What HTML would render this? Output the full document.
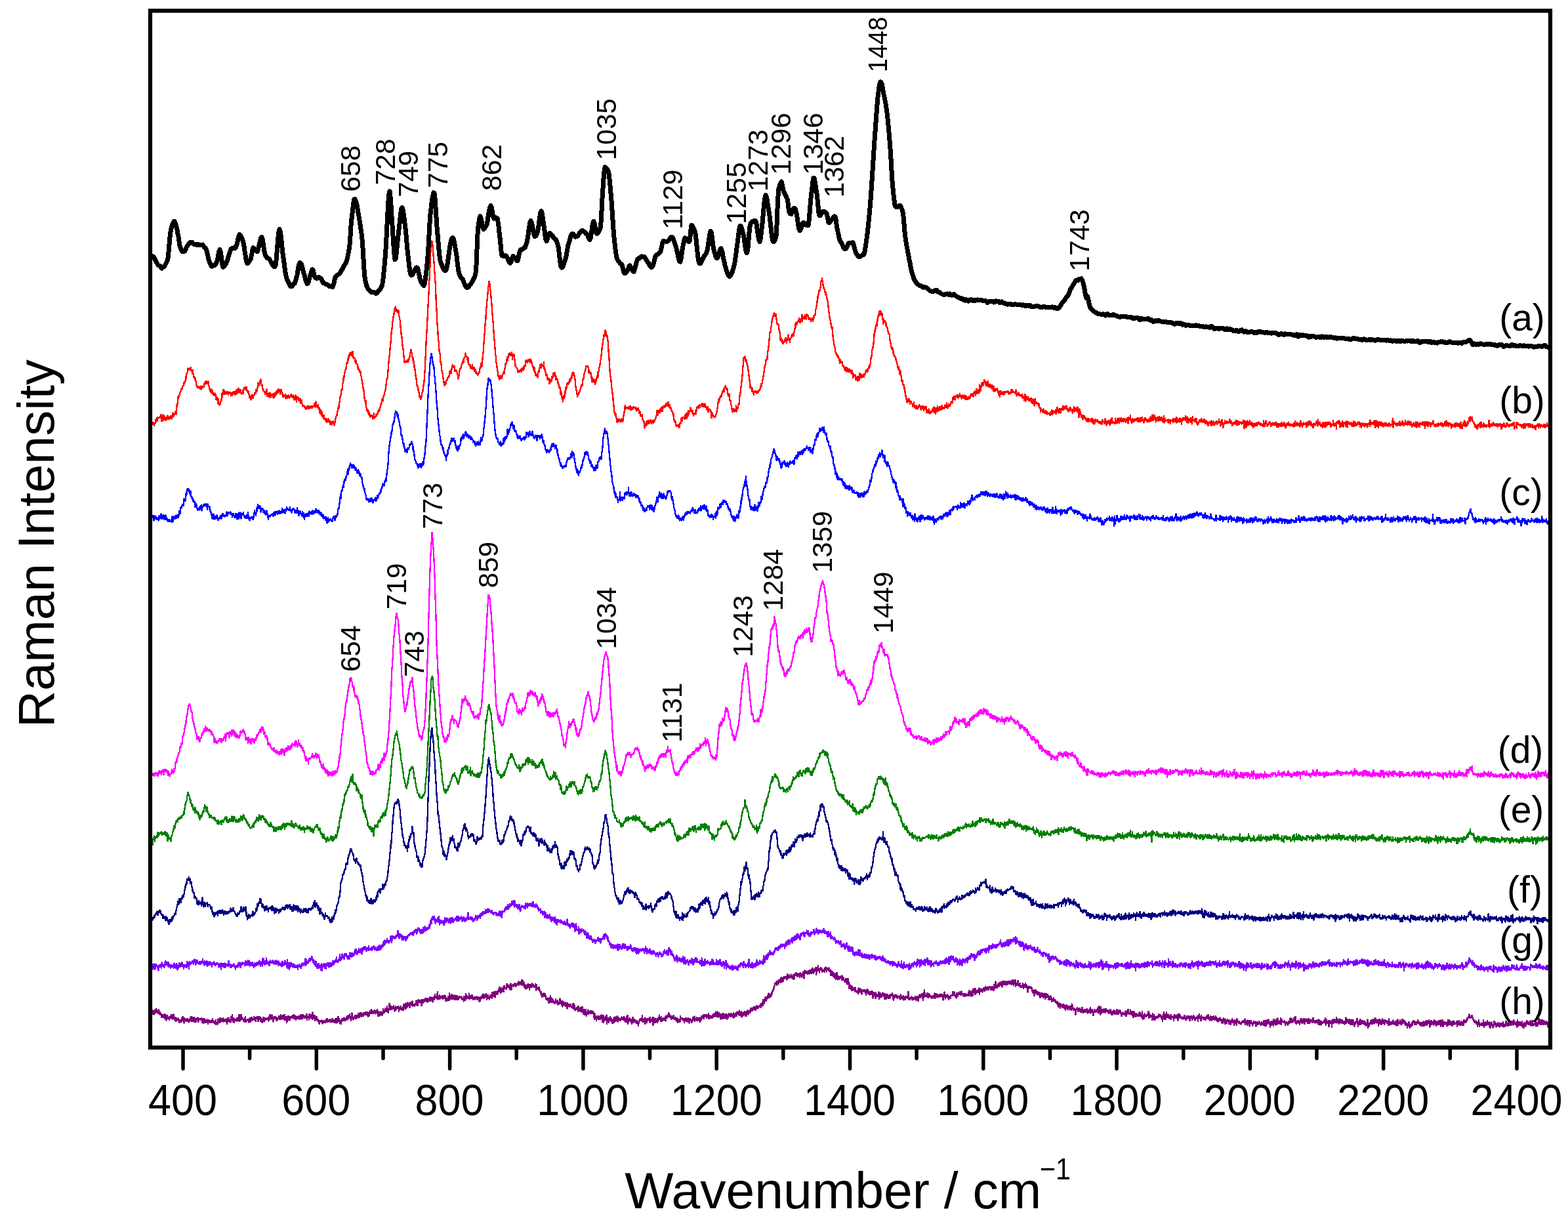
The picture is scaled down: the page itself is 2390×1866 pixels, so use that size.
<!DOCTYPE html><html><head><meta charset="utf-8"><title>Raman spectra</title><style>html,body{margin:0;padding:0;background:#fff;}svg{display:block;}text{font-family:"Liberation Sans",Arial,sans-serif;fill:#000;}</style></head><body>
<svg width="2390" height="1866" viewBox="0 0 2390 1866">
<rect x="0" y="0" width="2390" height="1866" fill="#fff"/>
<path d="M229.0 1541.9l.5 .8 .5-1.2 .5-1.3 .5 1.1 .5-1.2 .5 1.3 .5 4.4 .5-4.4 .5-.3 .5 2.6 .5 2.6 .5-3.5 .5-2.5 .5 2.2 .5 1.8 .5-4.9 .5 2.3 .5-3.4 .5 1.7 .5-1.2 .5 4.1 .5-2.3 .5 4 .5 0 .5-.5 .5-5.3 .5 5.2 .5 1.5 .5 .8 .5-3.5 .5 2.9 .5-.8 .5 .8 .5 4.8 .5-4.1 .5 2.1 .5 2.4 .5-3.3 .5 1.3 .5 .7 .5 0 .5-2.9 .5 3.2 .5 3.2 .5-6.9 .5 5.9 .5-1.6 .5-1.6 .5 6.5 .5-2.8 .5-4.5 .5 3.2 .5 1.4 .5-1.1 .5 1.6 .5-1.8 .5 1.8 .5 1.8 .5-5.1 .5 2.1 .5-1.7 .5 1.3 .5-3.2 .5 1.4 .5-2.6 .5 6 .5 .5 .5-5.9 .5 1.3 .5 3.5 .5-6.2 .5 3.8 .5 1 .5 3.5 .5-1.2 .5-2.1 .5 .2 .5 .6 .5 4.6 .5-4.2 .5 .7 .5 1.9 .5-.8 .5 .2 .5-2 .5 2.9 .5-.9 .5 4.1 .5-1.2 .5-1.6 .5 1.6 .5-2.4 .5 3.2 .5-2.7 .5 1.2 .5-4.7 .5 3.8 .5-5.1 .5-1 .5 3.9 .5-1.6 .5 2.5 .5 4.9 .5-7.4 .5 .5 .5 2.2 .5 .9 .5-1.4 .5 .2 .5 2.5 .5-.2 .5-3.5 .5 2.4 .5 .4 .5-2.5 .5 3.1 .5-2.7 .5 4.4 .5-2 .5-.4 .5-1.8 .5 1 .5-4.7 .5 1.9 .5 3.5 .5-6.1 .5 7.1 .5-6.3 .5 5.9 .5-3.9 .5 3.9 .5-1.6 .5-4 .5 6.7 .5 .5 .5-3.6 .5-.4 .5 .3 .5-1.9 .5 5 .5-3.9 .5 1.1 .5-1.8 .5 .4 .5-1.6 .5 6 .5-3.5 .5 2.7 .5-3.4 .5-.6 .5 .9 .5-.5 .5 1.5 .5-.7 .5 .3 .5-2.4 .5 1.6 .5 5.2 .5-3.1 .5-2.1 .5 3.6 .5 2.7 .5-6.7 .5 3.2 .5-.9 .5-2.6 .5 6.1 .5-1.8 .5 .3 .5-1.9 .5 2.9 .5-.4 .5-1 .5-2.3 .5-.2 .5 6.1 .5-4.4 .5-1.2 .5 2.2 .5-1.1 .5-.3 .5 2.6 .5-2.4 .5 .1 .5 .3 .5 2.6 .5-1.3 .5-.7 .5-2.3 .5-1.9 .5 5.7 .5 .3 .5-2.5 .5 1.9 .5 .9 .5 .3 .5 .4 .5-3.1 .5 4.8 .5-6.6 .5 5.1 .5-.9 .5 .8 .5 2.3 .5-1.1 .5-6.5 .5-1.4 .5 5.9 .5-4.4 .5 2.3 .5 2 .5-6 .5-1.1 .5 5.7 .5-.6 .5-.8 .5 .6 .5-2.3 .5-1.7 .5 3.1 .5-2 .5-1.8 .5 5.1 .5-1.4 .5 1.2 .5-3.3 .5 .8 .5-.8 .5 .3 .5 2.6 .5-2.4 .5 2.7 .5-.1 .5 4 .5-8.3 .5 5.3 .5-2.4 .5 .1 .5-3.5 .5 2.4 .5 2.9 .5-2 .5 .4 .5-.9 .5 3.4 .5-2.9 .5-5.3 .5 3.5 .5-3.1 .5-3.3 .5 6.5 .5 4.3 .5-3.2 .5-3 .5 .5 .5 7 .5-4.5 .5-.4 .5-.2 .5 .2 .5 1.9 .5-.6 .5-.9 .5-3 .5 3.6 .5-3 .5 4.1 .5-5.8 .5 2.5 .5 .1 .5-6.1 .5 10.1 .5-.6 .5-4.7 .5 3 .5-.8 .5-7.1 .5 7 .5-.6 .5 .4 .5-2.7 .5 2 .5 .3 .5 3.2 .5-2 .5-.9 .5 3.7 .5-5 .5 .5 .5-3.3 .5 8.2 .5-1.3 .5 0 .5-.4 .5-1.3 .5 .4 .5-1.1 .5 .1 .5 .6 .5 3.5 .5-2.5 .5-1.6 .5-1.4 .5-.3 .5 5.2 .5-.3 .5-3.6 .5-1 .5-1.8 .5 2.5 .5 2.2 .5-3 .5 .5 .5 0 .5 .8 .5-4.1 .5 3.2 .5-1.6 .5 4 .5-4.2 .5 3 .5 2.1 .5-4.7 .5-.8 .5 1.7 .5-.5 .5-2.4 .5 3.4 .5 3.8 .5-5.3 .5 .2 .5-1.8 .5 3.4 .5-3.5 .5 .5 .5 6 .5-5.1 .5 4.9 .5 1.2 .5-2.8 .5 .7 .5 3.5 .5-5.2 .5-.9 .5-1.9 .5 3.4 .5 3.4 .5-1.3 .5-4.6 .5 .1 .5 .8 .5 1.8 .5-1.4 .5 .9 .5 0 .5-1.6 .5 .4 .5 .4 .5-.9 .5 1.2 .5 3 .5-3.3 .5-1.4 .5-4.3 .5 4.9 .5-5.6 .5 1.3 .5 5.4 .5-.3 .5-2 .5-3.6 .5 3.3 .5-.6 .5 3.3 .5 4 .5-4.7 .5-2.3 .5-.8 .5 2.8 .5-.2 .5-2.3 .5 3.2 .5-3 .5 5.5 .5 0 .5 .1 .5-3.7 .5 2.4 .5-1.7 .5-.7 .5 0 .5-2.5 .5-.5 .5 5.1 .5-2.6 .5-1.3 .5 3.8 .5-6.7 .5 2.1 .5 2.2 .5 .5 .5-1.9 .5 3.3 .5-5.2 .5-.1 .5 .8 .5 4.3 .5-.7 .5-5.6 .5 8 .5-1.7 .5 1.9 .5-4 .5 .3 .5-1.9 .5 8.9 .5-6.5 .5 4.3 .5-5.3 .5 2 .5-4.4 .5 3.1 .5 3.3 .5-5.3 .5 5.5 .5-1.8 .5-3.5 .5 1.2 .5-.1 .5 .8 .5-1.5 .5-.9 .5 1 .5-1.9 .5-.8 .5 2.9 .5 2.2 .5-5.8 .5 3.7 .5-1.5 .5-.6 .5 4.5 .5-3.2 .5 4.9 .5-5.4 .5 2.9 .5-1.4 .5-1.2 .5 3.2 .5-1.8 .5 1.8 .5-1.6 .5-2.5 .5 2.2 .5 2.5 .5-.1 .5-4.5 .5 2 .5-4.1 .5 5.6 .5-4.3 .5 .8 .5 1.5 .5 2.8 .5-6.4 .5 1 .5 .9 .5-.9 .5 3.7 .5-2.8 .5 .2 .5 3.2 .5-3.2 .5 2.8 .5-3.4 .5-.7 .5-1.6 .5 8.7 .5-5.3 .5 1.2 .5-.9 .5 .4 .5-.4 .5 4.5 .5-7.1 .5-1.2 .5 1.3 .5-.7 .5 5.1 .5 .2 .5-4.3 .5-.9 .5 2.5 .5 4.2 .5-10 .5 8.2 .5-3.7 .5 5.3 .5-4.8 .5 2.2 .5-2.6 .5 1.7 .5 6 .5-.9 .5-2.5 .5-.6 .5-2 .5 4 .5 1.4 .5 .4 .5 .4 .5-2 .5 2.9 .5 .4 .5 3.3 .5-.2 .5-3 .5-1.4 .5 1.7 .5-1.3 .5-.3 .5 1.6 .5-2.4 .5 4.1 .5 1.3 .5-2.1 .5-.9 .5-1.2 .5 2.5 .5-1.1 .5-.7 .5 1.9 .5-.6 .5-3.3 .5 3.3 .5-3.5 .5 1.6 .5 .6 .5-4.4 .5 5.1 .5 0 .5-.8 .5-.8 .5 .1 .5-1.5 .5 1.7 .5-.7 .5 1.5 .5-3.2 .5 3.4 .5-.2 .5-2.2 .5 .7 .5 2.3 .5-5.3 .5 5.1 .5-.5 .5 .1 .5 .3 .5-2.5 .5 1 .5 2.1 .5-.5 .5-.6 .5-4.3 .5 4.8 .5 1.4 .5-.5 .5-2 .5-4.4 .5 5.9 .5-2.7 .5-5.7 .5 7.1 .5-4.4 .5 .6 .5 1.8 .5 4.7 .5-3.9 .5 1.6 .5 3.5 .5-.4 .5-4.3 .5-.6 .5-2.8 .5 .9 .5 2.3 .5-.5 .5-1.1 .5 1.8 .5-4.5 .5 1.5 .5 1.8 .5-.3 .5 1.2 .5-1.6 .5-1.7 .5 1.6 .5-3.4 .5-1.7 .5 5.2 .5-1.7 .5 .8 .5-5 .5 3 .5-.7 .5-.8 .5-3.5 .5 4.5 .5 2.9 .5-1.4 .5 3.2 .5-4.4 .5 1.8 .5-8.6 .5 6.3 .5 1.4 .5 .2 .5 2.2 .5-1.6 .5-2.2 .5-.2 .5 .9 .5-3.5 .5 .9 .5 2 .5 2.3 .5-5.3 .5 .1 .5 .5 .5 2.6 .5-3.3 .5 3.7 .5-5.8 .5 1.9 .5 0 .5 2.3 .5 .6 .5-6.1 .5 1.3 .5 2.9 .5-2.5 .5-2.2 .5 6 .5-1.4 .5-.2 .5-2.4 .5 3.5 .5-3.2 .5 3.1 .5-5.1 .5 0 .5 2.2 .5-2.3 .5 3.1 .5-1.2 .5-3 .5 2.3 .5-1.2 .5 2.9 .5-3.8 .5 .4 .5 3.9 .5 2.4 .5-.6 .5-4.8 .5 .3 .5 3 .5-4.1 .5-2.2 .5 2.5 .5 .7 .5-3.2 .5-2.1 .5 .4 .5 4.9 .5-2.7 .5 .7 .5 .8 .5 1 .5-2.4 .5 2 .5-3.4 .5 1.3 .5-1.6 .5 5.1 .5-2.8 .5-1.7 .5 .9 .5 .4 .5 2.3 .5-5.4 .5 1.4 .5 1.6 .5 7.1 .5-3.7 .5-2.5 .5 2 .5 3.3 .5-5.4 .5-.2 .5 3.8 .5-1.7 .5 .4 .5-2.8 .5 5.9 .5-.6 .5-2.8 .5 .2 .5-6.6 .5 6.2 .5-2.2 .5 1.2 .5 .3 .5-2.8 .5-3.6 .5 4.5 .5-3 .5 .6 .5-.9 .5 .3 .5-5 .5 8.3 .5-2.5 .5 1.9 .5 2 .5-4.8 .5-4.5 .5-4.5 .5 5.8 .5 1.7 .5 1.3 .5-5.1 .5 5.5 .5-4.5 .5 4.2 .5-1.2 .5-.6 .5 .4 .5-1.4 .5-.3 .5-2.8 .5 3.8 .5 4.3 .5 .2 .5-1.7 .5-1.6 .5-3.4 .5 5 .5-3.6 .5 0 .5-.5 .5 1 .5-1.2 .5 .8 .5-2.3 .5 1.8 .5 6.4 .5-5.5 .5-.4 .5 1.9 .5 .5 .5-4.4 .5 2.2 .5 2.7 .5-1.7 .5-.4 .5 3.3 .5-3.6 .5-.2 .5-1.6 .5 4.7 .5-8.4 .5 2.9 .5 .2 .5 2.7 .5-.2 .5 1.7 .5-9 .5 7.1 .5-2.7 .5-1.2 .5 2.7 .5-3.8 .5-3 .5 3.8 .5-2.9 .5 1.8 .5 2.2 .5-.3 .5 2.9 .5-4.5 .5-3.4 .5 1.7 .5-.5 .5-.8 .5 3.8 .5-2.6 .5-3.3 .5 7.7 .5-3.2 .5 1.1 .5-.6 .5 1.3 .5-1.4 .5 2.8 .5-2 .5-.1 .5-.1 .5-4.7 .5-1.8 .5 4.1 .5 .8 .5-4.1 .5 6.8 .5-4 .5-3.6 .5-1.5 .5 3.1 .5 .1 .5 1.6 .5-1.6 .5-1.9 .5 2.7 .5-3.1 .5 1.6 .5 6.5 .5-.2 .5-8.6 .5 1.4 .5-.8 .5 4 .5-4.6 .5 1.7 .5 1.2 .5-2.2 .5 0 .5 1.2 .5-4 .5 1.5 .5 2.3 .5 1.2 .5-1.1 .5-4 .5 2.8 .5 2.8 .5-1 .5-1.8 .5-2.4 .5 3.3 .5-3.4 .5-1.8 .5 .5 .5 5.1 .5-3.3 .5 2 .5-4.1 .5 3.3 .5 1.5 .5-4.3 .5 6.4 .5-4.1 .5-3.1 .5 1 .5 .9 .5 1.9 .5-4.3 .5-3.3 .5 3.2 .5 .4 .5-.2 .5 2.5 .5-2.7 .5 .9 .5-4.7 .5-3.6 .5 11.1 .5-3.1 .5-1.2 .5 0 .5 4.1 .5-6.2 .5 2.2 .5 1.7 .5 1 .5-2.6 .5 2.1 .5-1.3 .5 1.1 .5-.6 .5-2.5 .5 2.6 .5 2.1 .5-2.9 .5-.1 .5 2.1 .5-4.3 .5 3.1 .5-2.9 .5 5.4 .5 3 .5-.4 .5-4.1 .5 1.6 .5-1.3 .5 .1 .5 3.6 .5-6.8 .5 5.6 .5-2.7 .5 3.3 .5-11.4 .5 6.2 .5 2.1 .5 1.1 .5-1.8 .5 1 .5-2.4 .5-3.9 .5 7.2 .5-.5 .5-1.4 .5-.2 .5 2.2 .5-5.6 .5 1.4 .5 1.2 .5 3.4 .5-6.2 .5 6.3 .5-4.3 .5-1.1 .5 5.7 .5-3.2 .5-2.9 .5 2.3 .5 3.1 .5 .6 .5-4 .5 2 .5 .7 .5-3.3 .5 2.3 .5-.9 .5-1.3 .5 .2 .5 1.3 .5 0 .5-1.3 .5 .3 .5 3.8 .5-2.1 .5 1.4 .5 .9 .5-1.5 .5 3.9 .5-7.6 .5 3.7 .5-3 .5 5 .5-.5 .5-8.9 .5 2.3 .5 3.9 .5 .3 .5-.1 .5-2 .5 1.3 .5 .5 .5-1.7 .5 2.8 .5-7.8 .5 7.1 .5-3.9 .5 5 .5-2.8 .5-1.4 .5 3.1 .5-3 .5 .1 .5-1.6 .5 3.7 .5 1.3 .5 1.2 .5-2.9 .5 2.8 .5-2.4 .5-.3 .5 1.6 .5 1.3 .5-3.3 .5 .4 .5 .3 .5 .8 .5-2.3 .5 4.8 .5-3.3 .5 2.1 .5-3 .5 2.8 .5 .1 .5-2 .5 5.7 .5 .1 .5-.8 .5-2 .5-4 .5 .6 .5 2 .5-1 .5-2.3 .5 1.4 .5-3.8 .5 3.7 .5-4.9 .5 6.1 .5-2.7 .5-.1 .5 1.1 .5 1.1 .5-4.2 .5-.9 .5 1.6 .5-2.4 .5 2.6 .5 6.1 .5-6.3 .5 4.2 .5-4.9 .5 4 .5-1.5 .5 .6 .5 1.4 .5 2.7 .5-3.9 .5-.4 .5-2.8 .5 3.5 .5-2.2 .5 2.3 .5-2.3 .5 3.9 .5-9.2 .5 3.7 .5 2.5 .5-3.4 .5-1.4 .5 .9 .5-3.1 .5 3.3 .5 5.2 .5-3.4 .5-5.6 .5 .3 .5 .8 .5 3.1 .5-4.6 .5 0 .5 4.1 .5-1.1 .5-3.4 .5-2.2 .5-1.4 .5 1.6 .5-4 .5 6.9 .5-3.6 .5 2.4 .5 3.2 .5-1.9 .5-5.6 .5 4.8 .5 .6 .5-4.7 .5-.6 .5 1.9 .5-3.8 .5 7.1 .5-8.5 .5 1.8 .5 1.6 .5-.2 .5 .6 .5-.1 .5-1.5 .5 3 .5-8.2 .5 4.9 .5-2 .5 1.8 .5 0 .5-3 .5 .5 .5 3.2 .5-1.2 .5-2.6 .5 6.3 .5 .5 .5-9.2 .5 4.2 .5 5.2 .5-4.2 .5-1.4 .5-1 .5-.8 .5 .8 .5-.8 .5 3 .5-2.8 .5-.2 .5-2 .5 2.6 .5-2.2 .5 1.4 .5 2.7 .5-1.9 .5 0 .5-.7 .5-1.1 .5-.7 .5-.7 .5 2.3 .5-4.5 .5 5.7 .5-3.2 .5-2 .5 .6 .5-.5 .5 2.1 .5-2.1 .5 4.5 .5-5.4 .5-2.4 .5 3.9 .5-2.9 .5 5 .5 2.9 .5-.7 .5-4.5 .5 1.6 .5 6.3 .5-3.3 .5-.6 .5 2.7 .5 3.5 .5-2.6 .5-2.6 .5 .7 .5 3.4 .5-5.4 .5-.9 .5 2.7 .5-2.3 .5 2.2 .5 .4 .5 5.4 .5-7.6 .5 1.7 .5-.1 .5 1.4 .5 1.4 .5-3.8 .5-.8 .5-2 .5 1.8 .5 3.6 .5-1.1 .5-2.4 .5 1.8 .5 1.2 .5 1.4 .5-2.3 .5 1.1 .5-3.4 .5 2 .5 7.1 .5-8.8 .5 4.9 .5 1.7 .5-1 .5-.6 .5 2.2 .5 .5 .5 .3 .5-3.9 .5 4.7 .5-1.2 .5 1.2 .5 2.4 .5 1.5 .5 1.2 .5-2.7 .5 4 .5 3.9 .5-2.3 .5 1.1 .5-3.1 .5 .4 .5 2.9 .5-4.7 .5 4.2 .5-1.2 .5 .9 .5-2.7 .5 2.6 .5 2.6 .5 2.8 .5 .7 .5-2 .5 .2 .5-1.1 .5 3.5 .5-1.2 .5 2.4 .5 3 .5-4.1 .5-3.4 .5 1.6 .5-1.5 .5-3.1 .5 9.6 .5-2.6 .5-4.2 .5 5.2 .5 1.6 .5-3.8 .5-.6 .5 1 .5 1.7 .5 1 .5 1.5 .5 .3 .5 .2 .5 .6 .5-1.5 .5-5.1 .5 3.5 .5 1.2 .5-1.5 .5 3.2 .5-3 .5-1.3 .5 5.8 .5-1.8 .5-1 .5 1.8 .5 .4 .5-1.7 .5-6.7 .5 4.4 .5 .6 .5-1.1 .5 3 .5 2.6 .5-3.8 .5-1.4 .5 7.8 .5-5.7 .5-1.7 .5 3.7 .5 .6 .5-2.6 .5 3.6 .5-3 .5-1 .5 5.9 .5-1.8 .5-3.3 .5 2.4 .5-.9 .5 7.1 .5-8.3 .5 5.1 .5-3.3 .5-.1 .5 2.2 .5 .6 .5 1.1 .5-4.1 .5-.2 .5 .3 .5 2.7 .5 .2 .5 2.1 .5-2.2 .5 1.7 .5 1.3 .5-3 .5-3.7 .5 1.1 .5-.3 .5 7.6 .5-5.5 .5 5.4 .5-1.1 .5 3.1 .5-1.4 .5-2.3 .5 0 .5 .9 .5 .4 .5-1.5 .5 1.4 .5 4 .5-7.8 .5 4.8 .5-2.6 .5 2.8 .5 1.7 .5-1.9 .5 2.2 .5-5.4 .5 6.8 .5-3.9 .5 3.3 .5-.7 .5-6.3 .5 4.7 .5 2.6 .5 3.5 .5-2.8 .5 .1 .5-3.8 .5 6.9 .5 1 .5-4.2 .5-.5 .5-3.4 .5 6 .5 4.3 .5-4.8 .5 1.3 .5-1.8 .5-3.7 .5 5.6 .5-6.1 .5 2.5 .5 1.3 .5 1.6 .5-1 .5 .2 .5-2.5 .5-1 .5 3.6 .5-1.5 .5-1.7 .5 1.1 .5 2.3 .5-2.8 .5 1.7 .5-.3 .5 4.9 .5 1 .5 4.4 .5-7.9 .5 2.5 .5 4.3 .5-2.2 .5 .1 .5 5.3 .5-4.6 .5-1.7 .5-.2 .5 4.1 .5 0 .5-4 .5 .9 .5 3.6 .5 0 .5-3 .5 3 .5-.2 .5-5.7 .5 3.5 .5 1.8 .5-2.2 .5-3.6 .5 4.6 .5 5.9 .5-1.1 .5-9 .5 11.6 .5-8.9 .5 5 .5 .7 .5-.6 .5-2 .5-3.1 .5 4.4 .5-3.1 .5-4.2 .5 12.9 .5-4.9 .5 2.8 .5-6.3 .5 5.9 .5 .5 .5 .1 .5-3.6 .5-2.7 .5 3 .5-5.2 .5 1.3 .5 4.3 .5-2.6 .5 1.9 .5 .1 .5 4.9 .5-1.7 .5-3.4 .5 4.6 .5-6.7 .5 .9 .5 5 .5-7.7 .5 2.1 .5-2.7 .5 3.2 .5 3.4 .5-5.9 .5 2.2 .5-2.9 .5-.7 .5-.2 .5 6.4 .5 2.3 .5-4.3 .5-2.7 .5 3.7 .5-2.2 .5 3 .5-.9 .5 .1 .5 1 .5-2.7 .5 .5 .5-3.2 .5 3 .5-2.4 .5 2.9 .5-2.1 .5 2.3 .5 .7 .5-4.6 .5 3.1 .5-2.2 .5 4.1 .5 2.3 .5-2 .5-2.7 .5 4.5 .5-7 .5 7.5 .5-5 .5-4.8 .5 13.2 .5-2.3 .5-6.1 .5 3 .5-.9 .5 .9 .5-3.8 .5 2 .5 2.7 .5-.5 .5 2.3 .5-2.7 .5 5.4 .5-7.4 .5 2.4 .5-5.2 .5 1.7 .5 6.3 .5-5.3 .5 3.7 .5-1.2 .5-2.1 .5 2 .5-.1 .5 .3 .5 3.3 .5-.1 .5-2.8 .5-.8 .5 2.8 .5-1.1 .5 2.5 .5 3.5 .5-6 .5-1.1 .5-.7 .5-2.1 .5-.4 .5-.6 .5 1.1 .5-.3 .5 2.5 .5-3 .5 .2 .5-5.1 .5 9.3 .5-2.8 .5 3.1 .5-2.3 .5 1.9 .5-3.9 .5 2.6 .5 5.1 .5-9.1 .5 6 .5 1.4 .5-3 .5 .9 .5 1.1 .5-4.8 .5 2.4 .5-3.3 .5 .2 .5 0 .5 1.1 .5 .6 .5 2.7 .5-6.6 .5 8.4 .5-2 .5-.9 .5-2.5 .5 .9 .5 1.8 .5-.2 .5-4.9 .5 6 .5 5.4 .5-11.7 .5 6.9 .5-1.6 .5-1.3 .5 3.6 .5-6.3 .5 3.2 .5 3.2 .5-4.2 .5-.6 .5 1.3 .5-1.4 .5 4.8 .5-6.2 .5 4.3 .5-5.3 .5 4.5 .5-2 .5-6.4 .5 6.2 .5-2.9 .5 1.4 .5 4.7 .5-6.7 .5 0 .5 6 .5-3.4 .5 3.4 .5-3.1 .5-.9 .5-.2 .5 3.1 .5-.7 .5-2.4 .5 .1 .5-.5 .5-1.3 .5 6 .5-4.9 .5-3.1 .5 1.2 .5 2.6 .5-.6 .5-2.3 .5-1.7 .5 1.4 .5-4.6 .5 .7 .5 5 .5-3.2 .5 2.1 .5 2.2 .5-1.2 .5-1.2 .5 5.5 .5-3.2 .5-2 .5 3.2 .5-.2 .5-2.5 .5 2.9 .5 0 .5-4 .5 4.9 .5 .1 .5-.1 .5-2.7 .5 3.3 .5 .9 .5 .4 .5-2.9 .5 4.4 .5-4.5 .5 2.5 .5 3.8 .5-4.9 .5 .4 .5 3.9 .5-3.7 .5 .2 .5 1.1 .5 2 .5-8.2 .5 3.3 .5-.6 .5-.2 .5 .5 .5 0 .5 2.9 .5-3 .5 2.6 .5 .6 .5-2.7 .5 2.2 .5 3.7 .5-3.3 .5-2.4 .5 1.5 .5-2.2 .5 3 .5 1.4 .5-4.1 .5 1.4 .5 3.3 .5-4 .5 1.7 .5-3 .5 .5 .5 .7 .5 6.4 .5-6.3 .5-.3 .5-.2 .5 .9 .5 2 .5-1.1 .5 4.6 .5-4.4 .5 3 .5-2.7 .5 .8 .5-4.9 .5 3.2 .5 .1 .5-.4 .5-4.6 .5 7.3 .5-3 .5-.2 .5 .5 .5 0 .5 1.6 .5-4.1 .5 .8 .5 4.1 .5-1.5 .5-1.3 .5-.6 .5-.6 .5 1.7 .5 3 .5-5.5 .5 6.1 .5-1.7 .5-3.6 .5 3.3 .5-5.6 .5-.8 .5 .9 .5 1.9 .5 0 .5-.7 .5 1.2 .5-5.6 .5 6 .5-4.8 .5 1.5 .5 .3 .5-2.1 .5-.7 .5 .7 .5 2.3 .5 1.3 .5-.1 .5-3.8 .5 .5 .5 2.3 .5 .8 .5-6 .5 7.8 .5-4.1 .5-.8 .5 2.5 .5 1.6 .5-1.8 .5 1.5 .5-2.4 .5 2.5 .5-.1 .5-3.3 .5 3.5 .5-3.2 .5-.3 .5-2.5 .5 1.4 .5 2.4 .5-5.1 .5 4.7 .5-.7 .5-.1 .5-6 .5 5.2 .5 1.8 .5-3.3 .5 2.2 .5-5.9 .5 7.3 .5-3.1 .5 3.6 .5-6.5 .5 6.1 .5-2.2 .5 2.4 .5-4.1 .5 .7 .5 6.9 .5-7.3 .5 .4 .5 1.1 .5-1.7 .5 5.4 .5 1.5 .5-5.7 .5-2.3 .5 7.1 .5 0 .5-.7 .5 .9 .5-4.8 .5 1.6 .5-3 .5-.2 .5 5.6 .5-4.2 .5 6.8 .5-5.5 .5-2 .5 3.2 .5 2.2 .5-3.3 .5-4.1 .5 3.8 .5-1.3 .5-.8 .5-.6 .5 4.4 .5-2.1 .5-2.9 .5 1.8 .5-.9 .5 2.6 .5-.4 .5 2.4 .5-.2 .5-6.4 .5 4.6 .5 2.7 .5-2.7 .5 1.2 .5-3.9 .5-1.1 .5 4.3 .5-5 .5-.5 .5 5.1 .5-4.3 .5-1.5 .5-.3 .5 .1 .5 .4 .5 1.9 .5 1.9 .5-6.4 .5 7.4 .5-4.6 .5 .2 .5 4.2 .5-1.9 .5-3.6 .5 8 .5-6.7 .5 2.5 .5-.3 .5 2.7 .5-4.7 .5 3.3 .5-4.4 .5 4.3 .5-4.7 .5 .9 .5 5.3 .5-3.9 .5-.6 .5 5.1 .5-4.5 .5-2.9 .5 3.7 .5-4.7 .5 5.5 .5 .1 .5-4.4 .5-.3 .5 1.8 .5-.7 .5-2.6 .5 3.4 .5-6.6 .5 3.4 .5-.3 .5 0 .5 1 .5-4 .5 4 .5-2.2 .5-1.4 .5-2 .5 .1 .5 3.3 .5-3.5 .5 2.1 .5 2 .5-.4 .5 .9 .5-4.8 .5-2.3 .5 4.8 .5-4 .5 3.6 .5-2.9 .5 2.7 .5-1.1 .5-.5 .5-.7 .5-.5 .5-.7 .5-.3 .5 1.5 .5-4 .5 4.9 .5-4.9 .5 2.1 .5-3.2 .5-1 .5 4.8 .5-6.4 .5-3.1 .5 .5 .5 .2 .5 5.2 .5-5.3 .5 1.1 .5-5.1 .5 2.8 .5 .4 .5 2.5 .5-6.2 .5 2.9 .5-.9 .5-3.5 .5 2.1 .5-.9 .5-5.4 .5 6.5 .5-.7 .5-3 .5-1.7 .5 5 .5-3.6 .5 1.2 .5 .3 .5-5.5 .5 2.4 .5-3.6 .5-.6 .5-1.3 .5-1 .5 1.4 .5-3.7 .5-2 .5-1.5 .5 .3 .5-4.1 .5 0 .5 .2 .5-1.9 .5 .5 .5-1.8 .5 5.7 .5-2.1 .5-2.7 .5-1.7 .5 4.9 .5-4.9 .5-1.4 .5 .6 .5-.3 .5 2.4 .5-3.6 .5 5 .5-7.3 .5 3.8 .5-4.1 .5 6.8 .5-5.1 .5 .7 .5 2.3 .5 .7 .5-5.8 .5 1.7 .5-2.8 .5 3.4 .5-.9 .5-1 .5-1.2 .5 .4 .5-1.2 .5 2.8 .5 2.1 .5-8.5 .5 4.3 .5-.9 .5 2.1 .5-3.5 .5 1.9 .5-2.1 .5 4.2 .5-1.4 .5-.6 .5 1.3 .5-1.4 .5-3.1 .5 5.1 .5-.7 .5-2.2 .5 3.8 .5 .5 .5-5.7 .5 .6 .5 5.4 .5-.5 .5-5.5 .5-1.3 .5 .9 .5 .1 .5-2.8 .5 3.6 .5-3.3 .5 .1 .5 5 .5-3.9 .5 1.5 .5 1.6 .5 .3 .5-.1 .5-1.9 .5-2.3 .5 6.1 .5-2.8 .5-4.3 .5 2.6 .5 1.6 .5-.6 .5 3.3 .5-1.1 .5-4.5 .5 1.1 .5-2.9 .5 3.6 .5-.4 .5 5.9 .5-6.5 .5-5.5 .5 3.1 .5 1.6 .5-3.6 .5 .8 .5 1 .5 1.6 .5-1.2 .5-1.7 .5 4 .5-3.2 .5 .2 .5-2.2 .5 1.3 .5 3.3 .5-5.6 .5 3.4 .5 1.6 .5-2.9 .5 1.1 .5-3.5 .5 5.5 .5-.8 .5-2.3 .5-5 .5 2.7 .5 3.5 .5 1.6 .5-3.6 .5 2.1 .5-4.6 .5 .8 .5 .3 .5 .9 .5-4.8 .5 11.1 .5-4.4 .5-6 .5-.6 .5 4.1 .5-2.5 .5-4.2 .5 7.6 .5-1.6 .5-1.6 .5 6.2 .5-4.8 .5-2.2 .5 2 .5-2.7 .5 .7 .5 2.7 .5-2.2 .5 .2 .5 5.1 .5-1.9 .5-.1 .5-.7 .5-.1 .5 2.3 .5-3.5 .5 4.5 .5-6.8 .5 1.7 .5-2.7 .5 2.5 .5 2.1 .5 2.3 .5-4.9 .5 1.7 .5-.6 .5-.7 .5-.8 .5 3.4 .5-3.9 .5 4.8 .5 .2 .5-1.1 .5-.4 .5-.4 .5 8.2 .5-7.3 .5 7.3 .5-2 .5-2 .5-1.6 .5 5.6 .5 2 .5-6.1 .5 1.9 .5 3.6 .5-1.4 .5 4.3 .5-5.8 .5 3 .5-4 .5 8.4 .5-6.6 .5-3.3 .5 5.3 .5 .1 .5 5.1 .5-5.3 .5 .9 .5 1.6 .5 2.5 .5-3.8 .5 2.7 .5-1.1 .5-1.8 .5 1.1 .5 .1 .5-2.1 .5 5.4 .5-6 .5 6.5 .5-.2 .5-2.1 .5-1.3 .5 1.8 .5 2.1 .5 1.1 .5-.7 .5 2.1 .5-3.2 .5 2.3 .5-3.8 .5 6 .5-1 .5-.9 .5 4.3 .5-.7 .5-7.9 .5 7.3 .5-3 .5 6.6 .5 4 .5-6.5 .5 2.1 .5-.1 .5 2.1 .5 1.4 .5 2.2 .5-4.9 .5 6.7 .5-5.5 .5 3.3 .5 2.6 .5-.7 .5-3.7 .5 .8 .5 .8 .5 1.1 .5 3 .5-5.9 .5 4.3 .5 .4 .5 0 .5 0 .5 2.7 .5-2.2 .5 1.2 .5-.5 .5 3.3 .5-8.6 .5 7.9 .5-3.4 .5 .1 .5-1.4 .5-2 .5 3.6 .5-.6 .5 2.8 .5-4.7 .5 6.9 .5-2.8 .5-1.3 .5-1.2 .5-.2 .5-.8 .5 1.5 .5 1.4 .5-.4 .5-2.9 .5 2.8 .5-1.4 .5 2.6 .5 4.1 .5-2.9 .5-2.2 .5-3.1 .5 .5 .5-.6 .5 5.9 .5-3.5 .5 2.1 .5-1.5 .5 1.8 .5 3.3 .5-4.9 .5 1 .5-1 .5 4.2 .5-4.4 .5-.1 .5-.4 .5 .2 .5 4.7 .5 5.3 .5-8.3 .5 5 .5-1.4 .5-2.9 .5 2.2 .5 .4 .5-.9 .5 6.5 .5-9.1 .5 5.5 .5 0 .5-2.2 .5 1.7 .5 1.8 .5-1.8 .5 .6 .5 .6 .5-6.5 .5 8.4 .5 1.9 .5-3 .5 .1 .5-5.7 .5 3.2 .5-1.5 .5 .6 .5 3.8 .5-4.2 .5 1.7 .5-4.3 .5 4.2 .5 .5 .5-1.9 .5-.1 .5 6.3 .5-7.5 .5 .4 .5 .6 .5 4.8 .5 2.2 .5-4.2 .5-2.4 .5 .7 .5 3.6 .5-4.7 .5 5.7 .5 0 .5-3.3 .5 1.4 .5 .2 .5 1.8 .5-5.3 .5 4.3 .5-3.7 .5-1 .5 2.1 .5-.7 .5-1.7 .5-1.4 .5 1.7 .5 5.9 .5 1.3 .5 1.9 .5-3.5 .5-4 .5 1.2 .5 .9 .5-3.2 .5 .3 .5 2.6 .5-.9 .5-1.8 .5 3.6 .5-1.5 .5 3.1 .5-2.4 .5-.6 .5 1 .5-.6 .5-1.1 .5 .7 .5 2.8 .5-.1 .5 1.6 .5-7.1 .5 6.4 .5-3.1 .5 1.5 .5-1.4 .5 0 .5 3.3 .5-1.3 .5-3.2 .5 6.1 .5-.7 .5-3.8 .5 3.4 .5-3.8 .5 4.4 .5-3.2 .5-1.5 .5 1 .5-1 .5 2.2 .5-.1 .5-.3 .5-1.5 .5-7.4 .5 9.1 .5 2.6 .5-2 .5 2.3 .5-1.9 .5-1.5 .5 .6 .5 .1 .5-.9 .5-.1 .5-.8 .5 5 .5-2.9 .5 2.4 .5-3 .5 .7 .5-.7 .5 1.4 .5 .7 .5-1.6 .5-2.3 .5-.4 .5 5.7 .5-4.7 .5-.1 .5 4.2 .5-1 .5-1.4 .5-2.3 .5 6.5 .5-4.8 .5 .3 .5-1.8 .5-3.1 .5 .1 .5 4 .5-.2 .5-1.7 .5-2.4 .5-.8 .5 2.5 .5-2.8 .5 5.7 .5 .3 .5 3.8 .5-4.8 .5-3.7 .5-.9 .5-6.4 .5 6.6 .5 .8 .5 2.6 .5-1.1 .5-.1 .5-1.1 .5 1 .5 2 .5-6 .5 1.6 .5 1.8 .5 3.7 .5-.5 .5-1 .5-4.3 .5 3.6 .5-.6 .5 1 .5-.4 .5 1.9 .5-2.1 .5 3 .5-1.5 .5-1.3 .5 .4 .5-.8 .5 2.9 .5-2.6 .5 1.3 .5-1.6 .5-3.9 .5 7 .5-4.7 .5 4.2 .5-.7 .5-5 .5 1.6 .5 .9 .5-.9 .5-1 .5 4.5 .5-2.5 .5 1.4 .5-2.1 .5 1.7 .5-2.6 .5 1.8 .5 1.4 .5-1.3 .5-1.2 .5-1.4 .5 3 .5 .5 .5-1.4 .5-1.1 .5 3.2 .5 4.6 .5-6.6 .5 1.5 .5 .2 .5-7 .5 6.5 .5-1.8 .5 5.2 .5-3.8 .5-1.1 .5 1.6 .5 1 .5-1.6 .5 1.2 .5-3.2 .5 2.6 .5 2.2 .5 2.7 .5-3.3 .5-1.3 .5 2 .5-.6 .5 1.3 .5-1.6 .5-3 .5 .8 .5-.3 .5 .3 .5-.4 .5-2.5 .5-3.3 .5 3.4 .5-3.4 .5 5 .5-.2 .5-4.1 .5 5.7 .5 .4 .5-1.8 .5 3.8 .5 .5 .5-7.4 .5 5.4 .5-1.5 .5-.1 .5 1.1 .5-5.2 .5 1.3 .5-.7 .5 .1 .5 1.4 .5-3.3 .5 1 .5 3.8 .5-1.5 .5 1.1 .5-5.4 .5 2.7 .5 .6 .5 1.5 .5-1.5 .5 3.6 .5-2.4 .5 .2 .5-.1 .5 2.5 .5-3.8 .5 3.8 .5-1.6 .5-.8 .5-.4 .5 1.1 .5 1.1 .5-.3 .5-1.5 .5 1.1 .5-2 .5 2.6 .5-3.2 .5-5 .5 8.1 .5-3.1 .5-3.2 .5 2.2 .5-1.7 .5 7.1 .5-3.9 .5-3.8 .5 3.7 .5-2.4 .5 5.4 .5-7.3 .5-3 .5 5.3 .5-1.2 .5-.4 .5-4.4 .5 5.9 .5 2.8 .5-8.9 .5 7.2 .5-4.4 .5 3.1 .5-1 .5-1.6 .5 3.1 .5-1.4 .5-2.6 .5 3.2 .5-2.9 .5-3 .5 9.2 .5-5.7 .5-.7 .5 2.2 .5-3.8 .5-.5 .5 1.8 .5-.3 .5 1.3 .5 2.2 .5-4.1 .5 2.1 .5-.6 .5-3.6 .5 2.9 .5-3.1 .5 4.6 .5-1.6 .5-1.3 .5-3.4 .5 3.3 .5-2.3 .5 3.4 .5-2.1 .5-1.8 .5 4 .5-.7 .5-3.3 .5 4.2 .5-3.7 .5-.1 .5 .9 .5-2.2 .5 .6 .5 .6 .5 3.9 .5-.2 .5-4.3 .5 4.3 .5-4.1 .5 .9 .5 1.1 .5-1.5 .5 5 .5-5.3 .5-3.6 .5 5.9 .5-4.3 .5 .1 .5-6.6 .5 9.3 .5-.7 .5-.3 .5 .2 .5 1.5 .5-4.4 .5 2.1 .5-4.2 .5 .8 .5 3.3 .5-1.7 .5-4.1 .5 4 .5-1.4 .5-1.6 .5 2.9 .5-2.2 .5-2.9 .5 .9 .5 6.7 .5-8.1 .5 4 .5 .7 .5-.1 .5-4.7 .5 2.1 .5 1 .5 1.5 .5-3.6 .5-1.2 .5 5.2 .5 .2 .5-1.8 .5-2.3 .5 2.4 .5-.7 .5 1.7 .5-5 .5 3.3 .5-.6 .5-2.2 .5 3.2 .5-.4 .5-1.1 .5 1.9 .5-4.4 .5 3.2 .5 1 .5-.5 .5 1.6 .5-5.6 .5-1 .5 4 .5 .3 .5 3.9 .5-3.7 .5-3.6 .5 4 .5-3.9 .5-1.4 .5 9.9 .5-5.4 .5 1 .5-.3 .5 3.2 .5-3.5 .5 2.4 .5-4.9 .5-.7 .5 7.1 .5 .5 .5-1.9 .5-.3 .5 .3 .5-1.7 .5 5.6 .5-1.9 .5-.2 .5-.2 .5 1.7 .5-1.3 .5 .6 .5-4.6 .5 4.1 .5 4 .5-6.3 .5 1 .5 2.6 .5 .4 .5-.6 .5-5.2 .5 5.4 .5-3.8 .5 1.1 .5 3.6 .5-1.7 .5 3 .5 5.9 .5-5.4 .5 .2 .5-3.6 .5 .9 .5-.7 .5 1.5 .5-1.1 .5 1.4 .5 1.4 .5-1.5 .5-.6 .5 .6 .5 4.8 .5-.5 .5 2.8 .5 .5 .5-2.8 .5 2.8 .5-4.7 .5 9.3 .5-2.4 .5-3.2 .5-2.1 .5 3.8 .5-5.3 .5 2.7 .5 3.8 .5-1.5 .5-1.2 .5 3.8 .5-4.5 .5 3.5 .5-1.5 .5-.6 .5 4.2 .5-4 .5 7.3 .5-5.7 .5 6.3 .5-7.2 .5 4.3 .5-4.2 .5-.2 .5 3.7 .5 1.4 .5-4.5 .5 6 .5-4.6 .5 2.4 .5 .8 .5 .7 .5-5.6 .5 8.3 .5-2.5 .5-2.3 .5-1.4 .5-1.6 .5 .9 .5 4.6 .5-2 .5-1.8 .5 1.6 .5 5.3 .5-4.3 .5-.3 .5 5 .5-1.8 .5-.5 .5-1.1 .5-2.1 .5 1.7 .5 2.2 .5 4.3 .5-1.3 .5 .9 .5-.3 .5 .3 .5-2.6 .5-2.5 .5 4.2 .5 .8 .5-.6 .5 1.1 .5-2.4 .5 .9 .5 2.7 .5 .8 .5-1.5 .5 3.1 .5-1.4 .5-1.6 .5 2.9 .5 4.8 .5-5.8 .5 4.7 .5 .8 .5 .6 .5-5.4 .5 6.9 .5-4.4 .5-.8 .5 .2 .5 2.1 .5-1.2 .5-.3 .5 3.7 .5-4.5 .5-.4 .5 4.7 .5 .2 .5 1.2 .5-4.9 .5 5.5 .5-1.2 .5 3.3 .5-7.1 .5 3.7 .5-1.1 .5-3 .5 2.1 .5 4.5 .5-3.9 .5-.5 .5 3.7 .5 .3 .5-.1 .5-4.2 .5 1.7 .5 2.6 .5-4 .5-.2 .5 3.9 .5 1.9 .5-6.4 .5-3.2 .5 3.1 .5 1.4 .5 2.5 .5 2.3 .5-1.4 .5-.9 .5 2.5 .5-2.4 .5 2.4 .5-1.3 .5 8 .5-4.4 .5-4 .5-.5 .5 1.2 .5-3 .5 2.1 .5-.1 .5 3.9 .5-3.2 .5-.8 .5-1.3 .5 .5 .5 2.8 .5-.3 .5 3.3 .5-4.1 .5 4.1 .5-1.8 .5-.5 .5-4.8 .5 1.7 .5 4.9 .5 1.6 .5-2.9 .5 1.2 .5-2.9 .5 .1 .5-.8 .5 3.8 .5-1.6 .5-1.4 .5-.3 .5 2.1 .5-.5 .5-2.7 .5 6.5 .5-3.8 .5-.5 .5 3.7 .5-1 .5-2.6 .5 1.7 .5-3.8 .5 1.2 .5-3.8 .5 8.5 .5-4.3 .5 3.1 .5-3.5 .5-.4 .5 1.9 .5 1 .5 .8 .5 5.1 .5-5.9 .5 1.1 .5-3.7 .5 3 .5-1.5 .5 2.2 .5-2.9 .5 0 .5 .7 .5 .5 .5-2.1 .5-.5 .5 3.5 .5-5.8 .5 2.7 .5 5.2 .5-10.2 .5 4.9 .5 3.4 .5-5.5 .5 10.2 .5-12.5 .5 9.8 .5 .3 .5-1.5 .5-2.8 .5 1.3 .5-3 .5 4 .5-4.6 .5 2.1 .5 3 .5-4.4 .5 1.2 .5 1.3 .5-3.6 .5 6.1 .5-1.9 .5-4.4 .5 3.7 .5-1.7 .5 .4 .5 1.8 .5-1.8 .5 4.2 .5-4 .5 4.2 .5-2.5 .5 2.2 .5-3.4 .5 .1 .5-1.7 .5 4.1 .5 .7 .5 2.7 .5-2 .5-2.6 .5 4.8 .5-4.4 .5-.9 .5 3.8 .5-1.3 .5-4.1 .5 .6 .5 5.1 .5-2.3 .5-1.1 .5 3.6 .5-3.6 .5 .5 .5-.3 .5-3.5 .5 6.9 .5-4.9 .5 1.7 .5-.4 .5 3.6 .5-1.9 .5 .2 .5-4 .5 3.8 .5-3.3 .5 4.2 .5 .1 .5-.9 .5 4.9 .5-3.7 .5 .1 .5-1.1 .5-.8 .5 2.8 .5 .3 .5-.7 .5 .8 .5-1.1 .5 1.1 .5-1.1 .5-3.9 .5 .2 .5 7.3 .5-3.8 .5-4 .5 4.3 .5-1.8 .5-3.6 .5-1.1 .5 1.6 .5 4.5 .5-.8 .5-.5 .5 1.3 .5 .8 .5-6.5 .5 4.4 .5-1.2 .5-.9 .5 1.7 .5 3.8 .5-2.8 .5-2.6 .5 2.6 .5 6.3 .5-7.1 .5-1.2 .5 5 .5 1.1 .5-.2 .5-3.6 .5 5.2 .5-4.3 .5-.8 .5 1.2 .5 1.1 .5 1.8 .5-.4 .5-1.7 .5 2.2 .5-2.1 .5 1.9 .5-5.6 .5-.3 .5 5.8 .5-5 .5 2.8 .5 .7 .5-.8 .5 .3 .5 4.6 .5-9.3 .5 8.3 .5 3.4 .5-5.4 .5-.1 .5 1.8 .5 2.6 .5-7.2 .5 3 .5-.7 .5 1.8 .5-1 .5 1.2 .5-2.6 .5 1.2 .5-1.8 .5 0 .5 .3 .5 .9 .5-6.1 .5 10.2 .5-4.1 .5-2.9 .5 6.1 .5-4.3 .5 3.2 .5-1.1 .5 .9 .5 0 .5-1.6 .5 1.7 .5 4.9 .5-10.1 .5 5.6 .5 .9 .5-3.5 .5-.8 .5 8.3 .5-6.2 .5 5.7 .5-3.9 .5 .7 .5-1.3 .5 .1 .5 1.2 .5-1.9 .5-.8 .5 0 .5 2.9 .5-1.3 .5-4.2 .5 1 .5 2.4 .5-2.2 .5 .7 .5-1.3 .5 1.7 .5 1.7 .5 1.5 .5-2.4 .5 5 .5-5.1 .5 7.9 .5-5.3 .5-1.2 .5-2.3 .5-5.6 .5 6.4 .5 .8 .5 4.1 .5-7.9 .5 7.8 .5-5.2 .5 2.3 .5-7.9 .5 6.4 .5-1.2 .5 2.5 .5-1.4 .5-2.9 .5 5.1 .5-.5 .5-.2 .5 1.2 .5 .4 .5-2.6 .5-3 .5 .1 .5 6.7 .5-3.1 .5 .4 .5-1.2 .5 1.2 .5-.1 .5-.9 .5-.9 .5 6.8 .5-4.8 .5-2.1 .5-1.9 .5 1.2 .5 3.3 .5-.1 .5-2.4 .5 .6 .5-.9 .5-2 .5 5.8 .5-2.2 .5 5.1 .5-9.4 .5 3.2 .5 2.5 .5-2.7 .5-2.7 .5 1.1 .5 2.6 .5 .7 .5-1 .5 2.8 .5 .2 .5-1.4 .5-.5 .5-.4 .5 2.1 .5 1.1 .5-1.9 .5 1 .5-1.9 .5-2.7 .5 .9 .5 4.1 .5-.9 .5 2.7 .5-3.8 .5 1.9 .5 1.1 .5-5.3 .5 .7 .5 1.1 .5 .8 .5-2.6 .5 3.5 .5 1.3 .5-3.6 .5 5.8 .5-5.5 .5 .2 .5-.2 .5-1.2 .5 2.7 .5-1 .5 3.9 .5-2.5 .5-.1 .5-1.8 .5-2.7 .5 3.2 .5-1.7 .5 4.4 .5-2.4 .5 4.1 .5-2.3 .5 .2 .5-1.6 .5-.2 .5 1 .5 .5 .5-4.1 .5 2.7 .5 5 .5-6.7 .5-.5 .5-1.2 .5-1.9 .5 6.3 .5-2.7 .5 .6 .5 3.8 .5 1.6 .5-8 .5 4.7 .5-.9 .5-.4 .5 .2 .5-1.1 .5 4 .5-2.3 .5-.6 .5 2.2 .5-.8 .5-.9 .5-.3 .5 3.6 .5-3 .5-1.3 .5-1.7 .5 1.3 .5-1.5 .5 2.9 .5 .5 .5-5.4 .5 5.1 .5 1.6 .5-1.1 .5 1 .5 1.8 .5-4.6 .5-1.2 .5 .4 .5 2.7 .5 2.4 .5 .6 .5-2.3 .5-3.3 .5 1.4 .5-.6 .5 1.7 .5-3.8 .5 5.1 .5 .7 .5-1.9 .5 1.4 .5-3.3 .5-1.2 .5 2 .5 4.3 .5-.2 .5-3.4 .5 4.2 .5-3.6 .5 4.6 .5-2.3 .5-2.1 .5 3.2 .5-3.6 .5-.2 .5-1.1 .5 4.4 .5-.6 .5 .2 .5-.6 .5 4.6 .5-4.3 .5-.5 .5 4.8 .5 .5 .5-2.5 .5-5 .5 2.8 .5 3 .5-1.4 .5 3.8 .5-7 .5 5 .5-3 .5 4.8 .5-3.2 .5 2.8 .5-3.9 .5-1.8 .5 .8 .5 1.3 .5-1 .5 5.4 .5 .3 .5-2.2 .5-3.5 .5 2.3 .5-1.4 .5 5.2 .5-2.7 .5 .4 .5-2.1 .5-3.9 .5 3 .5-.9 .5 3.5 .5-.7 .5-2.2 .5 .9 .5 6 .5-7.5 .5 .1 .5 1.6 .5-1.2 .5 .6 .5 2.3 .5 3.9 .5-9.4 .5 4.3 .5 .2 .5-.2 .5-.1 .5-.2 .5 3.4 .5-3.3 .5 1 .5 .5 .5 .4 .5-.5 .5 2.9 .5-2.4 .5 .5 .5-.6 .5-2.3 .5 .2 .5-.6 .5 2.8 .5-2.4 .5-.5 .5 2.4 .5 .5 .5-5.6 .5 8.2 .5-4 .5-.3 .5 2.8 .5-2.3 .5-1.5 .5 6.8 .5-7.8 .5 2.5 .5 2.4 .5-4.6 .5 2.4 .5 1.3 .5 4.9 .5-7.9 .5 2.1 .5 1.8 .5-1.3 .5-3 .5 4 .5-.6 .5 .9 .5 3.4 .5-1.9 .5-1.4 .5-.2 .5-3.4 .5 2.3 .5 .8 .5-1.6 .5 1.2 .5-2.3 .5 5.6 .5 1.4 .5-6.1 .5 1.9 .5-1.5 .5 3.6 .5-1.9 .5-.8 .5-.7 .5 .9 .5-2.6 .5 4.1 .5-3.3 .5 3 .5-.9 .5 2.3 .5-2.6 .5 2.6 .5-4.6 .5 3.7 .5-1.9 .5 1.2 .5-.2 .5 2.2 .5-7 .5 5.7 .5-4.4 .5 6.5 .5-7.7 .5 2.2 .5-1.8 .5 7.7 .5-7.7 .5 3.7 .5-1.7 .5-3.1 .5 3.4 .5 2.3 .5-2 .5-4.3 .5 3.8 .5 .9 .5-1 .5 1.8 .5 6.1 .5-6.1 .5-.3 .5-2 .5 1.2 .5 3.9 .5-6.1 .5 .5 .5 2 .5-.7 .5 5.7 .5-10.4 .5 6.5 .5 .7 .5-4.6 .5 .9 .5 2.4 .5 2.6 .5-6.3 .5-1.8 .5 6.3 .5 .9 .5-4.5 .5-4.6 .5 8.8 .5-3.9 .5 3.1 .5-2.8 .5-.7 .5-.2 .5 4.6 .5-.1 .5-8.6 .5 2.9 .5 6.6 .5-5.2 .5-2.3 .5 3.3 .5-.2 .5 .1 .5-.9 .5 .4 .5-.3 .5 2 .5-2.7 .5 1.3 .5 5 .5-1.2 .5-2.2 .5-1.1 .5 1.6 .5-.3 .5 1.7 .5-1.4 .5 3.1 .5-1.1 .5-3.5 .5-1 .5 2.9 .5-1.1 .5-5.3 .5 .1 .5-1.1 .5 5 .5 .8 .5 0 .5-5.1 .5 5.5 .5-3.7 .5 2.3 .5 .2 .5-2.8 .5 .7 .5-3.4 .5 2.9 .5-2 .5 5.5 .5-8.5 .5 9.9 .5-1.3 .5 2.1 .5-2 .5-1.7 .5 2.4 .5-.7 .5-3.1 .5 2.3 .5 .2 .5-.8 .5 2.9 .5 2 .5-4.9 .5 .1 .5-4.5 .5 5.1 .5-.7 .5-4.2 .5 5.8 .5 .6 .5-3.4 .5 .6 .5-1.7 .5 3.8 .5-5.7 .5 2.6 .5 5.3 .5-4.7 .5 1 .5-1.5 .5-2.4 .5 2.9 .5 1.2 .5-3.3 .5 3.5 .5 2.4 .5-.3 .5-6.2 .5 1.5 .5-1.5 .5 6.4 .5-1.2 .5 .2 .5-4 .5-.7 .5 2.8 .5 0 .5-2.3 .5 2.4 .5 1.3 .5 .5 .5-4.4 .5-2.4 .5 4.5 .5 1.1 .5-.9 .5-.3 .5-.6 .5 3.5 .5-1.8 .5 .5 .5-2.5 .5 .8 .5 2 .5-2.7 .5-.6 .5 2.3 .5 3.8 .5-6.6 .5 7.4 .5-3.7 .5-.4 .5-2.5 .5 1.9 .5 4.8 .5-3.5 .5 3.7 .5-5.3 .5 1.2 .5-.5 .5 .6 .5 1.2 .5-.7 .5 0 .5-.9 .5-2.3 .5 1.1 .5-1.7 .5 4.6 .5-7.5 .5 4.5 .5 6.2 .5-6.5 .5-1.9 .5 2.7 .5 3.1 .5-3.4 .5 1.9 .5-1.2 .5-1.1 .5 8.5 .5-7.3 .5-1.4 .5 .3 .5 2.1 .5 .2 .5 1 .5-1.5 .5-1.9 .5 9.1 .5-8.2 .5 0 .5-3 .5 2.1 .5 3.7 .5-2.6 .5-3.5 .5 3.5 .5 .1 .5-3 .5 1.1 .5-.7 .5 4.2 .5-8.4 .5 5.4 .5-3.5 .5 4.1 .5 1.7 .5-3.6 .5 1.8 .5-2.4 .5 6.7 .5-2.5 .5 .6 .5-5.7 .5 .7 .5 5.4 .5-2.8 .5 .1 .5 1.7 .5-3.6 .5 5.1 .5-1.6 .5 1.2 .5-2.6 .5 2.9 .5-2.9 .5 3.9 .5 .3 .5-.6 .5-1.1 .5 .1 .5-8.2 .5 8.3 .5-2.9 .5 .7 .5-1.1 .5-2.8 .5 1.9 .5 .4 .5 4.1 .5-4.3 .5-1.3 .5 5.7 .5-5.6 .5 7.2 .5-4.7 .5-2 .5 4.7 .5 1.9 .5-7.2 .5 7.4 .5-4.1 .5 3.9 .5-3.7 .5-2.7 .5 5.1 .5 1.1 .5 2.9 .5-.9 .5-2.5 .5-2.3 .5-.7 .5 .5 .5-1.3 .5 1.3 .5-5.5 .5 6.5 .5-.5 .5 6.2 .5-4.4 .5-3.1 .5 0 .5-1.9 .5 1.3 .5-3.1 .5 7.9 .5-2 .5-4.3 .5 2.7 .5 2.5 .5-1.1 .5-.2 .5-2.9 .5 .7 .5 1.8 .5 2.1 .5-4.1 .5-.6 .5 5.5 .5-4.8 .5 4.9 .5-1.9 .5 1.5 .5 2.1 .5-2.4 .5 .2 .5-4.2 .5-2.9 .5 12.2 .5-3.6 .5-.5 .5 2.1 .5-4.9 .5-.4 .5 1.8 .5-2.5 .5-.3 .5-2.5 .5 4.9 .5-5.1 .5 3.8 .5-4.7 .5 6 .5-5.2 .5 4.4 .5-5.9 .5 2.7 .5 3.9 .5-4.8 .5 2 .5-.8 .5-4.9 .5 6.3 .5 .4 .5-3.7 .5 4.1 .5-3.3 .5-.4 .5 2.5 .5-1.5 .5 7.2 .5-9.1 .5 5.6 .5 .7 .5-7 .5 .7 .5 5.6 .5-2.3 .5 2.1 .5 1.9 .5-3.6 .5-1.6 .5-4.1 .5 6.9 .5-2.9 .5 2.8 .5-.5 .5-4 .5 7.2 .5-1.6 .5-.6 .5-4.8 .5 1.9 .5-.1 .5 .5 .5-1.5 .5 3.9 .5-.2 .5 .5 .5-2 .5 4.4 .5-2.5 .5-7 .5 5.2 .5 1.4 .5 2.6 .5-3 .5 .2 .5-1 .5 3.2 .5-2.7 .5-.5 .5-.4 .5 2.9 .5-2.8 .5-2.9 .5 5.4 .5-3.3 .5 2.5 .5 0 .5 2 .5-.3 .5-3.8 .5 1.1 .5-2.6 .5 7.2 .5-2.9 .5 2.3 .5-4.2 .5-4.2 .5 8.5 .5-3.5 .5 0 .5-.3 .5-1.3 .5 2.2 .5-5.3 .5 6.3 .5-4 .5 .1 .5 5.2 .5-2 .5-3 .5-3.6 .5 4.9 .5 1 .5-1.4 .5-2.6 .5 1.3 .5-.9 .5 2.9 .5 2.6 .5 .8 .5-3.9 .5 2.5 .5 1.1 .5-2.4 .5 1.1 .5 5.7 .5-4.5 .5 1.8 .5-3 .5 1.2 .5-4.2 .5 4.1 .5 2.9 .5 2.2 .5-2.2 .5-1.4 .5-1.6 .5 2.7 .5-3.5 .5 1.6 .5-3.6 .5 3.9 .5-4.8 .5-2.2 .5 1.6 .5-1.7 .5 .5 .5 5.8 .5-3.3 .5 .8 .5 2.2 .5 .2 .5-4.2 .5 4.3 .5-2.3 .5-.9 .5 1 .5-4.5 .5 1.6 .5 1.6 .5 1.7 .5-2.3 .5 .6 .5 2.8 .5 1.1 .5-1.4 .5 1.4 .5 .9 .5-4.5 .5 1.7 .5-1.4 .5-.4 .5 5.2 .5-5.9 .5-.5 .5 3.4 .5 3.2 .5-4.4 .5 2.7 .5-4.2 .5-.3 .5-.7 .5 1.2 .5 4.6 .5-7.3 .5 6.7 .5-6.3 .5 1.8 .5 2.7 .5-.4 .5-.7 .5-4.6 .5 5 .5-3.2 .5 8.6 .5-6.6 .5 1.8 .5-4 .5 1.6 .5-1.9 .5 5.5 .5-3 .5 2 .5-3 .5 .4 .5 4.3 .5-5.5 .5-2 .5 5.3 .5-3.8 .5 1.7 .5 3.2 .5-4.1 .5 6.8 .5-6.4 .5 5.2 .5-.3 .5-4.3 .5 .6 .5-1.4 .5 2.5 .5 2.3 .5-6.2 .5 5.7 .5-5.3 .5 1.2 .5-2.2 .5 9.5 .5-4.9 .5 .5 .5-2.2 .5 4.2 .5-7.7 .5 5.1 .5 5.1 .5-6.3 .5 .8 .5 1.5 .5-3.6 .5 2 .5 2.3 .5-1.8 .5 .6 .5-1.5 .5 1.8 .5-.4 .5 3.5 .5-1.6 .5-2.3 .5-5.3 .5 7.6 .5 0 .5-4.2 .5-2.8 .5 1.9 .5 4.8 .5-5 .5 1.4 .5 1.6 .5 2.4 .5-3 .5-.2 .5-1.7 .5 5.9 .5-1.3 .5-2.8 .5-3.1 .5 1.4 .5 3.3 .5-3.2 .5 3.9 .5-1.4 .5-.1 .5 .9 .5-.4 .5-3.2 .5 1.3 .5 6.4 .5-8.6 .5 1.8 .5 3.6 .5-3 .5-1.6 .5-1.3 .5 4.5 .5 1.2 .5 1 .5-3.1 .5 2.5 .5-4.8 .5 3 .5-1.9 .5 2.2 .5 1.3 .5 .8 .5-5.1 .5 5.3 .5-7.4 .5 1.4 .5 1.9 .5-3.4 .5 3.3 .5 .3 .5-1.6 .5 1.2 .5-2.7 .5 0 .5-4.2 .5 2.8 .5-2.9 .5 .1 .5 .1 .5 0 .5-5.1 .5-.4 .5 2.5 .5 1.5 .5-.5 .5 1.2 .5 1.1 .5-1.6 .5-.8 .5-1.9 .5 .9 .5 1.9 .5 2.6 .5 .8 .5 .4 .5 .5 .5 2.7 .5-.2 .5 1 .5 .7 .5-1.6 .5-.9 .5 3.8 .5-.1 .5-1.4 .5-.4 .5 6.6 .5-7.2 .5 1.4 .5 1.3 .5-5.7 .5 5.6 .5 4.2 .5-2 .5-.7 .5 0 .5-1.1 .5 2 .5-2.7 .5-.7 .5 1.3 .5 1.8 .5-1.5 .5 .8 .5-6.5 .5 7.7 .5 2.7 .5-2.4 .5-3.9 .5-1.2 .5 3.1 .5-3.3 .5 4.2 .5-2.9 .5 3.7 .5-.7 .5-6.1 .5 5.8 .5-2.2 .5-1.5 .5 2.1 .5 1.1 .5 3.1 .5-6.1 .5 6.1 .5 2.2 .5-3.5 .5-.4 .5-1.5 .5-3.1 .5 3.9 .5-.6 .5 .6 .5 4.3 .5-4.5 .5-.8 .5 2.8 .5-7 .5 .6 .5 2 .5-.5 .5 3.4 .5-2.2 .5 5.1 .5-.5 .5-1.7 .5-2.7 .5 2.5 .5 .5 .5-4.5 .5 3.4 .5 .8 .5-1.1 .5 3.3 .5-.8 .5-4.8 .5 2.3 .5-2.3 .5 3.5 .5-3.6 .5 4.2 .5-1.3 .5 1.2 .5-2.8 .5-3.3 .5 7.6 .5-4.8 .5 3.6 .5-2.4 .5 .6 .5 2.7 .5-3.7 .5 2.4 .5-7 .5 5.6 .5-2.8 .5 .2 .5 .2 .5 .8 .5 3.1 .5-8.4 .5 4.6 .5-1.7 .5 4.5 .5-3.7 .5 2.2 .5-2 .5 2.6 .5 .8 .5-3.4 .5 1 .5-3.6 .5 4.1 .5 1.2 .5-3.4 .5 3.9 .5-7.6 .5 .5 .5 1.2 .5 2.3 .5 1.4 .5-.1 .5 .2 .5 2 .5-2.8 .5-1.9 .5 0 .5 7.9 .5-10.9 .5 5.1 .5 3.8 .5-2.5 .5-3.3 .5 2 .5 2.1 .5 .8 .5-4.9 .5 4 .5-1.1 .5 2.2 .5 .8 .5-4 .5-2.5 .5 4.6 .5 3.5 .5-2.5 .5-1 .5 5.2 .5-8.2 .5 4.6 .5-3.6 .5 1.4 .5-.1 .5 3.2 .5-6.1 .5 .7 .5-2.7 .5 4.7 .5-2.4 .5 1.9 .5-3.6 .5 1.6 .5 3.5 .5-2.8 .5 2.1 .5-.1 .5-1.9 .5-2.7 .5 6.4 .5-1.8 .5 2.1 .5-7 .5 1 .5-1.2 .5 3.1 .5 4.5 .5-1.2 .5-1.5 .5 .3 .5 1.4 .5-2.6 .5 1.7 .5-.6 .5-5.6 .5 4.4 .5 4.2 .5-4.2 .5 .6 .5-1.2 .5 .2 .5 3.8 .5-3.5 .5-2 .5-5.2 .5 5.9 .5-3.5 .5 .2 .5 6.2 .5-.3 .5-6.3 .5 6.6 .5-.9 .5-3.1 .5 3.7 .5-5.7 .5 .9 .5-.6 .5 .8 .5 4.9 .5-5.3 .5 .6 .5 .6 .5 2.9 .5-1.1 .5 3 .5-3.6 .5-1.2 .5 2.1 .5 1.4 .5-2.3 .5 3 .5 3.7 .5-5.8 .5 1.5 .5 3 .5-4.9 .5-.5" fill="none" stroke="#800080" stroke-width="2.5" stroke-linejoin="round" shape-rendering="crispEdges"/>
<path d="M229.0 1470.9l.5 2.5 .5 2.7 .5-.6 .5-2.3 .5 5.1 .5-6.5 .5 1.7 .5-3.1 .5 5.1 .5-2.2 .5-3.7 .5 2.1 .5 6.3 .5-2.5 .5-1.4 .5 1.8 .5-5.9 .5 1.9 .5-1.3 .5 1.2 .5 .9 .5 2.1 .5 1 .5-.2 .5 4 .5-7.8 .5 1.1 .5 1.1 .5-3.2 .5 1.3 .5 1.6 .5-3.1 .5 3.3 .5 1.8 .5-5.5 .5-2.8 .5 5.7 .5-2.8 .5 2.9 .5-1.6 .5 1.6 .5 1.8 .5-1 .5-3.1 .5-2.2 .5-3.5 .5 .6 .5 3.1 .5 2 .5-1.8 .5 .2 .5-2.2 .5 .1 .5 0 .5 5.9 .5-5.9 .5 6.6 .5-3.5 .5 3.6 .5-.5 .5 .7 .5 1.7 .5-4.6 .5-.5 .5 1.2 .5-.8 .5 3.4 .5-1.8 .5 .3 .5 1 .5-2.1 .5 3.8 .5-7 .5 5 .5 .7 .5-2.9 .5 .2 .5 3.8 .5-2.8 .5-3.8 .5 1.4 .5 5.6 .5 2.8 .5-2.2 .5 .1 .5-3.9 .5 1.7 .5-6.3 .5 5.6 .5-2.7 .5 2.9 .5-4.6 .5 2.6 .5 .3 .5 1 .5-6.4 .5 .8 .5 2.1 .5 1.6 .5 .9 .5 .2 .5 4.4 .5-3.2 .5-.1 .5-2.6 .5 3 .5-.3 .5-.1 .5-2 .5 1.7 .5 2 .5-5.8 .5-3.4 .5 6.8 .5-.4 .5-2.5 .5-.8 .5 7.4 .5-7.9 .5-2.1 .5 1.6 .5 2.1 .5-2.9 .5 .4 .5 1.4 .5-1.9 .5 1.1 .5-.6 .5-2.6 .5 2.6 .5-3.1 .5 4.9 .5-4.6 .5 1.6 .5-3.8 .5 3.3 .5-1.8 .5 6.6 .5-5 .5 3.9 .5-6.3 .5 1.3 .5 2.7 .5-3.7 .5 4.8 .5-1.5 .5 1.3 .5 .3 .5-1.2 .5 2.1 .5-3.7 .5 2.3 .5 1.8 .5-2.6 .5-.3 .5-1.2 .5 .8 .5 1.4 .5-2.1 .5-3.4 .5 4.5 .5-.5 .5 1.7 .5-.7 .5 3.9 .5-6.3 .5 .9 .5 4.1 .5-3.8 .5 3.5 .5-.7 .5-4.4 .5 6.3 .5 1.8 .5-2.7 .5-3.7 .5 5.2 .5-4.3 .5 2.2 .5 1.3 .5-2.8 .5-2.1 .5 3.6 .5 .3 .5-1.9 .5 .1 .5 3.5 .5 2 .5-5 .5-.4 .5 1.8 .5-.3 .5-.8 .5-2.9 .5 2.2 .5 2.5 .5-1.6 .5 2.6 .5-.4 .5-.7 .5-1.1 .5-.9 .5 1.7 .5-1.8 .5 .5 .5-1.1 .5 2 .5 0 .5 4.6 .5-3 .5-2.1 .5 2.8 .5-2.9 .5 3.6 .5-.4 .5 5.1 .5-9.1 .5 2.6 .5 .1 .5 1.2 .5 1.1 .5-3.8 .5 .7 .5 2.4 .5 1.6 .5-4.9 .5-1.1 .5 6.2 .5-.8 .5 .4 .5-4.9 .5 1.6 .5 .9 .5 .4 .5-1.4 .5 .1 .5 2.4 .5-3.4 .5-5 .5 5.1 .5-.1 .5 1.6 .5-1 .5-.1 .5 4.5 .5-2.4 .5-1.3 .5 3.9 .5-4 .5 1.5 .5 0 .5-1 .5 .5 .5 1.1 .5-3.5 .5 2.5 .5 1.4 .5 .1 .5-.1 .5 4.6 .5-3.9 .5-2.1 .5-.1 .5 0 .5 .8 .5-1.9 .5 3.8 .5-6.2 .5 3.7 .5-.6 .5-4 .5 3.9 .5-.3 .5-2.9 .5 6.7 .5-3.7 .5-2.3 .5-.4 .5-.5 .5 2.3 .5-.4 .5-3.3 .5 .8 .5 .8 .5 .7 .5 .1 .5-.8 .5 3 .5 .7 .5-2 .5-5.2 .5 4.6 .5 1.7 .5-1.5 .5 .8 .5-1.3 .5-2.6 .5-2.4 .5 7.2 .5-2.6 .5 2.2 .5-6.1 .5 4.7 .5 3.4 .5-5.8 .5 2.7 .5-2.4 .5 2.7 .5 .9 .5 .5 .5-.6 .5-3.9 .5 3.8 .5 1.5 .5 .3 .5 2.7 .5-3.6 .5-3.6 .5 1.1 .5 1.3 .5 2.1 .5-3.7 .5 3.1 .5-.7 .5-3.7 .5 3.3 .5-3.3 .5 1.6 .5-.7 .5 1.2 .5-3.2 .5 3.9 .5-6.1 .5 4.1 .5-.4 .5 4.9 .5-2.5 .5-2.5 .5-1.1 .5 1.8 .5-1.8 .5 6.3 .5-11.7 .5 6.2 .5-6 .5 7.8 .5-4.2 .5 5.4 .5-4.9 .5 3.8 .5-1.7 .5 2.1 .5-2.5 .5-6.8 .5 5.2 .5-1.8 .5 5.7 .5-.9 .5-1.2 .5 1 .5-.5 .5-1.8 .5 5.7 .5-4 .5-1 .5-3 .5 2 .5 1.4 .5-.4 .5-.8 .5 1.1 .5-2.4 .5 2.6 .5-3.5 .5 1.6 .5 .4 .5 3.7 .5-.9 .5-1 .5-2.8 .5 1.6 .5 2.7 .5 .9 .5-6.2 .5 2.4 .5 1.3 .5 .7 .5-.7 .5 1.7 .5-4.6 .5 7 .5-6 .5 2.9 .5 1.2 .5 1.6 .5-.5 .5-.1 .5 1 .5-3.2 .5 2 .5 3 .5-6.5 .5-1.5 .5 .9 .5 5.5 .5-.4 .5-3.6 .5 1.3 .5 .5 .5 1.3 .5-6.8 .5 3 .5 .6 .5 1.4 .5-.6 .5-.9 .5 6.4 .5-11.4 .5 13.1 .5-5 .5 .3 .5-3.3 .5 1.4 .5 8.6 .5-3.7 .5-3.8 .5-2.8 .5 3.4 .5-.9 .5 2.8 .5-4.7 .5 2.7 .5 1.2 .5-1.5 .5 3.7 .5-4.8 .5 0 .5 2.2 .5 2.9 .5-2.4 .5-.5 .5 3.4 .5-1.2 .5-1.7 .5 1.6 .5-.8 .5 2 .5-1.2 .5-2.2 .5 6.7 .5-6.1 .5 1.6 .5-.2 .5-3.1 .5 1.3 .5 .9 .5 1.6 .5-2.2 .5 3.8 .5-4.6 .5 1.5 .5-2.6 .5-1.7 .5 2.4 .5 .8 .5-.5 .5-.6 .5-1.2 .5-1.3 .5 1 .5 1.5 .5 .8 .5-10 .5 8.6 .5-7.2 .5 8 .5-2.3 .5 .4 .5-2.9 .5 .6 .5 1.1 .5-4.1 .5 .4 .5 1.9 .5-3.9 .5 2.8 .5-3.9 .5 3.6 .5-1.3 .5-1 .5-1 .5 .8 .5-3.9 .5 4.3 .5 1.4 .5 2.8 .5-3.6 .5 1.2 .5 4.1 .5 1.3 .5-4.6 .5 4.1 .5 .8 .5 2.8 .5-6.7 .5 .7 .5 4 .5 4.6 .5-5.3 .5 5.5 .5 .2 .5-6.8 .5 .2 .5 6.8 .5-1 .5-.8 .5-1.2 .5 1.6 .5-2.9 .5 7.3 .5-8.4 .5-1.5 .5 4.4 .5 6.9 .5-8.5 .5 .9 .5-2.4 .5 2.1 .5-2.3 .5-.1 .5-1.2 .5 1.9 .5 5.4 .5-4.6 .5 .4 .5 4.6 .5-6.8 .5-1 .5 3.4 .5-4.2 .5 3.5 .5 1.8 .5-5.3 .5 1.2 .5 5.1 .5-6.5 .5 .8 .5 2 .5-1.4 .5-1.4 .5 5.5 .5-5.2 .5 4.4 .5-4.4 .5 .2 .5-2.9 .5 5.1 .5-3.4 .5 3.6 .5-6 .5 1.3 .5 1.9 .5-1.2 .5-2.1 .5 1 .5-3 .5 3 .5-6.4 .5 6.4 .5-1.8 .5 3.2 .5-.3 .5-3.1 .5 1.9 .5-2.4 .5 .4 .5-.4 .5-7.9 .5 9.4 .5-1.5 .5 .4 .5-4.6 .5 3.4 .5-.9 .5-6.7 .5 .8 .5 3.9 .5-1.9 .5 1.2 .5-1.6 .5 4.8 .5-8.1 .5 1.1 .5 .8 .5-1.1 .5 1.7 .5 1.1 .5-3.2 .5 3.9 .5 2.1 .5-.5 .5 2.1 .5-1.9 .5-2.6 .5 4.3 .5-2.4 .5 2.7 .5-4.7 .5-4.5 .5 4.4 .5 .5 .5 .7 .5-2.1 .5 2.4 .5-5.8 .5 1.1 .5 3.4 .5-1.9 .5-1 .5 2.6 .5-1.2 .5-4.7 .5 1.9 .5-4.8 .5 3.5 .5 .6 .5-5.2 .5 7.3 .5 .8 .5-3.7 .5 .7 .5 1.2 .5-4 .5 2.7 .5-1.6 .5-4.5 .5 1.5 .5 .7 .5 3.7 .5-2.3 .5 1.9 .5-3.5 .5-2.1 .5 7.5 .5 1.2 .5-5.7 .5-1.6 .5 3 .5-5.6 .5 1.9 .5-2.9 .5 4.3 .5-.6 .5-1.5 .5-.5 .5-2 .5 1.6 .5 4.8 .5-3.7 .5 3.7 .5-4.9 .5 1.7 .5-.9 .5 .4 .5 2.3 .5-6.5 .5 6.4 .5-.1 .5-1.6 .5 .1 .5-.6 .5 2.1 .5-1.5 .5-2.1 .5 2.3 .5 1.8 .5-1.5 .5-.8 .5-2.9 .5 1.5 .5 0 .5-3.3 .5 3.9 .5 2.6 .5-3.1 .5-1.2 .5 4.1 .5-1.8 .5-.1 .5 .7 .5 2 .5-3.4 .5-1.9 .5 5.8 .5-4 .5-2.1 .5 2 .5 2.6 .5-6.7 .5 6 .5-3.6 .5 4.6 .5-3.4 .5-2.1 .5 2.8 .5-.3 .5-4 .5 1 .5-2 .5 2.9 .5-5.8 .5 2.4 .5-4.9 .5 5.8 .5-7 .5 2.2 .5 2.6 .5-1.9 .5-.7 .5-1.6 .5 .7 .5-3.3 .5 4.5 .5 .9 .5-.4 .5-2 .5 2.8 .5-1.9 .5 1 .5-1.5 .5-1 .5-2.1 .5-4.5 .5 7.1 .5-2.1 .5 4.3 .5-9.5 .5 5.9 .5-4.5 .5 1.7 .5-2.5 .5 2.4 .5-1.2 .5 1.7 .5-2.1 .5 .4 .5 1.4 .5-2.1 .5-1.8 .5 2.8 .5-3.3 .5 1 .5-1.8 .5-.8 .5-5.3 .5 8.5 .5-4.1 .5 4.5 .5 2.6 .5-6.9 .5 5.2 .5-2 .5 1.4 .5-3.6 .5 2.9 .5-2.2 .5 5.5 .5 1.7 .5-4.1 .5-1.4 .5 6 .5-5.1 .5 .3 .5 .6 .5 1.1 .5 .8 .5-2.7 .5 1.2 .5 4.6 .5-.8 .5-2.8 .5-.6 .5-1.5 .5 2.4 .5-3.9 .5 1 .5-1.8 .5-.9 .5 1.1 .5-.6 .5-1.7 .5 .8 .5-.1 .5-1.6 .5-.8 .5 .9 .5 1.6 .5 .7 .5-2.3 .5-1.3 .5 .4 .5 4.2 .5-2.5 .5-4.4 .5 1.9 .5-1.3 .5 .3 .5-3.2 .5 3.8 .5-3.4 .5 1.6 .5 4.6 .5-1.5 .5-4.5 .5-.5 .5 0 .5-2.4 .5 2 .5 1.5 .5-1.8 .5 4.1 .5-1.8 .5-1.1 .5 5.3 .5-2.3 .5-1.5 .5 4 .5-1.3 .5-4.8 .5 2.1 .5-2 .5-2.6 .5 7.3 .5-2.1 .5-5.7 .5 3.7 .5-5.2 .5 6 .5-2.8 .5-.7 .5 3.4 .5-3.1 .5-.7 .5 2.4 .5-2.9 .5 2.5 .5-2.3 .5 1.5 .5-.9 .5-.2 .5-5.2 .5 5.2 .5-6.4 .5 2.5 .5-7.3 .5-.9 .5-1.3 .5 6.4 .5-7.9 .5 2 .5-4.5 .5 2.6 .5 1.8 .5-.6 .5-3.9 .5 5.7 .5-3.1 .5 6.9 .5-4.6 .5 5.8 .5-3.5 .5-.3 .5-2 .5 .9 .5 1.4 .5-5.6 .5 6.8 .5-4.9 .5 2.1 .5-5.7 .5 7.5 .5 5 .5-5.2 .5 .2 .5-1.4 .5 1.4 .5 2.7 .5-3.6 .5 2.3 .5 .6 .5-2.1 .5 1.1 .5-.1 .5-1.7 .5 6.7 .5-6.9 .5 4.8 .5-1.7 .5-7.5 .5 5.1 .5 1.6 .5-.7 .5-4.1 .5 2.6 .5-3.5 .5 .3 .5 1.8 .5 1 .5 3.3 .5-2.8 .5-2.4 .5-1.1 .5 .2 .5 1.6 .5 5.3 .5-7.2 .5-.6 .5 3.4 .5 2.8 .5-6.6 .5 3.1 .5-2.7 .5 6.4 .5-1.8 .5-1 .5-.8 .5 1 .5-.7 .5-1.8 .5-.6 .5-.6 .5 2.5 .5-1.9 .5 3.7 .5-7.1 .5 6 .5-.3 .5 1.4 .5-4.4 .5-2.3 .5 1.3 .5 4.8 .5-3.4 .5-.2 .5-.3 .5 1.3 .5-.3 .5-3.1 .5 2.2 .5 3.8 .5 1 .5-3.7 .5-1 .5 3 .5-2.3 .5-2.3 .5 2.4 .5 2 .5 2.1 .5-4.6 .5 2.4 .5-2 .5 3.4 .5-2.3 .5-.1 .5-3.1 .5 1.3 .5-.1 .5-7.8 .5 10.4 .5-2.1 .5-.4 .5-.3 .5 1.1 .5 .7 .5-3.4 .5 3.6 .5 .2 .5 0 .5-3.3 .5 3.3 .5-2.6 .5 3.9 .5 2.4 .5-1 .5-2.8 .5-.5 .5-.1 .5 2 .5-2.5 .5 .1 .5-4.8 .5 3.6 .5-.2 .5 .3 .5 3.8 .5-6.3 .5-.3 .5 4.1 .5-4.1 .5 1.5 .5 .3 .5-.9 .5-2.3 .5 3.4 .5 .9 .5-6.3 .5 1.3 .5 2.4 .5-3.2 .5-2.2 .5 1 .5 2.6 .5-4.6 .5 2.6 .5 0 .5-2.7 .5 2.5 .5-.1 .5 .4 .5-.5 .5-6 .5 5.2 .5-1.1 .5 .6 .5-3.8 .5 3.1 .5-1.4 .5-3.7 .5 5.7 .5-4.8 .5-.5 .5 3.5 .5-2.2 .5 2.3 .5-1.2 .5 1.4 .5 1.4 .5-1.8 .5 2.3 .5 .2 .5-3.7 .5 4.2 .5-.3 .5-1 .5 2.5 .5 1.3 .5-1.9 .5-.9 .5 .2 .5-1.3 .5-.2 .5 1.5 .5-1.4 .5 4.8 .5-2.9 .5-.2 .5 2 .5 .4 .5 1.1 .5-1 .5-1.4 .5 .5 .5-5.3 .5 1.5 .5 5.7 .5-3.4 .5 4.7 .5-.3 .5-7.4 .5 3.2 .5 5.7 .5-8.9 .5 2.3 .5-1.9 .5-.5 .5-.6 .5 0 .5 1.2 .5-4.4 .5 2.4 .5-3.5 .5 2.3 .5-1 .5-3 .5 1.7 .5-2.4 .5-.5 .5 4.3 .5-7.3 .5 5.2 .5 1.6 .5-5 .5 3.5 .5-.8 .5-5.5 .5 3.8 .5-.5 .5-3.2 .5 2.8 .5 .1 .5-3.7 .5-3.1 .5 5.5 .5-2.6 .5-2.1 .5 3.2 .5-4.4 .5 5.1 .5 4.5 .5-9.7 .5 8 .5-2.9 .5 1.5 .5-.8 .5 3.9 .5-1.2 .5-1.5 .5-1 .5 2.3 .5 3.9 .5-5.2 .5 4 .5 0 .5-5.2 .5 7.4 .5-2.5 .5 5.3 .5-1.1 .5-4.6 .5 .1 .5-2.2 .5-1.1 .5 2.2 .5 .1 .5-.9 .5 .3 .5 1.7 .5 .3 .5-2.5 .5-.8 .5 .4 .5 4.3 .5-8.7 .5 .5 .5 3.5 .5-1 .5 2.3 .5 .1 .5 1.4 .5-6.5 .5 3.2 .5-2 .5 2.9 .5-1.8 .5 1.7 .5-3.7 .5 2.2 .5-1.6 .5 .7 .5-.4 .5-1.4 .5 5.1 .5-1.9 .5 1.9 .5-4.9 .5-2.3 .5 3.1 .5 1.2 .5 2.2 .5 .6 .5 .4 .5 .7 .5-1.9 .5-1.3 .5-1.7 .5 3.8 .5-2.2 .5 0 .5 4 .5-.1 .5 2.3 .5-2.8 .5 5.2 .5-1.1 .5-.6 .5-.8 .5-.2 .5-.3 .5 6.9 .5-3 .5 2.1 .5-1.6 .5-.3 .5 .7 .5 1.3 .5 2.9 .5-.4 .5-.8 .5-2.8 .5-.6 .5 9 .5-6.4 .5-1 .5 6.7 .5-5.8 .5 5.7 .5 .8 .5-1.3 .5 2 .5-5.2 .5 .7 .5 2.7 .5 .7 .5 0 .5 1.4 .5-2.7 .5-3.1 .5 6.2 .5-1.3 .5 2.6 .5 3.2 .5-4.5 .5 1.3 .5-3.3 .5 4.5 .5-1.1 .5 0 .5 1.8 .5-4.5 .5 4.2 .5 0 .5 2.9 .5-7.7 .5 4.2 .5 5.6 .5-6 .5 .2 .5 5.4 .5 1.8 .5-5.5 .5-1.7 .5 .5 .5 .6 .5-.9 .5 .3 .5 2.4 .5-.2 .5 1.2 .5-1 .5-2.8 .5 4.7 .5-1.1 .5-1.9 .5 .9 .5 2 .5-.9 .5-.3 .5 2.3 .5 1 .5-3 .5 1 .5-2.4 .5 2.5 .5 1.7 .5 1.2 .5-.7 .5 .8 .5-3.2 .5 2.5 .5-8 .5 8.2 .5 0 .5-2 .5 3.2 .5-1.1 .5 2.2 .5-2.4 .5 2.5 .5 2.7 .5-3.1 .5 1.6 .5-3.3 .5 .8 .5-3.5 .5 4.2 .5-2.2 .5 3.1 .5-5 .5 3.1 .5 2.4 .5 1 .5-4.6 .5 3.2 .5 7.3 .5-3.9 .5 2.8 .5-10.5 .5 4.7 .5 3.7 .5-.3 .5 .9 .5 1.5 .5-1.7 .5 2 .5-5.9 .5 10.3 .5-6.3 .5-.6 .5 5.2 .5-2 .5 1 .5-3.6 .5 2.3 .5 1.2 .5-4.2 .5 2.4 .5 .2 .5 .2 .5-.6 .5-.9 .5 4.4 .5-.1 .5 2.6 .5-2.5 .5-1 .5-1.5 .5 5 .5-1.5 .5 5.9 .5 1.1 .5-1.3 .5-5.5 .5-.7 .5 3.1 .5-1.2 .5 5.9 .5-2.6 .5-.8 .5 1.5 .5 3.5 .5-4.6 .5 3.9 .5-3.8 .5 3.2 .5-.5 .5 2.9 .5 .2 .5 3 .5-.7 .5-2.6 .5-1.3 .5 1.5 .5 1.1 .5 .5 .5-1.2 .5 4.2 .5-.4 .5-3 .5-.7 .5 .4 .5 .2 .5-.1 .5-3.9 .5 2.7 .5-3.5 .5 4.3 .5 1.4 .5-4.1 .5 2.7 .5-1.9 .5-.4 .5 6.1 .5-2.8 .5-1.2 .5-2.4 .5 1.5 .5-1.9 .5 .9 .5-3.8 .5 1.3 .5-1.4 .5-2.9 .5 6.9 .5-2.4 .5-4 .5-1.7 .5 1.8 .5 .1 .5 1.1 .5-1.3 .5 2.6 .5 3.2 .5 2 .5-4.5 .5 5.8 .5-1.2 .5 .8 .5 2.5 .5-.2 .5 3.6 .5 .4 .5-1.9 .5-.5 .5 6.1 .5 .6 .5-3.1 .5-1 .5 3.1 .5 1.3 .5-4.4 .5 5.8 .5-4.5 .5 3.2 .5-3.7 .5 1.5 .5-1.1 .5 1.2 .5 2.4 .5-4.6 .5 1.4 .5 2 .5-2.3 .5 5.9 .5-8.3 .5 9.5 .5-7.4 .5 3.9 .5 1.6 .5-2.4 .5-4.6 .5 2.6 .5 1.1 .5 1.1 .5-2 .5 3.2 .5 .8 .5-5.9 .5 4.5 .5-6.6 .5 4.4 .5-2.9 .5-1.6 .5 6.6 .5-2.1 .5 2.7 .5-5.9 .5 1.2 .5 3 .5-1 .5 2 .5-1.4 .5 .8 .5-1.7 .5 5.8 .5-3.7 .5-2.1 .5 4.3 .5-.6 .5-.7 .5-.1 .5-1.5 .5 .6 .5-4.9 .5 1.8 .5 1 .5 3.8 .5 2.5 .5-2.9 .5 0 .5 3.7 .5-3.4 .5 2.7 .5 .5 .5-4.9 .5 4.1 .5-.1 .5-3.2 .5 .4 .5-.5 .5 6.4 .5 1.9 .5-3.2 .5 2.1 .5-6.9 .5 6.6 .5 1.3 .5-.8 .5-6.2 .5 4.8 .5-3 .5 2.7 .5-4.3 .5 1.4 .5-1.6 .5 2.3 .5-1.5 .5 2.7 .5-.9 .5-1.2 .5-1.1 .5-.7 .5 .7 .5 1.8 .5-1.4 .5 .5 .5 4.9 .5-5.5 .5-1.1 .5-2.7 .5 6.1 .5 .2 .5-3.4 .5 7.1 .5-7.2 .5 5.3 .5-1.6 .5 .3 .5 2 .5-.4 .5-2.1 .5-2.4 .5-.3 .5 3.5 .5 3.5 .5-1.6 .5-2 .5 1 .5 1 .5 2.6 .5-5.9 .5 3.7 .5-.9 .5-2.3 .5-.4 .5 4.3 .5-.4 .5-.9 .5 1.1 .5 2.5 .5-1.8 .5 3.9 .5-4.2 .5-1.1 .5 1.7 .5-2 .5 1.4 .5 3.7 .5 1.1 .5-2.7 .5-1.2 .5-2.7 .5-.3 .5 3.4 .5-.5 .5-1.7 .5 .5 .5 4.9 .5-1.3 .5-2.2 .5 .5 .5 2.5 .5-2.3 .5-.4 .5-4.5 .5-.5 .5-.7 .5-1.1 .5 5.2 .5 .6 .5-3.1 .5 2.9 .5-.2 .5-1.5 .5-3.5 .5 6.7 .5-.3 .5-4.9 .5 5.9 .5-4.7 .5-6.5 .5 5.2 .5-3.5 .5 3.7 .5-2.7 .5 6.9 .5-1.5 .5-3.5 .5 5.4 .5-4.8 .5 5.3 .5 1.6 .5-.3 .5-2.1 .5 3.2 .5 .4 .5 1.2 .5 3.9 .5 1 .5 .1 .5-5 .5-.1 .5 2 .5 1.1 .5-5.8 .5 3.6 .5 6 .5-7.1 .5 1.4 .5 .3 .5 3.1 .5-1.2 .5-.4 .5-2.7 .5 5.3 .5-1.2 .5-1.4 .5 1.9 .5 2.1 .5-5.2 .5 .1 .5 1.4 .5 .6 .5-5 .5 6.1 .5 4.2 .5-3.4 .5 3.4 .5-9.3 .5 6.7 .5 3.7 .5 .5 .5-4.9 .5-.7 .5 3 .5-3.7 .5 2.1 .5-3 .5 4.3 .5-.1 .5 3.9 .5-3.1 .5-2.5 .5 1.3 .5-3 .5 3 .5-.8 .5 1.3 .5 1 .5-7.3 .5 5.4 .5 .8 .5-4.9 .5 7.3 .5-6.5 .5 7.5 .5-4.1 .5 .4 .5-1.7 .5 1.8 .5-4.9 .5 .7 .5-2.7 .5 6.1 .5-2.9 .5 3.6 .5-.4 .5-4.5 .5 5 .5-1 .5 .1 .5 .8 .5-1 .5 .4 .5 2.7 .5-4.7 .5-.2 .5 1.3 .5 4.5 .5-3 .5 5.5 .5-11.8 .5 5.8 .5 .9 .5 1.8 .5 2.7 .5-3.6 .5-2 .5 4.5 .5 1.6 .5-10 .5 7.4 .5-.8 .5-2.9 .5 .7 .5 1.7 .5 .6 .5-2.1 .5-2.2 .5 3.6 .5-2.1 .5 2 .5-1.4 .5 2.1 .5 1.6 .5-1 .5 1.2 .5-4.8 .5 4.6 .5-.4 .5-2 .5 .9 .5-6.3 .5 6.8 .5-1.2 .5-4.6 .5 6.6 .5-2.8 .5 2.1 .5-1.3 .5 1.7 .5-1 .5-.9 .5 1.8 .5 .8 .5-7.5 .5 5.4 .5-1.6 .5-1.3 .5 5.6 .5-.9 .5-4.9 .5-.3 .5 4.6 .5-3.5 .5 .7 .5-3.9 .5 4.5 .5 3.3 .5-3.7 .5 1 .5 4.7 .5-1.9 .5 1.6 .5-1.7 .5-2.5 .5-2.6 .5 2.2 .5-.6 .5 8.2 .5-4.7 .5-.6 .5-1.3 .5-.5 .5-4.1 .5 12.4 .5-5.3 .5 .6 .5-3.2 .5 3.5 .5 1.4 .5-.8 .5 2.1 .5-3.2 .5 3.1 .5 1.7 .5-.5 .5-.2 .5-1 .5-1.9 .5 3.7 .5-2.1 .5-1.4 .5 6 .5-7.7 .5 2.5 .5 3 .5 .4 .5-3.3 .5 1 .5 1.1 .5-1.5 .5-1.7 .5 3 .5-.7 .5-.1 .5 2.4 .5-2 .5-1.9 .5 1.3 .5 4 .5-6.6 .5 .8 .5-1.6 .5 2.4 .5-4.2 .5 3.8 .5 .4 .5-3.9 .5-.5 .5-1.8 .5 3.5 .5-3 .5 1.1 .5 .4 .5-.7 .5 3.7 .5 1.8 .5-8.9 .5 3.3 .5 2.7 .5-3 .5 1.4 .5 1.9 .5 3 .5-.4 .5-3.5 .5 1.2 .5-1.1 .5 .5 .5-2.3 .5-1.3 .5 3.5 .5 3.3 .5-12.3 .5 6.1 .5 3.5 .5-1 .5 2.2 .5-3.4 .5 4.8 .5-.6 .5-.5 .5 .6 .5-6.9 .5 4 .5 4 .5-3.7 .5 2.3 .5-1.6 .5-2.3 .5-.7 .5 4.1 .5 .4 .5 .2 .5-6.4 .5 4.4 .5-5.5 .5-3.1 .5 5.4 .5 1.7 .5-1.1 .5 2 .5-4.8 .5 3.2 .5-1.3 .5-1.2 .5-3.1 .5 4 .5-.9 .5 1 .5-2.2 .5-.8 .5 1.4 .5 0 .5 .3 .5 2.6 .5-6.3 .5 6 .5-12.4 .5 8.8 .5-4.8 .5 6.1 .5-7.7 .5 4 .5-5.7 .5-.8 .5 3.6 .5-.6 .5-4.4 .5 6.9 .5-7 .5 4.1 .5-6.4 .5-.1 .5 2.3 .5-2.8 .5 3.3 .5-6.3 .5 5.4 .5-1.9 .5-1.1 .5 2.6 .5-1.3 .5-.8 .5 2.8 .5-1.6 .5-.2 .5 1.9 .5-3.8 .5 1.7 .5-3.5 .5 1.9 .5-.8 .5-3.1 .5-2.9 .5 0 .5 .2 .5 3.1 .5-2.1 .5-.7 .5 1.5 .5 .3 .5 1.4 .5-4.9 .5 2.5 .5 .2 .5-4.1 .5 2.4 .5-2.7 .5 1.5 .5 1.3 .5-5.4 .5 1.7 .5-.2 .5 1.8 .5-2.4 .5 2.3 .5-3.3 .5 .5 .5 2.3 .5-1 .5-.6 .5 5.3 .5-3.8 .5 .6 .5-4.4 .5-.1 .5-2.1 .5 6.3 .5-6.5 .5-1.3 .5 3.5 .5 1.6 .5-5.7 .5 2.4 .5-3.4 .5 1.5 .5 5.2 .5-3.8 .5-1.3 .5 .4 .5 .1 .5-1.3 .5-3.1 .5-.4 .5 7.1 .5-7.1 .5 4.1 .5-5 .5 4.4 .5-1.9 .5-2.6 .5 5 .5-7.4 .5 1.4 .5 4.6 .5-5.4 .5-.2 .5-1.6 .5 1.4 .5 4.4 .5-8.1 .5 1.1 .5 .6 .5 1.1 .5 3.4 .5-.8 .5-.6 .5-.8 .5 5.1 .5-8.6 .5-.2 .5 2.5 .5 .3 .5-1.3 .5-1.7 .5-1.5 .5 2.2 .5-1.3 .5 .2 .5-1.7 .5 5.5 .5-2.4 .5 3.2 .5-5.8 .5 1.3 .5-.7 .5 .7 .5-.6 .5 .3 .5-4.2 .5 4.1 .5 2.4 .5-6.2 .5 3.8 .5 2.3 .5 1.6 .5-3.2 .5 1.2 .5 3 .5-1.2 .5-4.3 .5-.6 .5 3.7 .5-2.1 .5-2.1 .5 .4 .5 1.1 .5-1.5 .5-.4 .5-.2 .5-3.2 .5 7.5 .5-1.4 .5 .5 .5-4 .5 .5 .5 1 .5 .5 .5-6.4 .5 5.1 .5-3.3 .5 2.2 .5-1.4 .5 5.6 .5-2.8 .5-1.4 .5 3.4 .5-3.5 .5-1.5 .5 1.3 .5-.5 .5 1 .5 1.9 .5-2.3 .5 0 .5 2.5 .5-1.8 .5 1.4 .5-2 .5-3.3 .5 .7 .5-1 .5 7 .5-1.2 .5-1.6 .5-.7 .5 3.6 .5-.8 .5 1.5 .5-2.4 .5-.3 .5 6.7 .5-5.7 .5 2.5 .5 3.5 .5-7.3 .5 6.3 .5-1.2 .5-.3 .5 1.2 .5-3.2 .5-2.3 .5 9.9 .5-5 .5 3 .5 .7 .5-1.7 .5 .7 .5 1 .5 2.5 .5-2 .5 2.3 .5-3 .5-.3 .5 2.4 .5 1.3 .5 .9 .5 3.9 .5-2.1 .5-1.4 .5 3 .5-1.4 .5 .5 .5 .8 .5-1.6 .5-1.4 .5 3.2 .5-.7 .5 2.9 .5-1.4 .5-.5 .5-.6 .5-2.5 .5 4.1 .5 4.8 .5-1.7 .5 .8 .5-2.2 .5 2.9 .5-3.7 .5 .9 .5 2.7 .5-4.2 .5 3.9 .5 .9 .5 3.6 .5-5.5 .5 2.9 .5-2.4 .5 .4 .5-5.1 .5 4.3 .5 1.4 .5 2.3 .5-.8 .5 5.7 .5-4.3 .5-3.9 .5 2.7 .5 .8 .5 4.3 .5-5.5 .5 3.6 .5 1.8 .5-3.7 .5 2.6 .5-4.6 .5 5.5 .5-5 .5 4.8 .5 5.4 .5-2.7 .5-.5 .5 .5 .5 5 .5-3.5 .5 1.3 .5-3.3 .5 .2 .5-1.2 .5 2.3 .5-1 .5 4.2 .5-.5 .5-1.6 .5-.8 .5-5.3 .5 5.7 .5 2.4 .5 1.2 .5-8.6 .5 1.9 .5 6.3 .5-2.5 .5 2.2 .5-.5 .5 2.7 .5-5.7 .5 3.2 .5 3.7 .5-1.7 .5-2.3 .5 3.1 .5-.4 .5-4.4 .5 5.4 .5 0 .5-1.9 .5 2.6 .5-5 .5 3.5 .5-1.2 .5-1.7 .5 .8 .5 4.1 .5-4.2 .5 .4 .5-.9 .5-.5 .5 4.1 .5 2.8 .5-2.1 .5-2 .5 .6 .5-2.6 .5-.2 .5-1.5 .5 6.4 .5-4 .5-.7 .5 .3 .5 2.1 .5-1.6 .5 1.5 .5 .5 .5 2.9 .5-5.9 .5 3.8 .5-2.2 .5 .7 .5 4.9 .5-2.3 .5-2.4 .5 2 .5-1.2 .5 2.6 .5-3.9 .5 2.3 .5-.7 .5-.3 .5-.3 .5-.9 .5 2 .5 2.4 .5-3.4 .5 .9 .5 2.2 .5-2.4 .5 4.2 .5-.1 .5-6.9 .5 4.1 .5-.8 .5 4.7 .5 .4 .5-4.9 .5 1.3 .5 1.6 .5-.5 .5 2.8 .5 .9 .5-.7 .5 1.4 .5-.1 .5-2.1 .5-.6 .5-.3 .5 3.7 .5 .5 .5 .5 .5-3 .5 .2 .5 1.7 .5 2.6 .5-2 .5-.2 .5-2.4 .5 3.1 .5 .3 .5-3.4 .5 6.5 .5-6.2 .5 4.5 .5-2.5 .5 1 .5-2 .5 .7 .5 3.2 .5-2 .5-.2 .5 3.1 .5-.3 .5-1.3 .5 .2 .5 3.5 .5-4.4 .5 1.4 .5 .1 .5-4.2 .5-1 .5 5.1 .5 2 .5-1.2 .5-1.4 .5 0 .5 3.8 .5-2.3 .5-7 .5 9.6 .5-1 .5 .4 .5 1.5 .5 .6 .5-2 .5-5.1 .5-1.6 .5 5.5 .5-1.2 .5 3.3 .5-.1 .5-1.9 .5 2.1 .5-3.4 .5 .2 .5-1.8 .5 1.4 .5 1.4 .5 2 .5-4.2 .5 3.7 .5 3.6 .5-8.7 .5 2.5 .5 5.4 .5-2.7 .5 2.2 .5-2 .5-3.2 .5-2.1 .5 1.6 .5-.2 .5 .4 .5-3 .5 5.7 .5-6 .5 3 .5-1.3 .5-3.4 .5 2.6 .5-.3 .5-.6 .5 2.3 .5-3.1 .5 7.1 .5-3.4 .5-4.9 .5-3.7 .5 8.7 .5-2.5 .5-.4 .5-2.6 .5-1.3 .5-1 .5 10.4 .5-2.4 .5-5.1 .5 5.7 .5-8.9 .5 6.1 .5 0 .5-3.6 .5 .9 .5-1.4 .5 2.6 .5 3 .5-.9 .5-1.5 .5 1.6 .5-7.1 .5 8.9 .5-5 .5-3.2 .5 2.1 .5-.7 .5 1.7 .5 .4 .5-6.2 .5 8.6 .5 1.2 .5-6.4 .5 6.1 .5-.3 .5-.3 .5 1.7 .5-7 .5 5.2 .5-3.9 .5 8.3 .5-7.8 .5-.5 .5 5.7 .5-1.1 .5-1.3 .5 .4 .5 1.1 .5 2.8 .5-5.8 .5 .3 .5 0 .5 1.1 .5 .2 .5-3.3 .5 3.7 .5-3.9 .5 2.1 .5-.1 .5-.1 .5 4 .5 .2 .5-1.4 .5 1.2 .5-4.5 .5 4.1 .5-3.5 .5 .8 .5 .2 .5-3.7 .5 1.8 .5 1.2 .5 1.3 .5-1.1 .5-1.6 .5-.7 .5 2.7 .5-2.9 .5 0 .5 2.5 .5 .7 .5-2.6 .5-2.5 .5 4.8 .5 .9 .5-3.2 .5-.3 .5-5.1 .5 7.3 .5-5.2 .5 4 .5-3.5 .5 .7 .5-.5 .5-4.1 .5 10.7 .5-10.7 .5 3.8 .5-2.5 .5 1.1 .5 3.7 .5-7.9 .5 3.1 .5 2.4 .5 0 .5-.2 .5-2.6 .5-2.1 .5 1 .5 2.4 .5 3 .5-1.4 .5 3.9 .5-3.3 .5 .5 .5 .3 .5-4.4 .5 5.8 .5-3.8 .5 0 .5 8.8 .5-8.4 .5 3.5 .5 .7 .5-.2 .5 3.1 .5-4.3 .5 6.2 .5-9.5 .5 2.3 .5 6 .5-2.4 .5-3.4 .5-.6 .5 1.2 .5 6.6 .5-5.6 .5-4 .5 2.7 .5-2.4 .5 4.8 .5-3.2 .5 2.1 .5-2.9 .5 4.3 .5-4.1 .5-.5 .5-.8 .5-1.2 .5 1.9 .5-2.3 .5 7 .5-6.3 .5-2 .5 3.9 .5-4 .5 1.8 .5-1.6 .5-2 .5 4.6 .5-3.5 .5 2 .5-3.7 .5-2.7 .5 .4 .5 1.7 .5 .9 .5 .7 .5 1.3 .5-4.1 .5 3.5 .5-3.4 .5 1.2 .5 7.6 .5-3.3 .5-4.2 .5 4.8 .5-1.2 .5-1.6 .5 .9 .5-4.5 .5-.1 .5-2.2 .5 3 .5-4.9 .5 1.3 .5 1.9 .5-2.8 .5 1.6 .5 3.2 .5-7.1 .5 5.5 .5-5.2 .5-1 .5 2.6 .5 1.6 .5-4.4 .5-.2 .5 .5 .5-.9 .5 2.1 .5-2.4 .5 1 .5 1.3 .5-2 .5 3.7 .5-4.5 .5-.4 .5 6.6 .5-1.4 .5-3.6 .5 1.7 .5-1.4 .5-2.2 .5 2.6 .5-1.1 .5 4.8 .5-10.4 .5 6.2 .5-1.8 .5-2.2 .5 .5 .5-.1 .5-2.3 .5 1.7 .5 3.1 .5-5.6 .5 2.6 .5-4.9 .5 4.1 .5 2.1 .5-1.3 .5-.1 .5-3.1 .5 3.8 .5-3.8 .5 4 .5-1.9 .5-1.7 .5 4.1 .5-4.8 .5 3.1 .5-2.5 .5-.6 .5 2.2 .5-2 .5-.9 .5-.5 .5 .7 .5-.3 .5-.9 .5-1.7 .5-3.6 .5 6.1 .5-.2 .5 3.5 .5-1.8 .5 1.7 .5 1.4 .5-5.6 .5-.7 .5 3.9 .5-3.5 .5 .7 .5 4 .5-2.2 .5 1.2 .5-5.9 .5 3.2 .5 2.5 .5-5.8 .5 3.5 .5 .4 .5-6.6 .5 9.2 .5-5.7 .5 1.1 .5 4 .5-8.6 .5 5 .5-2.6 .5 3.6 .5-5.4 .5 4.8 .5-6.3 .5 3.1 .5 .1 .5-1.8 .5-.7 .5-.2 .5 2.9 .5-1.6 .5-1.4 .5-2.5 .5 2.9 .5 .8 .5-1.4 .5 3.6 .5-7.9 .5 10.8 .5-6.1 .5-1.9 .5-1 .5 6.7 .5-.1 .5-1.4 .5 1.1 .5 1.1 .5-.9 .5 4.4 .5-.8 .5-1.3 .5-3.3 .5 7.6 .5-4.2 .5-1.1 .5 5.8 .5-1.8 .5-5.9 .5 .9 .5 3.2 .5-1.9 .5 2.8 .5 6.8 .5 1.1 .5-7 .5 2.3 .5 .5 .5-2.2 .5-3 .5 6.3 .5-2.8 .5 1.7 .5 .7 .5-3.5 .5 6 .5-3.8 .5 .4 .5-1.6 .5 2.7 .5 .8 .5-3.7 .5 2.8 .5-2.3 .5-1.6 .5 2.5 .5 2.6 .5 .2 .5 1.7 .5-3.8 .5 1.3 .5 1.3 .5 1.6 .5-1.5 .5-1.7 .5-1.3 .5 6.7 .5-.1 .5-4.1 .5 5.2 .5-3.7 .5 1.3 .5 1.9 .5-4.1 .5-.8 .5-2.1 .5 5.1 .5 .5 .5 1.3 .5-.4 .5-.9 .5 2.9 .5-4.8 .5 3.8 .5 .7 .5-1.1 .5 4.8 .5-2.7 .5 2.5 .5-.8 .5-2.4 .5 5.3 .5-1.8 .5-4.6 .5 2.1 .5-2 .5 2.4 .5 .2 .5 1.4 .5-1.1 .5 2.9 .5-1.1 .5-3 .5 3.1 .5-.5 .5-.5 .5 2.7 .5 3.1 .5-4.7 .5-2.1 .5 4.5 .5 7.7 .5-8.6 .5 2.2 .5-1.6 .5 3.2 .5 1.5 .5-3.8 .5 3.3 .5-5.3 .5 3.1 .5-3.5 .5 3.6 .5-2 .5 2.1 .5 1.3 .5-1.2 .5-.2 .5-1.6 .5-.4 .5-.7 .5 2.1 .5 2.2 .5-1 .5 1 .5 3 .5-3.5 .5 1.8 .5 1.7 .5-.5 .5 .1 .5-.4 .5 4.8 .5-4.6 .5-.5 .5 2.6 .5 2.8 .5-.4 .5-3.2 .5 2.1 .5-.7 .5-.9 .5 1.4 .5-.1 .5-1.2 .5 3.8 .5-5.1 .5 4.2 .5 1.6 .5 0 .5-4.3 .5-1 .5-3.3 .5 4 .5 6.2 .5-9.4 .5 .4 .5 6 .5-.2 .5-5.6 .5 4.6 .5 1.3 .5-4.2 .5 6.2 .5-5.2 .5 6.1 .5-2.1 .5-2 .5-2.1 .5 3.2 .5 .6 .5 0 .5-1.1 .5 .9 .5 2.6 .5-4.7 .5 2.1 .5 1.6 .5-1.1 .5 2.3 .5 3.1 .5-5.9 .5 1.5 .5-7.5 .5 6.3 .5 2.5 .5-4.2 .5 5.9 .5-7.8 .5 7.8 .5-4.6 .5-1.3 .5 1.2 .5 .5 .5-2 .5-1 .5 2 .5 3.4 .5-1.4 .5 2.2 .5-4.6 .5 .6 .5 .2 .5 1.2 .5 .9 .5 3.4 .5-2.3 .5-1.1 .5 3.1 .5-5 .5-1.1 .5 4.9 .5-1.1 .5 0 .5 2 .5-3.1 .5 .5 .5 1.1 .5 .6 .5 .6 .5-2.2 .5 .2 .5-6.6 .5 8.6 .5-6.8 .5 3.5 .5 6.2 .5-7 .5-3 .5 7.7 .5-5.3 .5 1 .5 0 .5 2.2 .5 .1 .5-2.2 .5 2.9 .5-4.8 .5 3.7 .5-3.1 .5 3.2 .5-3.4 .5 .5 .5 4.6 .5-6.3 .5-.2 .5 4 .5-2.1 .5-.5 .5 .5 .5 5.2 .5-7.8 .5 1.7 .5 5.2 .5-7 .5 2 .5 1.3 .5-3.3 .5 4.9 .5-8.8 .5 5.9 .5 1.2 .5 7 .5-11.6 .5 5.2 .5 5.9 .5-6.9 .5 4.5 .5-1.7 .5-3.7 .5 4.4 .5-3.3 .5 2.2 .5-4 .5 5.2 .5-7.7 .5 5.2 .5 3.4 .5-1.9 .5-2.1 .5 .3 .5-.3 .5 7.8 .5-6.4 .5 .4 .5-1.4 .5 .9 .5 2.9 .5-2.7 .5-.4 .5 .7 .5 .5 .5 1.3 .5-1.7 .5 .6 .5-1.4 .5 3.9 .5-2.2 .5-1.1 .5 1.3 .5-.9 .5-3.8 .5 3.1 .5 4.2 .5-2.9 .5 1.4 .5-4.6 .5-2.2 .5 1.6 .5 4.8 .5-5.9 .5 .4 .5 4.5 .5-3.3 .5 .1 .5 1.4 .5-.6 .5-.8 .5 1.5 .5-2.2 .5 1.7 .5 1.8 .5-4 .5 2.1 .5-2.1 .5 4.6 .5-.2 .5 .7 .5 .2 .5-.1 .5-.8 .5-3.8 .5 4 .5-4.6 .5 7.6 .5-5 .5 .6 .5-4.5 .5 5.5 .5 3 .5-9.3 .5 2.5 .5 .3 .5-.3 .5 4.9 .5 2 .5-7.7 .5 5.1 .5-3.1 .5 3.9 .5-9.2 .5 4.9 .5 3.9 .5-4.7 .5 4.7 .5-4 .5 4.1 .5-1.2 .5-3 .5 0 .5 1.6 .5 3.3 .5-2.7 .5-1.5 .5 9.7 .5-11.7 .5 3.3 .5 1.9 .5-3.8 .5 2.5 .5-1 .5-2.6 .5 4.6 .5-3.8 .5 .9 .5 4.7 .5-5.6 .5 4.1 .5 1.4 .5-.5 .5-1.2 .5-1.8 .5-2.8 .5 3.6 .5 .6 .5-2.4 .5-1.2 .5 4.3 .5-4.7 .5 3.5 .5-2.4 .5-2.9 .5 7.8 .5-2.5 .5-.2 .5-4.8 .5 3 .5 1 .5-2.5 .5 4.7 .5-7.7 .5 6.6 .5-6.3 .5 .8 .5 .7 .5 4.4 .5-3.1 .5 0 .5-.6 .5-1.4 .5 1.5 .5-.2 .5 1.7 .5-.1 .5-4.7 .5 4.3 .5 4.6 .5-4 .5 1 .5-1.6 .5 0 .5 1.4 .5-3.2 .5 2.6 .5-3.8 .5 4.6 .5-4.9 .5 5.2 .5 .6 .5-6.5 .5 5.4 .5-2.7 .5 3.8 .5-4.1 .5 .6 .5-.1 .5 3.8 .5-7.7 .5 6.5 .5-1.6 .5-1.4 .5 .7 .5 2.8 .5-.2 .5 2.2 .5-5.6 .5-2.9 .5 3.2 .5 .5 .5-.3 .5 3.9 .5 2.4 .5-4.7 .5-5.4 .5 6.7 .5-4.2 .5 1.6 .5 1.9 .5-1.2 .5-1 .5 .9 .5 1.2 .5-.2 .5 3.5 .5-12.1 .5 5.4 .5 .7 .5 3.5 .5-1.3 .5 1.7 .5-5.4 .5 3.1 .5 2.2 .5-1.5 .5-.8 .5 1.7 .5 3.3 .5-9.1 .5 8.8 .5-3.1 .5-2.7 .5 3.6 .5-1.3 .5 2.9 .5-4.6 .5 4.5 .5-4.2 .5 3.2 .5 1.1 .5-1.6 .5 1.9 .5-2.9 .5 4.1 .5-3.8 .5-.5 .5 .5 .5 .7 .5-2.1 .5 3.8 .5-2.4 .5 1.5 .5-5.1 .5 .2 .5 2.4 .5-1.8 .5 2 .5 1.6 .5 1.3 .5 .8 .5-1.6 .5-3.6 .5 3.1 .5-2.6 .5 2.6 .5-3.7 .5 5.8 .5-2.2 .5-1.6 .5-2.4 .5 4 .5-1.8 .5 1.3 .5-1.5 .5 .5 .5 4.1 .5 .8 .5-6.6 .5 2.5 .5 1.3 .5-1.4 .5-.9 .5 6.1 .5-7.4 .5 2.7 .5-2.2 .5 .8 .5-5.3 .5 7.5 .5-2.3 .5-2.1 .5 6.3 .5-4.6 .5-.7 .5-.5 .5 4.6 .5-2.5 .5-.7 .5-2.5 .5 1 .5 2.9 .5-.9 .5-4.8 .5 2.7 .5 2.6 .5 5.9 .5-8.2 .5-3.6 .5 7.2 .5-3 .5-2 .5 4.4 .5-2 .5-1.8 .5-1 .5 2.8 .5 .4 .5-4.6 .5 6.6 .5-5.5 .5 6.4 .5-2.6 .5-1.3 .5 1.4 .5-2.2 .5 1.3 .5 4.1 .5-5.3 .5 3.3 .5-4.1 .5 2.1 .5 2.3 .5-5.2 .5 3.7 .5-1.1 .5-2.6 .5 1.8 .5 3 .5-.5 .5-4 .5 1.7 .5 .6 .5-4.3 .5 4.6 .5 2.1 .5-.3 .5-4.5 .5 .3 .5-1.3 .5 1 .5 .6 .5 2.2 .5-1.4 .5-2.4 .5 4.3 .5 .2 .5-3.4 .5 1 .5 .6 .5-3.6 .5 4.5 .5 1.5 .5 3.2 .5-4.1 .5-1 .5 .4 .5 1.9 .5 .5 .5-4 .5 2.5 .5 1 .5-6.4 .5 8 .5-3.8 .5 2.5 .5-2.3 .5-.5 .5 .3 .5 .8 .5 2.2 .5-3.9 .5-2.3 .5 .8 .5-.9 .5 3.9 .5-4.4 .5 5.8 .5-3.5 .5-.6 .5 3.3 .5-4.1 .5 .2 .5 2.7 .5 .1 .5-4.1 .5 8.5 .5-4.4 .5-4.1 .5 2.8 .5 2.9 .5-1.5 .5 1.7 .5 3.8 .5-3.4 .5 2.6 .5-3.2 .5-3.3 .5 5.1 .5-5.4 .5 3.9 .5-.9 .5-3.6 .5 .2 .5 1.3 .5 1.5 .5 2.4 .5-2.8 .5 4.6 .5-2.2 .5-3.3 .5 .3 .5 2 .5-1.2 .5 1.1 .5 2.1 .5-1.2 .5 1.6 .5-4.1 .5-.5 .5-1.5 .5-1 .5 3.1 .5 6 .5-5.3 .5 .6 .5 5 .5-7.4 .5 2.2 .5-.3 .5-.8 .5 5.7 .5-3.1 .5 3.4 .5-5.5 .5 7.5 .5 1.3 .5-7.3 .5 2.3 .5-.2 .5 1.8 .5-3.9 .5 8.6 .5-4.4 .5-3.3 .5-4.2 .5 3.6 .5 .4 .5 2.6 .5-3.6 .5-1.4 .5 4.1 .5-.7 .5 .8 .5-1.6 .5 2.5 .5-1.2 .5-5.4 .5 4.7 .5 1.8 .5-1.6 .5 3.5 .5-4.4 .5 2.9 .5-4.6 .5 3 .5-1.3 .5-1.1 .5-.8 .5 3.6 .5 .4 .5-2.6 .5-1.6 .5 .8 .5 3.8 .5-4.8 .5 5.5 .5-6.9 .5 4.6 .5 1 .5 1.3 .5-3.8 .5-.7 .5-1.4 .5 5.8 .5-2.3 .5-.6 .5 .3 .5 5.3 .5-4 .5 2.8 .5-8 .5 7.2 .5-3.4 .5 1 .5-.8 .5 .3 .5 1.9 .5-1.5 .5-3.6 .5 2.5 .5-.2 .5 1.1 .5-.9 .5-.3 .5 2.7 .5-5.1 .5 7.9 .5-6.4 .5-1.1 .5 4.5 .5 .8 .5 .5 .5 .6 .5-2.3 .5-.9 .5 .8 .5-.9 .5-1.4 .5 5.1 .5 .4 .5-4.5 .5-.8 .5-.8 .5-3.1 .5 2.2 .5 .1 .5 1 .5-2.5 .5-2.3 .5 6 .5 2.5 .5-9.3 .5 4.8 .5 2.5 .5-4.6 .5-.5 .5 3.8 .5-.5 .5-.7 .5 5.6 .5-.2 .5-1.9 .5-1.7 .5-.6 .5 2.8 .5-2.7 .5 4 .5-.7 .5-4.5 .5 3.2 .5 1.9 .5-2.1 .5 .7 .5-3 .5-.1 .5 1 .5-.3 .5-1 .5 2.7 .5 1 .5-4.8 .5-2.4 .5 4.2 .5-1 .5-1.1 .5-.7 .5 2.4 .5-2.8 .5 4.9 .5 1.6 .5-6 .5-3.8 .5 5.2 .5 .1 .5 1.9 .5-.2 .5 1.2 .5 5.4 .5-7.8 .5 .4 .5 2 .5-5.6 .5 6.2 .5-3.5 .5-2.1 .5 1.2 .5 3.1 .5 .6 .5 .8 .5-2.1 .5-3 .5 2.9 .5-1.6 .5 5.7 .5-10.6 .5 8.8 .5-1.9 .5-1.9 .5 .2 .5-.9 .5-.6 .5-1.1 .5 8.9 .5-2.3 .5-.5 .5-.6 .5-5.4 .5 4 .5 .9 .5 2.4 .5-5.3 .5 3 .5 0 .5-3.1 .5 .6 .5 2.9 .5-.5 .5-4.6 .5 11.8 .5-2 .5-6.9 .5 5 .5-5.1 .5 1.1 .5 5.4 .5-3.9 .5 3 .5-3.1 .5 1.5 .5-3 .5 3.7 .5 .7 .5-2.8 .5-3.1 .5 .4 .5-1.4 .5 3.7 .5-.3 .5-1.4 .5 2.2 .5-3.7 .5 5.6 .5-2.4 .5 1.7 .5-5.6 .5-.7 .5-2 .5 5.9 .5-4.2 .5 6.1 .5-2.8 .5 1.5 .5-4.8 .5 1.7 .5 1.9 .5 1.4 .5-4.9 .5 3.8 .5 .1 .5 .8 .5-2.6 .5-.3 .5 1.6 .5 1.6 .5-3.4 .5 3.5 .5-5.3 .5 3 .5-3.3 .5 3.2 .5-2.6 .5 4 .5-.5 .5-3.9 .5-2.1 .5 3.6 .5 1.4 .5-1 .5-3 .5 3.9 .5-2.9 .5 2.3 .5-4.1 .5 3.1 .5 1.7 .5-4.4 .5 .9 .5 2.2 .5-.1 .5-.4 .5-1.1 .5-3.4 .5 3.8 .5-3 .5 3.4 .5-5.6 .5 9.2 .5-.6 .5-1.4 .5-3 .5 1.4 .5 3 .5-.4 .5-3.2 .5 4.6 .5-1.1 .5-.5 .5-2.1 .5 .8 .5-1.8 .5 2.1 .5-2.1 .5 4.3 .5-2.7 .5 .5 .5 .4 .5 .1 .5-4 .5 6.5 .5-2.8 .5-1.5 .5-1 .5 .6 .5 .1 .5 1.3 .5-2.2 .5 2.1 .5-.2 .5-2.2 .5 6.7 .5-5.7 .5 .9 .5-.7 .5-.7 .5 1.9 .5 1.7 .5-3.4 .5-1.9 .5 3.4 .5-6.3 .5 5.5 .5-.7 .5 1.3 .5-4.3 .5 2.6 .5-1.5 .5 1.2 .5 2.6 .5-1.9 .5-1.1 .5 4.2 .5-2.9 .5-4.8 .5-1.3 .5 7 .5 0 .5-.5 .5 .1 .5-2.8 .5 1.8 .5-2.7 .5 .8 .5-.3 .5 .1 .5 1.2 .5 .3 .5-1.4 .5 0 .5 1 .5 4.8 .5-1.2 .5-5.2 .5 5 .5-5.4 .5 6.7 .5-2.7 .5-3.3 .5-2.9 .5 1.8 .5 0 .5 5.7 .5-5.7 .5 2.3 .5 1.6 .5-1.3 .5 .5 .5-1.3 .5 2.2 .5-4 .5 1.5 .5-2.3 .5 3.2 .5-3.1 .5 2.1 .5 1.9 .5-.6 .5-5.1 .5 2.4 .5-.5 .5 5.2 .5-4.9 .5 3.8 .5-2.8 .5-2.1 .5 3.8 .5-2.8 .5 4.6 .5 .4 .5 1.3 .5-5.4 .5 6.2 .5-1.3 .5-6.5 .5 9.6 .5-1.1 .5-6.3 .5 3.3 .5-3.8 .5 2.9 .5 2.3 .5-.3 .5-3.4 .5 1.9 .5-2.1 .5 3 .5 .6 .5-1.5 .5 2.5 .5-1 .5-1 .5 1.8 .5-5.8 .5 2.8 .5-4.1 .5 4.1 .5-1 .5 3 .5-6.6 .5 3.3 .5 1.3 .5 0 .5 1.6 .5-3.2 .5-1.4 .5-.1 .5 6.6 .5-5.6 .5 1.9 .5-1.5 .5 4.7 .5-3.4 .5 4.4 .5-4.5 .5 2.5 .5 1.2 .5 .6 .5-4.9 .5 2.1 .5 .9 .5-4 .5 6.1 .5-.7 .5 .4 .5-8.9 .5 8.1 .5 .6 .5 1.3 .5-3.7 .5 2.8 .5 3 .5-5.7 .5 0 .5 .2 .5-2.7 .5 2.7 .5 4.8 .5-5.9 .5 1.8 .5 3.4 .5-1.3 .5-.7 .5-1.2 .5 .7 .5 1 .5 1.1 .5-1.3 .5 2.1 .5-6.6 .5 6.5 .5-3.2 .5 1.3 .5-1 .5 2.6 .5-1.8 .5 1.8 .5-3.3 .5 2.4 .5 2.4 .5-.3 .5-3.5 .5 1.1 .5-1.3 .5 .4 .5 .2 .5 2.7 .5-1.7 .5 2 .5 .1 .5-6.7 .5 3.7 .5-1.8 .5-2.7 .5 1.3 .5 1.5 .5 5.2 .5-3.8 .5-.6 .5 .4 .5-1.7 .5 2.1 .5-.6 .5-3.5 .5 2.7 .5 9.3 .5-6.3 .5-1.6 .5 1.9 .5-3.7 .5 2.6 .5 1.9 .5-5.9 .5 1.9 .5 .7 .5 .1 .5-.7 .5 1.7 .5 1.6 .5-1.8 .5 1.6 .5 0 .5-3.9 .5 2.1 .5-1.4 .5 2.6 .5-2.2 .5 .5 .5 4.6 .5-4.3 .5-3.2 .5 4.1 .5 .5 .5-1.9 .5 1.4 .5 2.3 .5-3.6 .5 .8 .5-1.1 .5 2.5 .5-1.1 .5-1.8 .5 1.8 .5 4.6 .5-8.4 .5 .7 .5 3.9 .5-4.2 .5 7.6 .5-8.3 .5 .3 .5 1.7 .5 3.7 .5-.7 .5-.5 .5-.6 .5 2.5 .5-2.1 .5 0 .5 2.9 .5-5.7 .5 3.4 .5 2.3 .5 .2 .5-3.2 .5 4.8 .5-3.1 .5 1.3 .5-5 .5 .9 .5 0 .5 5.9 .5-9.6 .5 1.1 .5 6.1 .5-1.7 .5-7.4 .5 5.7 .5 0 .5 3.3 .5-7.6 .5 3.1 .5 3.7 .5-.7 .5-3.9 .5 1.7 .5-2.5 .5 7 .5-3.9 .5 4.4 .5-.8 .5-3.6 .5 1.9 .5 2 .5-.4 .5 2.5 .5-1.1 .5-2 .5 .6 .5-3.5 .5-2.3 .5 5 .5-.7 .5-3.5 .5 2.3 .5-1.6 .5 .6 .5 4.3 .5-5.2 .5 .7 .5 2.9 .5-1.2 .5 .3 .5-3.8 .5 3.4 .5-.8 .5-.9 .5 .7 .5 .8 .5 2.9 .5 2.6 .5-3.9 .5 3.3 .5-3 .5-3.5 .5 3.6 .5 2.9 .5 .2 .5-5.4 .5 7.1 .5-7 .5-.1 .5 .3 .5 4.5 .5-2.5 .5 1.1 .5-7.3 .5 5 .5 0 .5 1.9 .5-2.6 .5 4 .5-4.3 .5-1.6 .5-.5 .5 6.8 .5-1.2 .5-3.6 .5 4.4 .5-3.1 .5 0 .5-3.2 .5 2 .5 1.4 .5 .1 .5-1.8 .5 3.6 .5 1 .5-5.2 .5 3 .5-4.3 .5 4.7 .5-3 .5 2 .5 .9 .5-.8 .5 3.1 .5-4.4 .5 .9 .5 1.7 .5-1 .5 .5 .5-1.3 .5-1.7 .5 3.1 .5-1.6 .5 1.7 .5 .9 .5-4.1 .5-.9 .5 .6 .5-.5 .5-3 .5 8.5 .5-2.8 .5 4.5 .5-6.6 .5 2.7 .5-.7 .5-.7 .5 2.4 .5-2.3 .5-.3 .5 .2 .5-6 .5 2.9 .5-.8 .5 4.7 .5-3.4 .5-.5 .5-1.3 .5-2.9 .5 3.4 .5-5 .5-3.5 .5 4.3 .5 1 .5-2.6 .5 .7 .5 1.7 .5 1.8 .5-1.6 .5 3.3 .5-2.4 .5 5.1 .5-7.1 .5 6.3 .5-.6 .5 .5 .5-2.5 .5 6.2 .5-2.2 .5-1.4 .5 1.2 .5 1.2 .5 .8 .5-2.3 .5 0 .5 3.2 .5-1.1 .5 4.7 .5-5.5 .5 2.8 .5 2.3 .5-4.4 .5 2.8 .5-1.5 .5-.5 .5 3.7 .5-5.9 .5 1 .5-2.6 .5 4 .5 2.7 .5-2.8 .5 2.6 .5-3.5 .5 4.5 .5-2.7 .5-.7 .5 5 .5-3.7 .5 1.5 .5-1 .5 1.5 .5-1.3 .5-3 .5 3.4 .5 .4 .5-.3 .5-1.5 .5 4.7 .5-6 .5 2 .5 .2 .5-2.9 .5-.2 .5 4.4 .5 .1 .5-1.1 .5-3.9 .5 3.1 .5 1.3 .5 .9 .5 1.3 .5-1.8 .5 1.2 .5 1.5 .5-9.2 .5 10.7 .5-6.6 .5 2 .5-.7 .5-2.9 .5 .2 .5 3.1 .5-1.4 .5 2.2 .5-2.5 .5 6 .5-5.4 .5 5.6 .5-6.4 .5 3.2 .5 1.4 .5-5.6 .5 .8 .5 3.2 .5 1.7 .5 .4 .5-2 .5 1 .5-5.2 .5 1.5 .5 4.1 .5-4.7 .5 .4 .5-3.6 .5 3.3 .5-3.4 .5 4.4 .5 2.5 .5-2.7 .5 2.1 .5-3.8 .5 2.3 .5-3.7 .5 1.6 .5 6.2 .5-7.9 .5 1.8 .5-1.8 .5 6.2 .5-3.3 .5-2.3 .5 .1 .5 5.4 .5-1 .5 .2 .5-2 .5 2.1 .5 .8 .5-1.7 .5-5.3 .5-1.1 .5 1.1 .5 3.8 .5-4.2 .5 .9 .5 2.5 .5-2.1 .5-.9 .5 5.1 .5-1 .5 .7 .5 .4 .5 1.3 .5-3.4 .5-1.3 .5-2.4 .5 3.6 .5-.8 .5 3.9 .5-.9 .5 1.8 .5-.9 .5 .1 .5-1.6 .5-1 .5-1.3 .5 .8 .5-2.2 .5 3.1 .5-1.1 .5-4.4 .5-1.5 .5 4.7 .5 .7 .5 .5 .5 3.7 .5-4.4 .5-1.5 .5 3.7 .5 1.3 .5 1.4 .5-6.3 .5 1.6 .5-.5 .5 4.4 .5-2 .5-1.5 .5 1.6 .5-2.5 .5 .4 .5 .5 .5-1 .5 .7 .5 1.4 .5-.2 .5 2.9 .5-1.5 .5-2.1 .5-4.9 .5 1.6 .5 2.2 .5 .2 .5-2.1 .5 2 .5 1.1 .5-1.8 .5 1.1 .5 0 .5-1.5 .5-.4 .5 1.6 .5 .8 .5-.4 .5-5.1 .5 2.4 .5 3.2 .5-4.9 .5 5.7 .5-3.5 .5 1.6 .5-2 .5 3.2 .5-1 .5 .9 .5-5.2 .5 6.3 .5-5.4 .5 3.2 .5 2 .5-1.5 .5 1.7 .5-.7 .5-.1 .5-2 .5 4.2 .5 .3 .5-3.5 .5-1.2 .5 2.4 .5 0 .5-.5 .5 1.4 .5-.5 .5 1.7 .5-2.4 .5-3.5 .5 .3 .5 3.2 .5 3.1 .5-5.1 .5-1.3 .5 5.3 .5-3.4 .5 1.8 .5 .9 .5 .5" fill="none" stroke="#8000FF" stroke-width="2.5" stroke-linejoin="round" shape-rendering="crispEdges"/>
<path d="M229.0 1393.4l.5 1.8 .5 .4 .5 .4 .5 3.1 .5 .2 .5 3.7 .5-.7 .5-2.6 .5-1.1 .5 1.3 .5-.9 .5-2.5 .5 1.9 .5-3.2 .5 .3 .5-.9 .5-1.6 .5-.8 .5 1 .5-1 .5-2.9 .5 5.8 .5-.2 .5-.4 .5-5.2 .5 1.2 .5-1.7 .5 0 .5-1.2 .5 3.4 .5-2.6 .5 4.5 .5 .9 .5-1.2 .5 .6 .5 1.6 .5 2 .5-1.5 .5 5 .5-5.2 .5 1.1 .5 .7 .5 1 .5 1.4 .5 1.2 .5-1.4 .5 4.7 .5-6.5 .5 4.6 .5 0 .5-2.7 .5 .2 .5 3.6 .5 2.5 .5-1.5 .5 .4 .5 4.9 .5-7 .5 .2 .5 .9 .5 2.5 .5-1.6 .5-2.8 .5 2.4 .5 .7 .5-6.6 .5 4.1 .5-2.5 .5 .7 .5-3.8 .5-.4 .5 1.1 .5-2 .5-.9 .5-1.9 .5 1.6 .5 .2 .5-6 .5 .4 .5-4 .5-1.1 .5-.6 .5-3.9 .5-2.3 .5-2.8 .5 3.9 .5 .5 .5-8.2 .5 4.9 .5-2 .5-2.8 .5 6.1 .5-2.9 .5 3 .5-6.5 .5 .3 .5-2.8 .5 2.5 .5-5.1 .5 1.3 .5 1.4 .5-3.3 .5-1.1 .5-3.8 .5-2.1 .5-2.2 .5-4.1 .5 2 .5-4.7 .5-1.7 .5-2.4 .5 3.2 .5-7.6 .5 .5 .5 1.5 .5-.2 .5-1.1 .5-3.6 .5 6.2 .5-1.6 .5-1.5 .5 7 .5-.8 .5-2 .5-.1 .5 6.9 .5 .5 .5 3.4 .5 3.3 .5-2.3 .5 4.2 .5 1.2 .5-1.1 .5 8.7 .5-3 .5 .5 .5 2.4 .5-1.4 .5 .9 .5 2.4 .5-1 .5 8.3 .5-4.3 .5 1.6 .5 2.9 .5-.4 .5 1.8 .5-6.1 .5 5.5 .5-4.2 .5 .7 .5 1.1 .5 .1 .5 .1 .5 1 .5 3 .5-7.6 .5 1.9 .5-6.5 .5 10.9 .5-.2 .5 .6 .5 3.1 .5-4.2 .5-3.4 .5 3.7 .5 2.5 .5 .1 .5-4.7 .5 .3 .5 .3 .5 .6 .5-1.3 .5-.3 .5 4.8 .5 .5 .5-2.5 .5-.6 .5 .6 .5-.4 .5 .6 .5 2.7 .5-.3 .5 2.9 .5-.7 .5 .1 .5 2.2 .5-3.5 .5 7.3 .5-.3 .5 4.3 .5-3.1 .5 1.3 .5-1.2 .5 6.7 .5-3.9 .5 2 .5-3.5 .5 1.8 .5-3.5 .5 .5 .5 .4 .5-1.6 .5 3.2 .5-.1 .5 2.9 .5-7.1 .5 .6 .5 1 .5 1.4 .5-4.2 .5 2.1 .5 2.7 .5-2 .5-.5 .5-2.2 .5 1.8 .5 2.2 .5 .8 .5-6.1 .5 4.9 .5-1.5 .5-1 .5 6.1 .5-2.2 .5-3.6 .5 .4 .5 2.7 .5-3.3 .5 2.8 .5 1.6 .5-3.9 .5 3.1 .5 .4 .5-2.5 .5 1.9 .5 .3 .5-.8 .5-2.7 .5 2.9 .5-3 .5 .8 .5-.7 .5-3.8 .5-1.3 .5 6.2 .5-1.5 .5-.9 .5 .9 .5-2.2 .5 .7 .5 1.7 .5-5.3 .5 3.5 .5 .8 .5 1.2 .5 .2 .5 .1 .5 2.8 .5 1.7 .5-.2 .5 1.6 .5-.8 .5 2.2 .5 .2 .5-4.4 .5-1 .5 .2 .5 .1 .5 1.9 .5-.9 .5-3.5 .5-.1 .5 0 .5-.1 .5 .3 .5-7.4 .5 6.5 .5 .1 .5-2.9 .5 4.3 .5-1.7 .5-.3 .5-4.9 .5 5.2 .5-1 .5 .7 .5-4.6 .5 2.4 .5 3.5 .5-7.3 .5 12.7 .5-4.2 .5 6.4 .5-1.4 .5 6 .5-5.4 .5 3.5 .5-4 .5-1.5 .5 3.3 .5 1.9 .5-3.9 .5 3.3 .5-1.1 .5-1.4 .5 .3 .5-.8 .5-1.3 .5 1.4 .5 .4 .5-2.7 .5-4.3 .5 6.7 .5-3.1 .5 2.3 .5-3.4 .5 2.1 .5-1.9 .5-1 .5-.6 .5-.4 .5-6 .5 4.8 .5-2.1 .5-3.1 .5-5.8 .5 3.8 .5-3.1 .5 2.3 .5-5.5 .5-.2 .5 2 .5-7.1 .5 3.8 .5 .7 .5-4.1 .5 3.8 .5 3.4 .5 1.3 .5 3.9 .5-.4 .5-3.9 .5 5.5 .5 0 .5 0 .5-2.2 .5 6.6 .5-.1 .5-3.1 .5-2.4 .5-.6 .5 0 .5 4.3 .5-5.6 .5 6.1 .5-2.9 .5 1.1 .5 .8 .5 3.5 .5-3.5 .5-2 .5 1.2 .5-.4 .5-.1 .5 .2 .5-2.2 .5 2.9 .5-3.1 .5 5.1 .5-3.1 .5-3.6 .5 6.3 .5 .3 .5-.9 .5-3.2 .5 .7 .5 4.3 .5 4 .5-4 .5 .3 .5 .9 .5-5.5 .5 7.1 .5-3.7 .5 1.5 .5-1.8 .5-.9 .5 .9 .5-.5 .5 1 .5 4 .5-1.2 .5-3.8 .5 1.9 .5-2.4 .5 3.4 .5-1 .5-2.7 .5 .5 .5 0 .5-2.6 .5-.5 .5 1.9 .5-2 .5 1.6 .5 1.5 .5-2.7 .5 1.4 .5 2.2 .5-5 .5 3.7 .5-5.1 .5-.8 .5 2.7 .5-.9 .5-2.8 .5 5.9 .5-.9 .5-4 .5 1.8 .5 .3 .5-2.4 .5 3.5 .5-3.5 .5-.6 .5 7 .5-4.3 .5 0 .5 1.3 .5-.9 .5 6.3 .5-3.6 .5 .9 .5 .2 .5 2.7 .5-9.4 .5 6.6 .5-1.3 .5-.1 .5 2.4 .5-1.1 .5-5 .5 4.4 .5-.7 .5 2.9 .5-6.7 .5 6.1 .5-.8 .5 3.6 .5-2.5 .5-5.1 .5 6.2 .5-1.3 .5-1.4 .5 4 .5-2 .5 4 .5-1 .5-4.6 .5 4.3 .5-1.6 .5 .1 .5-.2 .5 2.5 .5-3.9 .5 2.6 .5-4.3 .5 3.9 .5-3.6 .5-.2 .5 2.5 .5-2.5 .5 4.6 .5-5 .5 5.6 .5-2.2 .5-1.5 .5 1 .5-1.1 .5 4.6 .5-4.2 .5-2.4 .5 2 .5-1.6 .5 .6 .5-1.3 .5 .1 .5 2.8 .5-2.1 .5 1.5 .5-2.9 .5-.2 .5-1.8 .5 2.8 .5-.2 .5-4.8 .5 1.1 .5-5.8 .5-.3 .5 3.9 .5-5.6 .5 9.9 .5-3.5 .5 2.1 .5-3.2 .5-1.9 .5 1.9 .5 .9 .5 4.7 .5-3.1 .5 1.4 .5 5.9 .5-5.3 .5 2.1 .5 5.2 .5 3.4 .5-8.1 .5-.9 .5 4.6 .5 2.8 .5 .2 .5-.4 .5-1 .5 5.1 .5-.7 .5-1.9 .5 1.9 .5 3.4 .5-2.5 .5 5.6 .5-6.1 .5 2.3 .5-5.7 .5 3.5 .5 1.6 .5-1.3 .5 0 .5 .7 .5-.7 .5 1.2 .5 1.8 .5 1.1 .5-2.6 .5 2.4 .5-.7 .5 4.2 .5 2.1 .5-3.1 .5 .5 .5 3.6 .5-3.8 .5-1.9 .5-2.8 .5 4.9 .5 1.6 .5-4.3 .5-2.2 .5 .2 .5 2.6 .5-6.6 .5 1.6 .5-2.3 .5-6.2 .5 2.8 .5 .5 .5-2.3 .5-3.1 .5-4.7 .5 .8 .5-2.8 .5-1.8 .5 0 .5-6.5 .5-.5 .5-4.1 .5 1.9 .5-8.3 .5 1.4 .5-11.3 .5-3.7 .5 .7 .5-4.1 .5 .8 .5-3.1 .5-1.8 .5-5.3 .5 0 .5 .4 .5-4.6 .5-.2 .5 1.1 .5-4.2 .5-.9 .5 .7 .5-3.2 .5-5.7 .5 1.9 .5-1.8 .5-1.1 .5 2.4 .5-4.7 .5-4.4 .5-4.1 .5 1.2 .5-3.6 .5 .6 .5-3.8 .5 .2 .5-5 .5 1 .5 .6 .5-1.3 .5 3.8 .5-.1 .5 1.8 .5 1.1 .5 3.3 .5-1.6 .5 7.1 .5 .1 .5 1.1 .5 1.4 .5-.9 .5-.8 .5 5.5 .5-5 .5 1.6 .5-4.7 .5 3.9 .5 1.6 .5 2.1 .5 .4 .5 1.7 .5-2.5 .5 .9 .5 2.7 .5-1.2 .5 2.1 .5 2.2 .5-3.1 .5 2.3 .5 6 .5-.7 .5 5.1 .5 .7 .5 2.1 .5 7.2 .5 1.6 .5 4.9 .5 1 .5 2.7 .5 3.4 .5 1 .5 3.4 .5 .1 .5 4.9 .5 2.8 .5 1 .5-2.2 .5 6.9 .5-5.4 .5 5.3 .5 .5 .5 2 .5-2.9 .5 .6 .5 3.8 .5 .2 .5-4.5 .5 1.8 .5-.9 .5-3.8 .5 8.3 .5-3.8 .5 1.7 .5 .5 .5-3.4 .5 4.7 .5-3.7 .5-2.1 .5 3.4 .5-1.1 .5-2.2 .5 1 .5 2.2 .5-3.1 .5-2.5 .5-1.8 .5 3.8 .5-6 .5-4.2 .5 6.1 .5-4.7 .5-4.6 .5 .8 .5-.9 .5-2.7 .5 2.3 .5-.5 .5 4.1 .5-4.6 .5-1.9 .5 .2 .5 0 .5 1 .5 .1 .5-7.8 .5 .4 .5 2.7 .5 3.7 .5-5.9 .5 2.9 .5-4.3 .5-.8 .5-.3 .5 2.6 .5-5.2 .5-.1 .5-.9 .5-.8 .5-4.4 .5-1.1 .5-1.6 .5-5.6 .5-6.3 .5-3.1 .5-3 .5-5.5 .5-6.5 .5-4.6 .5-4.3 .5-8.5 .5 5.3 .5-10.1 .5-8.7 .5-5.9 .5-1.9 .5-13 .5-6.8 .5-2.9 .5-9 .5-3.3 .5-4.5 .5-1.2 .5-2.1 .5 1.9 .5-1.1 .5-.4 .5-1.9 .5 3.2 .5-2.7 .5 .9 .5-4 .5-1.2 .5 5.2 .5-3 .5 .8 .5 5.3 .5 5.8 .5 1 .5 5 .5 7 .5 5.5 .5 3.9 .5 .3 .5 9.3 .5 .2 .5 9.8 .5-2.6 .5 5.2 .5 2.3 .5 3 .5 7 .5-4.4 .5 4.3 .5-.8 .5 .5 .5 3.4 .5-.3 .5-.8 .5-1.8 .5 2.5 .5 5.6 .5-9 .5 .2 .5-4.3 .5 7.2 .5-12.5 .5 .2 .5-4.5 .5 4 .5-3.3 .5-1.6 .5-3.2 .5 1.4 .5-2.1 .5-1.5 .5-8.7 .5 5 .5 4.4 .5 4.6 .5-4.5 .5 13.5 .5 1.3 .5 6.7 .5-2.6 .5 5.6 .5 0 .5 3.1 .5 1.7 .5-.2 .5 8.6 .5 .1 .5-1.4 .5-1.2 .5 8.5 .5-6.3 .5 3.8 .5 .9 .5 2.5 .5 2.1 .5 3.6 .5-.5 .5-2.9 .5 5.5 .5-.7 .5-1.6 .5 2.4 .5-9 .5-1 .5-1.9 .5-1.6 .5 .7 .5-3.2 .5-3.7 .5 .6 .5-6.2 .5-5.2 .5-4.9 .5-6.8 .5-3.5 .5-8 .5-7.3 .5-11.2 .5-14.2 .5-17.6 .5-10.4 .5-21.3 .5-8.4 .5-12 .5-10.4 .5-13.2 .5-10.6 .5-5.9 .5-12.2 .5-.2 .5-1 .5-2.7 .5 7.6 .5 3.3 .5 11.2 .5-1.9 .5 10.6 .5 5.9 .5 6.3 .5 5.6 .5 5.1 .5 13.3 .5 8.4 .5 7.6 .5 7.9 .5 9.9 .5 6.8 .5 5.8 .5 3 .5 15.3 .5-4.8 .5 8 .5 .1 .5 8.5 .5 6.7 .5 2 .5 7.1 .5 1 .5 9 .5 .4 .5 10.4 .5-.1 .5 1.9 .5 .6 .5 3.6 .5 6.7 .5-5.8 .5 .6 .5 5.2 .5 3.2 .5-2.7 .5-.3 .5 2.1 .5 .5 .5 3.5 .5 2 .5-4.2 .5-1.6 .5-2.1 .5-3.5 .5 .5 .5-6.9 .5 1.2 .5-5.9 .5-4.3 .5 2.1 .5-8.6 .5 5.3 .5 .4 .5-2.6 .5-.9 .5-2.8 .5-1 .5 5.8 .5-7.3 .5 4.7 .5-.5 .5 .1 .5 3.3 .5 3.6 .5 .1 .5 6.5 .5-2.4 .5 2.8 .5 .3 .5-.9 .5 .4 .5 4 .5-5.4 .5 6.9 .5-9.7 .5-2.6 .5 3 .5-2.2 .5 4.6 .5-2.8 .5-4.5 .5 .7 .5-1.9 .5-.3 .5-2.8 .5-2 .5-1.7 .5-3 .5-2.8 .5-4.5 .5-.1 .5-1.8 .5-5.3 .5 1.6 .5-4 .5 0 .5 6.1 .5 2.7 .5 1.9 .5-2.7 .5-1.4 .5 1.9 .5 2.3 .5 1.6 .5 3.1 .5 4.1 .5 3.1 .5-3.9 .5 2.2 .5 .1 .5-.9 .5-.1 .5-4 .5 4 .5-3.4 .5 .4 .5-2 .5 2.9 .5-1.8 .5-.3 .5 3.4 .5-2.2 .5 3.9 .5 5.3 .5-1.4 .5 .5 .5-1.6 .5 3.7 .5 .5 .5 3.1 .5-.3 .5-2.6 .5-.3 .5-8.4 .5 4 .5-1.7 .5 3.3 .5-.4 .5-.2 .5-.1 .5-.8 .5-1.3 .5-1.3 .5 2.5 .5-1.9 .5 1.9 .5-3.8 .5-.1 .5-2.7 .5 3.1 .5-10.2 .5-8.4 .5-2.1 .5-5.4 .5-4.2 .5-6.3 .5-2.9 .5-9.2 .5-5.9 .5-6.6 .5-8 .5-7.1 .5-10.5 .5-6.2 .5-9.2 .5-5.4 .5-8.8 .5-.8 .5-3.3 .5 3.8 .5 3.2 .5 2.9 .5-.1 .5 7.6 .5-3.1 .5 8.1 .5 1 .5 8.2 .5 2.7 .5 8.1 .5 4.2 .5 10.1 .5 7.7 .5 3.3 .5 7 .5 5.5 .5 5.3 .5 5.7 .5 3.2 .5 5.2 .5 7.3 .5 .9 .5 5.2 .5 .3 .5 9.7 .5 .2 .5-1.6 .5 5.6 .5-1.9 .5 2.4 .5-1.8 .5 .3 .5 5.1 .5-.8 .5 .8 .5 .9 .5-1.7 .5-1.2 .5 1.7 .5-5.5 .5 3 .5 .8 .5-4.7 .5 2.9 .5-6.6 .5-3.2 .5 2.1 .5-3.1 .5 .2 .5-4.3 .5 1 .5-2.6 .5-1.3 .5-.1 .5-5.3 .5-.2 .5 1.5 .5-1.1 .5-2.6 .5-5.5 .5 1.5 .5-2.6 .5-1 .5-3.6 .5-1.9 .5 1.7 .5 4.3 .5-4.8 .5 2.8 .5 1.5 .5-.7 .5 3.3 .5-1.1 .5-1.2 .5 3.2 .5 3 .5-1.7 .5 5.9 .5 3.5 .5 2.3 .5 1.8 .5 3.1 .5 4 .5-1 .5-2.2 .5 4.9 .5 5.9 .5 .2 .5-3.6 .5 2.8 .5-.4 .5-.3 .5 2.4 .5 3 .5-1.3 .5-.4 .5-4.3 .5 9.2 .5-8.3 .5 1.5 .5 .4 .5-2.9 .5-.2 .5-8.5 .5 1.8 .5-.9 .5-2.6 .5-1.8 .5 4.1 .5-6.1 .5 3.9 .5-1.8 .5-4 .5-3.5 .5 .7 .5-1.2 .5-.5 .5-.8 .5 1.5 .5-.8 .5 .8 .5 .7 .5 3.5 .5 2.8 .5-3.2 .5 .9 .5-4.3 .5 8.9 .5 .5 .5-.5 .5 .1 .5 2.2 .5 1.5 .5-2.7 .5 2.5 .5-4.4 .5 3.1 .5 3 .5-4 .5 .7 .5 4.4 .5-4.3 .5 4.1 .5 5.8 .5-3.3 .5 3.6 .5 .1 .5-4.6 .5 1.6 .5 1.6 .5 1.9 .5 6.5 .5-6.8 .5-.8 .5-3 .5 4.6 .5-3.6 .5 3.5 .5 .8 .5-6 .5 7.6 .5-4.8 .5 2.8 .5-.4 .5 1.9 .5-1.5 .5 1.4 .5 3.3 .5-7.3 .5 2.2 .5 3 .5 1.6 .5-.7 .5-.9 .5 .4 .5 3 .5 7.4 .5-5.8 .5-2.6 .5 6.6 .5 1.5 .5-.3 .5-3.8 .5 4.2 .5-.2 .5 2.8 .5-3 .5 1 .5-3.2 .5 .4 .5 5.1 .5-4 .5-1.7 .5-3.6 .5-1.5 .5 4.3 .5-2.9 .5 .8 .5-1.2 .5-.8 .5-6.1 .5 7.1 .5 1.7 .5-3.8 .5-.4 .5 2.3 .5 1.4 .5-.2 .5 6.9 .5 4.3 .5 5.5 .5-2.2 .5 3.2 .5 2.4 .5 2.7 .5 4.9 .5-1.4 .5 1.5 .5-2.8 .5 7.3 .5-6.4 .5 7.5 .5-.6 .5-1.5 .5-2.5 .5 3.4 .5-2.5 .5 3.7 .5-9.9 .5 6.1 .5-6.7 .5 5.3 .5-1.7 .5 1.8 .5-1.9 .5-4 .5-3.6 .5 2.7 .5 .3 .5-2.1 .5-2.6 .5 .6 .5 .8 .5-1.4 .5-6 .5 2.2 .5-2.1 .5-5.5 .5 6.2 .5-1.8 .5-4.1 .5 2.5 .5-1.2 .5 4.2 .5-4.1 .5 2.8 .5-2.9 .5 5.4 .5-3.9 .5 9.7 .5-1.6 .5 .5 .5 3.7 .5-1.4 .5 2.9 .5 7.1 .5-1.5 .5 .4 .5 1.7 .5 4 .5 1.2 .5-1.8 .5 3.8 .5-2.6 .5-.7 .5 .7 .5-4.7 .5-3.7 .5 1.1 .5 .2 .5-4.8 .5 .5 .5-1.1 .5-5.2 .5-1.2 .5-2.5 .5-.6 .5-2.6 .5-2.8 .5 .7 .5-3.8 .5-1.3 .5-2.8 .5 1.8 .5 2.8 .5-1.5 .5-1.3 .5-.5 .5-1.8 .5 .4 .5 3.8 .5-2.2 .5 .2 .5 2.7 .5-3.1 .5 .6 .5 5.3 .5-.4 .5-3.4 .5 5.1 .5 0 .5 2.2 .5 2.3 .5-1 .5 4.7 .5 8.7 .5-1.4 .5 2.2 .5 5.3 .5-3.9 .5 5.8 .5 .1 .5-3.1 .5 .2 .5-1.8 .5 .5 .5-.1 .5-2.8 .5-.5 .5-.9 .5-5.9 .5 4.9 .5 .6 .5-4.2 .5-4 .5-4.6 .5-2.2 .5-.4 .5-5.2 .5-8.9 .5 1 .5-8.5 .5-3.1 .5-2.1 .5-1.5 .5-5.1 .5-.4 .5-4.4 .5-.1 .5-9 .5 .6 .5-1.6 .5-.6 .5-9.8 .5 3.4 .5-3.5 .5 6.2 .5-.5 .5 4 .5 4.1 .5 1.8 .5 .8 .5 4.8 .5 9.5 .5-3 .5 7.6 .5 3.3 .5 8.6 .5 1.9 .5 8.3 .5 3.4 .5 6.2 .5 10.5 .5-2.7 .5 6.3 .5 8.1 .5 0 .5 1.4 .5 5.6 .5 8.1 .5 5.7 .5 1.3 .5 3 .5 4.8 .5-.4 .5 4.9 .5 1.9 .5-2.3 .5 4.8 .5 .1 .5-.7 .5 1.2 .5 3.3 .5-4.3 .5-.1 .5 6.7 .5 2.4 .5-3.1 .5 2.2 .5-5.1 .5 .9 .5 2.1 .5 .7 .5 1.2 .5-1.7 .5-.5 .5-2.2 .5-.6 .5-1.3 .5-2.5 .5-.4 .5-4.3 .5-1.2 .5-3.7 .5-.1 .5 4.9 .5-1.3 .5-1.4 .5-1.3 .5-2.4 .5-2.5 .5 3.2 .5 .4 .5-5.4 .5 8.4 .5-4.6 .5 2.4 .5 1.9 .5 .5 .5-4.9 .5 4 .5 .1 .5-1.7 .5 .9 .5-2.4 .5 2.7 .5-1.7 .5 1.2 .5 .9 .5 2.2 .5-2.4 .5 .3 .5 0 .5 7.4 .5-6.5 .5-.4 .5-.8 .5 4 .5-2 .5 2.1 .5 3.6 .5 3 .5-2.5 .5 2 .5 .1 .5-.3 .5 2.3 .5 3 .5-.7 .5-.4 .5 .5 .5 2.7 .5-1.1 .5 .4 .5-1.4 .5 5.5 .5-4.7 .5 4.1 .5 5.4 .5-1.9 .5-2.9 .5 .8 .5 3.2 .5 .5 .5-1.9 .5 1.9 .5-2.4 .5-5.1 .5 8.5 .5-3.5 .5-.8 .5 1.2 .5-.5 .5-1.7 .5-.1 .5 3.3 .5 .6 .5-1.6 .5-.9 .5-2.3 .5 1.2 .5 1.1 .5-5.9 .5 3.7 .5 3 .5 3.2 .5 2.1 .5 1.4 .5-4.9 .5 2.1 .5-1.4 .5-1.1 .5 .3 .5 .1 .5 .4 .5-6.3 .5 1.6 .5-3.4 .5 3.9 .5-.7 .5-6.1 .5-1.7 .5 2 .5 .1 .5-4.7 .5 1 .5 1.3 .5-3.2 .5 5.5 .5-3.5 .5-.2 .5-3 .5 5.1 .5-5.9 .5 1.2 .5 .1 .5 .8 .5-3.1 .5 1.3 .5 2.8 .5-1.7 .5 0 .5 1.5 .5-1.6 .5 .8 .5-2.8 .5-2.6 .5 5.1 .5-8.1 .5 .2 .5-.1 .5 7.3 .5-5.5 .5 1.8 .5-6.2 .5 .8 .5 2.9 .5-1.8 .5 1.2 .5 1.2 .5-.8 .5 .6 .5 1.2 .5 .1 .5 2.4 .5 2.9 .5-2.8 .5 4.2 .5 2.8 .5-.7 .5 2.5 .5 7.1 .5 1.5 .5 5.9 .5 2.2 .5-1.9 .5 1.7 .5 2.7 .5 3.5 .5-9.2 .5 7.9 .5 2.8 .5-2.4 .5 .8 .5-1 .5-3 .5 6 .5-2.5 .5 1.4 .5-.3 .5 4.5 .5-3.1 .5 .1 .5-1.1 .5-1.5 .5 2.7 .5 1.5 .5-2.5 .5-7.9 .5 5.9 .5 5.8 .5-5.9 .5 1.3 .5-5 .5 2.5 .5-1.1 .5 3.2 .5-.8 .5-.6 .5 .5 .5-3.8 .5 4.4 .5-4.8 .5 2.1 .5 2 .5-6.5 .5 1.3 .5-1.9 .5-.2 .5-.4 .5-1.6 .5-.5 .5 .9 .5-4.7 .5 .3 .5 .1 .5-2.2 .5 3.6 .5-1.8 .5-.8 .5-.9 .5 1.7 .5 3 .5-3.3 .5 5.3 .5-.2 .5-.3 .5-3.9 .5 2.4 .5 4.4 .5-2.9 .5-.7 .5 .1 .5 2.4 .5-5.3 .5 5.8 .5-2.5 .5-3.7 .5 2.6 .5-8.4 .5 2.2 .5 2.3 .5 1.6 .5-6.9 .5-1.4 .5 2.3 .5-.3 .5-2.3 .5-.5 .5 4.8 .5-6 .5-2.1 .5 2 .5 3.2 .5-2 .5-2.2 .5-3.4 .5 2.2 .5 6.2 .5-5.3 .5 .8 .5-5.8 .5 2.6 .5-.3 .5 5.2 .5-3.4 .5 .4 .5 .1 .5-3.9 .5 10.3 .5-4.9 .5 4.7 .5-3.9 .5 7.8 .5 4.2 .5-.1 .5 6.2 .5-4.2 .5 3.5 .5-.2 .5 2.1 .5 .3 .5 5.5 .5-2.6 .5-3.7 .5 2.1 .5-2.9 .5 2.5 .5-4.7 .5 4.3 .5-1.7 .5-.8 .5-1.6 .5-.4 .5-3.4 .5 1 .5 .2 .5-1.6 .5-4.7 .5 1.3 .5-6.2 .5-1.3 .5-2.6 .5-1.7 .5-.8 .5 .2 .5 0 .5-1.9 .5-3 .5 2.9 .5 .2 .5-4.1 .5-1.2 .5 .5 .5 5.9 .5-5.2 .5 .1 .5 1.7 .5-4.3 .5 0 .5 2 .5 2 .5-2.7 .5-.9 .5-2.2 .5 7.9 .5-5 .5 7.4 .5-2.3 .5 6.6 .5 3.8 .5-3.1 .5 5.7 .5 2.6 .5 3.1 .5-1.9 .5 4.3 .5-1.7 .5-1.8 .5 5.1 .5 1.2 .5-2.4 .5 .1 .5 2.3 .5 2.1 .5-6.4 .5 5 .5 1.9 .5-6.7 .5 2.8 .5-1.7 .5 .1 .5 1.3 .5-7 .5 1.7 .5-2.8 .5 1.5 .5 4.9 .5-8.4 .5-.5 .5-3.2 .5-1.4 .5-5.8 .5-5.7 .5-4.6 .5-3.2 .5-6.5 .5-6.1 .5 5.3 .5-4.6 .5-4 .5-1.3 .5-.3 .5-5.8 .5-.2 .5-3.2 .5 2 .5-9.9 .5 .8 .5 4.9 .5-6.9 .5 .1 .5-1.3 .5-4.9 .5 7.7 .5 2.5 .5 .5 .5-1.8 .5 3.5 .5 7.1 .5 4.8 .5-5.4 .5 6.8 .5 .2 .5-.5 .5 5.3 .5 8.9 .5 4.2 .5 6.7 .5 6.2 .5-1.9 .5-1.7 .5 3.1 .5-1.6 .5 1 .5-1 .5-1.7 .5-2 .5 3.1 .5 3 .5-7.6 .5 4.7 .5-1.6 .5-3.3 .5-1.2 .5 3.1 .5-2.2 .5 0 .5-.6 .5 5 .5-8 .5 4.3 .5 2.9 .5-4.3 .5 4 .5-5.2 .5-.1 .5 .8 .5-3.9 .5 1 .5 .6 .5-3.5 .5 1.8 .5 .1 .5-7 .5-.2 .5-1.7 .5-5.6 .5 .7 .5-2.5 .5-6.8 .5-.6 .5-3.7 .5-.3 .5 .2 .5-2.4 .5-.4 .5-2.6 .5 2 .5-2.6 .5-7.6 .5-4.1 .5-3 .5-13.9 .5-.8 .5-.8 .5-9.8 .5-1 .5-9.7 .5 5.1 .5-4 .5-1.7 .5-3.1 .5 .5 .5-.4 .5-1 .5-2.2 .5 .2 .5 .4 .5-.5 .5-1.1 .5-.7 .5 3.2 .5-1.1 .5 2.2 .5-.9 .5 1.1 .5 7.7 .5 5.4 .5 8.2 .5-2.6 .5 4.5 .5 .6 .5 1.1 .5 .1 .5 3.4 .5 1.2 .5-2.7 .5 6.1 .5-.4 .5-1.7 .5 2.9 .5 3.9 .5 .7 .5-2.6 .5 2.5 .5-1.6 .5-5.8 .5 .4 .5 2.6 .5-3.3 .5 .1 .5 1.5 .5-1.8 .5-1.4 .5-2 .5 7.2 .5-8.1 .5 1.7 .5 3 .5-3 .5-2.3 .5-.8 .5 4.6 .5-1.3 .5-6.5 .5 .7 .5 4 .5 1.6 .5-5.5 .5 2.7 .5-6.4 .5-.9 .5 .2 .5 3.1 .5-1.5 .5 .3 .5-6.4 .5 6.8 .5-5.6 .5 6 .5-6.1 .5-5.4 .5 3.1 .5-2.5 .5 4.5 .5-3.8 .5 1.6 .5-5.4 .5-.7 .5 1.4 .5-.9 .5-2.9 .5 2.7 .5 1 .5-3.8 .5-.5 .5-.1 .5 2.2 .5-1.4 .5 1.4 .5 1.6 .5-3.1 .5 .2 .5 .1 .5 7.6 .5-7.1 .5 .4 .5-.9 .5 2.6 .5-1.2 .5-3.6 .5 4.5 .5-1.5 .5 1.5 .5-1.7 .5-1.6 .5-2.4 .5 4.2 .5 .5 .5-4.8 .5 1.8 .5 1.3 .5-1.2 .5 1.4 .5-1.5 .5-.3 .5 4.5 .5-6.2 .5 5.5 .5-2.8 .5 2.2 .5-1.3 .5 2.1 .5-1.5 .5 1.9 .5-4.5 .5-.3 .5 .7 .5 0 .5-5.1 .5 4.2 .5-7.2 .5 .7 .5-7.6 .5 .1 .5-2 .5-2.3 .5-2.9 .5 .6 .5-2.9 .5 3.8 .5-5.6 .5-.8 .5-6.8 .5 6.4 .5-1.6 .5-7.7 .5-1.6 .5-6.6 .5 9 .5-7.7 .5-.6 .5-2.3 .5 3.4 .5 .8 .5-4.2 .5 5.2 .5-1.1 .5-.6 .5 5.1 .5 3.9 .5 2.6 .5 .8 .5 4.3 .5-.7 .5 2.7 .5 5.2 .5-2.4 .5 .2 .5 .9 .5 3.3 .5-1.2 .5 3.9 .5 1.4 .5 4.1 .5-.7 .5 5.1 .5 2.7 .5 4.3 .5 3.1 .5 3.8 .5-1.6 .5-.1 .5 7 .5 1.1 .5-.2 .5 4.3 .5 4 .5-2.1 .5-.4 .5 2.8 .5-1.1 .5 7.9 .5-5.6 .5 1.9 .5 6.2 .5-1 .5-.5 .5 6.6 .5 2.3 .5-4.6 .5 6.7 .5 2.2 .5 3.2 .5-2.1 .5 4.8 .5-4 .5 2.1 .5 2.9 .5-4.3 .5 .3 .5 1.8 .5 5.1 .5-6.7 .5 2 .5 .3 .5 4.9 .5-4.4 .5 1.4 .5 1.2 .5 1.8 .5-1.8 .5-1.3 .5 .3 .5-.3 .5 6.1 .5-2.8 .5 1.4 .5 0 .5-2.9 .5 .1 .5 1.8 .5 7.5 .5-4.6 .5 2.8 .5-2.6 .5 8.9 .5-4.8 .5-2.9 .5 3.2 .5 2.5 .5 2.1 .5-2.5 .5 2.7 .5-.5 .5 .1 .5-1.1 .5 2.1 .5 1.9 .5-2.2 .5-.5 .5 7.3 .5-4.4 .5 .2 .5-4.4 .5 .3 .5 .1 .5 6.6 .5-1.6 .5-1.4 .5-.1 .5 2.3 .5-1 .5-2.8 .5 6.3 .5-5.7 .5 3 .5-.9 .5 4.3 .5-7.1 .5 5.2 .5-1.6 .5-7.9 .5 2.9 .5 1.1 .5-1.2 .5 2.3 .5 .4 .5 .6 .5-4.4 .5 2.3 .5-2.1 .5 1.3 .5-1.7 .5-.2 .5-1 .5 1.5 .5-1.2 .5-2.8 .5-2.8 .5 6.6 .5 2 .5-5.1 .5 2.4 .5-3.1 .5-.5 .5-1.2 .5 3.3 .5 .5 .5-5.4 .5-1.8 .5 2.6 .5-1.8 .5-2.1 .5-6.4 .5 2 .5-2.7 .5-4.4 .5-2.1 .5-5.4 .5-2.8 .5-4.6 .5-3.6 .5 2.1 .5-6 .5-.5 .5-1.2 .5-5.9 .5 .1 .5-2.9 .5 .3 .5-3.2 .5 3.7 .5-2.7 .5-3.4 .5 3.1 .5-3.9 .5-1.6 .5 3.5 .5-1.3 .5-2.2 .5 2.9 .5-.8 .5-.7 .5 1.9 .5-1.5 .5 2.3 .5-1.7 .5 .2 .5-11 .5 10.2 .5 5.4 .5-5 .5 1.5 .5-.1 .5-2.5 .5 6 .5 3.5 .5 .2 .5-3.5 .5-.7 .5 1.7 .5 3.5 .5-.6 .5 4.2 .5 .5 .5-1.6 .5 2 .5 6.2 .5 1.8 .5 0 .5 5.2 .5-1.3 .5 1.7 .5 2.8 .5 3.6 .5-4.1 .5 7.4 .5 2 .5-.5 .5 1.6 .5 6.1 .5-2.4 .5 1.7 .5 4.1 .5-3.5 .5 9.4 .5-5.8 .5 1.5 .5-.6 .5 3.1 .5 .5 .5 2.4 .5-.1 .5-1.5 .5 9.3 .5 .5 .5 1.2 .5 1.1 .5 1.6 .5-1.5 .5 9.2 .5-6.4 .5 0 .5 8.4 .5-4 .5 2.3 .5-1 .5 3 .5 2.8 .5 1.4 .5-1.8 .5 6.1 .5 1.9 .5-3.1 .5 7.4 .5 .6 .5 .3 .5 0 .5 4.1 .5-1.7 .5-.4 .5 3.2 .5-.2 .5-2.9 .5 5.7 .5-6.1 .5 2.2 .5 2.8 .5-.8 .5 2.2 .5-.3 .5-6.3 .5 8.4 .5-3.8 .5 1.3 .5-1.4 .5-.4 .5 4.2 .5 0 .5 0 .5-1.5 .5 5.4 .5-2.1 .5 1 .5-.7 .5 .8 .5 2.3 .5-.1 .5 .3 .5-2.2 .5 0 .5-2.9 .5 2.1 .5-.8 .5-.5 .5 1.9 .5 .2 .5-4.1 .5 .3 .5 3.2 .5 .7 .5 .7 .5-2.7 .5-1 .5-1.2 .5 4.7 .5-2 .5 2.6 .5-4.4 .5 6 .5-3.3 .5-.1 .5 .8 .5 1.2 .5 .2 .5-5.9 .5 2.8 .5 2.2 .5 .4 .5-.8 .5-2.3 .5 2.9 .5-4.1 .5 3.3 .5 2.7 .5-2.9 .5 1.3 .5 2.3 .5-1 .5-4.9 .5 .5 .5-1.9 .5 6.8 .5-2.5 .5-.6 .5 1.3 .5-2.2 .5 4.1 .5-3 .5 4.1 .5-1.3 .5-.6 .5 1.3 .5-1.8 .5 .4 .5 2.7 .5 .9 .5-2.6 .5 1.8 .5-6.6 .5 3.7 .5-.4 .5-1.1 .5 2.2 .5 2.5 .5-2.6 .5 1.3 .5 .5 .5-.2 .5-2.8 .5-1.7 .5 3.7 .5-.8 .5-3.2 .5 4.3 .5-5.7 .5-1.3 .5 7.7 .5-8.6 .5 2.1 .5-.2 .5-1.5 .5 1.1 .5-3.2 .5-2.6 .5 6.5 .5-.1 .5-.4 .5-2.9 .5 1.6 .5-1.8 .5 3 .5-5.4 .5 3 .5-2 .5 2.2 .5-1.7 .5-4.5 .5 2.7 .5-1.9 .5 2.5 .5 .2 .5-5.2 .5 2.9 .5-3.9 .5 .4 .5 .8 .5 1.8 .5-2.2 .5-.1 .5-2.8 .5 .4 .5 1.4 .5-1.2 .5-.1 .5 .4 .5 2.7 .5-.7 .5 0 .5-2.3 .5-2.5 .5-1 .5 2.8 .5-2.5 .5-2.1 .5 3.6 .5 5.5 .5-4.8 .5 .3 .5-.4 .5 .5 .5-3.2 .5 3.4 .5 1.1 .5-1.2 .5-.1 .5-.7 .5 1.3 .5-4.3 .5-2.2 .5 2.8 .5 .6 .5 1 .5-3.4 .5 1.6 .5-.8 .5 1.3 .5-2.9 .5 2 .5 0 .5-2.5 .5 0 .5-.9 .5-.8 .5-.1 .5-1.3 .5 3.7 .5-1 .5-1.4 .5 .3 .5-.4 .5 3 .5-1.5 .5-4.5 .5 3.9 .5-5.1 .5 2.4 .5-.7 .5 2.3 .5-2.1 .5-.7 .5-.2 .5-1.8 .5-.1 .5 .4 .5 2.5 .5-.7 .5 .7 .5 1.6 .5-2 .5-6.2 .5 2.2 .5 4.3 .5-3.3 .5 .2 .5-.7 .5-3.8 .5 3.5 .5-1.6 .5 1.2 .5-.9 .5 2.4 .5-4.6 .5-2.9 .5 1.8 .5-2.3 .5-4 .5 3.3 .5 1.1 .5-3.6 .5 1.2 .5-.7 .5-1.2 .5-.4 .5-.2 .5-.1 .5 .1 .5 1.4 .5-2 .5-.4 .5 3.3 .5-6.9 .5 11.7 .5-4.3 .5 5.6 .5-2.8 .5 1 .5 2.1 .5-.2 .5-.5 .5 .2 .5-.7 .5 .4 .5 4.2 .5-6.6 .5 9.3 .5-1.3 .5-2.3 .5 4.8 .5 .6 .5-1.4 .5-7.3 .5 1 .5 5.9 .5-3.9 .5 3.4 .5-1.7 .5 1.7 .5-1.6 .5 .7 .5-3.8 .5 3.5 .5-1.9 .5 4.2 .5-3.7 .5 2.4 .5 .4 .5-1.4 .5-1.1 .5 2.1 .5-.3 .5 2.3 .5-3.4 .5-.3 .5 4.3 .5-.7 .5 2.1 .5 .5 .5-6.8 .5 4.5 .5-.3 .5-.2 .5 4.1 .5-.3 .5-4.6 .5 0 .5 1.6 .5 .1 .5-2 .5 2.1 .5 .9 .5-4.1 .5 3.7 .5-4.5 .5 4.3 .5-4.9 .5-.1 .5-1.3 .5 2 .5 .3 .5-.5 .5-.8 .5-.1 .5-1 .5-.1 .5 .7 .5-1.9 .5 1.2 .5-3 .5-.8 .5 0 .5 1.1 .5 2 .5-2.1 .5-.7 .5 .8 .5 1.5 .5 5.3 .5-1.8 .5 1 .5-.6 .5 1.9 .5-2.1 .5 5.6 .5-1.3 .5-.9 .5 3.1 .5-4.7 .5 1.9 .5 2.4 .5 2.7 .5-4.4 .5 5 .5-1.4 .5-4.4 .5 3.1 .5 1.5 .5-4.4 .5 5.5 .5-6.3 .5 6.5 .5-.2 .5 1.4 .5-1.6 .5-.9 .5-3.8 .5 7.4 .5-2.2 .5 .6 .5-2.9 .5-3.5 .5 6 .5-2.9 .5 2 .5 1.4 .5-3.8 .5 4 .5-2.3 .5 .8 .5 3.2 .5-4.3 .5 2.3 .5 1.2 .5 3.1 .5-1.9 .5 2 .5-3.4 .5-.4 .5 3.2 .5 4.1 .5 4.5 .5-8.1 .5-.1 .5 4.6 .5 3.3 .5-8.5 .5-.7 .5 8.9 .5-3.4 .5 .1 .5 1.2 .5-.5 .5 .2 .5 .6 .5-3.9 .5 3.8 .5-.1 .5 3.6 .5-.1 .5-2.7 .5 .7 .5 .6 .5 1.5 .5 1 .5-3.6 .5 4.8 .5-5 .5 4.7 .5-2.1 .5-2.6 .5 1.8 .5 .7 .5 2.9 .5 .6 .5-6.6 .5 2.9 .5 3.5 .5-1.2 .5 .2 .5 .4 .5 .4 .5 1.2 .5-3.6 .5-3.9 .5 5.9 .5-2.4 .5-2.2 .5 3.7 .5-1.8 .5 3.1 .5-6.1 .5 5.5 .5-1.3 .5 .5 .5-2.1 .5-.1 .5 3.7 .5-.6 .5-2 .5-2 .5 3.8 .5-2.2 .5 2.9 .5-3.3 .5 1.9 .5 .3 .5-2 .5 2.3 .5-4.3 .5 5.7 .5-4 .5-.2 .5-1.2 .5 .9 .5-1.1 .5 1.7 .5-2.1 .5 .4 .5 .7 .5-1.1 .5-1.5 .5 3.3 .5 2.3 .5-5.7 .5 3.1 .5-3.6 .5 .8 .5-1.8 .5 .9 .5-.5 .5 1.2 .5-.7 .5 5.1 .5-6.7 .5 2.9 .5 .2 .5-5.8 .5-.1 .5 5.3 .5-4.6 .5 .3 .5-4 .5 3.1 .5 1.4 .5 7.4 .5-3.1 .5-6.1 .5 4.2 .5-3.3 .5-.7 .5 .5 .5-.6 .5-2.7 .5 3.2 .5-2 .5 3.3 .5 5.4 .5-8.4 .5 6.6 .5-5.7 .5 1.9 .5 3.1 .5-.9 .5 1.6 .5 .5 .5-3.3 .5-.3 .5 2.6 .5-.1 .5 2.7 .5-8.1 .5 7 .5-1 .5-1.6 .5-.8 .5 .2 .5 .4 .5 5.6 .5-2.8 .5-.1 .5 1.4 .5 1.8 .5 1 .5-.9 .5 .3 .5-3.6 .5 5.3 .5 .4 .5-.5 .5 1.2 .5 3.8 .5-.5 .5-.6 .5 2.3 .5-1.9 .5 2.6 .5-2.3 .5 3.4 .5-1.7 .5-1.6 .5-1.6 .5 3.1 .5 .3 .5-2.4 .5 2.2 .5-.5 .5 2.1 .5-3 .5-.6 .5 8 .5-1.7 .5-1.8 .5 3.7 .5-4.6 .5 3.7 .5-.7 .5-1.3 .5 2.3 .5 4.3 .5-6.6 .5 .2 .5 5.8 .5-4.9 .5 1.3 .5-.5 .5-.6 .5 2.8 .5-3.2 .5 0 .5 1.8 .5 2.6 .5 1.2 .5-2.9 .5 2.1 .5 1.1 .5-1.8 .5 .9 .5-2.2 .5-2.9 .5 5.1 .5-4.1 .5 3.6 .5-3 .5-.8 .5 2.2 .5-2.4 .5 2.8 .5 4 .5-4.6 .5 3.9 .5-1.4 .5-2.2 .5 2.4 .5-.8 .5-1.5 .5-2 .5 1.4 .5 5.8 .5-4 .5 1 .5 2.4 .5-5.3 .5 3.7 .5-8 .5 3.2 .5-2.6 .5 4.6 .5-.1 .5-1.7 .5 .2 .5 7.8 .5-5.4 .5 .4 .5-3 .5 .3 .5 2.3 .5-1 .5 .4 .5-.1 .5-3.1 .5 4.6 .5-.2 .5 .8 .5 .3 .5 2.5 .5-4.7 .5 3.3 .5 .5 .5-3.7 .5 3.2 .5-3.5 .5 0 .5-1.4 .5 2 .5 4.8 .5-.5 .5-3.8 .5 1 .5 1.5 .5-4.8 .5 1.5 .5 .6 .5-3.6 .5 2.4 .5 .4 .5 .7 .5 .2 .5-5.7 .5 7.1 .5-2.1 .5 1.9 .5 .2 .5-1.8 .5 4.1 .5-7.7 .5 3.5 .5 .2 .5 2.8 .5-3.4 .5 1.3 .5-.8 .5 4 .5-5.2 .5-1.3 .5 .9 .5 2 .5 2.2 .5-8.2 .5 2.4 .5 6 .5-4 .5-.6 .5 .6 .5-.9 .5-.4 .5 2.5 .5-2 .5 5.4 .5-9.3 .5 6.4 .5-2.8 .5 5 .5-6 .5 3 .5 2.2 .5-2.5 .5-2.9 .5 .8 .5 .6 .5 2.5 .5-3 .5 .9 .5-3.9 .5 2 .5 3 .5-3.4 .5-.4 .5 .3 .5 8.9 .5-6.9 .5-.2 .5-2.5 .5-2.2 .5 6.2 .5-3.3 .5 2.8 .5-.7 .5-2.4 .5-1 .5 4.5 .5-6.6 .5-.5 .5 8.6 .5-5.2 .5 2.1 .5 1.9 .5 2.2 .5-2.2 .5-3 .5 2.2 .5-2 .5-1.8 .5 3.7 .5-5.7 .5 5.8 .5-2.2 .5 .2 .5-1.5 .5 1 .5 2.9 .5-1.7 .5 1.9 .5-1.2 .5-2.1 .5 .3 .5 .7 .5-1 .5 4.1 .5-5.5 .5 6.4 .5-5.1 .5-.3 .5 2 .5-2.7 .5 6.5 .5 2.1 .5-2.7 .5 .5 .5-1.2 .5-6.9 .5 5.3 .5-3.2 .5 3.4 .5-2.5 .5-.4 .5-.9 .5 3.4 .5 1.3 .5-4.7 .5 3.4 .5 .3 .5-1.2 .5-.1 .5 3 .5 .2 .5-1.4 .5-.2 .5-3.2 .5 0 .5 .9 .5 0 .5-2.4 .5 3.6 .5 2.1 .5 .2 .5-5 .5-.7 .5-.7 .5 1.2 .5 .5 .5 2.8 .5-4.8 .5 2.8 .5-1.6 .5 1.9 .5-1 .5-4.6 .5 6.7 .5-1.7 .5 .2 .5-.7 .5-1.9 .5 2 .5 1.6 .5 1.9 .5-3.3 .5-1.6 .5 3.7 .5-3.1 .5-.1 .5 .5 .5 1.4 .5-4 .5 2.7 .5-.4 .5-1 .5 4.4 .5-7.3 .5 3.1 .5 .3 .5-.2 .5 2.6 .5-7.9 .5 3.8 .5-1.2 .5-1.1 .5 1.9 .5 2.3 .5-1.3 .5 4.9 .5-7.4 .5 4.2 .5-.1 .5-.4 .5 1.1 .5-2 .5 1.5 .5-1.8 .5-.6 .5-1.1 .5 .9 .5 2.4 .5-2.7 .5 2.6 .5-1.9 .5 .4 .5 3 .5-5.2 .5 3.7 .5 1.1 .5-.6 .5-.2 .5 2.3 .5-3.9 .5 1.2 .5 3.6 .5-6.4 .5 3.6 .5 0 .5-.8 .5 .1 .5-2.9 .5 1.9 .5-.7 .5 .9 .5-.6 .5 3.6 .5-1.8 .5 2.4 .5-2.4 .5-1.1 .5 .7 .5 1.3 .5-4.5 .5-1.4 .5 .1 .5 4.7 .5-2.3 .5 0 .5 .9 .5 1.4 .5-2.6 .5-.9 .5 1.6 .5 1.7 .5-2 .5 1.7 .5 1 .5-2.7 .5-1.1 .5-.8 .5 1.6 .5-1 .5 2.7 .5-3.1 .5 3.2 .5-1.3 .5 2.6 .5-4.1 .5 2.4 .5 1.3 .5-5 .5 4.1 .5-2 .5 1.1 .5-3.1 .5 3.4 .5-1.3 .5 .6 .5 2.6 .5-7.9 .5 3.2 .5 9.1 .5-5.1 .5-.4 .5 .9 .5 2.4 .5 3.6 .5-6.9 .5-4.5 .5 7.3 .5-.7 .5-.1 .5-.1 .5-4.2 .5 5.3 .5-2.2 .5 2.2 .5 1.3 .5-3.8 .5-2 .5 7 .5-3 .5 1 .5 2.6 .5-2.1 .5-.5 .5-5.4 .5 7.4 .5-.6 .5-4.3 .5-.9 .5 4.1 .5-1.2 .5 3.5 .5-5.9 .5 2.8 .5 1.7 .5-.2 .5-3.4 .5-.1 .5 2.3 .5 5.9 .5-6 .5 1 .5 3.1 .5-.7 .5 2.2 .5-4.3 .5 .2 .5 3.3 .5-2.1 .5 .5 .5-2.2 .5 .5 .5 1.5 .5-1.3 .5-.3 .5 .7 .5-.2 .5 2.9 .5 1.4 .5-4.6 .5 4.2 .5-2.5 .5-5.9 .5 5.4 .5-3.8 .5 5.4 .5-3.5 .5 4.4 .5-.4 .5-4.2 .5-1.1 .5 4.3 .5-4.2 .5 1.7 .5 2.3 .5-2.4 .5 1.7 .5 2.7 .5-3.4 .5 .8 .5-2.8 .5-5.4 .5 7.1 .5-.3 .5 1.2 .5-1.1 .5-1.3 .5 0 .5 1.5 .5-2 .5-1 .5 3.6 .5-.6 .5 1.4 .5-2.3 .5 .9 .5-1.6 .5 1.1 .5 2.6 .5 1.9 .5-4.4 .5 1.5 .5-2.5 .5-1.6 .5 1.9 .5 .8 .5-.1 .5-.9 .5 2.3 .5 2.2 .5-3.3 .5 2.2 .5 .6 .5 1 .5-1.4 .5 1.7 .5-1.9 .5-2.9 .5 .4 .5 1.3 .5-1.2 .5 .4 .5 1 .5 .3 .5-.9 .5 1.5 .5 3.3 .5-6.3 .5 .9 .5-4.1 .5 7.8 .5-.5 .5-4.6 .5 4 .5-4 .5 3.9 .5-.8 .5 .1 .5-4 .5 4.1 .5 0 .5 2.3 .5-2.5 .5-.4 .5-1.4 .5 2.7 .5 .8 .5 0 .5 .4 .5-2.1 .5-2.5 .5 3.3 .5 2.9 .5-.4 .5-4.1 .5 5.6 .5-1.3 .5-1.3 .5-4 .5 3.5 .5 .5 .5 2.6 .5-5.5 .5 .3 .5 3.2 .5 .1 .5-.4 .5 .6 .5-3.5 .5 2.1 .5 .7 .5 1.2 .5-3.3 .5-1.6 .5 6 .5-2.4 .5 0 .5 2.5 .5-5.1 .5 3 .5-.7 .5 1.6 .5-1.2 .5 1.4 .5-4.4 .5 1.7 .5-1.1 .5 3.9 .5 .2 .5-2.7 .5 1.1 .5-2.2 .5-1.1 .5 4 .5-3.2 .5 2.9 .5 2.2 .5-7.6 .5 3.8 .5-1.9 .5 1.6 .5-5.7 .5 6.3 .5-3.1 .5 6.7 .5-3.9 .5 .7 .5-1.8 .5 .5 .5-1.4 .5-2.8 .5 1.8 .5 .1 .5 .3 .5 1 .5 .1 .5 1.7 .5 2 .5-6.4 .5 2.6 .5-.3 .5-.6 .5 2 .5-6.4 .5 6.2 .5-2 .5-3.7 .5 3.3 .5 4.6 .5-4.5 .5 4.6 .5 .3 .5-4.1 .5-1.3 .5 2.1 .5 1.6 .5 .7 .5-3.1 .5-2.6 .5 5.2 .5-7.2 .5 3.5 .5 .6 .5 1 .5-2.4 .5 1.7 .5 1.6 .5-1.8 .5-1.8 .5 3.5 .5-1.2 .5-2.4 .5 .7 .5 4.2 .5-3 .5 1.6 .5-2.2 .5 4 .5-3 .5-1 .5-.4 .5 3.8 .5-.6 .5-2.6 .5-.6 .5-3 .5 6.6 .5-3.1 .5-2.1 .5 .1 .5 4.1 .5-2.4 .5 2.1 .5-1.3 .5 1.5 .5-1.6 .5-6.8 .5 9 .5-5.8 .5 6 .5-3 .5-2 .5 .5 .5-.6 .5 2.7 .5-.7 .5-2.7 .5-1 .5 6.9 .5-1.7 .5-7.4 .5 9 .5 .5 .5-1.5 .5 .1 .5-2.2 .5-5.2 .5 7.8 .5-3.3 .5 6 .5-5.3 .5 2 .5-3 .5-1.6 .5 1.9 .5 5.6 .5-4.7 .5-7.1 .5 9 .5 .3 .5-4.4 .5 2 .5-.2 .5-1.6 .5 2 .5-3.5 .5 4.3 .5-.7 .5-1.8 .5 3.3 .5 .2 .5-.5 .5 1.8 .5-3.3 .5-1.7 .5 3.3 .5-.7 .5-5.9 .5 4.9 .5-1.8 .5 .9 .5 1.1 .5 3.2 .5-2.3 .5-2.4 .5 .2 .5 1.7 .5 .4 .5 5 .5-8.2 .5 .8 .5 3.2 .5-5.1 .5 3.1 .5-4 .5-.1 .5 5.1 .5-3.7 .5 3.9 .5-2.7 .5 1.8 .5 2 .5-4.2 .5 .1 .5 4.3 .5-2.5 .5-.3 .5 2.3 .5-4.2 .5 2.1 .5-2.7 .5-.2 .5 4.3 .5 1.2 .5-2.3 .5-3.6 .5 2.9 .5 1 .5-.7 .5 2.6 .5-4.3 .5 .8 .5 .2 .5 .6 .5-.6 .5 1.8 .5-1.7 .5 0 .5 1.4 .5 1.2 .5 .5 .5-1.9 .5 2.1 .5 .3 .5-3.1 .5 4.6 .5-1 .5-4.1 .5 .4 .5-.9 .5 .8 .5 .9 .5-.2 .5-1.5 .5 1.9 .5 1.6 .5-.6 .5-.5 .5-2 .5 .2 .5 4.4 .5-3.3 .5-1.6 .5 3.8 .5 5.3 .5-10.2 .5 7 .5-5.5 .5 4.2 .5-1.6 .5-1.4 .5-.7 .5-.1 .5-.6 .5 1.9 .5 2.9 .5-2.8 .5 4.6 .5-4.8 .5-1.1 .5 1.4 .5 3.5 .5-5.3 .5 1.5 .5 2.2 .5-3.3 .5 2.1 .5-1.4 .5-.1 .5 .2 .5-.2 .5 2.2 .5-4.9 .5 .7 .5 1.9 .5-2.2 .5 1.3 .5-.6 .5 2.4 .5-3.6 .5 2.9 .5-.9 .5 3.4 .5-5.9 .5-.4 .5 0 .5 .8 .5 10.2 .5-6.6 .5-3.1 .5 1.4 .5 .2 .5 2.6 .5-5 .5 1.6 .5 2 .5 3.3 .5-4.1 .5 .2 .5 6.8 .5-4.5 .5 .1 .5 4.1 .5-5.4 .5 3.3 .5 2.5 .5-5.2 .5 5.8 .5-3.5 .5-1 .5 2.2 .5-2.8 .5-6.1 .5 5.8 .5-1.1 .5-2.9 .5 4.6 .5-2.7 .5-.7 .5 6.7 .5-2.2 .5 .9 .5 .6 .5-6.6 .5 6.9 .5-6.3 .5 0 .5 2.9 .5-4 .5 6.8 .5-4.6 .5 2 .5-1.5 .5-1.7 .5 .9 .5-.4 .5 1.3 .5-.7 .5 2.1 .5-2.4 .5 1.2 .5 2.9 .5-2.4 .5 4.9 .5-5.7 .5 .4 .5 .6 .5 1.2 .5-.9 .5-1.8 .5 .4 .5-1.2 .5 .9 .5-3.2 .5 .7 .5 .2 .5 5.7 .5-2.5 .5 1.7 .5-2.7 .5 1.3 .5-2.5 .5-2.4 .5 3.5 .5-.6 .5-.3 .5-1.7 .5 4.2 .5 .4 .5-.5 .5 1.1 .5-4.1 .5 3.2 .5-1.4 .5-.8 .5 1.1 .5-2.1 .5 1.4 .5 .6 .5-3.7 .5 7 .5-1.2 .5-.3 .5 2 .5-2.3 .5-.1 .5 2.3 .5-4.5 .5-1.7 .5 4.9 .5-2.5 .5 2.8 .5-.7 .5-2.9 .5 1.4 .5-2.2 .5 2.5 .5-.4 .5 2.1 .5 2.4 .5-3.5 .5-1.1 .5 .9 .5-.5 .5-.7 .5 1.4 .5-2.9 .5 .5 .5 2.3 .5 1.4 .5-1 .5-1.8 .5 2.9 .5-1.8 .5 3 .5-2.6 .5-1.1 .5-2.6 .5 5.4 .5-.6 .5 .8 .5-4.1 .5-1.1 .5 5.3 .5-2.9 .5-5.1 .5 6.8 .5-3.9 .5 5.9 .5-.5 .5-6.4 .5 5.2 .5-.6 .5 1.5 .5-3.8 .5-.4 .5 5 .5-6.1 .5 4.1 .5 1.1 .5 .7 .5-.8 .5 4.3 .5-2.3 .5-2.8 .5 .1 .5-1.2 .5 2.1 .5 4.2 .5-3 .5-1.7 .5-2.4 .5-2.8 .5 5.2 .5-1.5 .5 2.5 .5-3.3 .5 4.1 .5-2.1 .5-.9 .5 2 .5-1.6 .5 .9 .5-1.5 .5 2.6 .5-4.6 .5 3.4 .5 1.4 .5 .6 .5-.7 .5 1.5 .5-2.3 .5 5 .5-6.8 .5-3.3 .5-.4 .5 .6 .5 3.9 .5-3.7 .5 .4 .5 4.7 .5-5.5 .5 4 .5 1.7 .5 .7 .5-2.7 .5-2.9 .5 .9 .5 5.3 .5 .3 .5-4.4 .5 2.8 .5-.3 .5-2.5 .5 3.5 .5-4.7 .5 3.2 .5 0 .5-1.6 .5-.9 .5 4.6 .5-5 .5-.2 .5-1.2 .5 2.6 .5 0 .5-1.4 .5 4.1 .5-2.2 .5 .9 .5-4.4 .5 2.3 .5 4.1 .5-1.1 .5-.2 .5 .5 .5-.8 .5-.9 .5 .3 .5 .2 .5-2 .5 4.7 .5 1.4 .5-4.9 .5-.5 .5 5.2 .5-4.1 .5 .4 .5-.2 .5-.6 .5-.8 .5 2.6 .5-4.7 .5 5.6 .5 1.1 .5-3.7 .5-.3 .5 5.2 .5-4.7 .5-.9 .5 3.1 .5-4.5 .5-2.3 .5 3.7 .5-.5 .5-.6 .5 0 .5 .2 .5 .7 .5-4.4 .5 6.7 .5-2.4 .5 0 .5 .2 .5 2.5 .5-1.1 .5 4.2 .5-9.6 .5 6.6 .5 .3 .5-8.4 .5 7.6 .5-1.5 .5 0 .5 .2 .5 .9 .5-1.8 .5-.8 .5 3.6 .5-2.1 .5 1.7 .5 3.9 .5-8.9 .5 .9 .5 .2 .5 1.2 .5 3.7 .5-2.8 .5 1.3 .5 1.6 .5-8.6 .5 3.5 .5-.8 .5 2.5 .5-3.2 .5 5.9 .5-4.5 .5-.4 .5-.5 .5-.4 .5 2.9 .5-1.1 .5 2.1 .5-1.7 .5 2.1 .5-.5 .5 .8 .5-1.5 .5-.7 .5 3.9 .5-3.8 .5-.6 .5 4 .5-4.5 .5 1.4 .5-1.7 .5 .2 .5 4.1 .5-2.6 .5 5.8 .5-.4 .5-2.4 .5-2.2 .5 1.4 .5-.6 .5 3 .5-6.7 .5 3.7 .5 .4 .5 .6 .5 .6 .5-2.5 .5 2.1 .5-4 .5 5 .5-1.7 .5-1.1 .5 2.6 .5-4.1 .5-2.2 .5 4.8 .5-2.4 .5 .4 .5 .4 .5 1.2 .5 .9 .5-4 .5-1 .5 4.5 .5-3.8 .5 5 .5 .2 .5-4.7 .5 6 .5-6.1 .5-.1 .5-.6 .5 .7 .5 .3 .5-1.6 .5-2.7 .5 .4 .5-3 .5 1 .5 2.5 .5-.4 .5-5.4 .5 6.3 .5-1.8 .5 2 .5 .6 .5 2.5 .5 .5 .5-4 .5 1.8 .5-2.6 .5 8.6 .5-8.7 .5 4.8 .5-3 .5 3.7 .5 .4 .5 1 .5-2.8 .5 2.9 .5-3 .5-.5 .5 5.1 .5-4.7 .5 5.5 .5-1.7 .5-.5 .5-5.7 .5 4.3 .5 1.6 .5-5.2 .5 6.2 .5-4.5 .5 2.5 .5 .7 .5-.7 .5 .3 .5 1.1 .5 1.7 .5 .8 .5-.3 .5-2.7 .5-4.6 .5 2 .5 1.4 .5 2.4 .5 1.2 .5-3.4 .5-.7 .5 1.6 .5 .1 .5 .9 .5 0 .5 .5 .5-8.1 .5 4.3 .5-5.9 .5 5.9 .5 6.2 .5-3.3 .5-2 .5 4.1 .5-7.1 .5 3.3 .5-1.9 .5-.3 .5 .4 .5 2.9 .5-.9 .5-1.8 .5 1.1 .5 1.8 .5-1.8 .5-1.1 .5 2.6 .5-1.1 .5 .7 .5-2.8 .5 2.5 .5-.6 .5-2.4 .5 6.7 .5-3.1 .5 .3 .5 1.4 .5 1.2 .5-.7 .5-3.7 .5 1.9 .5-1.8 .5 .7 .5 1.3 .5 1.7 .5-5.1 .5 3.9 .5-.9 .5-3.2 .5 8.5 .5-6.7 .5 2.9 .5-2.7 .5 .9 .5 1.2 .5-1.7 .5 0 .5 2.8 .5-.3 .5 3.1 .5-4.7 .5-4.6 .5 .9 .5 4.4 .5-3.2 .5-.8 .5 5.9 .5-5.9 .5 .2 .5 4.2 .5 2.5 .5-.6 .5-4.1 .5 4.4 .5-3.8 .5 3 .5-7.4 .5 4 .5 3.6 .5-1.2 .5 1.1 .5-9.6 .5 11.5 .5-1.4 .5 2.6 .5-6.1 .5 3.1 .5-1 .5-1.9 .5 1.4 .5 1.9 .5-1.8 .5-2 .5 .5 .5-1.9 .5 .8 .5 1.3 .5 .3 .5 .2 .5 1.2 .5-3.5 .5 1.5 .5-3.4 .5 6.6 .5 1.5 .5-3.5 .5 .6 .5-3.1 .5 1.9 .5 2.8 .5-2.5 .5-3.8 .5 3.7 .5-.6 .5 2 .5 1.8 .5-3.5 .5 1 .5 1.1 .5-4.1 .5 1.4 .5-3.3 .5 4.2 .5 .9 .5-.9 .5 .2 .5-2.7 .5-.3 .5 2 .5 1.4 .5-2.3 .5 2.2 .5-2.9 .5-.4 .5 3 .5-.9 .5 1 .5 4.6 .5-4.3 .5-.6 .5 1.9 .5-4.1 .5 1.3 .5-.8 .5 .8 .5 5.1 .5-9.4 .5 7.1 .5-5.8 .5 .6 .5 2.1 .5 .3 .5-.3 .5-1.6 .5 4.1 .5-4.2 .5 4.5 .5 5 .5-9 .5 3.6 .5-.3 .5-3.6 .5 3.5 .5 2.1 .5-.1 .5-.5 .5-2.9 .5 1.1 .5-1.8 .5 4.6 .5-4.2 .5-.8 .5 1 .5 5.1 .5-7.4 .5 5.5 .5-.3 .5-3 .5 1.6 .5-3.8 .5 4.2 .5 .2 .5-2.7 .5 2.1 .5-.2 .5 1.3 .5 .3 .5 .9 .5-2.7 .5 1.5 .5 .6 .5 1.7 .5-3.6 .5-1.4 .5-.5" fill="none" stroke="#000080" stroke-width="2.3" stroke-linejoin="round" shape-rendering="crispEdges"/>
<path d="M229.0 1279.9l.5 2 .5-1.5 .5 4.1 .5-6.1 .5 6 .5-4 .5 1.2 .5 6.8 .5-10.1 .5-.7 .5-.2 .5-2.9 .5 2.8 .5 6.2 .5-7.6 .5 .1 .5 1.7 .5-1.2 .5-1.9 .5 .4 .5 2.1 .5-.8 .5-7.4 .5 4 .5 1.9 .5-1.1 .5-3.6 .5 1.9 .5-.1 .5-2.2 .5 1.2 .5-.3 .5-2 .5 .6 .5-.9 .5 4.7 .5-2.8 .5 1.6 .5-1.2 .5 1.7 .5-3 .5 2 .5-2.8 .5 3.7 .5 .3 .5-4 .5 .2 .5 2 .5 3.9 .5-2.4 .5 1.1 .5-3.2 .5 12.2 .5-7.4 .5-1.9 .5-.1 .5 6.2 .5-2.5 .5 1.2 .5 .3 .5-.9 .5 1.8 .5 3.4 .5-7 .5-.1 .5-.4 .5-2.6 .5 .1 .5-4.4 .5-3.6 .5 .9 .5-6.5 .5 2.3 .5-.6 .5 2.2 .5-6.7 .5 .3 .5-1.2 .5-3.9 .5 1.5 .5-1.4 .5-1.2 .5 .6 .5 2.6 .5-5.6 .5 1.8 .5-1.7 .5-1.7 .5 1.9 .5 1.2 .5-1.5 .5-1.3 .5 .4 .5-2.4 .5 2.9 .5-2.6 .5-.7 .5-1.2 .5 1.2 .5-2.2 .5-1.1 .5-3.2 .5 4.4 .5-2.4 .5-5.7 .5-6.5 .5-1.4 .5 1.1 .5-4.8 .5-1.5 .5 0 .5-3.4 .5-4.1 .5-3.1 .5-2.3 .5 .9 .5 2.4 .5 2.1 .5 0 .5 1.3 .5 3.5 .5 5.1 .5-.7 .5-2.5 .5 5.2 .5 1.9 .5 3 .5-3.6 .5 1.8 .5-.2 .5 6.6 .5-2.1 .5 1.9 .5 1 .5 1.2 .5-6 .5 8.5 .5-7.2 .5 4.9 .5 1.3 .5-1.1 .5 1.9 .5 .6 .5 1.1 .5 1.3 .5-3.8 .5 1.2 .5 7 .5-4.1 .5 4.1 .5 3.6 .5-3.6 .5-1.6 .5-1.6 .5 3.1 .5-1.5 .5-.2 .5-4.4 .5 .4 .5 .6 .5-4.8 .5 .9 .5 1 .5-3.1 .5-3.3 .5-4.7 .5 1 .5 3.2 .5-1.8 .5 .2 .5 7.4 .5-5.4 .5-1.3 .5 6.1 .5 1.8 .5-1.1 .5 3 .5 1.4 .5 .5 .5-.8 .5 5.3 .5-.1 .5-3.6 .5 2.9 .5-2.1 .5-.7 .5 3.8 .5-1.1 .5 .3 .5 .8 .5 1.1 .5 .5 .5-2.7 .5 2.3 .5 1.7 .5-3.9 .5 3.8 .5-2.6 .5 3.1 .5 2.3 .5-.4 .5-.1 .5 .8 .5-1.7 .5 5.2 .5-4.4 .5-1.2 .5 3.6 .5-.7 .5 3 .5-1.8 .5-1.6 .5-.2 .5-.5 .5-1.3 .5 2.9 .5 3.2 .5-6 .5-.5 .5 .9 .5-.4 .5-.1 .5 2.8 .5-3.4 .5 0 .5-.1 .5-2.5 .5 .1 .5-2.7 .5 3.4 .5-.2 .5 1.5 .5 2.4 .5-6.9 .5 6.2 .5 2.2 .5-4 .5 .3 .5 3.4 .5-2 .5-.7 .5-2.8 .5 .6 .5 3 .5 .4 .5-2.1 .5 2.3 .5 .1 .5-8 .5 3 .5-.9 .5 1.6 .5 4.6 .5-7.5 .5 .2 .5 3.5 .5-3.4 .5 1.7 .5 3.6 .5 1.2 .5 1 .5-.8 .5-2.6 .5 .7 .5 3.2 .5-3.5 .5 2.7 .5-2.8 .5 3.4 .5-.6 .5-4.7 .5 1.6 .5-.4 .5 2.6 .5-2.9 .5-4.5 .5 4.3 .5 .3 .5-3.5 .5 5.4 .5-.6 .5-5.8 .5 3.1 .5-5.6 .5 3.5 .5-2.1 .5 4.2 .5 1.2 .5 .6 .5-1.1 .5 .6 .5 2.9 .5-1.6 .5 5.2 .5-2.9 .5 .6 .5 2.5 .5-1.2 .5 4.1 .5 .9 .5 0 .5-2.1 .5 3.4 .5 .6 .5 1.7 .5 .1 .5-1 .5 0 .5-.5 .5-2.2 .5 .7 .5-1.8 .5 .6 .5-3.8 .5 6 .5-2.7 .5-2.6 .5-2.8 .5 1.4 .5-2.7 .5 2.4 .5-2.6 .5-.8 .5-4.6 .5 2.4 .5 2.1 .5-3.5 .5 1.9 .5 2.1 .5 1 .5-4.6 .5-5.9 .5 6.4 .5 .9 .5-5.1 .5 5.9 .5-3.3 .5 3.4 .5-3.9 .5 .3 .5-2.9 .5 3.7 .5-1.1 .5-2.1 .5 3.1 .5-2 .5 5.1 .5-1.6 .5-.5 .5 .5 .5 5.3 .5-2.8 .5 1.7 .5-2.4 .5 4.8 .5-.8 .5-1.3 .5-.1 .5 4.9 .5-2 .5 1.7 .5 .6 .5 2.1 .5 0 .5-3.5 .5 .8 .5-3.5 .5 5.1 .5 1.1 .5-3.6 .5 4 .5 .6 .5 .2 .5 1 .5-2.5 .5 3 .5 4.9 .5-4.5 .5-.8 .5 .7 .5 4 .5-6.3 .5 7.2 .5-5.5 .5 2.4 .5 .5 .5-3.7 .5 1.2 .5 2.4 .5-2.1 .5-3.2 .5 4.4 .5-3.7 .5 3.7 .5-1.4 .5-3.4 .5 5.1 .5-1.7 .5 1.9 .5-2.5 .5-2 .5-3 .5 5.2 .5-4.1 .5 1.1 .5-4.1 .5 .4 .5 3.9 .5 .2 .5 3.6 .5-1.9 .5-5.5 .5 4 .5-2.7 .5-2 .5 3.3 .5-3.1 .5-.9 .5 .1 .5 2 .5-.8 .5-.1 .5 .8 .5 1.5 .5-2.9 .5 .2 .5 1.5 .5 .5 .5 .7 .5 1.9 .5-8.7 .5 8.2 .5-1.5 .5 1.8 .5-4.2 .5 2.7 .5 3.1 .5 .4 .5-.5 .5-1.9 .5-2.5 .5 1.9 .5-4.1 .5 3.6 .5-1.9 .5 2.1 .5-.1 .5 1.8 .5 .3 .5-.5 .5 0 .5-.2 .5 3.1 .5-3.7 .5-.3 .5-.6 .5 2.8 .5 1.9 .5 2.6 .5-4.1 .5 2.9 .5-2.1 .5 2.7 .5-4.4 .5 3.8 .5 .5 .5-4.7 .5 2.8 .5-1.8 .5 7.3 .5-4.5 .5-.8 .5 1.1 .5-1 .5 .5 .5-2.1 .5 1.9 .5-4.5 .5 4.1 .5-3.1 .5 .7 .5 1.1 .5 .3 .5 1.9 .5-3 .5 2.1 .5-2.7 .5-.1 .5 7.2 .5-3.4 .5 2.4 .5-1.1 .5-2.8 .5 5.2 .5-.1 .5 .2 .5 1.4 .5-4.3 .5 .1 .5-2.4 .5-.1 .5-1.6 .5-.9 .5-.1 .5 .8 .5-2.6 .5 .2 .5-.5 .5-1.2 .5 1.8 .5 2.1 .5 2.2 .5 2.6 .5 .7 .5-1 .5 .7 .5-3.6 .5 6.5 .5-1.6 .5 4.6 .5-.8 .5 .1 .5-1.1 .5 5.4 .5 1.2 .5-5.4 .5 6.8 .5-4 .5 2.8 .5-4.9 .5 4.5 .5 2.6 .5-1.8 .5 3 .5-1.3 .5 2.4 .5 2.5 .5-6.1 .5 2.6 .5-2.3 .5-2.2 .5 2.1 .5 3.1 .5 .9 .5-.7 .5-1 .5-1.1 .5-1.6 .5 1.6 .5-.8 .5-4.4 .5 7 .5-3.5 .5-2.2 .5 4.3 .5-.6 .5 3.1 .5-5.4 .5-1 .5 4.1 .5-3.4 .5 3 .5-1.7 .5-5.1 .5 .6 .5-.7 .5 5 .5-1.9 .5-1.1 .5-5.1 .5-.3 .5-8.6 .5 5.7 .5-3.3 .5-.4 .5-4.6 .5-6.5 .5-1 .5-5.2 .5-.7 .5-3.2 .5 5.5 .5-10.8 .5-2.1 .5-1.2 .5 1.6 .5-9.1 .5 2.8 .5-2.9 .5-6 .5 .5 .5 2 .5-10.7 .5-.5 .5 .7 .5-2.7 .5 .6 .5-4 .5 1.9 .5-1.7 .5-.4 .5-3.2 .5-1.4 .5-2.6 .5 2.5 .5-3.9 .5 .6 .5-6 .5 .8 .5-1.6 .5-3.4 .5 .5 .5-3.3 .5 1.7 .5 7.1 .5-4.4 .5-7.7 .5 10.3 .5 1.8 .5 2.8 .5-2.2 .5 1.8 .5-.7 .5-1.3 .5 3.5 .5-.1 .5-1.3 .5 7.8 .5 2.7 .5-7.1 .5 2.1 .5 4.1 .5-1.7 .5-.1 .5 5.7 .5-3.6 .5 4.8 .5-.4 .5-.1 .5 5.1 .5 .6 .5 1.6 .5-.2 .5 1.1 .5-5.8 .5 9.1 .5 2.1 .5 4.9 .5 5.5 .5-3.2 .5 7.6 .5-3.8 .5 4.7 .5 2.1 .5-4.9 .5 10.1 .5-4.5 .5 4.2 .5 .3 .5 2.4 .5 .7 .5 3.5 .5 5.9 .5-4.7 .5 6.2 .5-.4 .5 1.6 .5 .2 .5 1.7 .5 .4 .5-3.4 .5-.4 .5 6.2 .5-2.4 .5 4.6 .5-3.5 .5-2.8 .5 .5 .5 0 .5 2.3 .5 10 .5-11.9 .5 1.7 .5-.5 .5-6.2 .5 3.8 .5-3.8 .5 2.4 .5 .3 .5-2.7 .5-.1 .5 2 .5 1.5 .5-7.6 .5 .6 .5-2.3 .5-1.1 .5 2.7 .5-3.5 .5 3 .5-.9 .5-3.8 .5-3.1 .5 1.8 .5-1.1 .5-2.2 .5 3.7 .5-3.8 .5-2.7 .5 3.3 .5-5.3 .5 5.4 .5-3.5 .5 3.1 .5-3.7 .5-4.4 .5 1 .5 6 .5-8 .5-.7 .5-.3 .5-7.1 .5-.7 .5-4.7 .5-1 .5-2.2 .5-5.6 .5-6 .5-3.7 .5-5.2 .5-3.6 .5-5.6 .5-6.4 .5-5.1 .5-9.2 .5-5.7 .5-5.5 .5 .9 .5-5.9 .5-8.2 .5 .2 .5-7 .5-4.4 .5-4.8 .5-.9 .5-2.5 .5-2.5 .5-2.6 .5-.6 .5 .2 .5 .2 .5-4 .5 6.5 .5 1.9 .5 3.9 .5 .9 .5 2.9 .5 2.1 .5 1.5 .5 .9 .5 7.6 .5 2.8 .5 3.9 .5 5.9 .5 4.6 .5 .3 .5 3.9 .5 2.2 .5 4.9 .5 1.5 .5 4.7 .5 4.6 .5 4.2 .5-.4 .5 2.5 .5 5.4 .5-.4 .5 3.1 .5 3 .5 1.8 .5-3.1 .5 3.5 .5-4.9 .5-.4 .5-5.3 .5 3 .5-8 .5 1.6 .5-7.2 .5-2.2 .5-4.3 .5-.8 .5 1.4 .5 .5 .5-4.5 .5 .4 .5 1.4 .5-2.7 .5-1.2 .5 2.6 .5 1.3 .5-1.2 .5 8.5 .5-3 .5 10.7 .5-.6 .5-.7 .5 6 .5 1.6 .5 4.8 .5 1.8 .5 0 .5 3.5 .5 3.7 .5 1.8 .5-.5 .5 .8 .5 0 .5 4 .5 2 .5 0 .5-4 .5 4.1 .5-.3 .5 1.5 .5-.8 .5 0 .5-.6 .5 1.6 .5-4.2 .5 1.5 .5-3 .5 2.3 .5-1.7 .5-1.4 .5 .3 .5-3.2 .5-2.5 .5-10.5 .5-2.5 .5-7.8 .5-2 .5-8.5 .5-9.4 .5-6.8 .5-12.9 .5-10.5 .5-12.3 .5-7.9 .5-12.3 .5-6.5 .5-14.6 .5-8.4 .5-12.5 .5-5.7 .5-10.7 .5-8.8 .5-.8 .5-1.8 .5-1.1 .5 2 .5 7.3 .5 9 .5 .9 .5 4.3 .5 9.1 .5 3 .5 5.5 .5 10.6 .5 6.8 .5 7.4 .5 5.4 .5 6.7 .5 4.1 .5 9.1 .5 1.2 .5-.5 .5 14.3 .5 2.8 .5 2.9 .5 4.7 .5 2.7 .5 3.4 .5 1.9 .5 3.9 .5 8.8 .5 2.4 .5 3.9 .5 5.1 .5 7 .5 6.2 .5 1 .5 1.8 .5 4 .5 3.1 .5 3.8 .5-.4 .5 1.5 .5-4.5 .5 3.5 .5 2.8 .5-3.2 .5-1.9 .5 .8 .5 .8 .5-2.1 .5 .8 .5-6.5 .5 3.1 .5-1 .5-.7 .5-1.9 .5-1.2 .5 0 .5-4.5 .5-.1 .5-1.2 .5-.8 .5-2.9 .5-3.5 .5 1.6 .5-2.8 .5-1.5 .5 .2 .5-.6 .5 2.5 .5-2.5 .5-2.5 .5 5 .5 1 .5 1.4 .5 .4 .5-.3 .5 5.1 .5-2.9 .5 1.5 .5 4.3 .5-2 .5 4.5 .5-4.9 .5 1.2 .5-1.6 .5-3.4 .5-5 .5 2.1 .5-2.3 .5-2.6 .5-2.7 .5-2.9 .5 .5 .5-3.3 .5 6.8 .5-5.2 .5 2.6 .5-3.5 .5 2.9 .5-5 .5-.7 .5-.5 .5 1.6 .5-2.3 .5-.9 .5 6.6 .5 .3 .5-3.5 .5 4.2 .5-6.1 .5 6.3 .5 4.5 .5 .5 .5-2.4 .5 .7 .5-2.2 .5 2.6 .5-4 .5-4 .5 12.7 .5-5.5 .5-.8 .5 1.9 .5 .7 .5-3.7 .5 3.8 .5-1.1 .5 1.4 .5 3.5 .5-2.2 .5-.9 .5 1.8 .5-.4 .5 .6 .5 1.8 .5-1.7 .5-.9 .5 .5 .5-1.8 .5 5.4 .5-1.7 .5-5.3 .5 2.3 .5 4.4 .5-6.2 .5 2.4 .5 4.2 .5-3.6 .5 0 .5-4.9 .5 1.8 .5-1 .5 .3 .5-8.4 .5-.2 .5-5.3 .5-3.1 .5-9.5 .5-4.8 .5-3.8 .5-7.7 .5-8.6 .5-3.1 .5-8.6 .5-1.6 .5-15.2 .5 5 .5-4 .5-9.1 .5 .6 .5-3.6 .5-3.6 .5-3.5 .5-3.5 .5-.3 .5-2 .5 7.1 .5-1.7 .5 4.5 .5 1.9 .5 1.5 .5 .6 .5 7.5 .5 3.2 .5 2.3 .5 10.3 .5 2.6 .5 3.5 .5 4.9 .5 8.9 .5 .8 .5 4.8 .5 1.8 .5 9.1 .5 4.6 .5 8.5 .5 5.8 .5 3.7 .5-2 .5 6.5 .5 3.9 .5-4.2 .5 2.8 .5 1.3 .5-2.1 .5 3.1 .5 1.1 .5 1.4 .5 .1 .5 .1 .5-.9 .5 5 .5-1.5 .5-1.3 .5-1.2 .5 2.5 .5-5.1 .5 3.3 .5-.3 .5-2.1 .5-3.9 .5-.1 .5 5 .5-6.4 .5 2.4 .5-3.6 .5-2.3 .5-.2 .5 .3 .5-3 .5-.6 .5-5.6 .5-1.1 .5 2.7 .5-3.8 .5-1.8 .5-3.7 .5 1.2 .5-1.2 .5 1.3 .5-2.2 .5-4.2 .5-1 .5 6.2 .5-5.5 .5-.2 .5 .9 .5 2.4 .5 3 .5 .5 .5 .1 .5 1.9 .5 .8 .5 2.7 .5 .6 .5 3 .5-1.5 .5 2.2 .5 2.1 .5-1.7 .5 1.6 .5 2.8 .5-1 .5 .4 .5 .7 .5 1.1 .5-5.6 .5 3.9 .5 1.7 .5 4.4 .5-7.2 .5 5.9 .5-3.2 .5-.9 .5 .3 .5-1.1 .5-3.7 .5 2.6 .5-.5 .5-4.3 .5 3.1 .5-1.8 .5 .5 .5-.6 .5-1.4 .5 3 .5-4.4 .5-3.7 .5 4.4 .5-5.7 .5 3.2 .5-1.1 .5-4.3 .5 1.1 .5 8.2 .5-6.2 .5-3.1 .5 2.9 .5 1.4 .5 3 .5-5.2 .5 3.6 .5 .2 .5-.2 .5 3.1 .5-2.4 .5-3.8 .5 8.9 .5-5.1 .5 1.6 .5 2.3 .5-5.4 .5 5.7 .5 1.2 .5-2.2 .5-1.1 .5 7.5 .5-.4 .5-4.9 .5 2 .5-.2 .5 1.1 .5-2.4 .5 3.5 .5-1.7 .5 .3 .5-2.2 .5 2.7 .5-6.6 .5 3.1 .5-.9 .5-2.1 .5 .5 .5-1.9 .5-2.6 .5 2.5 .5 2.5 .5-6.3 .5 9.2 .5-5.6 .5 5.8 .5-2.7 .5 5.5 .5-1.7 .5 3.6 .5 1 .5 1.1 .5 2.2 .5 .3 .5 .9 .5 5 .5-2.2 .5 2.1 .5 2.7 .5-1.8 .5 1.9 .5 1.9 .5 .6 .5 .1 .5-.5 .5 1.6 .5 .6 .5-4.6 .5 1.1 .5 1.2 .5 .2 .5 .8 .5-1.1 .5-2.5 .5-1.6 .5 2.5 .5-2.6 .5-6.6 .5 9.3 .5-3.4 .5 .3 .5 1.2 .5-5.5 .5 10.5 .5-2.5 .5 1.2 .5-4 .5 1.4 .5 3 .5-.5 .5 2 .5-.1 .5 .7 .5 6.2 .5-.1 .5 .3 .5-.2 .5 7.6 .5-4.1 .5-1.8 .5 6.9 .5-4.4 .5 9.2 .5 0 .5-1.1 .5 1.6 .5-.1 .5-2.1 .5 3.9 .5-.8 .5-3 .5 2.7 .5-1 .5-4.4 .5 1.2 .5-4.6 .5-3.1 .5 6.8 .5-2.7 .5 2 .5-2.8 .5-.4 .5-.5 .5-4.6 .5 3.7 .5-4.5 .5 2.7 .5-6.2 .5 4.6 .5 3.5 .5-.7 .5 .1 .5-6.9 .5 2.2 .5-3.2 .5 3.9 .5-2.6 .5-.8 .5 2.5 .5 2.2 .5-4.7 .5 3.7 .5 2.2 .5 1.4 .5-1 .5 2.9 .5 0 .5 4.8 .5 .1 .5 3.7 .5-3.9 .5 .7 .5 2.8 .5 2.3 .5-2 .5-.3 .5-4.3 .5 2.6 .5 .9 .5 1.3 .5-6.1 .5 3.5 .5-1.2 .5 3.1 .5-3 .5-6.8 .5 1.2 .5-.2 .5-1.9 .5-.7 .5-3.5 .5 .1 .5-3.2 .5-1.1 .5-2.8 .5-4.9 .5 2.4 .5-1.3 .5-1 .5-2.3 .5 2.6 .5 3.5 .5-2.5 .5 .6 .5 1.3 .5-.5 .5-1 .5 1.6 .5-.1 .5 1.5 .5 4.1 .5 1 .5 .7 .5 4.8 .5 2.8 .5 0 .5 .4 .5 6 .5-3.4 .5-1.5 .5 3.2 .5 1.1 .5-6.2 .5 .1 .5 1.5 .5 1.7 .5-4.3 .5 5 .5-2.7 .5 2.7 .5-3.9 .5 .3 .5 .4 .5-3.3 .5-2.4 .5 .7 .5-4.3 .5-1.1 .5 .6 .5-1.2 .5-1.3 .5-1.4 .5-7 .5-4.1 .5 3.1 .5-6.4 .5-5.6 .5-5.3 .5-2.8 .5 .8 .5-6.6 .5 2.9 .5-7.2 .5 3.1 .5-7.1 .5-.9 .5 3.3 .5 .5 .5 1.8 .5 5.2 .5 3.2 .5-1.4 .5 7.4 .5 4.3 .5 3.8 .5 1.7 .5 4.6 .5 6.7 .5 4 .5 5.8 .5 4.2 .5 8.9 .5 4.8 .5 3.7 .5 1.2 .5 3.2 .5 6.8 .5 5.4 .5 4.6 .5-.1 .5 .3 .5 2.7 .5 2.7 .5 3.5 .5-4.4 .5 3.3 .5 .4 .5 2.2 .5 .1 .5-.9 .5 4.7 .5 1.1 .5-.1 .5-.4 .5 1.1 .5-.2 .5-.2 .5-3.3 .5 4.6 .5 1.4 .5-1.5 .5 5.1 .5-2.5 .5-1.9 .5 5.3 .5-3.7 .5 2.9 .5-3.2 .5-.8 .5 2.7 .5-3.7 .5-1.1 .5-1.4 .5-.3 .5 1.5 .5-5.3 .5 .5 .5-1.4 .5 4.2 .5-3.4 .5-2.3 .5 1.9 .5 3.2 .5-3.4 .5 3.9 .5-6.3 .5 3.7 .5-2.2 .5 .5 .5 .4 .5 1.4 .5-2.2 .5 1.2 .5-2.3 .5 .2 .5 2.3 .5 .5 .5-1.7 .5 3.5 .5-5.5 .5-1.2 .5 5.1 .5-1.4 .5-2.4 .5 4.8 .5-3.7 .5 5.7 .5-8.9 .5 2.1 .5 3.1 .5 1.4 .5 .6 .5-4.4 .5 1.3 .5 1.2 .5 1.2 .5-2.5 .5 1.1 .5-2.8 .5 6.5 .5-1.2 .5 1.3 .5 .1 .5 .8 .5-.7 .5 2.9 .5 .5 .5-2.9 .5 2.7 .5 1.3 .5-1.9 .5 3.4 .5 2.3 .5 .9 .5-2.8 .5-5.6 .5 8.7 .5 .4 .5-1.4 .5 .7 .5-1.2 .5-.4 .5 3.7 .5 1.6 .5-2.1 .5-2.2 .5-.9 .5 5.3 .5 .3 .5 1.6 .5-3.2 .5-.4 .5-.1 .5 3.7 .5 1.8 .5-6 .5 .9 .5 .2 .5 2.1 .5-3.2 .5 3.5 .5-.9 .5-.9 .5 1.3 .5-4.4 .5-.2 .5 4.4 .5-4 .5-1.9 .5 .2 .5-2.2 .5 3.4 .5-4.2 .5 3 .5-2.3 .5-.9 .5 4.1 .5-4.4 .5 .5 .5-.9 .5-1.7 .5-1.1 .5 3.5 .5-2.5 .5-.8 .5 .5 .5 4.1 .5 2.3 .5-4 .5-.2 .5 .9 .5 1 .5-3.9 .5 .9 .5 2.8 .5-2.8 .5-.8 .5-.4 .5-.2 .5 .3 .5-.2 .5 .8 .5-2.8 .5 .5 .5-1.3 .5 .8 .5 2.3 .5-4.4 .5-1.5 .5 5.9 .5-.5 .5 .6 .5-5.5 .5 3.3 .5 3.8 .5-.4 .5 .5 .5 3.6 .5-3.9 .5 2.1 .5 2.5 .5-1.1 .5 1.9 .5 2.9 .5 .9 .5 3 .5 4.9 .5-3.3 .5 3 .5 1.4 .5 1.7 .5 2.2 .5 2.7 .5-.7 .5 2.7 .5-9.2 .5 1.9 .5 6.9 .5-1.8 .5-2.9 .5-2.8 .5 1.4 .5 4.2 .5-2.8 .5-1.4 .5 1.6 .5-.1 .5 1.5 .5 0 .5-.4 .5-1.1 .5 .8 .5-1.2 .5-2.6 .5 2.1 .5-4 .5 2.6 .5-2.5 .5 4.4 .5-3.1 .5-2.7 .5-.8 .5 2.1 .5-4.7 .5 4.8 .5-.7 .5-2.1 .5-2.9 .5 6.5 .5-7.1 .5-3.8 .5 1.5 .5 4.1 .5-3.3 .5-1.1 .5 3.7 .5-2 .5 .1 .5-1 .5-3.7 .5 2.5 .5-3.3 .5 5.6 .5-4.3 .5 6.5 .5-7.7 .5 .4 .5 4.6 .5-6.3 .5 3.8 .5 .8 .5 5.5 .5-5 .5 .2 .5-.9 .5-.1 .5-1.1 .5 2.8 .5-1.7 .5 .4 .5-3.3 .5 5 .5-1.4 .5-1.1 .5 .5 .5 2.3 .5-9.3 .5 7.2 .5-3.4 .5-.5 .5 1.6 .5 .2 .5-5 .5 5.6 .5-4.3 .5 4.7 .5-3.3 .5 7.1 .5-10.4 .5 4.9 .5 3.3 .5-6.5 .5 5 .5-5.4 .5 1.6 .5 1.3 .5 3 .5-3.2 .5 5.7 .5-.9 .5-5.1 .5 8.3 .5 2 .5 0 .5 1 .5-1.6 .5 1.2 .5 2.1 .5-1.6 .5 5.4 .5 3.4 .5-.8 .5-2.6 .5-4.5 .5 2.1 .5 4.4 .5-3.4 .5 6.6 .5-5.7 .5-.3 .5 .7 .5-3.1 .5 0 .5 2.4 .5-1.3 .5 .4 .5-1.7 .5-1.5 .5-7.9 .5 2.7 .5-2.4 .5 .6 .5 .3 .5-.2 .5-.7 .5 .5 .5-1.6 .5 .6 .5-6.6 .5 0 .5-2.3 .5 4.8 .5-5.5 .5-1.3 .5 2.6 .5 .4 .5 1.8 .5 .2 .5-1.2 .5-3 .5 3.6 .5-3 .5 2.6 .5-5 .5 4.5 .5-.7 .5 0 .5 3 .5 .2 .5 .5 .5 1.6 .5-1.5 .5 3.9 .5-1.9 .5 3.7 .5 1.1 .5 1.6 .5-1.4 .5 3.7 .5-2 .5 2.8 .5 1 .5 6.4 .5-5.3 .5 3.3 .5 3.5 .5-1.4 .5-.5 .5 3.1 .5-.8 .5-.3 .5-4.1 .5 2 .5-.8 .5-3.6 .5 2.5 .5-2.4 .5-2.7 .5 .5 .5-.8 .5-1.6 .5-1.6 .5-5.1 .5 1.6 .5-1.9 .5-6.9 .5 2.8 .5-4.6 .5-1.3 .5-3.6 .5-3.9 .5-5.7 .5 1.3 .5-4 .5-.9 .5-1.6 .5-1.6 .5 .4 .5-1.1 .5-2.1 .5-9.3 .5 9.3 .5 .1 .5 3.7 .5-4.2 .5 1.4 .5 1.7 .5 2.9 .5 3.6 .5-1.3 .5 2.1 .5 1.6 .5 6.2 .5-1.6 .5 4.5 .5 2 .5-.5 .5 2.8 .5 .5 .5 1.4 .5-1.2 .5 1.9 .5 1 .5 3.4 .5-2 .5-.6 .5 3.4 .5-1.7 .5 1.1 .5-.7 .5 4.4 .5-2.2 .5 2.1 .5-2.5 .5 1.6 .5-5.3 .5 8.4 .5 3.5 .5-9.1 .5 7.5 .5-1.5 .5-1.9 .5-3.2 .5-1.4 .5 2.6 .5-5.2 .5-3 .5 0 .5 .7 .5-2.3 .5-1.9 .5-1.4 .5 2.1 .5-5.6 .5-2.2 .5-5.5 .5-1.1 .5 1.1 .5-3.4 .5-1.8 .5-3.7 .5-4.5 .5 .9 .5-1.8 .5 3 .5-7.7 .5-.7 .5 3.9 .5-6.4 .5-2.3 .5 1.4 .5-5.2 .5-.5 .5-2.6 .5-.1 .5-4.6 .5-1.2 .5-5.3 .5-.9 .5-.8 .5-3.3 .5 1.5 .5-2.6 .5-5.6 .5 7.6 .5-5.8 .5 1.8 .5-1.5 .5-2.4 .5-.3 .5-1 .5-2.9 .5 3.9 .5-3.8 .5 5.3 .5-3.5 .5 2.8 .5-.5 .5 2.5 .5-1.3 .5 .9 .5 1.3 .5 2.4 .5 7.8 .5-.7 .5-3 .5 6.6 .5-.2 .5 2 .5-.1 .5-1 .5 .6 .5 .3 .5-1.6 .5-.3 .5 .3 .5-.5 .5 3.3 .5 2.6 .5 1.1 .5-3.8 .5 2.4 .5-.8 .5-.1 .5-.6 .5 4.2 .5-4.8 .5-.5 .5-1.1 .5-.4 .5 3.8 .5 1.1 .5-5.1 .5-1.5 .5 .8 .5-2.1 .5 2.4 .5 3.2 .5-5.7 .5 1.5 .5 0 .5-5.2 .5 1.4 .5-3.9 .5 2.4 .5-2.1 .5-2 .5-6.1 .5 2.8 .5 1.2 .5-2.3 .5 2.2 .5-1.3 .5-.2 .5-1.7 .5 .9 .5-3.3 .5 2 .5-.9 .5-4.6 .5-1.8 .5 4.6 .5 .4 .5-1.3 .5 3.1 .5-4.9 .5-4.3 .5 2.6 .5-3.6 .5 4 .5 .9 .5 3 .5 .6 .5-3.5 .5 2.6 .5 1.2 .5-5.8 .5-.4 .5-2.6 .5 2.7 .5-.4 .5-1.5 .5 1.3 .5-1.5 .5 5.3 .5-7.6 .5 5.3 .5-3.8 .5 .5 .5 1.5 .5-5.4 .5 3.4 .5 2.8 .5-4.3 .5 .4 .5-2 .5 5 .5-1.7 .5 3.1 .5-.1 .5 2.6 .5 2.5 .5-6.3 .5 1.9 .5-.4 .5 4.8 .5-5.1 .5-2.2 .5-2.6 .5 3.3 .5-4.8 .5-.2 .5 2.2 .5-2.5 .5-1.1 .5-.5 .5-3.9 .5-2.1 .5 .2 .5-2.6 .5 2.7 .5-2.3 .5-2.5 .5-.7 .5-2.8 .5-.8 .5 1.5 .5-6.3 .5 3.1 .5 1 .5-5.4 .5 .8 .5-.6 .5-1.4 .5 1.7 .5-1.5 .5-.8 .5-.9 .5-1.7 .5 4 .5-1.7 .5-.7 .5 1.1 .5 5.4 .5-5.7 .5 3.9 .5-4 .5 .4 .5 6.2 .5-5.4 .5 3.3 .5 4.4 .5-6 .5 5.3 .5 2.9 .5 .4 .5 5 .5 1.3 .5 1.1 .5 3.4 .5 .2 .5-1.6 .5 6.6 .5 4.6 .5-.3 .5 .4 .5-2 .5 3.1 .5 4.8 .5 .5 .5 3.8 .5-1.7 .5-1.1 .5 2.5 .5 6.2 .5 3.2 .5 .5 .5 3.5 .5 1.9 .5 3.2 .5-1.9 .5 1.1 .5 1.1 .5 2.8 .5 .9 .5-2.8 .5 4 .5 1.4 .5-2.5 .5 2.6 .5-2.6 .5 3 .5-2.7 .5 3.1 .5-3.1 .5 0 .5 5.8 .5-1.4 .5-1.1 .5 4.2 .5-6.3 .5 6.8 .5-.4 .5-1.2 .5 1.8 .5 2.8 .5-.7 .5-.6 .5 1.1 .5 2.5 .5-3.9 .5 3.7 .5-4 .5 6.9 .5-1.4 .5-2.1 .5 3.1 .5-1.5 .5 2.1 .5-5.9 .5 8 .5-.3 .5 .2 .5 1.2 .5-1.4 .5 1.9 .5 1.1 .5 .5 .5-7.1 .5 10.8 .5-4.7 .5 2.1 .5-1.9 .5-.3 .5 6.2 .5 .3 .5-4.2 .5-1.8 .5 3.4 .5 7.2 .5-3.4 .5-.7 .5-.5 .5 .8 .5-.3 .5 2.6 .5-1.8 .5 1.8 .5-3.6 .5 3.9 .5-3.3 .5-1.8 .5-1.6 .5 .4 .5 2.3 .5 2.1 .5-5 .5-.2 .5 5.4 .5-4.2 .5 1.2 .5-2.1 .5-2.5 .5 1 .5-2.7 .5 1.8 .5-.9 .5 0 .5-1.1 .5-1.7 .5 3.2 .5 .3 .5-1 .5 2.3 .5-.9 .5-3.3 .5 .8 .5-.4 .5 .6 .5-3.7 .5 4.6 .5-4.5 .5 2 .5-5.3 .5 .5 .5-2.6 .5 1.8 .5-1.7 .5-1.2 .5 2.1 .5-4 .5-.3 .5-5.7 .5-4 .5 4.5 .5-6.3 .5-3.1 .5-5.1 .5 1.4 .5-2.5 .5-1.6 .5 .9 .5-.5 .5-3.1 .5-4.6 .5-.8 .5 1.1 .5-3.8 .5 .9 .5-1.2 .5 2.8 .5 1.2 .5-2 .5 1.9 .5-4.7 .5 3.4 .5 1 .5-1.4 .5 2.9 .5-2 .5-.5 .5 3.9 .5 1.8 .5 2.1 .5-6.4 .5 5.5 .5 2.7 .5-1.2 .5-1.7 .5-7.5 .5 10.9 .5-4.7 .5 6.4 .5-3.9 .5 3.1 .5-2.3 .5 5.1 .5 4.8 .5-.7 .5 1.4 .5 1.7 .5 .8 .5 5.5 .5-2.9 .5 1.8 .5 3 .5-1.7 .5 .5 .5 4.5 .5-2.2 .5 8.4 .5-.7 .5 2.4 .5 .8 .5 0 .5-3.2 .5 4.4 .5 .8 .5 0 .5-1.2 .5-3.3 .5 7.7 .5-.8 .5 3 .5-4.2 .5 1.9 .5 .2 .5 3.8 .5 2.4 .5-.4 .5 4.7 .5 .4 .5 0 .5 2.4 .5-2.4 .5 3.2 .5 4 .5-3.3 .5 5 .5 3.1 .5-.5 .5 4.7 .5-5.1 .5 1.9 .5-.9 .5 5.5 .5-1.3 .5 .3 .5 3.6 .5-4.1 .5 3 .5 2.2 .5-5.8 .5 5.7 .5 1.3 .5-4.2 .5 7.3 .5-1.7 .5-1.2 .5 1.9 .5-.2 .5 3.3 .5 1.8 .5-1.6 .5-1.2 .5 0 .5 2 .5 .4 .5-1.2 .5 4.8 .5-7.6 .5 5.8 .5 2.7 .5-4.7 .5 5.8 .5-4.8 .5 2.6 .5-.4 .5-2.9 .5 3.2 .5-.1 .5 2.3 .5-1 .5-1.4 .5 2.6 .5 3.4 .5-6.2 .5 1.5 .5 .9 .5 0 .5-1.1 .5-2.2 .5 1.9 .5 5.2 .5-.8 .5-1.6 .5-.2 .5 2.7 .5-.1 .5-4.5 .5 .4 .5 1.2 .5-3 .5 2 .5-.1 .5-.5 .5 0 .5 0 .5-.6 .5-.3 .5-.2 .5-.8 .5 .9 .5-1.7 .5 .8 .5-.4 .5 .9 .5-.4 .5-2.1 .5 4.5 .5-5.7 .5 2.6 .5 1 .5-.6 .5 2.3 .5-.8 .5 2.4 .5-6.5 .5 4.5 .5 1 .5-1.1 .5-4.2 .5 5.8 .5-.4 .5-4.3 .5 4 .5-5.1 .5 5.2 .5-1.3 .5-.4 .5 .1 .5-1.2 .5 0 .5 2.7 .5-5.3 .5 5.3 .5-.9 .5 .7 .5 .2 .5 3.5 .5-.6 .5-4.6 .5 2.2 .5-3.2 .5 2.6 .5-.4 .5-1.6 .5 3 .5-3.7 .5 1.6 .5 .9 .5-3 .5-1.2 .5 1 .5-1.8 .5 4.4 .5-2.4 .5 .7 .5-2.7 .5-1.6 .5 3.1 .5-2.7 .5 2 .5-2.4 .5-.6 .5 4 .5-2.2 .5-.5 .5 2.9 .5-7.2 .5 7 .5-2.4 .5-3 .5-.1 .5 1.5 .5 2.1 .5-4.2 .5 4.9 .5-2.2 .5 .2 .5-2.2 .5 0 .5 1.4 .5-.7 .5-4.1 .5-.4 .5 .2 .5 4.2 .5-5.3 .5 3.4 .5-3.2 .5 3.7 .5-2.1 .5-1.3 .5-1 .5 1.8 .5 .8 .5-4.1 .5 1.9 .5-3.9 .5 .3 .5 1.3 .5 4.3 .5-2.4 .5-1.6 .5 4.7 .5-6.2 .5 .8 .5 .3 .5 .1 .5 .6 .5-1.1 .5 2 .5-1.7 .5 0 .5-1.5 .5-.1 .5 2.5 .5-1.8 .5 .3 .5-1.3 .5-2.8 .5 2.5 .5-5.1 .5 5.9 .5 1.7 .5-4.6 .5-1 .5 .7 .5 2.5 .5-.8 .5 0 .5-2.8 .5 3.3 .5-.9 .5 .7 .5 1.1 .5 .3 .5-1.6 .5-2.7 .5 3.6 .5-.6 .5-1.1 .5 2 .5-8.6 .5 5.7 .5 1.4 .5-3.3 .5 2.3 .5-1.7 .5 1 .5-2.7 .5 5.7 .5-7.1 .5 3.1 .5-1.8 .5 3.4 .5-5.6 .5 .4 .5 2.8 .5-4.1 .5 .5 .5-.2 .5 1.3 .5-.1 .5-5.7 .5 3.8 .5 3 .5-1 .5-1.9 .5-4.2 .5 4.9 .5-3.5 .5 2.1 .5 .7 .5-1.1 .5 2.2 .5-1.4 .5-.8 .5-.6 .5 .7 .5-.8 .5-.8 .5 4.7 .5 1.1 .5-2.8 .5-2.8 .5 1.5 .5 1.2 .5-2.1 .5 2.1 .5 1 .5-3.5 .5-.6 .5 5.3 .5-.8 .5 1.1 .5-2.6 .5 1.7 .5 3.9 .5-2.1 .5 .9 .5-.2 .5-3.5 .5 2.1 .5-5.2 .5 7.6 .5-7.4 .5 5.8 .5-1.8 .5 3.2 .5-.6 .5-1 .5-.1 .5 .9 .5 .6 .5 0 .5 1.5 .5 1.1 .5-4.4 .5 1.6 .5-2.2 .5 4.2 .5-3.4 .5 6.1 .5-3.4 .5 1.2 .5 2.7 .5-1.9 .5 1 .5-6.4 .5 1.4 .5 1.8 .5-1.4 .5-.4 .5-.1 .5 2.3 .5 1.8 .5-.9 .5-2.5 .5 2.6 .5-5.1 .5 9.3 .5-8 .5 3.6 .5-4.2 .5 2.1 .5 1.1 .5 .4 .5-4.4 .5 .9 .5-.4 .5 4.2 .5-4.2 .5-1.4 .5-2 .5-1.5 .5 1.6 .5 5 .5-3.8 .5 1.5 .5-.5 .5-.9 .5 .7 .5 3 .5-1.9 .5-1.6 .5 3 .5-3.3 .5 2.5 .5 3.1 .5 1.8 .5-6.3 .5 4.3 .5 1.6 .5 2.8 .5-5.4 .5 2.9 .5-4.1 .5 4.8 .5-.5 .5-4.8 .5 2.2 .5 1 .5 1.5 .5-.3 .5 .7 .5 .4 .5-3.1 .5-.2 .5 3.8 .5-3 .5 1.6 .5 1.1 .5 4.2 .5-3 .5 3.1 .5-1.2 .5-3.6 .5 6 .5-3.2 .5 2.3 .5-1.7 .5-1.9 .5-2.5 .5 4.8 .5-1.3 .5 5.4 .5-8.6 .5 3.6 .5-1.1 .5-.3 .5 4.4 .5 0 .5-5.3 .5 1.5 .5 .4 .5-1 .5 4 .5-1.8 .5-.9 .5 1.5 .5 .5 .5-1.2 .5 .3 .5-.1 .5 2.1 .5-2.8 .5 3.1 .5-5.1 .5 3.7 .5 3.1 .5 2.7 .5-2.9 .5-.3 .5 4.8 .5-1.8 .5-2.6 .5-.4 .5-4.3 .5 6.6 .5-3.3 .5 2.6 .5-3.5 .5 1.5 .5 4 .5-.4 .5 5.4 .5-4.2 .5 2.5 .5-2.7 .5-1 .5-3.1 .5 4.2 .5 1.7 .5 3.8 .5-4.6 .5-2.2 .5 2.6 .5-3.9 .5 4.8 .5-6.6 .5 .7 .5 5.9 .5 .2 .5-3.1 .5 1.4 .5 1.1 .5 .1 .5-3.6 .5 2.1 .5-4.1 .5 1.6 .5 .9 .5 1.5 .5 1.8 .5-2.2 .5-.3 .5 1 .5-.8 .5-.6 .5 3.4 .5-2.2 .5 1.1 .5-5.4 .5 1 .5 .8 .5-1.5 .5 1.9 .5-.7 .5 1.3 .5 1.3 .5-4.3 .5 1.3 .5 .5 .5 1.6 .5-5.7 .5 2.6 .5-1 .5 1.6 .5 1.4 .5-4.6 .5 .8 .5 1.5 .5 .2 .5-5.3 .5 10.3 .5-7.4 .5-.3 .5 1 .5 1 .5-1.4 .5 2.5 .5-2.4 .5-2.7 .5 1.5 .5 1.9 .5 2.6 .5-3 .5 2.2 .5-2.3 .5 3.4 .5-3.9 .5-4.3 .5 3.4 .5 1 .5 .2 .5 1.4 .5-2.1 .5-1.8 .5 4.4 .5-3 .5 3.6 .5-2.9 .5 .4 .5-.2 .5-2.4 .5 3.1 .5-2.4 .5-2.2 .5 3.6 .5-1.6 .5-.3 .5 2.3 .5-4.7 .5 4.1 .5-.8 .5-.3 .5-.1 .5-1.4 .5 .1 .5 1.4 .5 .8 .5 2.3 .5-3.4 .5 4 .5 2.3 .5-6.5 .5 6.5 .5-1.7 .5-.8 .5 .6 .5 2.5 .5-5.4 .5 6 .5-.9 .5 1.6 .5-6.5 .5-.6 .5 7.2 .5-3.8 .5 4.4 .5-1 .5-1.9 .5-.6 .5 6.1 .5-2 .5-2.6 .5 4.1 .5-3.8 .5 3.8 .5-3.7 .5 2.6 .5 1.7 .5-3.8 .5 3 .5-3.4 .5 4.4 .5-3.4 .5 2 .5-2 .5 4.7 .5 5.3 .5-7.8 .5 .7 .5 .2 .5-1.1 .5-.6 .5 5.1 .5-5.4 .5 6.8 .5-5.1 .5 .2 .5 .3 .5-.9 .5 1.9 .5-.7 .5-2.3 .5 3.3 .5-1.1 .5 3.8 .5-.1 .5-5.8 .5 3.5 .5 .7 .5-1.9 .5-.1 .5 1.8 .5-.3 .5-2.5 .5 2.8 .5 0 .5 1.5 .5-1.9 .5-2.5 .5 2.8 .5 1.1 .5-3.6 .5 2.6 .5 .7 .5-2.3 .5-1.6 .5 4.1 .5 3.5 .5-.3 .5-5.1 .5-.2 .5-1 .5 3.3 .5-1 .5-.1 .5 3 .5-2.4 .5 4.5 .5-4.6 .5 0 .5-1.1 .5 4.7 .5-2.8 .5 2.1 .5-4 .5 1.6 .5 1.5 .5-5.2 .5 4.5 .5 .3 .5-3.9 .5 3.7 .5-3 .5 .6 .5 0 .5 3.1 .5-3.6 .5 .8 .5 1.4 .5-1.9 .5 3.1 .5-3.3 .5 .9 .5 .6 .5 1.6 .5-1.2 .5 3.1 .5-5.5 .5 3.8 .5 3.2 .5-4.4 .5-.7 .5-.9 .5-3.4 .5 4.8 .5-.4 .5-3.2 .5 3.2 .5-2.3 .5-3.4 .5-1.3 .5 5.2 .5-1.9 .5 1.4 .5-4.3 .5 5.5 .5-3.5 .5-2.3 .5 1.6 .5 4.4 .5 1.5 .5-3 .5-1.5 .5 4.5 .5-.4 .5-8.1 .5 5.5 .5 1 .5-1.7 .5 4.5 .5-5.7 .5 3 .5-2.6 .5 .8 .5 .4 .5 .8 .5-3.7 .5 4.3 .5-1.5 .5 2.5 .5-6.7 .5 1.5 .5 2.5 .5-1.3 .5-3.5 .5 .7 .5-1.2 .5 4.2 .5 1.1 .5-8.1 .5 7.4 .5 1.8 .5-3.4 .5-.1 .5 3.8 .5-7.6 .5 5.9 .5 1.2 .5-1.8 .5 1.6 .5 1.7 .5-3.7 .5 2.1 .5-.9 .5 0 .5 1.8 .5 2.3 .5-5.7 .5 3.9 .5-5.4 .5 4.4 .5 .9 .5-4 .5-2.8 .5 4.6 .5-2 .5 4.5 .5 1.2 .5-1.6 .5-.4 .5-3.4 .5 1 .5 2 .5-3.1 .5 4.3 .5-4.8 .5 2.8 .5-1.3 .5 1.1 .5-5.8 .5 4.9 .5-2.3 .5-1.5 .5 1.7 .5-1.7 .5 3.9 .5-6.4 .5 6.3 .5 2 .5-3.9 .5 .4 .5-.2 .5 1.5 .5-.6 .5-2.4 .5 3 .5-1.2 .5-2.1 .5 2.4 .5 .1 .5-2.1 .5 3.9 .5-5.3 .5-.8 .5 14.9 .5-16.6 .5-.4 .5 6.2 .5-1.6 .5 .7 .5-3.3 .5 .9 .5-.3 .5 2.1 .5-.1 .5 3.3 .5-1.8 .5 1.8 .5-1.8 .5-4 .5 4.8 .5-5.1 .5 5.5 .5 .8 .5-3.9 .5 5.1 .5-1.5 .5-1.6 .5 .4 .5-.6 .5 3.5 .5-2.7 .5 2.5 .5-.5 .5-3.4 .5 2.1 .5-1.1 .5 4 .5-5 .5 .7 .5 .3 .5-3 .5 2.2 .5 1.3 .5-4.2 .5 6.2 .5-4.4 .5 6.3 .5-1.9 .5-1.7 .5 .5 .5-4.2 .5-.1 .5 6.9 .5-2.2 .5-2 .5 .5 .5 3.5 .5-.9 .5-2.7 .5-.8 .5 3.3 .5-1.3 .5 .5 .5-.7 .5-.6 .5 4.4 .5-4.8 .5-.1 .5 2.7 .5-.7 .5-5.5 .5 3.7 .5 1.3 .5 .9 .5-2.2 .5 1.8 .5-4.3 .5 5.2 .5 1.3 .5-5.2 .5 1.2 .5 5.2 .5-6.3 .5 .4 .5 3.1 .5-7 .5-.6 .5 2.5 .5 8.4 .5-9.2 .5 2.4 .5 2.3 .5-4.5 .5 1.8 .5 1.4 .5 3.7 .5-4.7 .5 4.1 .5-3.9 .5 1.7 .5 .8 .5-4.2 .5 3.4 .5 .8 .5 1.8 .5-3.2 .5 2.6 .5-.8 .5-2.8 .5 2.4 .5-1.8 .5 3.6 .5-6.3 .5 5.7 .5-3.4 .5 1.9 .5-.2 .5-5.1 .5 2.1 .5 .4 .5 5.2 .5-5.4 .5 3.3 .5 1.4 .5-1.6 .5-4.6 .5 1.5 .5 2.7 .5-.6 .5-1.4 .5 2.9 .5-1.2 .5 .9 .5 2.5 .5-4.4 .5 1.5 .5-3.6 .5 2.3 .5 1.8 .5 4.6 .5-5.3 .5 1 .5-2.4 .5 .6 .5 .8 .5 .4 .5-.6 .5 3.3 .5-1.4 .5-2.3 .5 5.9 .5-7.1 .5 5.4 .5-.9 .5-1 .5-.6 .5-.6 .5-1.5 .5 4.9 .5 2.2 .5-6.9 .5 .9 .5 1.7 .5 .4 .5 1.6 .5-3.4 .5-2.3 .5 3.8 .5-1.3 .5 1.1 .5-2.5 .5 2.6 .5 2.5 .5-2.6 .5 2.2 .5-5.3 .5 5.3 .5-3.4 .5 1.7 .5-3.8 .5 5.3 .5-2.4 .5 2.5 .5-1.4 .5-2.6 .5 4.6 .5 .4 .5-2.6 .5-1.1 .5 .7 .5 .9 .5-2.4 .5-.9 .5 4.6 .5-3.2 .5-.2 .5 2.4 .5 .1 .5-2.1 .5 .9 .5 1.6 .5-6.5 .5 5.1 .5-1.3 .5 4.5 .5-2.2 .5 4.7 .5-2.9 .5-3.3 .5 4.5 .5-2.6 .5 .5 .5-4.1 .5 3.1 .5 1.7 .5-2.2 .5 3.4 .5-4.4 .5 .2 .5-.8 .5-.1 .5-3 .5 3.1 .5 6 .5-2.5 .5-2.1 .5 4.1 .5-4.4 .5-.3 .5-.1 .5 4 .5-1 .5-1.5 .5 .1 .5-.3 .5 2.3 .5 .5 .5 1.2 .5-1.1 .5-.4 .5-2.3 .5 1.1 .5-1.7 .5 .4 .5 5.9 .5-3.7 .5 1.4 .5-3.5 .5 3.1 .5-2 .5 2.2 .5-5.6 .5 6.3 .5-2.4 .5-2.6 .5 2.5 .5-3 .5 3.9 .5 .5 .5-3.4 .5 0 .5 1.1 .5-.5 .5 2.8 .5-4.2 .5 1.7 .5-.8 .5 3.3 .5 .4 .5 .2 .5-6.3 .5 7.8 .5-10.7 .5 6.5 .5-.2 .5 .2 .5 5 .5-2.4 .5 .1 .5-4.1 .5 6.7 .5-7.1 .5 3.8 .5 1.9 .5-1.8 .5-.8 .5 .8 .5-3.8 .5 3.7 .5-1.6 .5 2.2 .5-2.6 .5 2.6 .5-4.2 .5 4.4 .5 .5 .5-4.9 .5 .6 .5-5.9 .5 7.1 .5-4.2 .5 4 .5-1.3 .5 2.2 .5-1 .5 4.9 .5-3.3 .5-.8 .5 .6 .5 1.3 .5-1.4 .5-1.7 .5 3.7 .5-.6 .5-6.1 .5 3.1 .5 2.5 .5 2.8 .5-1 .5-1.9 .5 .2 .5 1 .5-1.8 .5 2.1 .5-4.4 .5 3.3 .5-4 .5 1 .5 1.1 .5 2.4 .5-8 .5 7.7 .5-4.5 .5 2.1 .5 3.8 .5-5.2 .5-3.7 .5 8.8 .5-3.8 .5 0 .5 1.8 .5-3.7 .5 .1 .5-1 .5 3.2 .5-1.6 .5 1.4 .5 1.3 .5-2.8 .5 .9 .5 1.6 .5-4.3 .5 7.4 .5 .3 .5-5.8 .5 3.4 .5-.3 .5-4.6 .5 1.7 .5 1.5 .5-1.6 .5 4.5 .5-2.9 .5-.2 .5-3.6 .5-.1 .5 1.8 .5 4.1 .5-5.7 .5 2.5 .5 1.5 .5-2.4 .5-.4 .5 .7 .5-1.5 .5-3.1 .5 2.1 .5 5.8 .5-5.9 .5 5.3 .5-6.7 .5 3.8 .5-2.1 .5 .7 .5 3.6 .5-2.7 .5 1.9 .5-5.9 .5 2.6 .5 6.3 .5-1.1 .5-3.1 .5 1.7 .5 .6 .5-.2 .5-.1 .5 .3 .5 .5 .5 2.7 .5-4.2 .5-4.2 .5 6.1 .5 2.6 .5 .2 .5-4 .5 .5 .5 4.5 .5-9.5 .5 4.2 .5-.4 .5-2.9 .5 2.9 .5-1 .5-2.3 .5 1.7 .5 3.5 .5-3.1 .5-.8 .5 3.8 .5-2.2 .5 1 .5 .1 .5-1.5 .5 2.2 .5-3.3 .5 3.1 .5-2.2 .5 5.6 .5-1.7 .5 1 .5-1.9 .5 1.1 .5-4.3 .5-2.6 .5 5.5 .5-1.3 .5-.3 .5-5.8 .5 11.1 .5-5.3 .5 .4 .5-1.6 .5 3 .5-1.4 .5-7.4 .5 5.2 .5 3.4 .5-.2 .5-4.2 .5 4.4 .5-1.5 .5-5.5 .5 7.9 .5-3.7 .5 0 .5 2.6 .5-5.3 .5 6 .5 .9 .5-3.5 .5 3.8 .5 .1 .5-6.5 .5 1.8 .5 1.8 .5 .5 .5-3.3 .5 .7 .5 1.6 .5 1.4 .5-1.2 .5 2 .5-1.1 .5-.8 .5-1.9 .5-2.3 .5 6.9 .5-7 .5 .9 .5 1.8 .5-2.9 .5 3 .5-2.2 .5 1.6 .5 4 .5-3.8 .5 0 .5 2.5 .5-1.5 .5 .6 .5-4.3 .5 1.5 .5 3.9 .5 3.9 .5-6.8 .5 5.2 .5-5.1 .5 3.3 .5-2 .5-.6 .5 .6 .5-1.2 .5-2.1 .5 2.3 .5-.2 .5 3.4 .5-2.7 .5-1.4 .5-4.2 .5 4.9 .5 2.2 .5-2.3 .5 1.1 .5-4.7 .5 5.6 .5-1.6 .5-2.6 .5 6.1 .5-2.1 .5-1.3 .5-.5 .5-.6 .5 .1 .5 1.4 .5-1.7 .5 .9 .5 2.4 .5-2.8 .5 .7 .5 .9 .5-2.4 .5 1.3 .5-.5 .5-1.7 .5-.1 .5 8 .5-6.6 .5 2 .5-2.4 .5-.8 .5-2.6 .5 4.3 .5 4.1 .5-3.6 .5-2.7 .5 3.6 .5-.7 .5-.8 .5-.9 .5 .1 .5 3 .5-2.8 .5 4.1 .5-3 .5-1.3 .5 .9 .5 3.2 .5-6.7 .5 2.4 .5-1 .5 3.2 .5 1.2 .5-1.2 .5-2.1 .5 2.6 .5-4.8 .5 6 .5-3.6 .5 4.5 .5-4.9 .5 4.6 .5-1 .5-2 .5-5.7 .5 4.5 .5 1.9 .5-3 .5 4.2 .5-4.1 .5 .5 .5 6.7 .5-5.4 .5-1.6 .5 1.3 .5 2.8 .5-5 .5 2.4 .5 1.1 .5-1 .5 1.3 .5-3.6 .5 5.6 .5-1.2 .5 1.8 .5-.7 .5 .2 .5-3 .5 2.3 .5-3 .5 3.1 .5-3.3 .5 4.7 .5 .4 .5-4.4 .5 1 .5-.4 .5-2.7 .5 3.6 .5-3.5 .5 1.3 .5 .1 .5 2.9 .5 1.1 .5-.4 .5-2.8 .5 3.1 .5 1.9 .5-6.6 .5 7.3 .5-2.6 .5-2.1 .5 0 .5-1.4 .5 1.7 .5 5.5 .5-10.4 .5 3.9 .5-1 .5-2.6 .5 3.4 .5-.6 .5 4.4 .5-4 .5 2.6 .5-2.6 .5-.6 .5 2.9 .5-3.2 .5 1.8 .5 .4 .5-1.2 .5 1.2 .5 4.7 .5-6.5 .5-.7 .5 5.5 .5-5.5 .5-.9 .5 1.4 .5 2.9 .5 1 .5-2.8 .5 1.9 .5-3.7 .5 4.9 .5-1 .5-1.5 .5 .1 .5 3.2 .5-2.8 .5-1.3 .5 3.6 .5-5.1 .5 4.9 .5-.2 .5-3.7 .5-1.6 .5 0 .5 3.2 .5-.4 .5-2 .5 2.8 .5-3.7 .5-1.3 .5 4.2 .5-5 .5 4 .5 2.1 .5-4.6 .5-1.4 .5 5.8 .5 .6 .5 0 .5-1.4 .5 .7 .5-1.9 .5 4.8 .5 .9 .5-3.7 .5 1.4 .5 2.3 .5-3 .5 3.3 .5-.7 .5-3.5 .5-.9 .5-.4 .5-1 .5 6.4 .5-5 .5-.9 .5-.9 .5 1.3 .5 3.1 .5-.8 .5-6.2 .5 6 .5 .7 .5 .3 .5 1.4 .5-1.7 .5 4.5 .5-7 .5 4.3 .5-4.3 .5 .6 .5 5.1 .5-1.8 .5-3.6 .5 2.6 .5-5 .5 2.1 .5 0 .5-1.9 .5 5 .5-4.2 .5 2.7 .5 3.4 .5-1.6 .5-2.8 .5 .7 .5 1.9 .5-3.8 .5 4.2 .5 0 .5 2.1 .5-2.8 .5 .1 .5-4 .5 4.5 .5 1.7 .5-1.8 .5-.5 .5-.7 .5 .1 .5 1.3 .5-3.3 .5 4.6 .5-2.1 .5 1.7 .5-1.7 .5 .4 .5-2.7 .5 7.1 .5-2.2 .5-2 .5-2.7 .5 6.6 .5-3.3 .5-1.5 .5-1.2 .5 1.2 .5 3 .5-4.9 .5 1.4 .5 0 .5 1.3 .5 1 .5-2.4 .5 .6 .5-.1 .5-2.5 .5 1.5 .5-2.6 .5 3.2 .5-.4 .5 .4 .5-1.8 .5 6.7 .5-2.8 .5-3 .5-1.3 .5 2 .5-.4 .5 .6 .5 .9 .5-3.3 .5 .8 .5 1.8 .5-4.4 .5 9.4 .5-3.2 .5-1.3 .5 1.5 .5-1.7 .5-.5 .5 1 .5-.6 .5 2.2 .5-2.3 .5 2.6 .5 1.4 .5-2.4 .5-3.1 .5-.9 .5 1.4 .5-1.2 .5 2.2 .5 2.3 .5-6 .5 4.4 .5-4.9 .5 2.7 .5 2.4 .5-2.9 .5 4 .5-2.6 .5-.9 .5 .5 .5-.2 .5 1 .5-3.5 .5 2.7 .5-1.3 .5 2 .5-1.8 .5 1.9 .5 4.1 .5 .3 .5-5.1 .5 1 .5 1.5 .5-2.7 .5 1.3 .5 3.3 .5-1.5 .5-3.6 .5 6.9 .5-6.7 .5 2.4 .5 3.4 .5-2.2 .5-6.1 .5 6.9 .5-1.6 .5 1 .5-3.6 .5 7.4 .5-9 .5 6.4 .5-5.8 .5-.5 .5 4.6 .5-3.6 .5 6 .5-1.5 .5-2.3 .5-2.2 .5 .2 .5 2 .5-.1 .5-.4 .5 .1 .5 .6 .5 2 .5-3.8 .5 1.6 .5 2.1 .5-.7 .5-7.3 .5 7.6 .5-2.8 .5 3.4 .5-3.4 .5-1.6 .5 9 .5-9 .5-1.1 .5 3.3 .5 1.7 .5-.8 .5-.7 .5-2.8 .5 7.2 .5-8.4 .5 4.5 .5-3.9 .5 4.1 .5-.5 .5 1.2 .5-3.3 .5 .6 .5-2.8 .5 2.9 .5-.6 .5 1.7 .5-1.5 .5 3 .5-.7 .5 1.7 .5 3.1 .5-6 .5 3.1 .5-.7 .5-4.9 .5 6.7 .5-5.2 .5 2 .5 3.4 .5-4.1 .5 .9 .5-1.2 .5 .2 .5 3.9 .5-3.3 .5 3 .5 .8 .5-1.9 .5-.3 .5-3.8 .5 1 .5 1.7 .5 .9 .5-4.3 .5 2.3 .5 1.2 .5 2.1 .5-2.1 .5-1.9 .5 2.7 .5-2 .5 .4 .5 2.4 .5 4.4 .5-.5 .5-7.9 .5 8.2 .5-9 .5 2.3 .5-.6 .5 4.2 .5-4.2 .5 3 .5-3.5 .5 .4 .5-1.2 .5 .8 .5-1.1 .5 6.2 .5-1.4 .5-1 .5 3.1 .5-5.8 .5-1.3 .5 0 .5-1.5 .5 3 .5 1.5 .5-2.9 .5 2.8 .5-.5 .5-2.3 .5-1.9 .5 2.3 .5-1.6 .5-2.5 .5-2.7 .5 6.3 .5-2.8 .5-3.7 .5-1.6 .5 2.7 .5-3.4 .5 1.5 .5-6 .5 5.7 .5 1.6 .5 1.1 .5-.9 .5 1.4 .5-.2 .5 .4 .5 .1 .5-2.5 .5 2.9 .5 4 .5-4.3 .5 8 .5-.1 .5-4.2 .5 5.1 .5-2.5 .5 4.4 .5-5.2 .5 4.1 .5-5.7 .5 .3 .5-2.5 .5 5.3 .5-3.2 .5 5.9 .5-6.8 .5 5.2 .5 0 .5-3 .5 1.6 .5 5.3 .5-5.9 .5 3.5 .5-.3 .5-1.2 .5-5.1 .5 3 .5 1.8 .5 1.6 .5-4.3 .5-2.7 .5 .4 .5 3.7 .5-2.1 .5 3.4 .5-.4 .5-1.9 .5-2.6 .5 3.5 .5 .9 .5-.7 .5 1.6 .5-3 .5 3.2 .5 .1 .5-1.8 .5 .1 .5-1.3 .5 .5 .5-.9 .5 4.5 .5-2.4 .5-3.1 .5 2.3 .5 3.5 .5 .5 .5-.7 .5-5.7 .5 4.6 .5-4.6 .5 7.3 .5 .4 .5-7.2 .5 3.6 .5-3.6 .5 3.6 .5-1.9 .5-.9 .5 4.6 .5-1.9 .5 1.8 .5-1.2 .5-3.8 .5 .8 .5 3.9 .5 0 .5-3.6 .5 5.8 .5-3.5 .5 2.5 .5-2.5 .5 1.8 .5-4.3 .5 1.2 .5-3.5 .5 4.2 .5-3.4 .5 3.7 .5-1.8 .5-1.2 .5 1.4 .5-.4 .5-1.3 .5 6.2 .5-5.8 .5 5 .5 .4 .5-1 .5-3.1 .5-.7 .5-1.2 .5 .1 .5 .7 .5 .8 .5 1.6 .5 1.1 .5-.8 .5 1.1 .5-4.3 .5 7.8 .5-2.6 .5 1.7 .5-3.7 .5-2.7 .5-1.4 .5 4.1 .5-3.7 .5 5.3 .5 .2 .5-3.3 .5 4.7 .5-2.3 .5 .6 .5-1.9 .5-.8 .5 1.6 .5-2.3 .5 3.4 .5-3.2 .5 4.7 .5-.7 .5-4 .5 1.2 .5-.1 .5 3.2 .5-2.1 .5-.7 .5 4.6 .5-5 .5 .2 .5-.6 .5 .9 .5-3.4 .5 5.9 .5-5.5 .5-1.1 .5 8.5 .5-2 .5-2.6 .5-1.7 .5-3.4 .5 6.9 .5-4 .5 2.9 .5-2.1 .5 3.2 .5-3.6 .5 1.2 .5-.7 .5 .2 .5-1.4 .5 4.8 .5-7 .5 5.9 .5-3.9 .5 1.4 .5 3.3 .5-5.4 .5 5.4 .5-3.4 .5 3 .5-.1 .5 .4 .5-3.3 .5 1.5 .5-5 .5 4.4 .5-1.2 .5 2.8 .5 4.6 .5-4.2 .5-4.4 .5 2.5 .5-.1 .5-2.7 .5 1 .5 3.8 .5-4.2 .5 9.3 .5-9.9 .5 3.6 .5 4.1 .5-2.8 .5 .9 .5-6.8 .5 3.4 .5-2.5 .5 1.6 .5 1.9 .5-2.6 .5 4.1 .5-4.6 .5 2.6 .5-1.5 .5-1.2 .5-.5 .5 1.3 .5 4.5 .5-6.1 .5 3.9 .5-6.1 .5 6.5 .5-3.3 .5 .9 .5 1.8 .5-1.1 .5 1 .5-2.5 .5 2.1 .5-3.7 .5 2.2 .5 .2 .5-2.6 .5 4.4 .5-.2 .5-3 .5 2.4 .5 1.2 .5-2 .5 2.4 .5 .4" fill="none" stroke="#008000" stroke-width="2.3" stroke-linejoin="round" shape-rendering="crispEdges"/>
<path d="M229.0 1178.9l.5 1.1 .5 3.9 .5-1.6 .5-7.8 .5 4.5 .5 1.8 .5-.6 .5 2.1 .5-1.4 .5-2 .5 1 .5-1.3 .5 4.6 .5-2.6 .5-1.9 .5-.9 .5 1.3 .5 1.3 .5 .1 .5-1.2 .5 3.5 .5-4.6 .5 3.6 .5 1.1 .5-3.5 .5-3.6 .5 3.7 .5-4.3 .5 1.9 .5-1.4 .5 .9 .5 2.7 .5-.5 .5 1.9 .5-4.7 .5-2.4 .5 2.8 .5-2.8 .5 1.8 .5 4.9 .5 .8 .5-8 .5 .5 .5-.3 .5 2.3 .5-.3 .5 1.6 .5-3.7 .5 3 .5-1.5 .5-.3 .5 4.8 .5-3.2 .5 5.6 .5-6.5 .5 3.6 .5 0 .5 2.7 .5 2 .5-.1 .5-2.9 .5-.2 .5 0 .5-.3 .5-4.4 .5-2.2 .5 1.9 .5-.6 .5 3.7 .5 .2 .5-2.6 .5-4.3 .5 5.3 .5-1.2 .5-4 .5-1.7 .5-6.9 .5-2.5 .5 2.4 .5-6 .5 3 .5 .9 .5-6.6 .5 .6 .5-2.9 .5-1.6 .5-2.4 .5 1.4 .5-3.1 .5-1.5 .5-6.2 .5 1.8 .5-1 .5-3.1 .5-3.5 .5 .4 .5 1.3 .5-5.7 .5-5.7 .5-2.4 .5 1.1 .5-1.6 .5-3.2 .5-2.1 .5-4.8 .5-.4 .5-3.5 .5-7.4 .5 4.1 .5-4.2 .5-6.8 .5 .4 .5-3.1 .5-5.8 .5-2.5 .5 .1 .5-5.9 .5-.6 .5-1.2 .5-.4 .5 1.7 .5 3.1 .5 1 .5 .1 .5 6.1 .5-.1 .5 .3 .5 6.2 .5 4 .5-.3 .5 5.1 .5 2.2 .5 .5 .5 4.8 .5-.4 .5 4.3 .5-1.2 .5 4.3 .5 2 .5 3.3 .5-1.2 .5 1.5 .5 7 .5-4.3 .5 2.2 .5 .7 .5-3 .5 3.9 .5 3.1 .5 1.5 .5-2.8 .5 1.7 .5-5.5 .5 .6 .5 .1 .5-3.8 .5-1.5 .5-2.8 .5 3.3 .5-3.8 .5-.4 .5 .9 .5-4 .5 3.2 .5-5.6 .5 1.7 .5 2.6 .5-7.7 .5 1.5 .5 2.8 .5 2.3 .5-.6 .5-.2 .5-3.2 .5 1.2 .5 .8 .5 2 .5-.8 .5-.9 .5-.4 .5 3.2 .5-.2 .5-1.5 .5 2.7 .5-.8 .5 5 .5-5.1 .5 1.9 .5 2.3 .5-1.7 .5 1.9 .5 .6 .5 2.5 .5 1 .5 7.8 .5-.7 .5-5.3 .5 1.7 .5 5 .5-3.5 .5 1.9 .5-.7 .5 3 .5 .3 .5-1.3 .5-2.1 .5 .2 .5 0 .5-.4 .5-3.8 .5 2.3 .5-1.9 .5 3.4 .5 1.2 .5 .1 .5-3.6 .5 4 .5-5.2 .5 3.1 .5-1.5 .5-.7 .5 1.4 .5-.3 .5-4.5 .5 .6 .5-.6 .5 .6 .5-5.7 .5 .2 .5 11.5 .5-7.8 .5-1.9 .5-.7 .5-.4 .5-2.5 .5 1.3 .5 .2 .5-1.2 .5-.4 .5 0 .5 7.6 .5-4.6 .5-4.4 .5 1.5 .5 1.4 .5-1.8 .5 2.5 .5 3.1 .5-9.5 .5 7.4 .5-2.2 .5-3 .5 1.5 .5-3.6 .5 2.9 .5 6.7 .5-5.7 .5-1.8 .5 5.8 .5 2.6 .5 .7 .5-6.2 .5 2 .5 1.5 .5 1.9 .5-3 .5 3.7 .5 1.1 .5-2.9 .5 1.3 .5 1.8 .5-4.5 .5 2.3 .5-4.2 .5-4.7 .5 3.9 .5-1.4 .5 .8 .5-.9 .5-1.2 .5 0 .5 .6 .5-3.8 .5 .4 .5 2.5 .5 2.2 .5-2.4 .5 4.5 .5-.9 .5 1.9 .5 7.5 .5-3.9 .5 .4 .5 3.5 .5 .4 .5-1 .5-3.1 .5 8.8 .5-4.3 .5-4.4 .5 6.4 .5-4.2 .5 5 .5 .3 .5-3.4 .5 1.2 .5 4.6 .5-7.3 .5-1.1 .5 3.3 .5-.2 .5-1.6 .5-.5 .5 1.5 .5 3.7 .5-.3 .5 .8 .5 0 .5-5.3 .5-1.3 .5 3.4 .5-1.9 .5-1.1 .5-5.4 .5 4.1 .5-1.7 .5-4 .5 2.1 .5-3 .5 .5 .5-1.5 .5-2.5 .5 .2 .5-2.5 .5 1.4 .5-1.9 .5 4.4 .5-6.4 .5 1.7 .5-3.8 .5 .6 .5 2.5 .5 2.5 .5-4.2 .5 2.4 .5 6 .5 1.6 .5-3.1 .5 2.9 .5-3.2 .5 7.7 .5-2.7 .5 3.6 .5-1.3 .5 .6 .5-1.9 .5 4.2 .5 8.6 .5-3.7 .5 1.6 .5-.5 .5 1.3 .5 2.9 .5-3.1 .5 1 .5 3.5 .5 .9 .5-.6 .5 2.4 .5 1.1 .5-.8 .5 1.3 .5 1 .5-.4 .5 .6 .5 1.4 .5-3.8 .5-1.1 .5 5.4 .5 .7 .5 .9 .5-2.3 .5 3.4 .5 .3 .5-1.8 .5-1.9 .5 1.4 .5 .5 .5 3 .5-3 .5 1.9 .5-2.5 .5 4.7 .5-4.3 .5 .5 .5 2.4 .5-1.2 .5-5.2 .5 4.3 .5 3.1 .5-8 .5 5.4 .5-4.6 .5 1.4 .5-2.5 .5 6.1 .5-.1 .5-.7 .5 4.8 .5-7.8 .5 .4 .5 1.9 .5-5.4 .5 2.9 .5-3.4 .5 4.7 .5-.3 .5-1.8 .5-2.9 .5-2.8 .5 2.2 .5 3.2 .5-4.6 .5 2.1 .5-1.4 .5 3.9 .5-5.6 .5 4.5 .5-5.2 .5 1 .5 2.1 .5-2.7 .5-3.2 .5 1.5 .5 .6 .5-.9 .5 1.5 .5-.9 .5-1 .5 1.1 .5-3.8 .5 6.2 .5-8.3 .5 2 .5 .8 .5-2.4 .5 3.8 .5 4.9 .5-1.2 .5-3.5 .5 1.7 .5-7.3 .5 7 .5-2 .5 2.1 .5-2.3 .5 3.9 .5 .7 .5 1.2 .5-3 .5 .1 .5 4.7 .5-.7 .5 3.1 .5 1.6 .5-4.5 .5 3.9 .5 .1 .5 1.6 .5 6.1 .5-.6 .5 3.7 .5 .9 .5 3.5 .5-1.8 .5-3.8 .5 5.6 .5-2.4 .5 2.8 .5 .3 .5-.9 .5 5.6 .5-8.4 .5-.7 .5 2 .5-.8 .5 .1 .5-2.5 .5 .1 .5 .8 .5-1.3 .5 .2 .5-2.1 .5-3.7 .5 5.4 .5 .8 .5-3.4 .5 .3 .5 4.2 .5-1.3 .5-.9 .5-1.6 .5-1 .5 1.3 .5-4.2 .5 2.5 .5 5 .5-2.1 .5-3.8 .5 3.4 .5 1 .5-2.2 .5 3 .5-3.9 .5 4.2 .5 1.2 .5 5.8 .5-2.1 .5 .8 .5 1.2 .5 2.7 .5 5.1 .5-1.3 .5-.7 .5 1 .5 3.4 .5-6.1 .5-1.8 .5 6.6 .5-.2 .5 2.1 .5 2.1 .5-3.6 .5 6.5 .5-1.6 .5-2.3 .5 4 .5-.9 .5 2.7 .5-5.4 .5 1.1 .5 7.9 .5-6.6 .5 2.4 .5 2.1 .5 .3 .5-.4 .5-4 .5 2.7 .5 .3 .5 1.6 .5-.8 .5-3.6 .5-.6 .5 5.5 .5-6 .5 3.2 .5 .9 .5-4.5 .5 1.8 .5-1.6 .5 5 .5-5.7 .5-.2 .5 1 .5 2.8 .5-2 .5-.1 .5-1.8 .5 2.2 .5-5.9 .5 1.3 .5-3.8 .5-3.6 .5-3.7 .5-8.2 .5 2.7 .5-4.8 .5-1.2 .5-6.6 .5-6.6 .5-1 .5-8.9 .5-4.1 .5-2.5 .5-8.4 .5 1.1 .5-6.6 .5-6 .5-5.6 .5 1.4 .5-6.4 .5 1.3 .5-10.1 .5-2.3 .5-4.3 .5-4.2 .5-.8 .5-3.1 .5 2.2 .5-8.9 .5-1.4 .5-4.5 .5-6.3 .5-1.8 .5 2 .5-5.1 .5-2.1 .5-6.1 .5 4.2 .5-4 .5-1.9 .5 1.3 .5 2.7 .5 2.7 .5 2.3 .5 4.6 .5 1.2 .5-2 .5 7 .5-4.8 .5 8.5 .5 .9 .5-.4 .5 5.5 .5-1.6 .5 1.1 .5-1.5 .5 3.9 .5-2.1 .5-.5 .5 2.8 .5 3.5 .5-1.8 .5 6.5 .5-3.3 .5 5.2 .5 2.5 .5 5.6 .5 .8 .5 7.7 .5 5.7 .5-.7 .5 4.4 .5 1.1 .5 6.4 .5 1.9 .5 7.7 .5-3 .5 4.3 .5 1.4 .5 3.8 .5 7.8 .5-.3 .5 4.3 .5 7.6 .5 2.6 .5 2.8 .5 3.6 .5 2.7 .5 8.1 .5-.2 .5 1.5 .5 2.9 .5 2.6 .5-.2 .5 1.2 .5-.1 .5 4.4 .5-1.1 .5 6.3 .5-3.2 .5 1.3 .5 .4 .5-3.2 .5 .5 .5 5.4 .5-1.2 .5 .3 .5-4.8 .5 3.9 .5-2.2 .5 3.1 .5-2.6 .5-.6 .5-.2 .5 1.7 .5 .2 .5-5.7 .5 1.8 .5-2.1 .5-.8 .5 .7 .5-1.5 .5-6.3 .5 5 .5-.4 .5 3.5 .5-7.5 .5-.9 .5 5 .5-5.6 .5-3.4 .5 1.9 .5-3.1 .5-1.2 .5-2.4 .5 6.5 .5-3.6 .5-2.3 .5-2.9 .5 .9 .5-6.4 .5 10.5 .5-7.2 .5 1.8 .5-.3 .5-.7 .5-3.9 .5-3.7 .5 1 .5-2.5 .5-9.9 .5-1.2 .5-4.6 .5-7.5 .5-2.9 .5-6.3 .5-10.5 .5-7.2 .5-9.7 .5-11.6 .5-9 .5-10.6 .5-8.4 .5-18.4 .5-6.5 .5-7.1 .5-7.2 .5-6.6 .5-14.7 .5-3 .5-11.7 .5 1.3 .5-8.4 .5-7.3 .5-.5 .5-10.8 .5-3.5 .5-2.3 .5-2.8 .5 1.8 .5 5.3 .5 2.6 .5 0 .5 3.2 .5 5.3 .5 10.2 .5 4.7 .5 .3 .5 9.2 .5 10.9 .5 7 .5 9.3 .5 5.8 .5 12.4 .5 9.3 .5 4.6 .5 6 .5 11.5 .5 8.1 .5 3.8 .5 3.9 .5 8.8 .5 .4 .5 6.1 .5-.9 .5-2.7 .5-.4 .5-3.3 .5-2 .5-5 .5 3.9 .5-7.3 .5-2.6 .5-5.1 .5-1.6 .5-1.7 .5-6.3 .5-4.6 .5-1.3 .5 2.1 .5-6.6 .5-.2 .5-.7 .5 1.3 .5-2.8 .5 .4 .5-4.9 .5 9.2 .5 4.5 .5 .7 .5 5.9 .5 6.1 .5 5 .5 6.6 .5 5.8 .5 5.3 .5 .1 .5 8.8 .5 2.4 .5 6.1 .5 2.9 .5 1.7 .5 6.3 .5 3.5 .5-1.2 .5 4.1 .5 3.7 .5-1.9 .5 4.6 .5 1.3 .5-3.2 .5 1.2 .5 1.8 .5 .1 .5 3.9 .5-6.3 .5 4.2 .5-6.6 .5-2.8 .5-.2 .5-3.4 .5-1.1 .5-1.9 .5-6.6 .5-3.6 .5-4.5 .5-13.2 .5-5 .5-16.7 .5-14.7 .5-7.4 .5-19.8 .5-9.7 .5-12.9 .5-15.8 .5-21.1 .5-21.6 .5-14.3 .5-20.6 .5-20.9 .5-11.9 .5-15.6 .5-8.3 .5-12.1 .5-4.2 .5-12.2 .5-5.6 .5 5.2 .5 4.2 .5 9.8 .5 4.5 .5 8.4 .5 10.1 .5 8.9 .5 14.9 .5 13.5 .5 20 .5 11 .5 18.7 .5 18.4 .5 21.6 .5 12.5 .5 6.7 .5 12.9 .5 9.8 .5 15.2 .5 4.9 .5 8.8 .5 9.1 .5 3.8 .5 10.9 .5 6.5 .5 6.4 .5 3.2 .5 9.4 .5 4.4 .5 2.4 .5 5.9 .5 4.7 .5 3.3 .5 1.4 .5-1.4 .5 2.1 .5 5.7 .5-1.5 .5 3.2 .5-3.9 .5 2.5 .5 2 .5-3.2 .5-4.4 .5 1.1 .5 2.9 .5-3.1 .5-5.4 .5 4.3 .5-4.3 .5 3.1 .5-3.1 .5-2 .5-6.1 .5-4.3 .5-6 .5-3.9 .5 1.7 .5-3.6 .5-.3 .5 .9 .5-5.3 .5 3.9 .5 3.1 .5 .9 .5-.4 .5 4.2 .5-6.2 .5 .7 .5 0 .5 1 .5 .6 .5-.1 .5 1.4 .5 3.3 .5-.2 .5 2.7 .5 1.8 .5-.1 .5 .5 .5 1.3 .5-7.1 .5 .1 .5-3.6 .5 1.5 .5-6.2 .5-2.8 .5-4.8 .5-4.9 .5-2.7 .5-12.3 .5 7.1 .5-7.6 .5 1.5 .5 3.2 .5-4.5 .5 2.8 .5-.3 .5-3.9 .5 3.2 .5-6.8 .5 4.6 .5-1.4 .5 1.8 .5 2 .5-.7 .5 7 .5-6.3 .5 7.2 .5-1.4 .5-1.5 .5 .3 .5 3.2 .5-3.9 .5 2.2 .5 .8 .5 6.2 .5-2.1 .5 4.3 .5 .5 .5 .1 .5 1.9 .5 1.7 .5 1.6 .5 .2 .5-4.6 .5 3.6 .5 4.4 .5 1.7 .5-2.5 .5 1.5 .5-.1 .5-2.8 .5 .4 .5 1.2 .5-.5 .5 2 .5-2 .5-3.2 .5 1.7 .5-1 .5 7.6 .5-4 .5-3.6 .5-2.3 .5 2.5 .5-4.5 .5-5.5 .5 .2 .5 0 .5-4.4 .5-6.2 .5-8.8 .5-5.9 .5-5.5 .5-9.3 .5-6.1 .5-11.9 .5-6.3 .5-9.2 .5-6.8 .5-6.4 .5-12.3 .5-6.9 .5-11.9 .5-4.2 .5-11 .5-8.3 .5-9.6 .5-6.8 .5-6.9 .5-8.3 .5 .7 .5 .9 .5 4.3 .5-1.4 .5 7 .5 5.7 .5 5.3 .5 4.5 .5 5.7 .5 10.9 .5 3.9 .5 6 .5 10.1 .5 6.6 .5 11.2 .5 9.8 .5 8.9 .5 8.6 .5 13.1 .5 10.1 .5 11.6 .5 9.7 .5 8.1 .5 8.3 .5 4.1 .5 2.5 .5 .4 .5 6.9 .5-3.4 .5 9.3 .5-.6 .5 3.3 .5 1.7 .5-9.6 .5 7.4 .5 4.5 .5 .5 .5-3.7 .5 2.6 .5 4.4 .5-2.8 .5 1.4 .5-.8 .5 1.2 .5-2 .5-1.6 .5-2.6 .5-3.2 .5 1.8 .5-7.3 .5-4 .5-1.8 .5 3.1 .5-8.7 .5 3.6 .5-10.1 .5 .9 .5-2.8 .5-3.4 .5-.2 .5 2.3 .5-3.6 .5 .2 .5-3.2 .5-.5 .5-1.7 .5-3.9 .5 1.5 .5 1.7 .5-.9 .5-1.6 .5 1 .5 3.1 .5-4.8 .5 7.6 .5-4 .5 2.6 .5 3.8 .5-2 .5 5.4 .5-.3 .5 2.2 .5-1.2 .5 .9 .5 3.9 .5 0 .5 3.6 .5 6.5 .5-1.8 .5-.2 .5 1.6 .5 3.1 .5-4.6 .5-3.2 .5 4.7 .5-.6 .5 1.8 .5-.9 .5-2.7 .5 2.4 .5 4.2 .5-5.9 .5 1.5 .5-5.8 .5 2.6 .5 .1 .5 1.6 .5-1.7 .5-1.6 .5 .1 .5-3.8 .5 3.3 .5-5.4 .5-2.4 .5-3.5 .5 .5 .5-2.4 .5-3.3 .5-.3 .5-7 .5 4.9 .5-.9 .5-4.7 .5 1.5 .5 3.5 .5-4.8 .5 3.7 .5-7 .5 4.8 .5-2.7 .5-.1 .5 .8 .5 3.1 .5-4.7 .5 .7 .5 4.9 .5-2.1 .5 2.9 .5-1.4 .5 2.2 .5-.1 .5-4.9 .5 3.8 .5-.6 .5 1.3 .5 2.5 .5 2.6 .5-4.5 .5 8.3 .5 0 .5 4.7 .5 2.5 .5-4.4 .5-.7 .5 .6 .5-5.3 .5 5.2 .5-2.5 .5-3.1 .5-3.4 .5 4 .5-2.9 .5 1.3 .5-7.3 .5 5.3 .5-1.7 .5 .4 .5 3.9 .5 4.7 .5-2.3 .5 3.2 .5-.1 .5 6.2 .5 0 .5 4.4 .5 3.3 .5 .7 .5 .6 .5 4.7 .5-6.2 .5-.2 .5 4.7 .5-1.1 .5-3.4 .5 5.1 .5 3.1 .5-7.5 .5 4.2 .5-2.6 .5 5.3 .5-1 .5-1.3 .5 1.5 .5-4.5 .5 2.6 .5-1.6 .5-1.8 .5 6.2 .5-5.7 .5-.3 .5-.8 .5 3 .5-2.9 .5 2.1 .5-2.1 .5-1.5 .5-1.4 .5 .5 .5-3 .5 5.8 .5 4.1 .5 1.7 .5 2.1 .5-2.2 .5 .4 .5 5.9 .5 .9 .5 4 .5 .6 .5 3.1 .5-.2 .5 5.8 .5-.3 .5 9.6 .5-1.5 .5 3 .5 1.4 .5 2.8 .5 5.1 .5 4.5 .5-1.3 .5 .3 .5-.9 .5 .9 .5 3.3 .5-8.1 .5-1 .5-4 .5-2.3 .5-6.1 .5-5.7 .5-.7 .5-2.4 .5-.7 .5-8.7 .5 8.3 .5-4.9 .5 6 .5-2 .5-1.4 .5-1.5 .5-1.9 .5 3.1 .5-3.3 .5-.4 .5-1.6 .5-3 .5 3.1 .5-3.6 .5-.3 .5 4.7 .5-.7 .5 3.6 .5 .5 .5 7.4 .5-3.9 .5 4.9 .5 3.4 .5-5.2 .5 8.9 .5-1.4 .5 2.6 .5 1.2 .5-4.4 .5 .1 .5 3.4 .5-3.7 .5-3.4 .5 2.8 .5-5.9 .5 2.1 .5-1.7 .5-4.1 .5 .3 .5-5.4 .5-4.4 .5-2.9 .5-2.5 .5-2.8 .5-3.9 .5 1 .5-8.6 .5-2.4 .5 0 .5-5.2 .5 1.3 .5-1.6 .5-6.4 .5-2.7 .5 1 .5-.7 .5-3.2 .5-1.6 .5-2.6 .5 3.1 .5 2.6 .5 .5 .5 .5 .5 7.2 .5-1.8 .5 6.5 .5 3.2 .5 2.4 .5 7.6 .5 1.3 .5 2.8 .5 5.3 .5 1.6 .5 1.1 .5 .2 .5-.9 .5 3 .5-2.5 .5-3.6 .5 .1 .5 2.2 .5-3.4 .5 1 .5-1.5 .5-5.4 .5 3.7 .5-1.9 .5-3.7 .5 0 .5-3.7 .5 .7 .5-8.4 .5-.9 .5-5.7 .5-4.3 .5-.2 .5-5.8 .5-7.6 .5-5.5 .5-1.4 .5-8.6 .5-4.7 .5-5.6 .5-2.7 .5-5.5 .5-7.5 .5-2.9 .5-1.9 .5-2.5 .5-.2 .5-3.4 .5-.7 .5-2.3 .5 .1 .5 3.7 .5-.4 .5 3.1 .5 .9 .5 1.6 .5 6.5 .5 6.2 .5 7.9 .5 4.5 .5 6.5 .5 9.8 .5 10 .5 9.5 .5 10.5 .5 6.9 .5 5.5 .5 6.9 .5 9.1 .5 12 .5 8.8 .5 2.3 .5 10.7 .5 1.7 .5 3.9 .5 4.8 .5 5 .5 1.8 .5 5.2 .5 3.2 .5-1.9 .5 7.7 .5 6.4 .5-8.4 .5 7.5 .5 2.6 .5 1.8 .5-1.5 .5 2.9 .5-1.3 .5-1.7 .5 2.9 .5-3.7 .5 3.6 .5-1.7 .5 5 .5-6.6 .5 3.2 .5 .1 .5-1.9 .5-5.8 .5-2.6 .5 3.6 .5-4.8 .5-1.9 .5 0 .5-2.7 .5-1.6 .5-2.5 .5-1.5 .5-6.5 .5 2.1 .5 .3 .5-3.7 .5-.5 .5 1.8 .5-4.1 .5 3.1 .5 .3 .5 0 .5-.2 .5-3.1 .5-.2 .5 4.6 .5-1.6 .5 4.4 .5-.4 .5-2.6 .5-.9 .5-.7 .5 .4 .5-1.3 .5 0 .5 .7 .5-1 .5-1 .5-4.3 .5-.8 .5 .4 .5-2.8 .5 1.1 .5 .5 .5 1.1 .5-1.4 .5-.3 .5-1.8 .5 3.7 .5-1.8 .5 3.7 .5-2 .5 2.7 .5 4 .5-2.3 .5 5.9 .5 2.5 .5-.2 .5-3.8 .5 6.6 .5 2.3 .5-1.3 .5 4.4 .5 1.5 .5-5.2 .5 6.3 .5 1.3 .5-.2 .5 1 .5 2.9 .5 4.8 .5-5.8 .5 2.7 .5-4.3 .5 2.8 .5 0 .5-4.9 .5-.4 .5 4.2 .5-1.3 .5-.1 .5 1.5 .5-4.2 .5 2.7 .5-2.3 .5-1.7 .5 .8 .5 2.4 .5-2.4 .5 1.1 .5 5.2 .5-3.8 .5 2.6 .5 1.2 .5-1.9 .5 .7 .5-.7 .5-.5 .5 4.2 .5-4.1 .5 1.4 .5 3.8 .5-3.3 .5-4.3 .5-.1 .5 1.9 .5-7.4 .5 4 .5-1.8 .5-.2 .5-7.2 .5 4 .5-1.2 .5-5.4 .5 2.4 .5-1.4 .5-3.6 .5 3.7 .5-1.6 .5-3.2 .5 3.5 .5-1.2 .5-3.8 .5 4.4 .5-2.2 .5-1.5 .5 4.5 .5 .2 .5-4.9 .5 3.1 .5-1.3 .5-1 .5 1.1 .5-2.2 .5 5.2 .5-7.3 .5 1.4 .5-5 .5 4 .5-3 .5-6.5 .5 7 .5 1.6 .5-2.7 .5 1.7 .5-.9 .5 1.9 .5-3.5 .5 7.4 .5-1.3 .5 4.7 .5 2.3 .5 1.8 .5 4.4 .5-1.7 .5 3 .5 7.9 .5 .4 .5 .7 .5 2 .5 3.7 .5-1.2 .5 .1 .5 3.3 .5-.9 .5 2.7 .5-4.5 .5 2.9 .5-.3 .5 1.9 .5-1.9 .5-1.9 .5-2.2 .5 5 .5-4.8 .5-.4 .5-1.7 .5-.7 .5-2.5 .5 2.8 .5-.5 .5-4.4 .5 1.6 .5-3.2 .5-2.2 .5 1.6 .5 2.3 .5-2.7 .5-4.6 .5 4.3 .5-3.4 .5 .5 .5 .8 .5-4.2 .5 1.6 .5 .1 .5-3 .5-1.3 .5 2.5 .5 2.9 .5-9.2 .5 2.7 .5-3.6 .5 2.6 .5-2.9 .5 2.1 .5-2.7 .5 .6 .5-1.7 .5 4.7 .5-3.7 .5-.1 .5-1.6 .5 .3 .5-1.9 .5 1 .5-3.4 .5 4.8 .5-3.1 .5-.8 .5 1.7 .5-.8 .5 1.2 .5-4.5 .5 .2 .5-1.4 .5-2.6 .5 3.3 .5-2.3 .5 3.3 .5-4.9 .5 4.7 .5 .3 .5-4.6 .5 4.1 .5-2.7 .5 .6 .5-2.4 .5-6.3 .5 2.9 .5 4.8 .5-3.3 .5-2.1 .5-.6 .5-.3 .5 .5 .5-.8 .5-1.9 .5 3 .5-1.1 .5-3.4 .5 .8 .5-2 .5 1.8 .5-7.3 .5 7.5 .5 4.8 .5-4.7 .5-1.7 .5-1.8 .5-1.7 .5 .2 .5 3 .5 1.6 .5 5 .5-1.9 .5 3.2 .5 2.2 .5 5.2 .5 .1 .5 2.9 .5 2.2 .5 2.7 .5-2.1 .5-.6 .5 1.8 .5 2.3 .5-1.8 .5 4.3 .5-1 .5-2.4 .5 2 .5-1.3 .5 2.1 .5 1.2 .5-1.8 .5 2.4 .5-7.6 .5 4.8 .5-2.7 .5-9.1 .5-2.7 .5-8.7 .5-6.2 .5-6.3 .5-1.9 .5-10.2 .5-3.5 .5 3.6 .5-.6 .5-.9 .5-6 .5 3.6 .5-.5 .5 2 .5-4 .5 1.8 .5-8.4 .5 4.2 .5 .8 .5-2.6 .5 1.5 .5-5.4 .5-1.4 .5-1.2 .5-6.3 .5-5.8 .5 2.6 .5-1.2 .5-.8 .5 5.8 .5-5.5 .5 3.6 .5 .2 .5 1.6 .5 7.3 .5-2.8 .5 5.9 .5-.5 .5 1.5 .5 4.9 .5 4.9 .5 .2 .5 5.3 .5-.5 .5 1.2 .5 3.5 .5 5.3 .5 1.1 .5-2.2 .5 6.9 .5-6.5 .5 7.8 .5 .9 .5-.9 .5 .1 .5-1.7 .5-2.4 .5-6.2 .5 1.5 .5-1.9 .5-2.4 .5-6.6 .5 4 .5-3.7 .5-1.4 .5-7.2 .5-1.1 .5-7.8 .5-2.7 .5-5.8 .5-8.3 .5-4 .5-5.5 .5-8.1 .5-2.5 .5-5.9 .5-7.2 .5-5.4 .5 1.2 .5-4.3 .5-6.1 .5-1.7 .5-3.9 .5-6.5 .5 .5 .5-2.6 .5 .6 .5-2.6 .5 0 .5 2.8 .5 2.3 .5 6.6 .5 0 .5 8.8 .5 2.5 .5 9.2 .5 1.3 .5 3.1 .5 7.6 .5 7 .5 5.1 .5 5.5 .5 3.5 .5 5.5 .5 7.4 .5-4.2 .5 5.3 .5-.7 .5-1.3 .5 5.9 .5 3.7 .5-.4 .5 3.3 .5-1.5 .5 1.4 .5-2.7 .5 .1 .5 .8 .5 .4 .5-.4 .5 .1 .5 .9 .5-1.3 .5-2.7 .5-.9 .5 1.8 .5 4.2 .5-2.7 .5-3.9 .5-1.1 .5 .7 .5-11.4 .5 10 .5-10 .5 3.8 .5-5.1 .5 4.6 .5-5.3 .5-1 .5-9.8 .5 .6 .5 .1 .5-9.2 .5 3.3 .5-6.2 .5-4.6 .5 .6 .5-11.2 .5-2.8 .5-6.5 .5-6.9 .5 .9 .5-14.3 .5-.6 .5-3.3 .5-10.3 .5-2.9 .5-4 .5-5.4 .5-6 .5 2.5 .5-9.2 .5-3.4 .5-11.2 .5 1 .5-2.6 .5-.7 .5-.8 .5 2.7 .5-5.7 .5-.6 .5-1.6 .5 3.7 .5-14.8 .5 .9 .5 6.7 .5-1.2 .5-.3 .5 5.3 .5 1.8 .5 7.2 .5-.3 .5 9.6 .5 5 .5 11.3 .5 4.1 .5 3.3 .5-2.6 .5 1.8 .5 4.8 .5 1.9 .5 6.7 .5 4.4 .5-5.1 .5 8 .5 1 .5 .1 .5 2.9 .5 .7 .5 3.2 .5-.8 .5-3.1 .5 5.3 .5-.5 .5 6.7 .5 1.9 .5-3.9 .5-.5 .5 2 .5 2.6 .5-3.9 .5-3 .5 3.7 .5-7.2 .5-.3 .5 2.4 .5-1.6 .5-1.2 .5 1.1 .5 1.5 .5-3.2 .5-2.2 .5-.1 .5-2.4 .5 1.5 .5-5.4 .5 .5 .5-.7 .5-3.9 .5-.8 .5-4 .5-.9 .5-6.2 .5 1.5 .5-2.4 .5-3.2 .5-5.7 .5-2 .5-1 .5 0 .5-4 .5-.5 .5 2.4 .5-.7 .5-2.8 .5-4.8 .5 .4 .5-1.8 .5 .8 .5 2 .5 .8 .5-2.1 .5 1.4 .5-2.3 .5-1.7 .5-1.3 .5 3.2 .5-2.5 .5 .7 .5-1.4 .5-3 .5 8.4 .5-5.6 .5-1.4 .5-3.2 .5-3.3 .5 4.7 .5 1.4 .5-2.9 .5 0 .5-1.4 .5-3.7 .5 6.8 .5-1.3 .5-1.9 .5 1.8 .5-.7 .5-4.1 .5 2.1 .5-3.4 .5 .7 .5 1.2 .5 6.5 .5 6.4 .5 2.2 .5-1.7 .5 6 .5-1.4 .5-1.3 .5 2.7 .5-6.1 .5-2.8 .5-2.6 .5-4.3 .5-5.8 .5-6 .5 .3 .5-2.3 .5-6.9 .5-.4 .5 .3 .5-5 .5-3.3 .5-1.3 .5-3.9 .5-1.9 .5-1.2 .5-3.9 .5-6.8 .5-.6 .5-4 .5-7 .5-1.1 .5-2.4 .5-2.5 .5 .4 .5-4.2 .5-3.4 .5 1.1 .5-.7 .5-3 .5-2.5 .5 3.5 .5 3.3 .5-1.4 .5 2.7 .5 3.7 .5-1.2 .5 8.1 .5-.8 .5 6.6 .5 4.5 .5 2.5 .5 5.8 .5 12.4 .5 .1 .5 .9 .5 4.9 .5 4.7 .5 2.4 .5 8.8 .5 2.4 .5 5 .5 1.8 .5 2.2 .5 4.2 .5 6.6 .5-3.4 .5 .4 .5 .6 .5 1 .5 2.6 .5 2.6 .5-.9 .5 1.3 .5 4.1 .5 2.9 .5 6.2 .5 5.3 .5 5.4 .5-.2 .5 6.9 .5 4.8 .5-1.8 .5 4.4 .5-1.3 .5 3.2 .5 7.8 .5-4 .5-3.2 .5 3.1 .5 2.5 .5 1.2 .5-2.3 .5 2.6 .5 .7 .5-1.6 .5-4.5 .5-.4 .5 1.6 .5 1.1 .5-2.6 .5 3 .5-4.2 .5 1.5 .5-2 .5-.8 .5 3.4 .5 .5 .5 3.8 .5 1.3 .5 .2 .5 5.1 .5-.6 .5-.5 .5-1.8 .5 3.3 .5 4.3 .5-2.5 .5 3.2 .5-4.6 .5 1.3 .5-2 .5 3.4 .5-3.9 .5 2.9 .5 3.8 .5 1.6 .5 .8 .5-5.4 .5 3.8 .5-1 .5 .9 .5 3.2 .5-2.6 .5 1.8 .5 4.9 .5 1.4 .5-5 .5 4 .5 2.9 .5 2.7 .5-1 .5 .5 .5 3.2 .5 2.4 .5 1 .5 3.1 .5 2.7 .5 1.4 .5 4.5 .5-1.2 .5-5.2 .5 5.4 .5 1.1 .5-.9 .5-1 .5-.8 .5-1 .5 1.5 .5-1.4 .5-.4 .5-1.6 .5 .5 .5-.2 .5 .2 .5-2.5 .5-3 .5 2.9 .5-1.7 .5 0 .5-4.2 .5-1.8 .5-2.1 .5 .5 .5-.6 .5-5.6 .5 .7 .5 .4 .5-2.9 .5-2 .5 4.4 .5-3.4 .5-3.5 .5 .1 .5 .1 .5-3.8 .5-4 .5 5.9 .5-4.4 .5-2.1 .5 3.5 .5-5.4 .5-5.6 .5-1.9 .5-5.4 .5-6.7 .5 5.4 .5-11.8 .5-1.1 .5-.9 .5 2.6 .5-2.5 .5-4.9 .5-1.1 .5 3.8 .5-2.9 .5-6.5 .5 .7 .5-2.8 .5-1 .5 .7 .5 2 .5-6.4 .5-4.7 .5 .4 .5-1.3 .5 2.3 .5 .6 .5-4.9 .5-1.1 .5 6.7 .5 .6 .5-1.3 .5 3 .5 1.4 .5 3.8 .5 2.3 .5-6.4 .5 6.3 .5 3.5 .5-.2 .5-2 .5 1.3 .5 .1 .5-.6 .5 .3 .5-.4 .5 0 .5-.5 .5 3.7 .5 3.9 .5-1.1 .5-.5 .5 8.6 .5 .5 .5 5.8 .5 2.5 .5 .2 .5 1.9 .5 6.9 .5-2.7 .5 5.7 .5 2.7 .5-1.5 .5 1.7 .5 2.6 .5 1.8 .5 2.4 .5-.8 .5 1.3 .5 4.5 .5 4 .5 1.8 .5-1.5 .5 5.6 .5-1.2 .5 2 .5 4.7 .5-4.8 .5 6.6 .5 2.7 .5 1.7 .5 3.1 .5 .2 .5 .4 .5 2.3 .5 .5 .5 1.1 .5 2.8 .5 2.8 .5 4.6 .5-.4 .5 2 .5 .4 .5 1.5 .5 1.2 .5 3.9 .5 4.6 .5 2.1 .5-.3 .5-.9 .5 4.3 .5 1.1 .5 .1 .5 3.2 .5 1.5 .5 1 .5-1 .5 4 .5-4.2 .5 .4 .5 .7 .5-2 .5 3.7 .5 1.3 .5-1.8 .5 .3 .5-3.3 .5 9.6 .5-4.7 .5 2.6 .5 2.6 .5-.9 .5 1.7 .5 .4 .5-1.7 .5 3.4 .5 1.2 .5-2 .5 1.8 .5-.5 .5 1.5 .5-1.9 .5-.9 .5-1.1 .5 1.8 .5 3.4 .5-.3 .5-3.2 .5 1.7 .5-2.6 .5 1.1 .5-.7 .5-1.7 .5 1.2 .5 .5 .5 .6 .5 3.7 .5-1.9 .5-1 .5 3.5 .5-1.1 .5-3.3 .5 5.5 .5-2 .5 .7 .5-.2 .5-.5 .5 1.9 .5-.6 .5-3.2 .5 5.2 .5-.8 .5-4.3 .5 3.4 .5-2.5 .5 3.9 .5-4.8 .5 5.7 .5-4.9 .5 7.8 .5-3.2 .5 2.3 .5-3.5 .5 0 .5 1 .5 1.9 .5-1.9 .5 1.1 .5 4.6 .5-2.8 .5-2.2 .5 3 .5-1.7 .5-.2 .5 0 .5-4 .5 3.6 .5 3.4 .5-1.2 .5 .2 .5-6.5 .5 2.1 .5-.3 .5 1.4 .5-1.4 .5 2.2 .5-6.6 .5 5.4 .5-.5 .5-.4 .5 1.5 .5-5.6 .5 0 .5 1.6 .5 1.7 .5 0 .5-3.6 .5 1.3 .5-.6 .5-3.2 .5 5.8 .5-1.2 .5-.3 .5-3.7 .5-1.1 .5 .7 .5 1.9 .5-5.5 .5 4.6 .5-1.7 .5 2 .5-4.1 .5 1.3 .5-2.2 .5-3.5 .5 2.4 .5 2.1 .5 .2 .5-4.8 .5 .8 .5-.1 .5 .2 .5-1 .5-1.4 .5 1 .5 3.9 .5-5.4 .5 1.2 .5-7.3 .5 4.2 .5-3.1 .5 4.6 .5-2.6 .5 .1 .5-3.5 .5 0 .5-6 .5 2.7 .5-3.9 .5 3.2 .5-3.1 .5-5 .5-1.4 .5 3.2 .5 3.6 .5 0 .5-4.5 .5 1.8 .5 4.5 .5-2.5 .5 .6 .5 .1 .5 1.1 .5-.4 .5 3.8 .5-7.7 .5 1.1 .5 1 .5-1.5 .5 2.1 .5-2 .5 1.1 .5 1.1 .5-1.2 .5 1.6 .5-4.3 .5 4.4 .5 .7 .5-1.6 .5-4.1 .5 5.3 .5 3.1 .5-8.6 .5 8.5 .5-2 .5 6.7 .5-4.2 .5 .5 .5-.1 .5 3.5 .5-5.1 .5-1.7 .5 3 .5-.4 .5-4.2 .5 5.9 .5 .8 .5-4.9 .5-5.7 .5 .9 .5-1.7 .5 1.3 .5 1.9 .5-5.1 .5 .7 .5 2.9 .5-3.4 .5 .9 .5-3.3 .5 4.5 .5-1.2 .5-2.7 .5-2 .5 2.6 .5-1.3 .5 0 .5 1.3 .5-1.4 .5-1.9 .5-1.3 .5 3.2 .5 .9 .5-5.9 .5 3.8 .5 1 .5-5.8 .5-1 .5 1.1 .5 3 .5-5.6 .5 3.5 .5-2.3 .5 3.3 .5-5 .5 6.4 .5-3.2 .5-.3 .5-.4 .5 4.1 .5-8 .5 5.4 .5 .7 .5-5.7 .5 1.6 .5-.2 .5 .1 .5 1.3 .5 5.5 .5-6 .5-.7 .5 6.9 .5-3.7 .5-1.8 .5 5.7 .5-.5 .5-1.1 .5 .3 .5 1.4 .5 .7 .5-.6 .5 4.6 .5-6 .5 1.5 .5-.4 .5 2 .5-1.7 .5 5.9 .5-1.4 .5 .5 .5-3.5 .5 2.4 .5-1.4 .5 3.8 .5-3.5 .5-1 .5 0 .5 3.1 .5 1.2 .5-1.8 .5-.6 .5 6.9 .5-5 .5 2.8 .5-1 .5-3.2 .5 4.9 .5-2.5 .5-.7 .5-.5 .5 1.6 .5-.4 .5 4 .5-2.3 .5 1 .5-1.8 .5-4.5 .5 3.1 .5 4 .5-3.4 .5 2.6 .5-3.4 .5 5.7 .5-2.7 .5 5.1 .5-4 .5-4 .5-.6 .5-.5 .5 4.5 .5-5.7 .5 2.5 .5-1 .5-1.2 .5 1.9 .5-.7 .5 3.7 .5-2 .5 3.2 .5-1.8 .5-3.1 .5 .9 .5-2.7 .5 2.6 .5-3.4 .5 2.4 .5 2 .5 .3 .5-1.7 .5 .8 .5 .1 .5 2 .5 1.4 .5-1.3 .5 3.7 .5-4.8 .5 4.2 .5-1.4 .5 1.3 .5 2.5 .5-3.2 .5-.5 .5 1.2 .5-.6 .5-2.6 .5 1.5 .5 3.9 .5-2.1 .5 4.3 .5-1.1 .5 .7 .5 4.8 .5-4.9 .5 6 .5-2.8 .5 .5 .5-3.7 .5 1.1 .5 .9 .5-1.1 .5 .2 .5 2.9 .5 1.5 .5 .4 .5 3.1 .5-5.1 .5 1.6 .5-2 .5 4.4 .5-.5 .5 1.2 .5 2.2 .5-3.4 .5-1.3 .5 9.8 .5-6.6 .5 1.9 .5-.8 .5 2.3 .5 2.6 .5 .2 .5 0 .5-1.2 .5 .9 .5 4.1 .5-1.6 .5 3.5 .5 .7 .5-1.1 .5 2 .5-4.7 .5 .2 .5 2.7 .5 .8 .5-4.1 .5 2.7 .5 1.5 .5 .4 .5 5.9 .5-.9 .5-4.2 .5 1 .5 1.5 .5 .8 .5-3.9 .5 3.3 .5 .8 .5-2.3 .5 8.4 .5-1.9 .5 .3 .5 4.5 .5 1.3 .5-6.5 .5 4.9 .5-2 .5 .5 .5-2.4 .5 .6 .5 7.8 .5-4.8 .5 .7 .5 2.8 .5-.1 .5 .6 .5-.6 .5 2.6 .5-2 .5 2.3 .5-3 .5 4.9 .5-1.8 .5-1.7 .5 .6 .5 1.8 .5 3.5 .5-5.5 .5 4.2 .5-2.5 .5 2.4 .5 2.3 .5-6.5 .5 1.8 .5 4.8 .5-2.9 .5 1.8 .5 1.1 .5 6.4 .5-7.3 .5 .2 .5-.2 .5 4.1 .5-3.1 .5 .8 .5 1 .5 .1 .5 1.4 .5 2 .5 .9 .5-4.4 .5 2.6 .5-.2 .5-1.3 .5-2.7 .5 .4 .5 6.9 .5-4.2 .5-2.4 .5-1 .5-4.8 .5 4.1 .5-.7 .5-.9 .5-1.9 .5 3.5 .5-4.8 .5 .7 .5 3.7 .5-2.3 .5 4.3 .5-2.3 .5-1.3 .5 4.5 .5-2.1 .5 1 .5-3.4 .5-1.7 .5-.4 .5 1.6 .5 3 .5 .3 .5-6.1 .5 6.7 .5-3.1 .5 3.3 .5-4 .5 1.2 .5-2.8 .5 8.4 .5-7.4 .5 2.3 .5-1.7 .5 1.3 .5-.4 .5 1.7 .5-2.6 .5 3.4 .5 .5 .5-4.2 .5 3.6 .5-2.9 .5-2.5 .5 3.2 .5 .5 .5 2.2 .5-1.3 .5 1.2 .5 1.7 .5 .3 .5-2.3 .5-1.6 .5 3.6 .5 2 .5 .2 .5-.8 .5 3.7 .5 4.7 .5-8.2 .5 3.5 .5 2.9 .5 2.9 .5 .7 .5 .8 .5 1.6 .5 .8 .5-2.7 .5-.4 .5-2.9 .5 6.3 .5 1.4 .5-2.2 .5 2.7 .5-2.3 .5 1.9 .5-2.1 .5 6.8 .5-.3 .5-6.5 .5 4.3 .5-.1 .5 .5 .5 2.2 .5-2.4 .5 4.5 .5-4.2 .5 8.5 .5-8.5 .5-1.2 .5 9.5 .5-9.2 .5 1.2 .5 1 .5 .9 .5 .7 .5 .1 .5-.2 .5 2.4 .5-2 .5 2.1 .5-.6 .5 .4 .5-3.9 .5 2 .5 3.1 .5-1.6 .5-2.1 .5 4.5 .5-.2 .5-.5 .5-1.4 .5 2.8 .5-1.8 .5-.3 .5 2 .5-2.3 .5 3 .5-1.9 .5 1.7 .5-4.1 .5 2 .5-.7 .5-1.1 .5 6 .5-3.7 .5 2.1 .5-3.5 .5 1.4 .5 5.2 .5 0 .5-3.5 .5 .8 .5-4.7 .5 5.1 .5 .1 .5 .2 .5-1.2 .5-1.8 .5-1 .5 .4 .5 .1 .5 3.7 .5 1.3 .5-6.3 .5 1.9 .5 .1 .5-.5 .5 2.5 .5 .4 .5-1.6 .5-2.4 .5 1.5 .5-2.8 .5-.5 .5 2.5 .5 .6 .5-2.4 .5 1.5 .5 .7 .5 1 .5-3.1 .5-.8 .5 1 .5 .9 .5-2.7 .5 1.6 .5 .5 .5-3 .5 3.7 .5-3 .5 3.7 .5-3.6 .5 .4 .5 5.4 .5-4.3 .5-.2 .5 4 .5-4 .5 2.9 .5 1.8 .5-3.3 .5 .6 .5 .7 .5 2.2 .5 .3 .5-5 .5 1.7 .5 .5 .5 1.7 .5-4 .5 1.3 .5-2.5 .5 3.7 .5-2.8 .5 3.1 .5-.1 .5-1.8 .5-3.3 .5 4.3 .5 1.2 .5-5 .5 2.4 .5-1.1 .5-2.1 .5 .9 .5 4.2 .5-6.3 .5 5.7 .5-3.3 .5 2.5 .5 1.1 .5-1.7 .5-1.9 .5-1.8 .5 7.5 .5-4.8 .5 .5 .5-2.2 .5 7.8 .5-2 .5-3.7 .5-.4 .5 2.3 .5-.6 .5 2.1 .5-3.1 .5 2.4 .5-1.3 .5-3 .5 3.2 .5 2.2 .5-2.2 .5-1.5 .5 6.2 .5-6.6 .5-1.2 .5 3 .5-1.5 .5 1.8 .5-2.2 .5 4.8 .5-3.5 .5 .2 .5-2.1 .5 1.7 .5-1.2 .5 .4 .5 3 .5 .2 .5-5.5 .5 1.4 .5 4.1 .5-4.3 .5 2.2 .5-.9 .5 .9 .5-2.7 .5 3 .5 1.4 .5-3.2 .5 .5 .5 2.2 .5-.8 .5 1.5 .5 2.9 .5-6.7 .5-.1 .5-.7 .5 2.3 .5-.1 .5-4.4 .5 6 .5-2.3 .5-2.1 .5 1.9 .5-4.7 .5 6.6 .5-2.2 .5 1.4 .5-1 .5-2 .5 .2 .5 2.4 .5 2.6 .5-3.6 .5-1.7 .5-.2 .5 2.4 .5-3 .5 .5 .5 .8 .5 3 .5-1.8 .5 1.6 .5 .5 .5-4.7 .5 3.2 .5-3.2 .5 7.2 .5-3.3 .5-2.4 .5 .5 .5 1.6 .5-4 .5-.2 .5-.7 .5 2.4 .5 .5 .5-1.7 .5 2.4 .5-4.9 .5 5.2 .5 0 .5 .8 .5-6.6 .5 2.9 .5 4.1 .5-2.9 .5-3.5 .5 4.2 .5-.4 .5-1.6 .5 4.3 .5-4 .5 5.4 .5-6.2 .5 5.2 .5 1.4 .5-5.2 .5 3.8 .5-5.3 .5 12.3 .5-6.7 .5 2.2 .5-4 .5 2.9 .5 .5 .5-2 .5 .3 .5 .8 .5-6 .5 7.2 .5-4.2 .5-.6 .5 3 .5 .5 .5-2.9 .5-.6 .5-1.7 .5 5 .5 .2 .5-4.6 .5 2.2 .5-1.3 .5 1.4 .5-.9 .5-1.6 .5 .5 .5-2 .5 2.4 .5-1.1 .5 1.6 .5-2.5 .5 .5 .5 .3 .5 .6 .5 7.2 .5-5.1 .5-.7 .5 .5 .5 2.8 .5-4 .5 4 .5 .3 .5-3.4 .5 2.7 .5 2.7 .5-6.4 .5-1.2 .5 3.1 .5-1.2 .5 1.7 .5-1.4 .5 .1 .5 2.3 .5-5.2 .5 3.9 .5-5.3 .5 3.9 .5-.6 .5-1.9 .5 4.6 .5-1.5 .5 2.8 .5-3.1 .5-2.1 .5 1.1 .5 1.4 .5-1.6 .5-.8 .5 9.1 .5-8.8 .5 3.4 .5-2.8 .5-1.7 .5 4.6 .5-2.5 .5 .7 .5 4.9 .5-7.2 .5 7.4 .5 .6 .5-4.4 .5 .3 .5 1.5 .5 .2 .5-2.3 .5-1.4 .5 3 .5-2.1 .5-2.3 .5 3 .5 2.1 .5-.1 .5-1.7 .5 .5 .5-.6 .5 .9 .5 .7 .5-5.3 .5 6.1 .5-4 .5 1.1 .5 2.9 .5-3.4 .5-5.4 .5 8.2 .5-5.1 .5 3.2 .5-1 .5 1.5 .5-2.9 .5 4 .5-.3 .5-2.2 .5 2 .5-.4 .5 2.7 .5-.8 .5 .5 .5-3.2 .5-1.4 .5 3.8 .5-.9 .5-2.2 .5 4.3 .5-.9 .5-.9 .5 .5 .5 1.1 .5 .4 .5-3.9 .5-.3 .5 1.5 .5-4.7 .5 7.4 .5-5.6 .5 1.9 .5 .8 .5 1.2 .5-1.5 .5-1.5 .5 1.6 .5 6.3 .5-3.1 .5-4.9 .5 2.7 .5-.7 .5 .4 .5 5 .5 .6 .5-6.1 .5 .5 .5 1.9 .5 .8 .5-3.3 .5 4.2 .5-2.4 .5-2.9 .5-1.6 .5 3.8 .5 1.3 .5-5.1 .5 4.1 .5-.2 .5-.9 .5 1.4 .5-2.2 .5-3.4 .5 9.2 .5-3.3 .5 .2 .5-1.1 .5-6.8 .5 8.8 .5-2.8 .5 1.6 .5 3.8 .5-5.5 .5-.1 .5 2.4 .5-3.1 .5 1.8 .5-4.2 .5 9.2 .5-4.7 .5 .9 .5-1 .5 2.8 .5 2.1 .5-1.2 .5-3.7 .5 1.3 .5-4.7 .5 1.7 .5 2.9 .5-1 .5 2.8 .5-2.8 .5-1 .5 .7 .5 3.6 .5-6.4 .5 1.8 .5 2.6 .5-4.1 .5-4.3 .5 5 .5 3.5 .5 .4 .5 5.3 .5-3.3 .5-5.8 .5-.5 .5 6.7 .5 .3 .5-2.1 .5-3.8 .5 3.1 .5 .9 .5-.7 .5 .1 .5 3 .5 0 .5-2 .5-3.4 .5-2.1 .5 2.1 .5 5.2 .5-6.1 .5 4.9 .5 2.2 .5-7.4 .5 5.9 .5 1.9 .5-5.2 .5-1.1 .5-.9 .5 3.2 .5-3.8 .5 1.6 .5-2 .5 3.8 .5-3.5 .5 1.9 .5 5.3 .5-1.1 .5-2.9 .5-3.6 .5 4.6 .5-.8 .5 1.1 .5-2.5 .5 7 .5-7.6 .5 3.3 .5-1.8 .5-.4 .5 3 .5-7.8 .5 6.6 .5-2.6 .5-2.8 .5 9.5 .5-6.5 .5-5 .5 3.3 .5 .7 .5 1.2 .5 1.4 .5 1.3 .5-2.6 .5 6.9 .5-3.6 .5-2.1 .5-1.6 .5-.4 .5 6.1 .5 0 .5-3.3 .5-1.2 .5 .1 .5 5.2 .5-6.5 .5 .8 .5-.4 .5-.9 .5-.6 .5 4.6 .5 .9 .5-1.5 .5 .6 .5-3.2 .5 .2 .5 2.8 .5 3.5 .5-2.9 .5-3.7 .5 3.1 .5-6.9 .5 6.4 .5 1.3 .5-3.7 .5-.1 .5 5.1 .5-5.9 .5 1.3 .5-.1 .5 2.3 .5-.8 .5 1.6 .5-.6 .5 .6 .5-3 .5-.2 .5-.1 .5 3 .5 1.6 .5-4.3 .5-1.5 .5-1.2 .5-.1 .5 2.1 .5 2.4 .5-4.1 .5 .9 .5 .9 .5-.4 .5-.9 .5 1 .5-2.1 .5 1.4 .5 3.1 .5 2.1 .5-3.7 .5 .3 .5 1.9 .5-1.5 .5-.2 .5-3.7 .5-1.5 .5-.6 .5 3.4 .5-1.2 .5 4.4 .5-3.1 .5 .5 .5-.7 .5 1.8 .5 .8 .5-3 .5 3.9 .5 2.5 .5-6.5 .5-.9 .5 3.4 .5 .4 .5-1.7 .5-3.3 .5 1.2 .5 1.9 .5 1.9 .5 1.6 .5-2.3 .5 0 .5-.9 .5 2.4 .5-3.8 .5-.2 .5 3.9 .5-6.7 .5 6.6 .5 .2 .5-3.5 .5-.1 .5 1.4 .5 2.5 .5 1.9 .5-4.1 .5 5 .5-2.8 .5-.6 .5-1.8 .5 4.2 .5-1.7 .5-2.7 .5 .3 .5 1.8 .5-4.4 .5 4.5 .5-2.6 .5-.8 .5 3.5 .5-3.9 .5-.1 .5 5.2 .5-.5 .5-7 .5 5 .5 2 .5-5.9 .5 3.3 .5-.9 .5 1.8 .5-4.3 .5 2.6 .5-1.1 .5 8.9 .5-8.5 .5 1.4 .5-.3 .5-.1 .5-2.1 .5 3.6 .5-4.9 .5 3.5 .5-.4 .5 1.1 .5-4.8 .5 3.1 .5-.6 .5 2.8 .5 .6 .5-2.4 .5 1.6 .5 1.6 .5-6.7 .5 1.7 .5 3.3 .5 .2 .5-.2 .5 .2 .5 1.3 .5-2.2 .5-1.2 .5 4.7 .5-2.2 .5-1.3 .5 2.4 .5 2.8 .5-4.4 .5-1.6 .5 1.9 .5-2.9 .5 0 .5 2.4 .5-6.5 .5 6.6 .5-.5 .5 2.1 .5-1.6 .5-2.4 .5 4.7 .5-5.5 .5 4.2 .5 1.5 .5-2.8 .5-1.9 .5-5.2 .5 5.4 .5 1.3 .5-.7 .5-1.5 .5 4.1 .5-1 .5-1.5 .5 2.8 .5-4.9 .5 4.7 .5-3 .5 2.9 .5-3.2 .5 .5 .5 2.5 .5-.4 .5-2.3 .5-.1 .5-2 .5 .8 .5 4.5 .5 3.2 .5-4.4 .5-2.4 .5-.2 .5 4.6 .5-.5 .5-.7 .5-6.1 .5 5.6 .5-2.8 .5 3.8 .5-3.3 .5-.6 .5 2.8 .5-2.9 .5 3.3 .5-1 .5-.9 .5-.1 .5 2 .5-1 .5 .2 .5-2.1 .5 3.2 .5-2.3 .5-.2 .5 1.8 .5-1.8 .5-.4 .5-.4 .5 .5 .5-.1 .5 2.6 .5-1.3 .5-2.6 .5 .6 .5 1 .5-4 .5 1.7 .5 1.5 .5 2.7 .5-6.8 .5 4.5 .5 .3 .5-1.8 .5-1.4 .5 2.6 .5-1.3 .5 2.1 .5 3 .5-1.1 .5-4 .5 2.6 .5 1.9 .5-4.5 .5 1.9 .5-1.9 .5 3.2 .5-.2 .5-2.1 .5 1.8 .5-1.9 .5 .4 .5-.6 .5-.1 .5-.5 .5 3 .5-3.8 .5 1.4 .5 0 .5 1.3 .5-2 .5 1.8 .5-.5 .5-.4 .5 2.8 .5-1.9 .5-.1 .5 .4 .5-1.8 .5 1.8 .5-2.7 .5-1.3 .5 3.3 .5-2.2 .5 3.3 .5-2.3 .5 5.6 .5-4.7 .5-.7 .5 .8 .5-4 .5 7.5 .5-9.4 .5 5.3 .5-1.5 .5 3.2 .5-2.1 .5-3.2 .5 3.5 .5 1.3 .5 2.1 .5-4.2 .5 4.6 .5-2.6 .5 2.8 .5-2.3 .5-.4 .5 3.1 .5-4.5 .5 .8 .5 2.5 .5-2.7 .5 1 .5-2.2 .5 4.9 .5-.7 .5-2.9 .5 5.3 .5-1.8 .5-7.1 .5 5 .5 1.5 .5-2.2 .5 3.1 .5-6.7 .5-1.1 .5 2.7 .5 3.9 .5 1.2 .5-3.4 .5-2.5 .5 1.1 .5 6.1 .5-3.7 .5-.4 .5-2.6 .5 0 .5 6 .5-4.2 .5 5.5 .5-2.9 .5-.4 .5 1.7 .5-2.7 .5 1.6 .5 3.5 .5-2.6 .5-5.1 .5 2.9 .5-6.2 .5 4.9 .5 4 .5 .6 .5-3.5 .5-1.6 .5 4.6 .5-3.8 .5-.1 .5 .7 .5 1.1 .5-2.9 .5 2 .5-.1 .5 3.6 .5-2.1 .5-2.3 .5 0 .5 1.8 .5-1.1 .5 5.1 .5-9.6 .5 3 .5 4.7 .5-6 .5 3.4 .5-5.7 .5 4.1 .5 2.7 .5 1.8 .5-1 .5-6.5 .5 10.3 .5-3.6 .5-4.5 .5 1.4 .5 1.8 .5-3.3 .5 .9 .5-1.6 .5-.6 .5 5.4 .5-2.4 .5 2.9 .5-2.5 .5-.8 .5 5.5 .5-3.9 .5-5.4 .5 2 .5 .9 .5 3.1 .5-1.3 .5 .5 .5-2.9 .5 1.7 .5 3.3 .5-1.9 .5-4.4 .5 4.1 .5 2.2 .5 1.6 .5-8.9 .5 3.7 .5 1.5 .5-1.8 .5 .3 .5-2.3 .5 2.7 .5 1.9 .5-1.3 .5 3.4 .5-3.9 .5 2.8 .5-1.4 .5-2 .5 2.8 .5-.4 .5-1.5 .5-3.9 .5 9.4 .5-2.4 .5-1.5 .5 1.7 .5-6.7 .5 5.1 .5 .6 .5-.2 .5 .3 .5-4.6 .5 4.2 .5-.1 .5 2.5 .5-3.5 .5 1.3 .5 .2 .5 1 .5-1.8 .5 .2 .5-.2 .5 .1 .5 .6 .5-4 .5 2.3 .5 .2 .5 1 .5-.5 .5-3.5 .5 5.1 .5-2.7 .5-.4 .5 2.7 .5 1 .5-1.1 .5 .3 .5-.4 .5 .2 .5-1.5 .5-2.6 .5 2.3 .5-1.8 .5 2.1 .5-.7 .5-1 .5-3.1 .5 7.9 .5-6.6 .5 .4 .5 3.9 .5-1.9 .5 .6 .5 .3 .5 1 .5-4.6 .5 1.5 .5 3.7 .5 1.7 .5-2.2 .5 3.4 .5-7.5 .5 4 .5 .6 .5 1.6 .5-6.2 .5 2.3 .5-2.3 .5 .7 .5 1.3 .5-4.1 .5 5.2 .5 .3 .5 3 .5-6.2 .5 7 .5-4.5 .5 1.8 .5-1 .5 .1 .5-2.4 .5 3.2 .5 .7 .5 1.2 .5-6.4 .5 1.6 .5 2.5 .5 .4 .5-.4 .5-3.2 .5 8.9 .5-3.9 .5-1.7 .5-2.6 .5-2.3 .5 2.7 .5-.7 .5 .2 .5 3.2 .5-1.7 .5 1.4 .5-.8 .5 .3 .5 1.1 .5-.9 .5-.4 .5-1.9 .5 .8 .5 .1 .5 .9 .5-2.7 .5 2.3 .5 1 .5 0 .5 .8 .5-1.7 .5 2 .5-4.1 .5-.9 .5 1.7 .5 2.3 .5 .2 .5 1.9 .5-.3 .5-5.1 .5 3.3 .5 1.1 .5-2.6 .5 .2 .5 1.5 .5 1.8 .5 1.2 .5-1.6 .5-5.5 .5 6.2 .5 4 .5-8.5 .5 .5 .5-.3 .5 0 .5 2.1 .5-2 .5-2 .5 5.1 .5-2.9 .5 .8 .5 4.6 .5-1 .5-1.6 .5 0 .5-2.6 .5-1.2 .5-.2 .5 1.6 .5-5.1 .5 3.2 .5 7.1 .5-7.6 .5 2.7 .5-.7 .5-1.7 .5 2.7 .5 .3 .5 .4 .5-1.2 .5-1.2 .5-.2 .5 .4 .5 5 .5-9.5 .5 6.7 .5-3.1 .5 6.2 .5-2.5 .5-1.5 .5 4.4 .5-2.9 .5-3.7 .5 4.6 .5 .1 .5-2 .5 .3 .5-4.2 .5-1.9 .5 .8 .5 5.6 .5-1.2 .5 .3 .5 .2 .5 1.8 .5-5 .5 1.7 .5-.7 .5 1.7 .5-2.3 .5 .1 .5 4.9 .5-2.3 .5 .5 .5-1.3 .5 3 .5-2.5 .5-1 .5-1.2 .5 3.5 .5-3.8 .5-4.7 .5 10.5 .5-6.7 .5-4 .5 4.4 .5-2.4 .5-1.9 .5 4.8 .5-5.4 .5-2.8 .5 2.2 .5 1.6 .5 .2 .5-2.2 .5-2.3 .5 6 .5-1 .5-6.4 .5 9 .5 2.9 .5 .9 .5 .1 .5 .1 .5-2 .5 1.2 .5 .8 .5-1.5 .5 1.7 .5 .3 .5 .7 .5-2.3 .5 1.4 .5-.2 .5 3.8 .5-2.6 .5-3.3 .5 4 .5-3.4 .5 1 .5 1.9 .5 .1 .5-3 .5 4.8 .5-3.4 .5-2.1 .5 4 .5 .4 .5-4.5 .5 .4 .5-.1 .5 4.4 .5-1.9 .5 2 .5-7.4 .5 3.2 .5 1.2 .5-2 .5 2.2 .5-2.9 .5 3.2 .5-.7 .5 1.2 .5 1.1 .5-3.8 .5 1.9 .5-3.2 .5 5.4 .5-6.8 .5 5.4 .5-3.1 .5 3.6 .5 2.3 .5-1.6 .5 1.3 .5-6.3 .5-1.1 .5 4.7 .5-.7 .5-1 .5-.1 .5 3 .5-1 .5 3.1 .5-4.3 .5 .9 .5 2.8 .5-.2 .5-1 .5-1.6 .5-1.4 .5 2.3 .5 2.3 .5-1.3 .5-1.6 .5 .5 .5 1.3 .5-2.2 .5 2.4 .5-2 .5 .7 .5 2.2 .5-4.9 .5 1 .5 1.4 .5 .3 .5-2.2 .5 2 .5-1.9 .5-.1 .5 1 .5 3.9 .5-3.6 .5 4.7 .5-3.1 .5-.5 .5 2.8 .5-3.2 .5-.5 .5-1.4 .5-.9 .5 5.7 .5-2.4 .5-2.7 .5 3.7 .5 .3 .5 1.1 .5 .7 .5-2.5 .5 0 .5-1.2 .5 .4 .5 .8 .5-3.9 .5 2.1 .5 4.5 .5-6 .5 2.8 .5-5.3 .5 4.2 .5-2.5 .5 .9 .5-1.1 .5-.7 .5 5.7 .5-3.6 .5 2.4 .5 1.5 .5 0 .5 .3 .5-2.5 .5 1.9 .5-4.4 .5 3.8 .5 3.6 .5-4.9 .5 1.8 .5-6.7 .5 3.9 .5-3.8 .5 1.8 .5 1 .5 2.9 .5-4.1 .5 6.1 .5 .1 .5 .4 .5-1.3 .5-4.3 .5-.1 .5 .7 .5 4.3 .5 .5 .5-6.3 .5 6.5 .5-3 .5-1.2 .5 1.9 .5 1.9 .5 2.1 .5-.4 .5-4.7 .5-2.2 .5 4.2 .5-.1 .5 1.8 .5-.6 .5-2.7 .5-.5 .5 1 .5-4.8 .5 5.6 .5-3.1 .5 1 .5 4.2 .5-2.1 .5-2.7 .5 3.5 .5-4.5 .5 2.6 .5-3.4 .5 1.7 .5 .6 .5-.1 .5 2 .5-4.3 .5 .4 .5 1.4 .5 .8 .5 3.6 .5-5.8 .5-2.2 .5 2.6 .5 3.2 .5 4.4 .5-6.5 .5 4.3 .5-.9 .5-.3 .5-8.3 .5 5.3 .5-.7 .5 3 .5-5.6 .5 5 .5-1.2 .5 2.3 .5-3.4 .5-2.5 .5 5 .5-3.6 .5-2.4 .5 2.3 .5-1.5 .5 1.3 .5-1.9 .5 4.8 .5-2.5 .5-1 .5 .6 .5-1.7 .5 5.6 .5-7.9 .5 7.6 .5-2.2 .5 .1 .5 5.5 .5-4.3 .5 2.9 .5-6.3 .5 .3 .5 4.5 .5 2.5 .5-5.1 .5 3.3" fill="none" stroke="#FF00FF" stroke-width="2.3" stroke-linejoin="round" shape-rendering="crispEdges"/>
<path d="M229.0 786.6l.5 4.5 .5-1.5 .5-.8 .5-1.9 .5 1.7 .5 .4 .5-1.9 .5-1.1 .5 .6 .5 .4 .5 6.4 .5-7.5 .5 5.9 .5-4.5 .5 2.9 .5 .2 .5-2.8 .5 1.6 .5 2.5 .5 .3 .5-2.7 .5 2.1 .5 .1 .5 .4 .5 .1 .5 1.5 .5-7.2 .5 3.7 .5 .7 .5-2.2 .5 1.8 .5-3.1 .5-4 .5 5.2 .5 2.8 .5-5 .5 2.6 .5-2.5 .5 3.7 .5-4.8 .5 .7 .5 5.9 .5-2.5 .5 0 .5 3 .5-3.6 .5-3.4 .5 5.8 .5-2.1 .5 1.5 .5 1.6 .5-1.4 .5 4 .5-.4 .5-.7 .5 .9 .5-2.7 .5 2.2 .5 .3 .5 .2 .5-.7 .5 .4 .5 .8 .5-3.2 .5 1.8 .5 2.2 .5-8.7 .5 4.5 .5 3.7 .5-5.4 .5-2.8 .5 4 .5-.4 .5-1.6 .5-.2 .5 1.7 .5-4.2 .5 3.2 .5-4.1 .5 2.9 .5 1.1 .5-1.3 .5-1.1 .5 1.3 .5-3.9 .5 5 .5-3.9 .5-6.1 .5-.1 .5 1.1 .5 .9 .5 1.2 .5-9.3 .5 2 .5-.7 .5-.2 .5-3.4 .5-1.8 .5 1.2 .5 .5 .5 .3 .5-5 .5-5.6 .5 3.9 .5-.7 .5-2.1 .5-.7 .5 2.5 .5-10.3 .5-3.1 .5-.2 .5 3.5 .5-8.2 .5 2.4 .5-2.9 .5 .9 .5-.2 .5 4.2 .5-2.3 .5 1.8 .5 3.3 .5 2.3 .5-6 .5 5.7 .5 2.6 .5 1.5 .5-.7 .5 1.8 .5 2 .5-1.8 .5 5 .5-2.4 .5 2.3 .5 1.5 .5-2.1 .5 2.9 .5 6.3 .5-6.2 .5 .8 .5 1.8 .5-.3 .5 3.1 .5 2.7 .5 3 .5-2.1 .5-1.4 .5 1.8 .5 .4 .5 .9 .5-2.3 .5-2.8 .5-1.1 .5 3.3 .5 .8 .5-4.7 .5-1.2 .5 9.1 .5-2.2 .5-4.3 .5-.5 .5 .2 .5-3.1 .5 1.3 .5-1.3 .5 2.3 .5-2 .5-1 .5 1.4 .5 .5 .5-2.1 .5 3.7 .5 .1 .5-.2 .5 5.5 .5-8.8 .5 3.4 .5 0 .5 .1 .5-.1 .5 4 .5-1.2 .5-1.3 .5 6.2 .5-1.7 .5 3.3 .5 4 .5-2.1 .5 5.8 .5 2 .5 .3 .5-7.9 .5 4.5 .5-3.8 .5 4.1 .5 3.6 .5-1.1 .5-3.8 .5 4.5 .5-3.3 .5 3.1 .5-.7 .5-2.2 .5-2.8 .5 3.5 .5-.1 .5 1.4 .5 3.1 .5-3.2 .5 1.7 .5-2.1 .5 .4 .5-2.1 .5 1.2 .5-2.7 .5 3.5 .5 1.2 .5-3.5 .5 2.7 .5-6.3 .5 1.2 .5-2.5 .5 2.9 .5 1.5 .5-1.8 .5 1 .5 .4 .5 1 .5-1.8 .5-.7 .5 1.9 .5-2.4 .5-.7 .5-3.5 .5 2.4 .5 4 .5-5.3 .5-.2 .5 1.1 .5 0 .5-.9 .5-.6 .5-.4 .5 .6 .5 2.8 .5-3.5 .5 1.9 .5 .4 .5 .7 .5 1.8 .5 3.2 .5-3.7 .5 .8 .5-2.7 .5 1.4 .5 .9 .5 .4 .5 3.7 .5-2.8 .5 0 .5-.4 .5-3.4 .5 6.2 .5-5.4 .5 2 .5 5.9 .5-7.7 .5 5.1 .5-4.6 .5-1.5 .5 8 .5-9.3 .5 .2 .5 7.5 .5-5.5 .5 3.7 .5-5.8 .5 9.3 .5-7.9 .5 2 .5-1.3 .5 1.3 .5 .4 .5-2.9 .5-1 .5 3.8 .5 2.5 .5 1.1 .5-.7 .5 1.3 .5-2.8 .5 .9 .5 2.5 .5-4.6 .5 5.1 .5-5 .5 4.7 .5-1.5 .5-8.1 .5 6.3 .5-.1 .5 5 .5-2.6 .5 4.7 .5-1.7 .5-2.2 .5-.7 .5-.4 .5 .1 .5-1.3 .5 .6 .5 2.1 .5 1.2 .5 .7 .5-5 .5 2.4 .5-3.6 .5-3.1 .5-4.7 .5 1.9 .5 3.6 .5 .3 .5 1.6 .5-3.2 .5-7.5 .5-.5 .5 4.1 .5-5 .5-4.5 .5 3 .5 3 .5-3.9 .5 .8 .5 2.6 .5-3.9 .5 .7 .5 6.4 .5 3.1 .5-6.3 .5 1.5 .5-.9 .5 1.9 .5 .1 .5-2.1 .5 6.2 .5-3.7 .5 2.4 .5-2.3 .5 5.8 .5-4.2 .5 2 .5-.8 .5 4.7 .5-.2 .5-3.1 .5-3.8 .5 1.3 .5 3.2 .5 0 .5 6.1 .5 2.9 .5-3.7 .5-1.6 .5 .4 .5-.9 .5 1.7 .5-.8 .5-2 .5 1.8 .5-1.1 .5-1.1 .5-.3 .5-.1 .5-.3 .5-.4 .5 3.8 .5 .3 .5-5.6 .5 1.3 .5-2.7 .5 .6 .5 4.6 .5-5.5 .5-.3 .5-.1 .5 .8 .5 1.8 .5-3 .5 5.2 .5-2.5 .5-.7 .5 2.1 .5-1.8 .5-3 .5 1 .5 3.7 .5-2.1 .5-.5 .5-.7 .5 .1 .5 1.7 .5-2.4 .5-4.6 .5 1.8 .5 .6 .5 4.7 .5-.7 .5-1.9 .5-1.9 .5 2.1 .5-.4 .5 3.7 .5-2.5 .5-3.8 .5 2.4 .5-3.2 .5-2.4 .5 3.3 .5-1.3 .5 .3 .5 .4 .5 1.6 .5-1.5 .5 1 .5-.7 .5 1.7 .5-4.7 .5 4.6 .5 .8 .5 .7 .5-2.2 .5 4.4 .5-4.5 .5 1.2 .5-2.3 .5 .1 .5-1.3 .5 1.6 .5-.8 .5 1.1 .5 4.6 .5-1.1 .5-1.8 .5 3.9 .5-3.6 .5 0 .5 1.7 .5-2.7 .5-3.3 .5 7.8 .5-4.3 .5 .6 .5 2.2 .5 5.4 .5-7.5 .5 2.2 .5-1.8 .5 .5 .5 2.6 .5 .9 .5 1.1 .5-.8 .5 3.2 .5-2.3 .5-4.2 .5 6.2 .5 1.7 .5-4.4 .5-1.1 .5 6.6 .5 3.3 .5-8.5 .5 4.1 .5 0 .5-4 .5 2.4 .5-3.3 .5 4.3 .5-1.6 .5 .1 .5 1.4 .5-4.8 .5 1.8 .5-.2 .5 2.8 .5-7.7 .5 2.2 .5-1.2 .5 .7 .5 3.1 .5-.3 .5-2.9 .5 2.3 .5-3.1 .5 1.7 .5-3.5 .5 5.6 .5-.7 .5-.2 .5-2 .5 1.1 .5-3 .5 .6 .5 2 .5-1.3 .5-4.3 .5 3.1 .5 1.8 .5 .4 .5 .4 .5-3.1 .5 .7 .5 .8 .5-2.3 .5 .5 .5 5.1 .5-2 .5-.8 .5 4.8 .5-2.3 .5 0 .5-1 .5 4.9 .5-3.4 .5 3.8 .5-.9 .5 .1 .5 2.6 .5-4.4 .5 6 .5-1.3 .5-.8 .5-.7 .5 .6 .5 2.6 .5 1.9 .5-5.2 .5 4.3 .5-2 .5 7.7 .5-5.6 .5-1.7 .5-1.3 .5 6.6 .5-1.9 .5 1.1 .5-1.6 .5-2.3 .5 2 .5-1.4 .5-.7 .5 1.6 .5 .2 .5 2 .5-1.8 .5-.5 .5 2.5 .5-5.3 .5-1.7 .5 1.9 .5-2.6 .5 1.8 .5-1.9 .5 5.9 .5-3.2 .5-.8 .5-3.4 .5 2.6 .5-2.5 .5 .4 .5-3.6 .5 1.6 .5-6.6 .5-1.9 .5-1.2 .5 1.3 .5-2.5 .5-5.5 .5-5.2 .5-3.9 .5-4.7 .5 6.3 .5-7.5 .5-3.5 .5-2.6 .5 1.7 .5-5.2 .5-1.1 .5-2.8 .5 3.8 .5-7.1 .5-2.5 .5 2.7 .5-5.8 .5-.4 .5 2.7 .5-5.6 .5-.1 .5 1 .5-3.9 .5 0 .5-6 .5 2.1 .5-5.3 .5 7.9 .5-6 .5-4.7 .5 .2 .5 1.7 .5-4.8 .5-2.7 .5 .7 .5 3.1 .5-.5 .5-2.2 .5 5.9 .5-.5 .5-3 .5-.7 .5-.8 .5 1.1 .5 3.7 .5-3.4 .5 1.5 .5 1.9 .5 3.3 .5-3.8 .5 1.1 .5 2.4 .5 .3 .5 2.9 .5 1.8 .5-1 .5-1.1 .5-3.4 .5 6.4 .5-4.2 .5 1.3 .5 6.1 .5-3.4 .5 4.5 .5-4.1 .5 2.8 .5 2.3 .5 2.8 .5-2.5 .5 6.8 .5 1.9 .5 2.5 .5 2.2 .5-1.7 .5 4.7 .5 3.8 .5-3.2 .5 6.5 .5 .2 .5 2.1 .5 .9 .5 2.8 .5 4.4 .5-1.4 .5 1.8 .5-2.2 .5 2.5 .5-1.8 .5 2.8 .5-1.1 .5 2.9 .5-4.7 .5 4.8 .5-2.8 .5 .4 .5-3.4 .5 2.9 .5 1.2 .5-4 .5 4.1 .5 .2 .5-1 .5 3.8 .5-2.7 .5-2.3 .5 1.6 .5-1.4 .5 1.4 .5-2.5 .5-1.3 .5-1.3 .5 5.5 .5-2.9 .5 2.1 .5-3.2 .5-4.5 .5 .6 .5 3.8 .5-2.6 .5-2.3 .5 0 .5-2.9 .5 .9 .5 .4 .5-2 .5-4 .5 3.1 .5-3.8 .5-1.4 .5-2.6 .5 1.5 .5-1.1 .5-5.7 .5 2.8 .5-.8 .5 .7 .5 .7 .5-4.5 .5-2.1 .5-1.4 .5 2 .5-1.1 .5-4.6 .5 4.2 .5-10.3 .5-5.7 .5-1.1 .5-1.8 .5-7.6 .5-5.7 .5-11.9 .5-3.7 .5-6 .5-4.8 .5-1 .5-4.8 .5-1.4 .5-7.7 .5 3 .5-6.1 .5 1.2 .5-5 .5-5.1 .5 .2 .5-3.5 .5 2.1 .5-2.9 .5-5.8 .5-.2 .5-6.7 .5 0 .5-4.2 .5 3.8 .5-.1 .5-2.5 .5 5.3 .5 1 .5 1.5 .5-4 .5 4.1 .5 3.2 .5 2.6 .5 .7 .5 7.1 .5-1.2 .5 4.7 .5-.8 .5 1.2 .5 10.4 .5 1.4 .5-.6 .5 .1 .5 5.2 .5 4.8 .5 1.2 .5 3.9 .5-3.6 .5 1.3 .5 6 .5-.2 .5 6 .5-3.8 .5-.3 .5 2.3 .5-1.6 .5 1.7 .5 2.7 .5-4.1 .5-2.9 .5 .4 .5 1.7 .5-.7 .5-2 .5-.7 .5-4.2 .5 1.5 .5-.2 .5-2.3 .5-.6 .5-2.7 .5 .8 .5 2 .5 1.1 .5 .3 .5 7.8 .5-4.5 .5 7.6 .5 1.6 .5 3.1 .5 7.5 .5 .5 .5-.2 .5 1.4 .5 1.5 .5 2.3 .5 .3 .5 .7 .5 1.7 .5 1.8 .5-1.1 .5 4 .5-1.8 .5-3.8 .5 1.6 .5 1.1 .5-3.8 .5 5.1 .5-.1 .5-4.9 .5 5.8 .5-3.4 .5 2.1 .5-2.9 .5-4 .5 2.8 .5 2.2 .5-2.2 .5-2.1 .5-7 .5-1.9 .5-2.7 .5-9 .5-3.9 .5-5.4 .5-1.9 .5-12.1 .5-10.9 .5-16.5 .5-4.7 .5-15.8 .5-9 .5-9.7 .5-7.1 .5-6.7 .5-10.2 .5-11.3 .5-4.9 .5-2.8 .5-6.4 .5-2.8 .5-3.7 .5 2.7 .5 3 .5 1.2 .5 6.3 .5 4.9 .5-.8 .5 .3 .5 3.2 .5 10.6 .5 3.5 .5 5.2 .5 5.5 .5 6.1 .5 6.8 .5 5.3 .5 10 .5 9 .5 .4 .5 9.2 .5 7.8 .5 2.6 .5 6.3 .5 4.2 .5 4.9 .5 7.4 .5 .2 .5 1.3 .5 6.2 .5 5.3 .5 1.2 .5-1.2 .5 1.8 .5 3.8 .5 .3 .5 2.4 .5-3.2 .5 7.3 .5-1.6 .5 1.5 .5 2.4 .5 .9 .5 1.2 .5 2.5 .5-.4 .5 6.1 .5-8.6 .5 1.9 .5-1.7 .5-6.5 .5 4.8 .5-2.5 .5-4.9 .5-.2 .5-2.7 .5 1.6 .5-5.8 .5 .4 .5-3.2 .5 1.3 .5-3.4 .5-4.4 .5 1.8 .5-2.6 .5 4.9 .5-2 .5-1 .5 .2 .5 .4 .5-1.6 .5 3.1 .5 3.1 .5-2.9 .5 .7 .5 6.8 .5-.7 .5 4.2 .5 2.4 .5-3.9 .5 5.5 .5 .6 .5-7.3 .5 5.6 .5-.5 .5-1.3 .5 .2 .5-4 .5-2.4 .5 .4 .5-2.7 .5-6.5 .5 3.1 .5-5.6 .5 4.1 .5-4.7 .5 .3 .5-2.6 .5-1.1 .5 6.3 .5-5.4 .5 0 .5 1.7 .5-1.3 .5-4.5 .5 .6 .5-1.5 .5 1.8 .5 1.5 .5 3.8 .5-1.7 .5 1.4 .5-2.9 .5 2.4 .5 3.8 .5-4.5 .5 1.9 .5 1.2 .5-3.1 .5 2.3 .5 3.6 .5-3.9 .5 3.6 .5-2.6 .5 1.9 .5 1.5 .5-1.2 .5 1 .5 3.5 .5-1.9 .5 1.6 .5-.5 .5 3.1 .5-2.7 .5 .1 .5 4.4 .5 2.3 .5-4.1 .5 1.1 .5 .7 .5-.2 .5-3.6 .5 2 .5 .1 .5-3.3 .5 6 .5-2.5 .5 1.3 .5-1.8 .5-.7 .5 2.6 .5-6.8 .5 1.3 .5-5.4 .5 6.5 .5-2.5 .5-3.1 .5-.8 .5-2.4 .5-.3 .5-6.8 .5-4.9 .5 .5 .5-10 .5-4 .5-2.7 .5-9.8 .5-2.8 .5-8.6 .5-6.9 .5-11.3 .5-4.5 .5-4.2 .5-1.1 .5-7.4 .5-3.2 .5 .4 .5 3.9 .5-2.5 .5 .8 .5 1 .5-.4 .5 6.1 .5-.6 .5 .9 .5 9.4 .5 8.2 .5 2.3 .5 7.7 .5 6.3 .5 6.5 .5 4.3 .5 5.2 .5 8.5 .5 4.3 .5 7.4 .5 3.4 .5 3.7 .5-.7 .5 4.6 .5 1.9 .5-.3 .5-.5 .5 .1 .5 1.1 .5 5.5 .5-.3 .5 1 .5 1.9 .5-1.6 .5-.9 .5 4 .5-5.9 .5 1.6 .5 5.8 .5-4.5 .5 .5 .5 1.5 .5-1.2 .5 .9 .5-1.4 .5-8 .5 8.2 .5-3 .5-2.4 .5-4.7 .5 4.5 .5-4.9 .5 2.9 .5 .1 .5-2.7 .5 .3 .5-6.2 .5-6 .5 5.4 .5 2.5 .5-2.4 .5-5.2 .5 4.6 .5-3 .5-1 .5-3.2 .5-.8 .5-4.7 .5-.7 .5 3 .5-.2 .5-5.1 .5 .8 .5 3.4 .5 .2 .5 5.4 .5-3.5 .5-1.9 .5 2.7 .5 6.8 .5-1.9 .5 1.2 .5-.8 .5 2.1 .5 3.5 .5-.3 .5 4.6 .5-3.8 .5 3.5 .5 3.1 .5-.3 .5-2 .5-.2 .5-1.4 .5 2.9 .5-3.1 .5 4.5 .5-.5 .5 0 .5 3 .5 0 .5-1.5 .5-2.4 .5 1.2 .5 .4 .5-2.1 .5-.5 .5-.1 .5 2.1 .5 2.1 .5-5.2 .5 1.4 .5-.3 .5 1 .5-8.5 .5 3.3 .5-2.2 .5 1.9 .5-2.4 .5-.6 .5 6.9 .5-.6 .5-4.9 .5 4.2 .5-3 .5-4.6 .5 6.1 .5-3.2 .5 3.2 .5-2.2 .5 1.6 .5 1.4 .5-3.2 .5-3.7 .5 2.3 .5 3.7 .5 .9 .5 2.7 .5 1.5 .5 .6 .5-2.4 .5 .6 .5-1.8 .5-2.1 .5 1 .5 2.6 .5-.5 .5 5.2 .5-7.5 .5 2.3 .5-2.2 .5 .2 .5 .7 .5-1.3 .5 0 .5 2.9 .5 2.7 .5-4.7 .5 2.7 .5-2.4 .5-1.1 .5 3.6 .5-5.4 .5 3.6 .5 6.4 .5 2 .5-2.4 .5-.5 .5 4.7 .5 2 .5 1.6 .5 1.2 .5-1.4 .5 6.7 .5 .7 .5-1.2 .5 4.4 .5-1.8 .5 1.1 .5-3.9 .5 4.1 .5-1.4 .5 1.2 .5-.1 .5 .8 .5-3.2 .5-.6 .5 1.7 .5-4.5 .5 .9 .5 1.6 .5-5.2 .5-3.9 .5 2 .5-1.4 .5 .5 .5 3.7 .5-5.7 .5 1.5 .5 1.3 .5 .5 .5 .8 .5 3.7 .5-4.9 .5 1.2 .5-.8 .5 6.2 .5-1.3 .5 6 .5-2.3 .5-1.9 .5 8.5 .5 .2 .5 3.6 .5 2.9 .5-.9 .5 5.2 .5-.7 .5 4.6 .5-3.9 .5 1 .5 5 .5-2.1 .5 2.1 .5 2.7 .5-2.2 .5-1 .5 2.5 .5-.1 .5-.3 .5-1.3 .5-1.7 .5 .6 .5-.8 .5-1 .5 3.4 .5-6.4 .5-.8 .5 .1 .5-3.2 .5-2.6 .5-.3 .5-.7 .5 2 .5 0 .5-.3 .5-.2 .5-1.9 .5 .9 .5-1.7 .5-.8 .5-4.5 .5 4.7 .5 1.5 .5-9.5 .5 3.8 .5-.9 .5-1.2 .5 1.2 .5 .6 .5 8.3 .5-1.9 .5 7.2 .5-1.2 .5 2.8 .5 5.6 .5-1.5 .5 4.1 .5 4.6 .5-5 .5 5.6 .5 1.2 .5-4.8 .5 6.6 .5 1.7 .5-4.6 .5-1.5 .5 1.2 .5-2.4 .5-.4 .5-1.9 .5-2.2 .5-3.6 .5 4.3 .5-5.8 .5 .9 .5-.9 .5-6.5 .5 .5 .5-2.3 .5-2.9 .5 .3 .5-4.4 .5-3.1 .5 1.7 .5 1.8 .5-4.2 .5-1 .5 4.5 .5 0 .5-3.3 .5 .2 .5 1.7 .5 2.7 .5 2.9 .5 3 .5 2.2 .5 .3 .5-1.3 .5 5.1 .5 .1 .5-2.8 .5 7.4 .5-3.7 .5 .7 .5 .4 .5 .9 .5 3.4 .5 1.8 .5-2.4 .5 4.9 .5 1 .5-5.1 .5 3.7 .5-3.6 .5 4.4 .5-6.9 .5 3.4 .5-4.5 .5 4.5 .5-3.4 .5 3.6 .5-8.2 .5-1.9 .5 .5 .5-1 .5-.5 .5-3.7 .5-2.2 .5 2.9 .5-2.1 .5-.5 .5-1.4 .5 4.4 .5-8.8 .5-2.6 .5-2.9 .5-4.4 .5-6.2 .5-9.1 .5-1.5 .5-3.4 .5-2.7 .5-2.9 .5-2.6 .5 4.1 .5 3.5 .5-3.2 .5 3.6 .5-3.8 .5 2.1 .5 .5 .5 2.3 .5 6.9 .5 2.9 .5 6.5 .5 2.4 .5 8.7 .5 3.9 .5 5.8 .5 8.4 .5 1.6 .5 5.6 .5 4.9 .5 1.3 .5 4.8 .5 7 .5 2.6 .5 2.2 .5 1.5 .5 2.7 .5 1.1 .5 8.1 .5-2.5 .5 5.4 .5-1.2 .5-1.6 .5 7.3 .5-5.9 .5 4.3 .5 1 .5-.1 .5 4.6 .5-.1 .5 3.5 .5-4.1 .5 .3 .5-.3 .5-2.1 .5 .4 .5-10.4 .5 13.8 .5-5.3 .5 2.4 .5-2 .5 2.9 .5 1 .5-4.4 .5 5 .5-2.7 .5-2.4 .5 0 .5 .6 .5 2.3 .5-6.4 .5-3.4 .5 1.6 .5 1.7 .5-1.9 .5-1.7 .5-.9 .5 4.8 .5-2.2 .5 .2 .5-2 .5 1 .5-8.2 .5 9.1 .5-.8 .5 4.5 .5-5.2 .5 5.6 .5-3.7 .5-2.8 .5 0 .5 .4 .5 5.3 .5-.7 .5-1.4 .5 2.9 .5-2.3 .5 .4 .5 0 .5-2.7 .5 3 .5 .2 .5 1.2 .5-2.3 .5 0 .5 4.5 .5-3.8 .5 .4 .5-.4 .5 3 .5 .4 .5-1.4 .5-1.2 .5 3.6 .5 4.9 .5-4.1 .5 1.7 .5 4.3 .5 .9 .5-1.4 .5 .6 .5 5.1 .5-1.3 .5-.1 .5 2.4 .5 2.7 .5-3 .5 6.4 .5-2.4 .5-1.5 .5 5.4 .5-1.9 .5 1.8 .5-2.7 .5 1.7 .5-.6 .5-3.9 .5 2.5 .5 .8 .5-4.3 .5-.3 .5-2.1 .5 2.3 .5-.8 .5-.2 .5-1.3 .5 6.5 .5-4.2 .5-3.2 .5 4.3 .5-4.5 .5 5.7 .5 1.9 .5-7.2 .5 6.7 .5-2.6 .5 1.5 .5 2.6 .5-4.5 .5 6.5 .5-7.2 .5 3.4 .5-1.7 .5-3.4 .5-2.5 .5-.9 .5-1.3 .5-1 .5-7.4 .5 4.3 .5-.7 .5 3.5 .5-5.6 .5-1.6 .5-3.4 .5 1.1 .5-5.5 .5 7 .5-3.9 .5 4.6 .5-1.9 .5-4.3 .5 7.4 .5-1.6 .5 1.9 .5-5 .5 1.7 .5 3.9 .5-4.3 .5-3.7 .5 5.6 .5-1.5 .5 .5 .5-.2 .5 3.6 .5-3.2 .5 4.1 .5-3 .5 .6 .5-3.7 .5-1.7 .5-4.6 .5 2.9 .5-1.4 .5-2.6 .5 1.3 .5-.8 .5 .6 .5-.6 .5 .9 .5-.1 .5 1.6 .5 2.8 .5 5.8 .5 2.7 .5 .7 .5-5.2 .5 5.7 .5 1.2 .5 3.2 .5 6 .5 1.1 .5 .6 .5 3.7 .5-.3 .5 5.9 .5 .1 .5 3.5 .5-2.2 .5 .9 .5 2.8 .5-1 .5-.8 .5 2.8 .5-5 .5 4.9 .5-3.5 .5 3.7 .5 2.9 .5-3 .5 1.1 .5-1.9 .5 2.8 .5 1.1 .5-4 .5 .9 .5-1.9 .5 1.2 .5-2.8 .5 5.6 .5 .2 .5-3.3 .5-1.2 .5-2.8 .5-2.1 .5 2.7 .5-4.4 .5 2.3 .5-1.2 .5-.1 .5-2.4 .5 3.7 .5-3.1 .5-1.2 .5 2.5 .5-2.5 .5 .9 .5 1.2 .5 .3 .5 .1 .5 .9 .5-2.5 .5-2.7 .5 .1 .5 1.6 .5-2.1 .5 2.8 .5-5.7 .5-.3 .5 2.7 .5-1.1 .5 2 .5 4.3 .5-2.2 .5-1.2 .5 1.4 .5-3 .5 5.5 .5-1.7 .5-.1 .5 .7 .5 .5 .5-1.3 .5-2.9 .5 2.6 .5-4.4 .5-1 .5 3.1 .5-.9 .5-.3 .5-1.4 .5-.5 .5-4.5 .5 7.8 .5-5.6 .5 2.6 .5-1.3 .5-.8 .5-2.7 .5 5.2 .5-1.8 .5 1.7 .5-2.3 .5-4 .5 5.1 .5 1.6 .5-.9 .5 0 .5 2.6 .5-6.5 .5 4.8 .5 3.4 .5-2.3 .5 .2 .5 3.1 .5 6.2 .5-2.2 .5 1.7 .5 .5 .5-.2 .5 2.2 .5-1.4 .5-1 .5-.8 .5-1.5 .5 4.9 .5-4.3 .5 1.2 .5-.5 .5 2.1 .5 4.2 .5-4.5 .5 1.1 .5 .2 .5-1.7 .5 1 .5-1.1 .5-4.4 .5 7.4 .5-4 .5 .2 .5-6.2 .5 6.7 .5-3.9 .5-5.5 .5-3.5 .5 2.5 .5 .2 .5-.9 .5-.2 .5-3.4 .5-3.5 .5 4 .5 1.8 .5-5.2 .5-.7 .5-2.1 .5 .4 .5 1.3 .5 1.5 .5-6.2 .5-.5 .5 3 .5-2 .5 2.2 .5-2.4 .5 .5 .5 .1 .5 0 .5 2.7 .5-1.3 .5 4.1 .5-.9 .5-.6 .5 .1 .5 6 .5-2 .5 4.9 .5-2.5 .5 1.8 .5 2.7 .5-2.9 .5 3.7 .5 .2 .5 3.6 .5 1.6 .5 2.9 .5-1.1 .5 .8 .5 1.5 .5 2 .5-4 .5 6.7 .5-2.1 .5-4.4 .5 1.5 .5 4.5 .5 1.2 .5-5.3 .5 .4 .5 .5 .5-3.1 .5 1.6 .5-4.4 .5 1.6 .5 3.8 .5-3.5 .5 3.6 .5-7.8 .5-3.4 .5 3.7 .5-1.5 .5-9.1 .5 3.1 .5-10.6 .5 4.5 .5-6.7 .5-3.2 .5 3.1 .5-7 .5-5.4 .5-3.2 .5-1.1 .5-1.2 .5-5.1 .5-.1 .5-1.2 .5-4.4 .5 7.7 .5-8.6 .5-6.3 .5 10 .5 .8 .5 3.9 .5 4.2 .5 1.2 .5 5.5 .5 4.8 .5 3.5 .5 .4 .5 4.3 .5-3 .5 7.7 .5 3.7 .5 .8 .5 2.8 .5-4.8 .5 2.6 .5 2.4 .5-3.4 .5 .6 .5 .4 .5 3.7 .5-3.6 .5-1.5 .5 6.1 .5-6.9 .5-2.9 .5 4.4 .5 4 .5-4.6 .5 1.1 .5 1.9 .5-.7 .5-3.8 .5 7.8 .5-5.3 .5-1.9 .5 1.9 .5-8.1 .5 1.7 .5 1 .5 2.9 .5-4.4 .5-2 .5 1.5 .5-2.4 .5-7.5 .5 5 .5 .1 .5-2.9 .5-6.6 .5 3.2 .5-7 .5-1.7 .5-2.3 .5 .3 .5-2.8 .5-.9 .5 1.3 .5 .5 .5-7.2 .5-.3 .5 .7 .5-4.6 .5-4.3 .5 4.4 .5-5.5 .5 .4 .5-8.2 .5 .6 .5-5.8 .5-.9 .5-3.5 .5 2.9 .5-5.1 .5-5.3 .5-1.7 .5-1.6 .5-.6 .5-.1 .5-4.1 .5-4.2 .5 2.2 .5-4.3 .5-2.2 .5 2.5 .5-.5 .5 .8 .5 3.2 .5 2.6 .5 2.3 .5-1.7 .5 7.9 .5-2.9 .5 3.1 .5-6.1 .5 3.2 .5 1.2 .5-.1 .5 2.1 .5-2.6 .5 5 .5-.6 .5-1.3 .5 4.2 .5 5.4 .5 1.2 .5-.2 .5-.6 .5-3.7 .5-4.5 .5 3.4 .5-1.8 .5-.6 .5-.8 .5-1.2 .5-.8 .5 2.9 .5 2.8 .5-2.9 .5 1.2 .5 4.1 .5-3 .5 .6 .5 2.4 .5-6.1 .5 6.4 .5-2.6 .5-2.2 .5 5.8 .5-5.5 .5 0 .5 .2 .5 .8 .5-4.9 .5 2.3 .5 1.1 .5-1.3 .5 1 .5-.4 .5 .8 .5-3 .5 2.1 .5 .3 .5-3.8 .5 6.2 .5-.4 .5-6.7 .5-3.2 .5 1.4 .5-1.2 .5-1.9 .5-1.7 .5 1.2 .5 4.1 .5-4.8 .5 .2 .5-5.5 .5 5.2 .5 1 .5-5 .5-2 .5 3.5 .5 .3 .5-4.1 .5 2.2 .5 1.9 .5-2 .5-.6 .5-.2 .5-2.9 .5 6 .5-1.4 .5-.9 .5-4.6 .5 3.8 .5-5.5 .5 2.4 .5-2.7 .5-.2 .5 1.1 .5 1.7 .5-3.1 .5-.8 .5 1 .5-4 .5 3.4 .5-.4 .5 .1 .5 3.4 .5 .5 .5-4.7 .5 2 .5-2 .5 .3 .5 0 .5 7.7 .5-2.3 .5 1.2 .5-3.2 .5 2.8 .5-4.9 .5 7.9 .5-1.9 .5-5.1 .5-2 .5-3.4 .5-1.8 .5 1.3 .5-6 .5-2.8 .5 1.1 .5 .2 .5-5.7 .5 1.5 .5-4.6 .5 4.7 .5-2.3 .5-4.6 .5 4.7 .5-5.6 .5 1.6 .5-2 .5-1.3 .5-4.5 .5 4.7 .5-.4 .5-1.4 .5-.8 .5-.7 .5 1.1 .5-2.2 .5-1.6 .5 3.7 .5 1.4 .5-3.1 .5 5.5 .5-8 .5 5.9 .5 .2 .5 3.5 .5 2.1 .5-.4 .5-2.4 .5 .4 .5 4.7 .5 5.1 .5-2.6 .5 5.4 .5 .3 .5-.8 .5 6.7 .5 .3 .5 1.7 .5 .1 .5 2.6 .5 .6 .5-4.4 .5 8.4 .5 2.8 .5-2.7 .5 4.1 .5 3.9 .5 2.1 .5-2 .5 5.8 .5 4.9 .5 .7 .5 2.3 .5-1.6 .5 4.3 .5 9.7 .5-3.3 .5-1.5 .5 3.5 .5 5.1 .5-3.2 .5-1.2 .5 8.7 .5-5.7 .5 5.7 .5-4.4 .5 5 .5-.8 .5-.7 .5-.6 .5 1.1 .5-.4 .5 .9 .5 .5 .5-1.6 .5 2.6 .5-1.6 .5 5.3 .5-1.7 .5 4.4 .5-4.8 .5 2.6 .5 4.1 .5-4 .5-.5 .5 1.1 .5 6.7 .5-.8 .5 1.1 .5-4.5 .5 3.9 .5 1.6 .5-4 .5 .4 .5-.5 .5 3.7 .5-3.8 .5 2.3 .5 3.8 .5-7.2 .5 2.5 .5 1.4 .5 .7 .5-2.1 .5 0 .5 4.3 .5-3.3 .5 6.5 .5-2.6 .5 1.2 .5 2.5 .5-1.7 .5-2.1 .5 2.5 .5 1.6 .5-.4 .5 .8 .5-.2 .5-.9 .5 .6 .5 .2 .5-1.8 .5 2.1 .5 3 .5-3.3 .5-.1 .5 6.5 .5 0 .5-6 .5 2.7 .5 3.6 .5-5.3 .5-.6 .5 2.4 .5 .7 .5-1.6 .5-2.8 .5 4.6 .5-.5 .5 .7 .5 1.9 .5-5.9 .5 .7 .5 4.3 .5-7.7 .5 2 .5 1.7 .5 .8 .5-1.1 .5-.8 .5-2.4 .5 2.2 .5-1 .5-.9 .5-2.9 .5 3.4 .5-4.1 .5-.7 .5-1.9 .5-3.5 .5 .5 .5-1.2 .5-7.6 .5 3.8 .5-1.2 .5-3.9 .5-.7 .5-6.6 .5-1.2 .5-2.3 .5-2.8 .5 1.9 .5-4.4 .5-1 .5-2.2 .5 1.3 .5-4.4 .5 2.6 .5-.6 .5-6.4 .5-.7 .5 4.5 .5-3.5 .5-5.1 .5-.2 .5-1.7 .5 2.6 .5-6.2 .5 2.9 .5-1.1 .5-2.6 .5-2.3 .5 6.8 .5-5.3 .5 2.2 .5-1.8 .5-.3 .5 .1 .5-5.7 .5 6.9 .5 2 .5 2.9 .5-5 .5 4.4 .5-2.4 .5 8.9 .5-9.3 .5 7.8 .5 2.4 .5-1.8 .5 2.5 .5 2.8 .5-2.8 .5 5.3 .5-3.6 .5-2.8 .5 5.8 .5-3.8 .5 4.4 .5-.9 .5 0 .5 3.7 .5 .8 .5 2.5 .5 .6 .5 3.8 .5 2 .5 3.2 .5-.4 .5 5.2 .5-2.1 .5 5.8 .5-3.9 .5 .1 .5 .1 .5 1.9 .5 4.1 .5-3.7 .5 .7 .5 8.9 .5-8.2 .5 11.3 .5-4.9 .5 1.4 .5 7.3 .5-3.5 .5 2.6 .5 5.1 .5 .9 .5 2.2 .5-1 .5 5.7 .5-4.5 .5-1.6 .5 4.1 .5-.8 .5 2.8 .5-1 .5 1.1 .5-.9 .5 2.7 .5 7.6 .5-11 .5 6.2 .5 6.2 .5-5.7 .5 .8 .5 5 .5 2.9 .5-.2 .5-2.2 .5 8.1 .5-2.3 .5 2.6 .5-1.8 .5 6.4 .5-4.6 .5-1.8 .5 4.6 .5-1.7 .5-1 .5 .5 .5 3.7 .5-.9 .5-3.6 .5 1.4 .5 3.8 .5-1.1 .5 3.5 .5-1.6 .5-2 .5 5.3 .5 1.8 .5-3.3 .5-1.6 .5 3 .5-1 .5 4.7 .5-11.3 .5 6.1 .5 2.4 .5-.7 .5-2.1 .5 4.6 .5-2 .5-1.6 .5 5.8 .5-2.1 .5-3.3 .5 1.1 .5-3.4 .5-1.2 .5 2.6 .5 1.9 .5 3.7 .5-7 .5-2.6 .5 6 .5 .2 .5-2 .5-4.2 .5 4.6 .5 .2 .5-4.2 .5 2.4 .5 1.6 .5 .5 .5 .3 .5 1.9 .5-4.2 .5 1.1 .5 .4 .5 .7 .5-.4 .5-2.3 .5 1.3 .5 1.9 .5-1.4 .5-3.5 .5 2.8 .5 2.5 .5-2.8 .5-1.3 .5-.2 .5 5.2 .5-4.7 .5 .9 .5 1.6 .5-.4 .5-.6 .5 2.6 .5 .6 .5-3 .5 2.6 .5-5.6 .5 4 .5 4.6 .5 3.6 .5-7.2 .5-1.1 .5 4.9 .5 .1 .5 .6 .5-1.5 .5-3.4 .5 2.3 .5-1.1 .5-2.3 .5 .9 .5-1.2 .5 2.6 .5 0 .5-3.5 .5-.2 .5-1.3 .5 1.2 .5 0 .5-1.3 .5 4.3 .5-4.7 .5 3.2 .5-2.4 .5-1.1 .5 4 .5-1.9 .5-2.9 .5-2.1 .5 3.5 .5-2.8 .5 2.2 .5-1.4 .5-3.6 .5 2.7 .5 .1 .5-3.5 .5 2.6 .5 4 .5-2.6 .5-3.6 .5 2.2 .5 1.9 .5-3.3 .5-1 .5 .8 .5-4.3 .5 .6 .5 6.1 .5-5.8 .5-.2 .5 0 .5-2.5 .5-.2 .5 3 .5-5 .5 3.6 .5-5.3 .5 3.7 .5-2 .5-.2 .5-.6 .5 .3 .5 .2 .5-1.4 .5-.4 .5 1.7 .5-.8 .5 2.2 .5 2.1 .5-3 .5-3.4 .5 .3 .5 1.9 .5 2 .5-1.2 .5-1.5 .5 .6 .5 2.4 .5-9.1 .5 7.8 .5-4.2 .5-1.6 .5 3.1 .5 0 .5-.6 .5 2.8 .5-4.9 .5 2.7 .5-3.7 .5-.4 .5 5 .5 2.9 .5-6.2 .5 2.5 .5-1.8 .5 1 .5-1.9 .5 2 .5 .7 .5-2.5 .5-2.3 .5-2.2 .5 .4 .5 1.2 .5 3 .5-2.2 .5 3.1 .5-6.5 .5 3.9 .5-2 .5-3.4 .5-2.3 .5 1.5 .5-5.9 .5 7 .5-3.4 .5 5 .5-1.9 .5-.1 .5-.4 .5-1.2 .5 2.2 .5-.3 .5-3.8 .5-1 .5-.5 .5 .1 .5 1.7 .5-2.7 .5 3.1 .5-1.1 .5-2.5 .5-1.1 .5-.1 .5 2.7 .5-1.7 .5 1.8 .5 .1 .5-1.4 .5-1.9 .5-3.6 .5 3.7 .5 .7 .5-4.5 .5 4.5 .5-.7 .5-.3 .5 1.7 .5-4.7 .5 1.6 .5 0 .5-2 .5 1.7 .5 3.9 .5-2.5 .5-4 .5 1.3 .5-1.3 .5 5.2 .5-.7 .5 3.7 .5-4 .5-2 .5 0 .5 1.1 .5 3.4 .5 .2 .5 0 .5 1.2 .5-4.1 .5 .3 .5 .9 .5-.4 .5 2.3 .5-.7 .5 2 .5-3.6 .5 3.4 .5-4.2 .5 3.1 .5-2.8 .5 4.7 .5 .3 .5-.6 .5-1.9 .5-2.2 .5 4.3 .5-.4 .5-.6 .5-4.4 .5 1.6 .5 2.7 .5 1 .5 0 .5 1.1 .5 .5 .5-4 .5 1.7 .5 .3 .5-3.7 .5 2.9 .5 2 .5 1.2 .5-1.9 .5-3.4 .5 1.4 .5 0 .5 4.8 .5 .9 .5-2.4 .5-6 .5 2.7 .5 2 .5 2.4 .5-6.5 .5 .7 .5-4.9 .5 6.6 .5 .1 .5-5 .5 .8 .5 7.1 .5-7.1 .5 3.9 .5-1.8 .5 4 .5-1.9 .5-.5 .5 .1 .5 .5 .5 1.7 .5-3.9 .5 4.6 .5-2.6 .5 .6 .5 1.7 .5-2.6 .5-.6 .5 .9 .5 1.8 .5 .3 .5-3.5 .5 2.4 .5-1.7 .5-1.2 .5 7.7 .5-2.6 .5 2.9 .5-.8 .5-6.4 .5 1.8 .5 2.9 .5-.1 .5-1.5 .5-2.2 .5 5.2 .5-1.7 .5 1 .5-2.8 .5 .5 .5 1.9 .5 2 .5 .7 .5-3.5 .5 2.5 .5-1.7 .5 4.3 .5-4 .5 .2 .5-1.5 .5 3.2 .5 1.8 .5-1.9 .5-.9 .5 2.2 .5-.2 .5-.2 .5-4.7 .5 4.7 .5 .9 .5-1.9 .5 3.4 .5-4.5 .5 2.8 .5 2 .5-.8 .5 2.6 .5 .3 .5-1.8 .5 4.8 .5-6.3 .5 2.8 .5-2.2 .5 1.7 .5 2.6 .5-2 .5-1 .5 3.9 .5-3.2 .5 3.9 .5-2.3 .5 4.4 .5-2.7 .5-2.1 .5 4.1 .5-.8 .5 4.6 .5-4.8 .5 2.4 .5-3.3 .5 6.1 .5-1.7 .5-.6 .5 1.1 .5-1.3 .5-1.1 .5 0 .5 3.1 .5 .9 .5-2.4 .5 .1 .5-1.4 .5 .4 .5-.7 .5 4.3 .5-2.2 .5 1.5 .5-1.4 .5 2.9 .5-4 .5-.9 .5 3.3 .5 .3 .5-3 .5-1.2 .5 5.3 .5-1.3 .5 3.5 .5-.4 .5-4.1 .5 .7 .5 6 .5-4.6 .5 4.2 .5-7.4 .5 2.8 .5 2.6 .5 .2 .5 .6 .5-3.4 .5 4.7 .5-2.9 .5-1.7 .5 .5 .5 1.1 .5 0 .5-2.1 .5 5.9 .5-3.8 .5-5.9 .5 6.8 .5 .3 .5 1.8 .5 .7 .5-3.3 .5 1.7 .5-3.8 .5 4.3 .5-9.8 .5 5 .5 2.4 .5 4.1 .5-3.8 .5-1.1 .5 1.6 .5-2.3 .5 2.1 .5 1 .5-2.7 .5 .6 .5-1 .5 2.2 .5-1.2 .5 4.3 .5 2.5 .5-8.8 .5 5.2 .5-.1 .5 .7 .5-4.1 .5 1.4 .5-1.4 .5 0 .5-1.2 .5 3 .5-2.7 .5 4.6 .5-1.3 .5 .7 .5-3 .5 1.4 .5 3.4 .5-4.9 .5 3.7 .5-5.4 .5-1.3 .5 1.6 .5 1.2 .5-2.2 .5-1.6 .5-.2 .5 1.4 .5 .6 .5-.2 .5-2.7 .5 3.5 .5-3.5 .5 2.1 .5 .9 .5 1 .5 1.4 .5 .8 .5 .9 .5-.4 .5 1.7 .5-4.6 .5 5.7 .5-2.1 .5-2 .5-.8 .5 2.9 .5-.4 .5-1.3 .5 .1 .5 2 .5 2.9 .5-5 .5 .5 .5 .1 .5 .2 .5 3.3 .5-2.2 .5 .4 .5 2.6 .5-.6 .5 1.8 .5-.9 .5 1.3 .5-1.8 .5-.3 .5 .3 .5 5.7 .5-4.1 .5-1.2 .5 6.8 .5-5 .5 1.7 .5-.5 .5 2.6 .5-4.9 .5 2.4 .5 2.2 .5 1.9 .5-3.7 .5 6 .5-3.9 .5-1.2 .5 .4 .5 1.1 .5-.6 .5-1.8 .5 1.1 .5 2.4 .5-7.5 .5 6.5 .5-1.4 .5-2.1 .5 3.3 .5 2.4 .5-.1 .5-1.4 .5 .6 .5 1.4 .5-2.3 .5 .7 .5 .5 .5 1.6 .5-4 .5 2.5 .5 .6 .5-1.2 .5 1.1 .5-.9 .5-2.4 .5 1.4 .5-.3 .5-2.6 .5 2.5 .5 5 .5-4 .5 0 .5 3.3 .5-1.8 .5 2.2 .5-5.1 .5-.5 .5 7.3 .5-2 .5 5.3 .5 .4 .5-5 .5-1.8 .5 1.8 .5 2.2 .5 2.3 .5-.6 .5-2.7 .5-.7 .5 .6 .5-4.3 .5 3.8 .5-2 .5-1.4 .5-.4 .5-2.2 .5 1.8 .5 1.1 .5-1.4 .5-1.4 .5 1.3 .5-.7 .5 .8 .5-4.7 .5 6.8 .5-1.9 .5-.9 .5-.8 .5 1.9 .5 2.1 .5-2.2 .5-3.2 .5 .2 .5 5 .5-1.2 .5 1.9 .5-2.2 .5 9.8 .5-11.8 .5-3 .5 5.2 .5 7.1 .5-6 .5 .5 .5 .1 .5 .4 .5-8.6 .5 7.7 .5-2.1 .5-.9 .5-.4 .5 1.4 .5 4.4 .5-4.6 .5 .9 .5-.4 .5 .5 .5 1.2 .5-6.7 .5 5.3 .5-.1 .5-.8 .5 .5 .5 .4 .5-4.5 .5 1.8 .5 2.2 .5-4 .5 3 .5-5.6 .5 6.9 .5-2.8 .5 2.8 .5-1.5 .5-.5 .5 2.3 .5-6.9 .5 5.2 .5-1.3 .5-2.5 .5 3 .5-.4 .5 1.1 .5-.1 .5-.5 .5-2.6 .5 7.3 .5-5.5 .5-1.6 .5 2.3 .5-1 .5-1.2 .5 .2 .5-.1 .5 1.8 .5 .1 .5 .7 .5-5 .5 .5 .5 5.1 .5 1.5 .5-2.1 .5 1.7 .5-4 .5-.9 .5 5.4 .5-1.8 .5-1.1 .5-3.1 .5 5.2 .5-4.7 .5 .5 .5-.4 .5-3 .5 3.6 .5 3.5 .5 .2 .5-6.6 .5 6.9 .5-.6 .5-1.8 .5-.2 .5 .4 .5-3.4 .5 6.1 .5-.1 .5 .4 .5-4.4 .5 4.8 .5-2.7 .5 .3 .5-1.3 .5-.9 .5 1.3 .5-.6 .5-.7 .5 2.1 .5 2.3 .5-5.2 .5 1.9 .5-.6 .5 1.6 .5-2.3 .5 1.1 .5 2.7 .5-1.1 .5-2 .5 3 .5-2 .5 4.2 .5-4.4 .5-1.8 .5 .4 .5-1.1 .5 3.7 .5-.5 .5-4.5 .5 1.4 .5 2.5 .5 1.1 .5-1 .5 2.1 .5-3 .5 2.3 .5-1.6 .5 .9 .5-3.8 .5 .6 .5 1.3 .5 0 .5 2.6 .5-1.9 .5-.9 .5 3.3 .5 0 .5-1.1 .5 1.2 .5-.9 .5-.5 .5 .2 .5 .9 .5-2 .5 1.9 .5-2.3 .5 1.3 .5 1.8 .5 1.2 .5-6.9 .5 6.7 .5-.8 .5-1.6 .5 1.9 .5-.6 .5-.5 .5 2.5 .5-5.3 .5 2.1 .5 2.2 .5-1.5 .5-2.4 .5-.5 .5 2.4 .5 .5 .5-2 .5 4.4 .5 .7 .5-1.2 .5-3.6 .5 2.9 .5-4.2 .5-.5 .5 .7 .5 4.9 .5-3.8 .5-2.4 .5 5.6 .5-1.6 .5 2.3 .5-2.5 .5 .4 .5 2.4 .5-1.8 .5-3.7 .5 1.6 .5-.8 .5-3 .5-2.9 .5 8.8 .5-5 .5 6.6 .5-3.3 .5 1.5 .5-3.5 .5 3.6 .5 .3 .5-1.6 .5-1.8 .5 1.2 .5 3.2 .5-3.3 .5 4.8 .5-8 .5 5.4 .5 .8 .5-1.5 .5 .4 .5-2.3 .5 0 .5-2.1 .5-.9 .5 1.3 .5 4.3 .5-1.4 .5-2.5 .5-.8 .5-.7 .5 2 .5-1.6 .5 4.4 .5-3.3 .5-1.5 .5-.5 .5 1.4 .5-1.2 .5 2.5 .5 .9 .5-5.5 .5-.8 .5 2.3 .5 .2 .5 3 .5-.3 .5-5.2 .5 1.5 .5 4.4 .5-2.1 .5-.6 .5-3.8 .5 5.7 .5-3.8 .5 3.9 .5-1.3 .5-5.1 .5 4.1 .5-3.1 .5 2.5 .5-1.7 .5-1.8 .5 1.9 .5-1.8 .5-2.1 .5 5.8 .5-3.7 .5 3.4 .5-.8 .5 2.1 .5-1.9 .5-.2 .5-2.6 .5-1 .5 2.1 .5 1 .5-.8 .5-2.3 .5 2.3 .5 1.4 .5 .5 .5-.5 .5 4 .5-4.3 .5 4.2 .5 1.2 .5-6.2 .5 2.8 .5 2.1 .5-7.5 .5 6 .5-2.9 .5 1.1 .5 .7 .5 4 .5-2 .5-.4 .5-2 .5 2.2 .5 .1 .5-.5 .5 2.9 .5-3 .5 2.9 .5-.7 .5-1.4 .5-5.2 .5 6.9 .5 .4 .5-2.4 .5 2.9 .5-.7 .5 .7 .5-.2 .5 .6 .5-.4 .5-.3 .5 3 .5-.5 .5-.1 .5-2.3 .5 1.6 .5-7.3 .5 9.1 .5-4.8 .5 1.3 .5 .2 .5-1.1 .5 1.4 .5-.7 .5 .1 .5-.2 .5 1.8 .5-1.8 .5-4.8 .5 7.5 .5-1.2 .5-.1 .5 .1 .5-3.7 .5-1.2 .5 1.8 .5-1.3 .5 6.9 .5-5.5 .5 3.6 .5-3.2 .5 1.5 .5-2.1 .5 2 .5 1.2 .5-1.9 .5-.8 .5 2.6 .5-4.7 .5 4 .5-.7 .5-.7 .5 .7 .5 5.2 .5-3.9 .5-1.1 .5-3 .5 4.1 .5-.7 .5-.8 .5-3.9 .5 3.1 .5-1.4 .5 7.1 .5-7 .5 1.4 .5 2.7 .5-.9 .5 .2 .5-.1 .5 1.6 .5-4 .5 3 .5 1 .5 .2 .5-1.4 .5 1.1 .5 3.2 .5-3.6 .5 3.5 .5-7.7 .5 7.5 .5-8 .5 5.1 .5-5.1 .5 4.8 .5 1.5 .5-.5 .5 .5 .5-5.7 .5 2.9 .5-.3 .5 1.4 .5-3.5 .5 3.2 .5-1.4 .5 3.3 .5 3.5 .5-3.6 .5 3.1 .5-7.9 .5 6.5 .5-4.4 .5 1 .5 1.1 .5 .1 .5 .4 .5-1.3 .5 1.4 .5 2.5 .5-5.6 .5 3.1 .5-.7 .5 0 .5 2.8 .5-.6 .5-3.3 .5-1.1 .5 4.4 .5 .7 .5-4.1 .5 3.9 .5-6.6 .5 3.5 .5-.1 .5-3 .5 4.2 .5 3.1 .5-6.9 .5 3.8 .5 1.6 .5-5.2 .5 4.1 .5-1.1 .5-2 .5 .1 .5-3.7 .5 5 .5-2.1 .5-1.9 .5 3.6 .5 .9 .5 1.9 .5-3.5 .5-.1 .5 3.5 .5-4.5 .5 2.7 .5-2.1 .5 .6 .5-.3 .5 3.5 .5-2.1 .5-.6 .5 .5 .5-1.5 .5 1.4 .5 1.5 .5-.6 .5 .8 .5 4.3 .5-5 .5-1 .5 4.3 .5-4.7 .5 2.6 .5-1.9 .5 4.2 .5-3.5 .5-1.2 .5 1.7 .5-3.4 .5 2 .5 .6 .5 4.4 .5-9.9 .5 5.6 .5-1.3 .5 2.9 .5-2.5 .5-1.8 .5 2.2 .5-.8 .5-4 .5 1 .5 3.6 .5 1.8 .5 1.9 .5-4.6 .5 3 .5-.5 .5-2.5 .5 5 .5-5.5 .5 2.5 .5-.4 .5 1.5 .5-1.7 .5 2.6 .5-1.1 .5-.7 .5-2.9 .5 5.1 .5-3 .5 .7 .5-1.9 .5 3.3 .5 1.4 .5-2.5 .5-.8 .5-3.9 .5 4.4 .5-1.4 .5-.5 .5 1.9 .5-2.1 .5-1 .5 6.8 .5-4.2 .5 2.3 .5-3.5 .5 2.1 .5-2.5 .5-.4 .5-.2 .5 6.8 .5-.6 .5-1.3 .5-4.6 .5 2.9 .5 .5 .5 .3 .5-3.1 .5 3.6 .5 2.4 .5-1.6 .5-1 .5-1.1 .5-1.9 .5 1.2 .5 3.7 .5-4.6 .5 1.6 .5 1.2 .5-.9 .5 1.7 .5-5.1 .5 2.6 .5-1.3 .5 .1 .5 .6 .5 .6 .5 1.4 .5-2.7 .5 2.2 .5-.1 .5 1.6 .5-2.2 .5 1.7 .5-1 .5-5.4 .5 6.6 .5-3 .5-1.5 .5 .9 .5 .6 .5-1.3 .5 1.1 .5-6.5 .5 3.7 .5 2.4 .5 3 .5 .4 .5-4.5 .5 .9 .5-3 .5 2.6 .5 1 .5-4.9 .5 5.2 .5-.4 .5-4.1 .5 4.1 .5-4.8 .5-.8 .5 5.7 .5 .5 .5-4.5 .5 2.8 .5 .5 .5-.1 .5-.6 .5 3 .5-2.3 .5-1.2 .5 .2 .5 .7 .5 1.4 .5-1.9 .5-1.6 .5 1.6 .5 1.7 .5-2.3 .5-1.1 .5 3.9 .5 .3 .5-2.7 .5-1.5 .5-.4 .5 1.2 .5 2.6 .5-2.3 .5-.8 .5 2.9 .5-.5 .5 .4 .5 1 .5-3.1 .5-2.2 .5 4.4 .5-2.9 .5-.3 .5-2.5 .5 2.1 .5-1.4 .5 1.4 .5 4.9 .5-4.7 .5 1.1 .5 4.5 .5-.8 .5 1 .5-7.7 .5 7.2 .5-6.9 .5 3.7 .5-.7 .5 1.2 .5-2.9 .5 .6 .5 2.2 .5-3.5 .5-2.4 .5 5.9 .5-.4 .5 0 .5-.3 .5 1.6 .5-6.9 .5 8.6 .5 .6 .5-8 .5 6.4 .5-2.6 .5 3.2 .5-2.1 .5-2.6 .5-2 .5 3.9 .5-.2 .5-.9 .5 3 .5-2.4 .5 2.1 .5-2.1 .5-3.7 .5 3.9 .5-4.8 .5 7.2 .5-5.5 .5 4.2 .5 .1 .5-1.3 .5-3 .5 3.3 .5 2.9 .5-2.2 .5-5.6 .5 3.1 .5-1.6 .5 4.5 .5-2.4 .5-.5 .5 1.2 .5-.1 .5 .5 .5-2.1 .5-.8 .5 2.4 .5-4.1 .5-.9 .5 5.4 .5-3.7 .5-1.2 .5 6.5 .5-2.4 .5-.9 .5-1.7 .5 1.4 .5 3.4 .5-3 .5 3.6 .5 5.6 .5-8.3 .5 3.1 .5-1.7 .5-.7 .5 1.7 .5 2 .5-1.6 .5-.4 .5 .9 .5-2.3 .5-.9 .5 5.6 .5-3.5 .5-1.7 .5 3.7 .5-3.4 .5 .8 .5 .9 .5-6.1 .5 4.4 .5-1.4 .5 1 .5 1.6 .5-3.3 .5-3.4 .5 5.8 .5-3.3 .5 1.7 .5-1.9 .5 .9 .5-3.9 .5 4.5 .5 1.9 .5 .8 .5-2.4 .5-.2 .5 3.7 .5-4.3 .5 3.3 .5-4.7 .5 8.9 .5-3.1 .5 .3 .5-3.2 .5-.9 .5 1.5 .5 1 .5-.2 .5 1.1 .5-1.7 .5 2.4 .5-5.5 .5 6.9 .5-3.9 .5 3.8 .5-1.4 .5-2.3 .5-4.1 .5 1.4 .5 1.9 .5-1.9 .5 .3 .5 1.5 .5-.1 .5-2 .5 5.9 .5-2.7 .5 1.4 .5-.7 .5 .6 .5-2.1 .5 .1 .5-.1 .5-.6 .5-.2 .5 .6 .5 1.3 .5-4.8 .5 6.7 .5-5.5 .5-1 .5 6.4 .5-3.2 .5-2.8 .5 3.2 .5-2.9 .5 4 .5-1.1 .5-1.3 .5-.7 .5 4.6 .5-3.4 .5 3.1 .5-2.8 .5 1.1 .5-2.1 .5-.6 .5 2 .5-.3 .5-.3 .5 2.3 .5-3.1 .5-1.4 .5 3.1 .5-1.4 .5-.4 .5-1.9 .5 4.1 .5-2.1 .5 2.1 .5-1.3 .5 .5 .5-.5 .5 0 .5 1.6 .5-2.1 .5 1.9 .5-4.3 .5 8.6 .5-8.3 .5 6.3 .5 1.8 .5-3.7 .5-1.2 .5-.1 .5 2.8 .5-1.9 .5 .1 .5-2 .5 .8 .5-6.4 .5 6.4 .5 .8 .5 1.3 .5-1.2 .5-2 .5 1.5 .5 2.3 .5-1.3 .5 1.4 .5-3.4 .5 2.6 .5 .1 .5-.2 .5 .8 .5 3 .5-6 .5-1.1 .5 4.3 .5-3.5 .5 .5 .5 5.7 .5-4.1 .5 1.5 .5-5 .5 2.7 .5 .1 .5 2.2 .5-.8 .5-2.3 .5 3.9 .5-1.4 .5-.7 .5-.9 .5-1 .5 1.6 .5-4.6 .5 .4 .5 4.7 .5 3.5 .5-5.4 .5-1.9 .5 1.5 .5 3.1 .5 .6 .5-4.2 .5 1.9 .5 1.3 .5 .9 .5-1.6 .5-1.1 .5 4 .5-2.2 .5-2.7 .5-1.7 .5 3.2 .5-.2 .5-2.7 .5 .9 .5 1 .5 0 .5-3.3 .5 .5 .5 5.4 .5 1.8 .5-3.2 .5-4.5 .5 .8 .5-1.6 .5 4.2 .5-1.5 .5 2.4 .5 3 .5-1.8 .5-.3 .5-1.1 .5-2 .5 1.4 .5 .2 .5 .7 .5 4.1 .5-1.4 .5-3.4 .5-.4 .5 .3 .5-1.7 .5 3 .5-4.5 .5 3.8 .5-1.6 .5 1.9 .5-4.5 .5 5.9 .5 3.4 .5-2.2 .5-4.3 .5 1 .5 2 .5-3.3 .5-.5 .5 .3 .5 .4 .5 2.9 .5-2.4 .5 0 .5 .1 .5 .2 .5-.1 .5-.8 .5-.4 .5 5.4 .5-4.3 .5 1.1 .5 .1 .5-1.1 .5-.9 .5 3.4 .5-1.3 .5 3 .5-.3 .5-6.6 .5 1.8 .5-.1 .5 6.8 .5-5.3 .5 .9 .5-1.5 .5 3.4 .5-.1 .5 3.4 .5-4.3 .5 2.6 .5-4.2 .5 7.2 .5-3.7 .5-1 .5-1.2 .5 .9 .5 .7 .5-.9 .5 0 .5-.6 .5-1.6 .5 3.3 .5-10.2 .5 8.2 .5 2.4 .5-1.1 .5 .9 .5 4.7 .5-6.5 .5 1.4 .5 2.1 .5-3.4 .5 0 .5-.3 .5-3.2 .5 4.1 .5-4 .5 2.7 .5 2.3 .5-1.5 .5-4.4 .5 3.8 .5-2.2 .5-.7 .5 6.4 .5 1.9 .5-4.2 .5 1.9 .5-2 .5 .2 .5 3.8 .5-2.2 .5-2.6 .5 1.3 .5 .3 .5-1.8 .5 .2 .5 4.6 .5-1.8 .5-3.1 .5 3 .5-3.7 .5 3.9 .5-1.4 .5-2.3 .5 5.4 .5 .3 .5 .1 .5-3 .5-.2 .5 1.7 .5 .6 .5-.1 .5-.8 .5-.4 .5 1.6 .5-5.5 .5-.9 .5 5.5 .5-1.2 .5-3.8 .5 2 .5-1 .5-1.1 .5 6.7 .5-1.4 .5-4.8 .5 4.7 .5-1.4 .5 1.1 .5-2.1 .5 .9 .5 .1 .5-2.5 .5-1.6 .5 4.1 .5-1.8 .5-.6 .5 .5 .5 3.1 .5-2.7 .5 3.9 .5-5.9 .5 5.9 .5-1.2 .5-7.3 .5 3.7 .5-2.8 .5 4.3 .5 1.6 .5-1.4 .5-.1 .5-4.5 .5 4.7 .5-.4 .5-.1 .5-.1 .5 1 .5-4.2 .5 4.3 .5-4.4 .5 8.4 .5-1.8 .5-6.5 .5 1.6 .5 .1 .5-.7 .5-.6 .5-2.2 .5 2.1 .5-.7 .5-3.7 .5-3.1 .5-1.7 .5-2.5 .5 1 .5-3.3 .5-.8 .5 4.4 .5 2.5 .5-.5 .5 .5 .5 5.5 .5-.7 .5 4.1 .5 .3 .5-1.8 .5 .1 .5 3.1 .5-1.7 .5 2.3 .5 2.3 .5-7.1 .5 2.3 .5-.5 .5 4.5 .5-.6 .5-2.3 .5 .9 .5-.1 .5-.6 .5 2.2 .5-4.1 .5 1.9 .5-.5 .5 2.3 .5 .6 .5-2.8 .5 .1 .5-.4 .5 .6 .5-.6 .5-.4 .5 3.2 .5-1.8 .5 3.2 .5 1.3 .5-4 .5 .9 .5 .3 .5-1.7 .5-2 .5 5.3 .5-7.5 .5 9.8 .5-3.4 .5-1.6 .5 1 .5 .1 .5-3.7 .5-1.1 .5 2.4 .5 1.7 .5-.9 .5-1.1 .5-.5 .5-.1 .5 2.1 .5-2.6 .5 3.4 .5-1.6 .5 1.6 .5-2.2 .5 2.5 .5 1.6 .5-2 .5-.8 .5 3.8 .5-4 .5-2.4 .5 8.3 .5-6.4 .5 .3 .5 3.1 .5 .5 .5-1.1 .5-1.5 .5 .7 .5 .9 .5-3 .5 .8 .5-.9 .5-1 .5 1.3 .5 2.4 .5-3.2 .5 .6 .5-.3 .5-.4 .5 .8 .5-4.5 .5 2.1 .5 4.8 .5-3.7 .5 2.5 .5-.5 .5 1.5 .5 1 .5-2.5 .5-.4 .5 2.3 .5 .1 .5-1.7 .5 2.5 .5-1 .5 1.1 .5-3.1 .5 2.4 .5 1.8 .5 .1 .5 .8 .5-5.2 .5 1 .5-1.3 .5 3.1 .5-1.5 .5-2.2 .5 .7 .5 1 .5-2.4 .5-.9 .5 2.4 .5 2 .5-2.4 .5-.9 .5 4.6 .5-4 .5-2.6 .5 5.4 .5 1.7 .5-6 .5 8.2 .5-3.1 .5-4.3 .5 .5 .5-.1 .5-.3 .5-1.3 .5 .6 .5-3.2 .5 6 .5 1.8 .5-2.4 .5 2 .5-4.2 .5 3.7 .5 .6 .5 .2 .5-1.3 .5 .8 .5-1.1 .5 7.4 .5-7 .5 3 .5-4.5 .5-2.7 .5 4.9 .5-.5 .5-1.7 .5-1.8 .5 1.7 .5-2.2 .5 1.9 .5 5.5 .5-5.5 .5 2.7 .5-1.8 .5 2.6 .5 1.8 .5 1.8 .5-5.2 .5 .5 .5-2.8 .5 .6 .5-1.1 .5 2.3 .5-.3 .5 1.5 .5 .4 .5-1.2 .5 1.4 .5-2 .5-.8 .5-2.4 .5 3.9 .5-2.2 .5 1.7 .5-1.3 .5 .5 .5 .4 .5 2.1 .5-2.7 .5 1.4 .5 1.4 .5-4.9 .5 .8 .5-.7 .5 2.9 .5-2.4 .5 5.1 .5-6.5 .5 4.6 .5 .3 .5 1.1 .5-2.9 .5-2 .5 2.7 .5 3 .5-4 .5 1.9 .5 1.2 .5-3 .5 1.6 .5 .2 .5-7.8 .5 2.6 .5 3.9 .5 3.5 .5-4.8 .5 3.1 .5-2.1 .5 .2 .5 .1 .5 1.9 .5-1 .5-.8 .5-.4 .5-.3 .5-2.1 .5 6.5 .5-1.4 .5-1.2 .5 4 .5-4.5 .5 1.6 .5 1.1 .5-4.3 .5 2.1 .5 1.3" fill="none" stroke="#0000FF" stroke-width="2.3" stroke-linejoin="round" shape-rendering="crispEdges"/>
<path d="M229.0 644.9l.5 2.4 .5 .4 .5-.8 .5 1.6 .5-2.3 .5 0 .5-.8 .5 1.2 .5-2.7 .5-.1 .5 3.2 .5 1.6 .5-3.4 .5 .4 .5 0 .5-4.9 .5-1.1 .5 3.8 .5-.5 .5-5.7 .5 4.3 .5-5.1 .5 1.2 .5 .1 .5-.3 .5-.3 .5-.8 .5 .9 .5-.9 .5 .6 .5-1 .5-4.2 .5 4.3 .5 6.2 .5-8.7 .5 4.8 .5-4.7 .5 8.3 .5-9.3 .5 1.4 .5 1 .5 5.4 .5-1.2 .5-5 .5 2.9 .5 2.4 .5-.9 .5 2.3 .5-4.3 .5-.3 .5 1.3 .5 1.7 .5-5.8 .5 3.5 .5-.2 .5 2.2 .5-2.9 .5 2.5 .5-2.5 .5-.8 .5 2.8 .5-4.3 .5 .3 .5 .3 .5 4.3 .5-1.8 .5-.2 .5-2.8 .5-4.3 .5 5.2 .5-4 .5 3.5 .5-2.3 .5-1.1 .5 .6 .5-1.9 .5-1.8 .5-.4 .5 4.6 .5-5.9 .5-8.2 .5 2.4 .5-5 .5-4.7 .5-6.4 .5 3.5 .5-2 .5-3.6 .5 .3 .5-2.9 .5-.8 .5-2.3 .5-.1 .5-.9 .5-2.5 .5-.8 .5 1 .5-4.2 .5 0 .5-.3 .5 .3 .5-5.8 .5 2.9 .5-2.8 .5 .6 .5-4.1 .5 1.9 .5-7.2 .5 2.8 .5-3.2 .5-4.3 .5-1.2 .5-.6 .5-2.6 .5-3.8 .5 2.9 .5-2.3 .5 1.5 .5-1.2 .5 .7 .5-1 .5 .7 .5-2.8 .5 .5 .5 5.4 .5-2.2 .5 1.7 .5 4.1 .5-3.7 .5-1.7 .5 6.9 .5-.3 .5 5 .5-.5 .5-.9 .5 4.4 .5-2.3 .5 3.4 .5 .6 .5 5.6 .5 .4 .5 3.5 .5 .7 .5-1.7 .5 2.3 .5 0 .5-1 .5-1 .5 2.2 .5-.3 .5-1 .5 2.7 .5-.3 .5 .3 .5-4.2 .5 5.6 .5-3.6 .5-.5 .5-1.1 .5-.1 .5 .3 .5 1.4 .5-.1 .5-5 .5 1.8 .5-1.6 .5-3.1 .5 2.1 .5 .3 .5-.7 .5-3.5 .5 1.9 .5-1.7 .5 4.1 .5-1.6 .5 0 .5-2.1 .5 5.3 .5 1.9 .5 1.5 .5 3.8 .5-2.2 .5 4.4 .5 2.2 .5-.6 .5 .3 .5-4.8 .5 6.6 .5-1.1 .5-2.4 .5 2.2 .5 1.7 .5 2.1 .5-.2 .5 .9 .5-.8 .5-2.7 .5 3.5 .5-1.1 .5 5.1 .5 2.2 .5-1.5 .5-2.3 .5 2.3 .5 2 .5 5.2 .5-4.7 .5-2.5 .5 8.8 .5-.4 .5 1.3 .5-2.4 .5 1.4 .5-.7 .5-4.2 .5-1.9 .5 1.3 .5-10.8 .5 4.7 .5-.2 .5-5.9 .5 .4 .5-5.3 .5 7 .5 .4 .5-1.6 .5-3.7 .5 4.1 .5 .5 .5 .4 .5-3.1 .5 2.2 .5-2.3 .5-.6 .5 2.5 .5-2.1 .5 .6 .5 4.3 .5-4.2 .5 1.1 .5-.7 .5 1.6 .5-2.4 .5 2.4 .5-.2 .5 3.5 .5-.8 .5-3.5 .5 2.1 .5 1.8 .5-4.6 .5 2.1 .5 0 .5-3.6 .5 .6 .5 .3 .5-1 .5 5.1 .5-3.3 .5-1.9 .5 2.9 .5 .8 .5-5.7 .5-1.1 .5 6.1 .5-5.3 .5 .2 .5 3.2 .5-6 .5 2.1 .5 5 .5-3.6 .5 1.1 .5 1.6 .5-4.2 .5 4.7 .5-.4 .5 2.3 .5-.3 .5-.7 .5-.9 .5-3.2 .5 4.9 .5-3 .5-3 .5-3.4 .5 2.2 .5 .1 .5 0 .5-2.8 .5 .7 .5 .3 .5 3.7 .5-5.2 .5 5.1 .5 .8 .5 1.6 .5 2 .5-2.9 .5 2.4 .5 1.2 .5 6.3 .5-2.5 .5 3.4 .5-4.2 .5 3.7 .5 3.1 .5-2.7 .5-3.9 .5 1.2 .5-2.9 .5 5.1 .5 .3 .5-1.9 .5-2.4 .5-.5 .5 .2 .5-1.3 .5-2.2 .5 1.2 .5-3 .5 3.3 .5-6.6 .5 3.1 .5-.8 .5 0 .5-5.5 .5-.1 .5-6.7 .5 3.5 .5-1.8 .5 2.2 .5-4.5 .5 .9 .5-3.3 .5 2.2 .5-4.5 .5 7.8 .5 1.4 .5-.7 .5-.2 .5 3.9 .5 2.5 .5 3.2 .5-2.7 .5 2.6 .5 0 .5 1.8 .5 .5 .5-1.3 .5 4 .5-1.2 .5-.2 .5-1.9 .5-4.4 .5 7.1 .5 3.6 .5-3.9 .5 3 .5-2.7 .5 1.2 .5-3.1 .5 6.7 .5-4.9 .5-1.6 .5 .7 .5 .4 .5 5.8 .5-2.6 .5-.9 .5 .1 .5-1.6 .5 2.2 .5-.9 .5 4.3 .5-6.9 .5 2.1 .5 1.5 .5 2.5 .5-4.6 .5-2.9 .5 .3 .5 3.5 .5-.3 .5-5.5 .5 3.9 .5-4.6 .5-.4 .5 2.8 .5 .8 .5-5.7 .5 2.7 .5 1 .5 .1 .5-.4 .5 4.2 .5-6.6 .5-.1 .5 1.1 .5-.5 .5 4.1 .5 2.5 .5-1.6 .5 .1 .5 5.8 .5-3.2 .5 1 .5 .2 .5 .7 .5-1.2 .5 1.7 .5-3.3 .5 6.2 .5-.3 .5-2.3 .5 2.1 .5-4 .5 3.9 .5-3.6 .5 3.2 .5-4.2 .5 1.7 .5-.9 .5 4.2 .5-3.3 .5-.1 .5 1.1 .5-3.3 .5 3.6 .5-4.3 .5 3.1 .5-1.4 .5 2 .5 .9 .5-3.1 .5 1.7 .5 .6 .5-.6 .5 5.6 .5-5.6 .5 5.2 .5-3.7 .5 2.4 .5-5.6 .5 2.5 .5 7.7 .5-5.3 .5-1.9 .5-.2 .5-.5 .5 1.5 .5 4.1 .5-3.2 .5 4.3 .5-.8 .5-.1 .5-3.4 .5 6.8 .5 1.1 .5-4.1 .5-1.2 .5 2.5 .5 3.7 .5 .1 .5 3.9 .5-2.2 .5 .6 .5-.4 .5 1.5 .5 1.7 .5-1.7 .5 1 .5 1.9 .5 1.7 .5-.9 .5-1.7 .5 1.8 .5-4 .5 3.5 .5-.1 .5-.7 .5-1.1 .5-2.2 .5 3.9 .5-2.8 .5 .9 .5-.7 .5 2.4 .5-.2 .5-2.9 .5 .3 .5 2.3 .5 .2 .5-3.2 .5 1 .5 .2 .5-1.4 .5 1.7 .5-.8 .5-4.6 .5 .8 .5 3 .5 2.2 .5-1.8 .5-6.6 .5 7.2 .5-2.5 .5 1.3 .5-.1 .5 2.5 .5-2.9 .5-1.3 .5 5.2 .5 .8 .5 1.9 .5-2.6 .5 6.9 .5 1.7 .5-6.6 .5 3.5 .5 .2 .5 6.7 .5-7.4 .5 2.8 .5 4.4 .5-2.3 .5 4.3 .5 1.3 .5-4.7 .5-.2 .5 6.5 .5-.3 .5 .2 .5 2.2 .5 .7 .5-2.4 .5-1.6 .5 6.1 .5-4.6 .5 1.9 .5-.2 .5 2 .5-4.6 .5 2.8 .5 1.8 .5-1.7 .5 2.7 .5-1.8 .5 4.9 .5 .1 .5-5.2 .5 2.1 .5 3.2 .5-4.2 .5-.1 .5 1.8 .5-.3 .5-2.7 .5 2.6 .5 .5 .5 3.5 .5-3.9 .5 .2 .5-4.6 .5-2 .5-2.1 .5-1.5 .5-2.7 .5 1.3 .5-6 .5-.1 .5 .2 .5-4.9 .5-4 .5 4.4 .5-4.9 .5-5.7 .5 .1 .5-7.2 .5-2.8 .5 .4 .5-6.6 .5-1.5 .5-2.1 .5 1.8 .5-8.6 .5-1.1 .5-1.3 .5-7.5 .5 3.9 .5-5.7 .5-5.1 .5-.7 .5-2.6 .5-2.4 .5-1 .5-.3 .5-4.5 .5-3.4 .5-2.1 .5 2.3 .5-6.8 .5 2.3 .5-3.2 .5-3.7 .5 3.1 .5-5.4 .5 2.6 .5-5.5 .5 2.3 .5-2 .5 2.6 .5 1.2 .5-4.7 .5 1.3 .5 4.6 .5-7.1 .5 7.7 .5 2.2 .5-1.4 .5 2.4 .5-1.2 .5 .3 .5 .6 .5 6.1 .5-3.1 .5 1.7 .5-1.7 .5 5.6 .5-.4 .5 1.1 .5-.6 .5 6 .5-2 .5 4.8 .5 .2 .5-.7 .5-.7 .5 4.3 .5 .1 .5-.5 .5 6.6 .5-.1 .5 3.8 .5 2.3 .5 .2 .5 5.4 .5 2.4 .5 3.9 .5 4.4 .5-.6 .5 2.4 .5 10 .5 .1 .5 3 .5 5.5 .5-5.3 .5 7.2 .5 4 .5 .2 .5 4.8 .5-1.6 .5-1.1 .5 5.4 .5-3.3 .5 6.1 .5-1.3 .5-2.1 .5 3.4 .5 3.8 .5-4 .5 1.1 .5 1.8 .5-.8 .5-.9 .5 .4 .5-.5 .5 3 .5 2.4 .5-3 .5 2.2 .5-7.9 .5 7.8 .5-2.6 .5-.1 .5 1.1 .5-.5 .5-3.3 .5 1.2 .5 .5 .5-1.2 .5-1.3 .5-2.5 .5 1.9 .5-3.5 .5-2.8 .5 2.7 .5-1.3 .5-2.2 .5 1.1 .5-3.6 .5-3.9 .5-.5 .5-.1 .5-2.5 .5-5 .5 1.3 .5-2.5 .5 2.9 .5-5.7 .5-.4 .5-1.2 .5-1.6 .5-2.7 .5-1.9 .5-1.4 .5-1.3 .5-6.6 .5-1.3 .5-7.2 .5-1.5 .5 1.2 .5-3.5 .5-4.1 .5-6.9 .5-6.5 .5-6.9 .5-5.6 .5-3.4 .5-2.6 .5-8.5 .5-4.7 .5-4.6 .5-6.9 .5-7.7 .5-4.3 .5-2.2 .5-7.2 .5-4.3 .5-2.5 .5-5 .5 1.5 .5-5.1 .5-4.6 .5-3.7 .5 3.5 .5-4.5 .5-1.7 .5 3 .5 4 .5 .3 .5-2.5 .5-.1 .5 3.4 .5 .9 .5-.5 .5-2.9 .5 7.1 .5 2.4 .5 1.4 .5 3.9 .5 .6 .5 10.7 .5 3.2 .5 5.8 .5 3.9 .5 2.1 .5 5 .5 8.2 .5-.1 .5 5.6 .5 2.2 .5 8.2 .5 3.6 .5 5.5 .5-2.5 .5 1.7 .5-.4 .5 1.3 .5-1.4 .5-.4 .5 1.1 .5-.3 .5 .4 .5-3.5 .5 3.1 .5-.8 .5-1.8 .5-1.1 .5-3.9 .5 .5 .5-1.5 .5-5.4 .5-2.7 .5-2.1 .5 5.2 .5-.8 .5 3.1 .5 4 .5 .7 .5 5 .5-4.2 .5 6.7 .5 5.4 .5 2.8 .5-3.3 .5 5.9 .5 5.9 .5 4 .5-1.8 .5 6.7 .5 3.1 .5 6.2 .5-.7 .5 2.5 .5 4.9 .5 1.5 .5-2.2 .5 5.3 .5 1.8 .5 4.9 .5 1.1 .5-3.4 .5 6.2 .5-4.7 .5 4 .5-3 .5-4.8 .5-2.4 .5-1 .5-.9 .5-8 .5-2.1 .5 1.5 .5-6.3 .5-6.4 .5-8.3 .5-9.2 .5-11.9 .5-7.4 .5-15.5 .5-7.6 .5-10.6 .5-8.3 .5-9.5 .5-12.2 .5-7.5 .5-13.8 .5-4.6 .5-14.7 .5-8 .5-8.3 .5-13.3 .5-14.8 .5-6.9 .5-8.8 .5-6.8 .5 .6 .5 0 .5 4.6 .5 1.8 .5 9.1 .5 4.1 .5 10.5 .5 1.1 .5 10.2 .5 6.8 .5 7 .5 6.5 .5 6.7 .5 17.6 .5 13 .5 5.3 .5 10.5 .5 11.9 .5 4.4 .5 8.8 .5 9.3 .5 2.5 .5 6.1 .5 9 .5 4.7 .5-.8 .5 5 .5 9.4 .5 .7 .5 .5 .5 8.9 .5 1.9 .5 2.3 .5 1.7 .5 3 .5 4.3 .5 7.1 .5-2.1 .5 6.5 .5-3.1 .5 2.2 .5-1.9 .5 1.4 .5-4.6 .5 3.3 .5-5.3 .5 .1 .5-.7 .5-3.2 .5 .2 .5-1.1 .5 .9 .5-.6 .5-1.2 .5-6.5 .5 3 .5-.5 .5-5 .5 1 .5 2.4 .5 .6 .5-6.9 .5-1.3 .5-3.2 .5-1.9 .5 4.6 .5-2.7 .5 2.1 .5-.5 .5-.9 .5-.3 .5 8.3 .5-1.3 .5-1 .5 1.4 .5-1.3 .5 2.9 .5 .5 .5 .5 .5 3.9 .5 1.2 .5 4.7 .5-3.9 .5-.3 .5-2.7 .5-6.2 .5-2.4 .5 .2 .5-.6 .5-.8 .5-4.2 .5-.2 .5-2.5 .5 .3 .5-3.1 .5 2.1 .5-4.6 .5-.9 .5 3.7 .5-6 .5-.8 .5 0 .5-.7 .5-5.7 .5 2 .5 2.6 .5-.5 .5 .9 .5 3.3 .5 1 .5 4.4 .5-6.8 .5 9.9 .5 .5 .5-1.1 .5 .5 .5 3.2 .5-1.2 .5-.7 .5 5.4 .5-2.2 .5 1.5 .5 .7 .5-2.1 .5-3.9 .5 5.5 .5 1.9 .5-1.7 .5 1 .5-2.9 .5 3.2 .5 3.4 .5-1 .5-2.5 .5 5.9 .5 .4 .5-2.1 .5 1.9 .5 .7 .5 .7 .5 2 .5-.7 .5-2.2 .5-1 .5-1 .5 1.6 .5-4.1 .5-2.8 .5-3.2 .5 1.7 .5-2.9 .5-4.3 .5 2.2 .5 2.8 .5-5.3 .5-5.9 .5-5.6 .5-3.2 .5-8.1 .5-7.7 .5-6.1 .5-7.5 .5-1 .5-14.5 .5 .5 .5-10.1 .5-11.1 .5-4.6 .5-4.2 .5-6.9 .5-4.6 .5-5.4 .5-6.8 .5-3.7 .5-5.2 .5-2.5 .5 1.9 .5 1.6 .5 6.4 .5 4 .5 3.8 .5 6.3 .5 6.1 .5 4.8 .5 8.8 .5 6.5 .5 5.5 .5 6 .5 4.8 .5 10.7 .5 6.4 .5 6.4 .5 3.9 .5 8.2 .5 5.6 .5 5.7 .5 3.4 .5 8.2 .5 .8 .5 4.6 .5 4.6 .5 2 .5 4.1 .5 2.6 .5 3.3 .5-.3 .5 2 .5-.3 .5 1.2 .5-5.6 .5 .3 .5 3.4 .5-.1 .5-3.3 .5 3.5 .5-4 .5-.7 .5-1.2 .5-1.1 .5-2.4 .5-1.3 .5 3.8 .5-7.4 .5 0 .5-2.4 .5-5.2 .5 1.4 .5-2.2 .5-3.9 .5-1.7 .5-4.2 .5 6.1 .5-6.6 .5 1.7 .5-.9 .5-4.6 .5 1.9 .5-3 .5-.7 .5 .9 .5 1.7 .5 1.6 .5-1.9 .5-1.8 .5-1.9 .5 3.6 .5 7.7 .5-5.9 .5-2.4 .5 0 .5 3 .5-1.8 .5 .9 .5 7.6 .5 2.9 .5 6.7 .5-2.8 .5 3.7 .5-.2 .5 1 .5 1.5 .5 .3 .5 1 .5 4.4 .5-1.4 .5-1.4 .5 .1 .5 2 .5-2 .5 .6 .5 .4 .5-2.1 .5-1.2 .5 .3 .5 3.6 .5-4.8 .5-.6 .5 2.4 .5-1.1 .5 1.8 .5-.5 .5-5.5 .5 3.6 .5-5.1 .5-.3 .5 2.3 .5-4 .5-5.5 .5 2.6 .5-2.9 .5 1.5 .5-.4 .5 2.3 .5-2.7 .5-.5 .5-1.5 .5 3.3 .5-1.6 .5-1.5 .5 2.1 .5 2.9 .5-6 .5 3.2 .5 2.8 .5-2.7 .5 2 .5 .4 .5 4.3 .5 1.6 .5 2 .5 2.1 .5-3.3 .5 6.3 .5-5.5 .5 7.4 .5-1.5 .5 3.4 .5 3.2 .5 .3 .5-3 .5 1.2 .5 1.6 .5 1.1 .5 1.4 .5-7.6 .5-1.1 .5-2.1 .5 2.7 .5-5 .5-1.1 .5-2.2 .5-3 .5 3.9 .5-.9 .5 1.6 .5-6.4 .5 3.5 .5-.3 .5 .9 .5 .5 .5-2.1 .5 .7 .5-5.2 .5 10 .5 1.7 .5-1.6 .5 .5 .5 4.9 .5 1.2 .5 3.7 .5-1.7 .5-.1 .5 7.4 .5 .2 .5-2 .5 2.4 .5-.8 .5 1.6 .5-2.4 .5 7.9 .5-4.5 .5-2.2 .5 3.6 .5-1.2 .5-1.5 .5 2.4 .5-7.8 .5 3.4 .5-2.2 .5-1.2 .5 .9 .5-5.8 .5 2 .5 .3 .5 1.2 .5-4.8 .5 1.2 .5 5.3 .5-2.6 .5 7.6 .5-4.6 .5 3.3 .5 .6 .5-.5 .5 1.6 .5 5.3 .5-1.9 .5 3.1 .5 4.9 .5-1.3 .5 1.3 .5-.4 .5 6.6 .5 4.8 .5-5.6 .5 2 .5 7.2 .5-.6 .5-.3 .5 4.1 .5 3.7 .5-6.1 .5-3.1 .5 .9 .5 3.3 .5-2 .5-9.3 .5 .7 .5 3.2 .5-9.8 .5 3.8 .5-3.4 .5-3.3 .5-2.9 .5 1.1 .5-1 .5 .9 .5-3.2 .5 2.6 .5-1.7 .5-4.9 .5 2.3 .5 .1 .5 .3 .5-1.8 .5-2.9 .5-2.9 .5 3.2 .5-7.6 .5 3.8 .5-2.1 .5-3.2 .5 1.8 .5-.9 .5 2.8 .5 1 .5 4.1 .5 .8 .5 7.8 .5 5 .5 2.4 .5 2.2 .5 5.7 .5-.4 .5 4.9 .5-4.2 .5 1.8 .5-2.3 .5 1.7 .5-3.8 .5 1 .5-1.6 .5-1.9 .5-1.7 .5-3.4 .5-.1 .5-2.3 .5-1.4 .5-.1 .5 1.7 .5-4.9 .5-5.1 .5 .3 .5-1.3 .5-5.2 .5-2.1 .5-3.2 .5-.1 .5-1.7 .5-2 .5-3.1 .5-1.9 .5 .6 .5-.2 .5 1.1 .5 .5 .5-1.4 .5 1.3 .5 2.5 .5 6.5 .5-4.6 .5 3.9 .5 .8 .5 .8 .5-2.6 .5 2.4 .5-.2 .5 5.2 .5 7.3 .5-5.4 .5 0 .5 6.3 .5-4.2 .5 2.6 .5-2.7 .5-.2 .5 3.6 .5 .5 .5 4.1 .5-1.6 .5-3.5 .5-2.6 .5 2.4 .5-4.7 .5-3.6 .5 3.8 .5-9.6 .5 7.2 .5-4.5 .5-3.1 .5-1.8 .5-5.1 .5-.8 .5-2.1 .5-7.1 .5-1.2 .5-2.3 .5-4.2 .5-6 .5-2.9 .5-8.7 .5 1.3 .5-3.4 .5-5.9 .5-1.4 .5-4.5 .5 1.7 .5 .5 .5-2.6 .5-6.9 .5 3.4 .5 .7 .5-1.4 .5 6.4 .5-1.6 .5 1.4 .5 7.6 .5-.6 .5 3.4 .5 13.6 .5 3.4 .5 7.4 .5 9.4 .5 7.9 .5 8.8 .5 1 .5 2 .5 4.6 .5 6.8 .5 4.6 .5 3.2 .5 5.4 .5-1.9 .5 10 .5 5.5 .5 4.7 .5 7 .5 1.8 .5 4 .5-2.5 .5 5.1 .5-4.2 .5 4 .5 3.3 .5 .7 .5 5.5 .5 .5 .5-3.3 .5 1.4 .5-3.2 .5 1.6 .5 2.3 .5-2.3 .5-.9 .5 .2 .5 .4 .5 3.3 .5-2.6 .5 .2 .5-2.7 .5 2.6 .5 1.1 .5 .9 .5-2.1 .5-7.5 .5 1.1 .5-3.8 .5-1.3 .5-5.8 .5-4.1 .5-1.6 .5 5.8 .5-2.8 .5 .1 .5 1.5 .5-1.8 .5 0 .5 1.4 .5 .9 .5-1 .5-.5 .5 2.1 .5-.7 .5-3.3 .5 1.9 .5 1 .5-3.4 .5 6 .5-4.4 .5 .7 .5 2.6 .5-2.9 .5 2.9 .5-2.4 .5 1.7 .5-3.1 .5-.4 .5 2.2 .5-.8 .5 .2 .5-.7 .5 .5 .5 3 .5-2.7 .5 1.7 .5 3.7 .5-4.2 .5 3.3 .5-2.4 .5-1.2 .5 .1 .5 2.1 .5 5.2 .5 .1 .5-.6 .5-1.9 .5 4.1 .5 3.4 .5-3.4 .5 2.1 .5-.7 .5-.6 .5-.4 .5 7.9 .5 1.1 .5-.7 .5 .7 .5 2.4 .5 4 .5 5.2 .5-5.9 .5-.8 .5 2.9 .5 .5 .5-6.4 .5 .9 .5 4.4 .5-6.3 .5 3.7 .5-2.7 .5-1.6 .5 5 .5-2.3 .5-.6 .5 2 .5-4.5 .5 3.7 .5-3.7 .5-1 .5 3.2 .5 3.1 .5-1.7 .5-2.2 .5-.3 .5-.4 .5 2.5 .5 1.3 .5-5.2 .5 2.5 .5-.4 .5 .1 .5-2.8 .5-1.8 .5-.7 .5-3.3 .5-.5 .5 .2 .5-7.6 .5 6 .5-.4 .5 1.8 .5-6.7 .5 .1 .5-1.3 .5 2.4 .5 1.7 .5-4.7 .5-1.4 .5 1.1 .5 2.8 .5-4.6 .5-2.4 .5 1.3 .5 1.9 .5 3.4 .5-5.1 .5-2.2 .5 0 .5-.1 .5-.8 .5 2.3 .5-2.5 .5-.1 .5 1.2 .5-4.6 .5 .1 .5 1 .5 .3 .5 2.6 .5-2.8 .5 0 .5-3.3 .5 3.8 .5 2.6 .5-1.3 .5 3.3 .5-4.4 .5 5.8 .5-1.7 .5 2.4 .5-1.2 .5 3.9 .5 .2 .5 1.6 .5-.5 .5 2.5 .5 4.5 .5-3.6 .5 7.7 .5 1.8 .5 2.3 .5-1.9 .5 .2 .5 2.1 .5 5 .5 .4 .5 2 .5-1.3 .5 .8 .5-2.1 .5 2.7 .5-2 .5 1.1 .5-2.2 .5 .9 .5 4 .5-4.9 .5-2.6 .5 .9 .5 0 .5-.2 .5-8.3 .5 2.5 .5 2.7 .5-2.4 .5-3.1 .5-.5 .5-.4 .5 .4 .5 1.1 .5-1.6 .5 3.3 .5-4.2 .5-2.6 .5 1.9 .5 1.6 .5-5.6 .5 8 .5-5.6 .5-3.5 .5 5.9 .5-.1 .5-9 .5 6.9 .5-4.7 .5 .6 .5-2 .5 1 .5-3.2 .5-3.1 .5 2.7 .5 .2 .5 2.5 .5-.3 .5 2.5 .5-1.9 .5-1.1 .5 4.3 .5 3.8 .5-4 .5 2.4 .5-2.2 .5 1 .5-.6 .5-4.9 .5 6.1 .5-6.2 .5 .5 .5-5.5 .5 2.1 .5-2.7 .5 1.3 .5-2.4 .5 2 .5 .2 .5 1.1 .5-5.7 .5 4.8 .5-.4 .5-2.4 .5-.4 .5-.1 .5 .3 .5-3.1 .5 1.8 .5 3 .5-5.2 .5 .9 .5 3.2 .5-1.2 .5 2.2 .5-3.3 .5-.5 .5-.9 .5 5.4 .5-2.5 .5 .6 .5 2.1 .5 2.5 .5 1.1 .5 .8 .5-.3 .5-4.7 .5 8 .5-3.9 .5 1.5 .5-2.3 .5-.3 .5 1.6 .5-.2 .5 2.1 .5 1.4 .5-.9 .5 9.9 .5-3.8 .5-4.3 .5 4 .5 1 .5-.7 .5 0 .5 1.8 .5 .8 .5 .3 .5-.6 .5 .3 .5-1.8 .5-.7 .5-2.4 .5-.2 .5-2.7 .5-3.4 .5-2.7 .5-3.2 .5-4.5 .5-3.5 .5-2.7 .5 4.6 .5-3 .5-3 .5-.9 .5-2.6 .5 2.6 .5-2.5 .5 1 .5-1.9 .5-2.6 .5-3 .5 .9 .5-1 .5-2.3 .5-1.4 .5 4.6 .5-6.3 .5-1.2 .5-1.1 .5 .8 .5-2.3 .5 3.6 .5 2.4 .5-2.3 .5 1.8 .5-.6 .5 3.4 .5 4.6 .5 3.2 .5-3.5 .5 1 .5-.2 .5 2.6 .5 7.1 .5-.8 .5 .8 .5 6.4 .5 .1 .5 2.1 .5 4.1 .5 .1 .5 4.8 .5-.1 .5-5 .5 3.5 .5-3.2 .5 3.9 .5 .1 .5-1.8 .5-.5 .5 2.1 .5-1.4 .5-7.4 .5 9.2 .5-6.3 .5 1.3 .5 1.8 .5-2.2 .5-3.7 .5-1.4 .5-2.1 .5 1.2 .5-6.9 .5-6.8 .5 .6 .5-3.5 .5-8.9 .5-.7 .5-2 .5-6.3 .5-6.4 .5-2.7 .5-8.3 .5-6.8 .5-3.2 .5-8.8 .5 .9 .5-1.5 .5 1.8 .5-3.7 .5 8.1 .5-3.8 .5 3.3 .5-1.5 .5 .3 .5 4.6 .5 1.8 .5 1.9 .5 2.5 .5 4.5 .5 3.1 .5 3.9 .5 7.9 .5-1.5 .5 7.9 .5 5 .5-4.4 .5 4.9 .5 1 .5-2.1 .5 6.6 .5-3.1 .5-2.1 .5 5.4 .5 1.8 .5 1.5 .5 1.7 .5-6 .5 1.1 .5 .1 .5-1.4 .5 1.5 .5-1.4 .5 2.1 .5-1.6 .5 3.1 .5-.5 .5-1.5 .5-1.8 .5 2.4 .5-2.5 .5 .2 .5-2.1 .5-.1 .5 1 .5-1.1 .5-4.7 .5 .5 .5-4.8 .5 4.8 .5-2.5 .5-2.9 .5 0 .5-5.4 .5-.6 .5-5.1 .5-2.3 .5-4.5 .5-1.7 .5-5.6 .5 .8 .5-3.6 .5-3.8 .5-3.7 .5 1.4 .5-1.3 .5-5.6 .5 4.3 .5-10.5 .5-2.7 .5 .9 .5-6.6 .5-4.7 .5-6 .5-4.3 .5-7.4 .5 1.1 .5-.6 .5-3.7 .5-5 .5-3.9 .5-3.3 .5-6.1 .5 1.4 .5 .1 .5-4.4 .5-2.4 .5-.9 .5-1.9 .5 5.4 .5-1.2 .5-.6 .5 1.5 .5-3.2 .5 5.6 .5 1.2 .5 7.8 .5-.5 .5 2.3 .5-1.8 .5 1.5 .5 1.2 .5-1.2 .5 9.1 .5 .6 .5 1.7 .5 6.8 .5 6 .5-4.5 .5 .9 .5 1 .5 4.3 .5-2 .5 4.1 .5-4.1 .5 5.7 .5 .2 .5-2.3 .5 .2 .5-1.3 .5-2.8 .5 2.3 .5-2.4 .5-3.4 .5 1.5 .5 3 .5 3.6 .5-3.9 .5-1.5 .5 1.4 .5-1.2 .5-7.1 .5 1.3 .5 6.8 .5-1.2 .5-1.3 .5 5.6 .5-5.5 .5-.6 .5 .2 .5-3.5 .5 2.1 .5-2.7 .5-2 .5-.6 .5 .2 .5 0 .5 3.6 .5-6.7 .5 .5 .5-1.9 .5-2.8 .5-6.3 .5-2.2 .5 5.1 .5-6.6 .5 2.6 .5-1.3 .5 .3 .5-3 .5 .2 .5-1.3 .5 .7 .5-1.4 .5-4.1 .5 3 .5 1 .5 3.6 .5-4.7 .5-1.3 .5 1.4 .5 1.7 .5-4.3 .5-5.4 .5 10.5 .5-5.9 .5-1.1 .5 2.5 .5-2.6 .5 3 .5-.8 .5 0 .5-2.9 .5-2.5 .5 1.8 .5 4.8 .5-3.2 .5-1.4 .5-2.5 .5 2 .5-.1 .5-.3 .5 1.7 .5 4.2 .5-2.8 .5 .6 .5 2.5 .5-2.4 .5 .9 .5 .3 .5 4 .5-3.5 .5 1.2 .5-.6 .5-2.5 .5 .8 .5 5.1 .5-3.5 .5-1.6 .5-3.9 .5 2.8 .5-3.1 .5-1.9 .5 1.1 .5-6.5 .5-2.6 .5-.9 .5-3 .5-4.4 .5-1.1 .5-10.3 .5 3.8 .5-3.2 .5-3 .5-2.1 .5-4.1 .5-.3 .5 .8 .5-3.4 .5-1.6 .5-5.4 .5-4.7 .5 .9 .5-.1 .5-4.8 .5 5.2 .5-1.1 .5 6.7 .5-.3 .5 4.7 .5-1.3 .5 2.6 .5 4.5 .5-1.2 .5 5 .5-.3 .5-4.2 .5 5.5 .5 1.2 .5 4.1 .5 2.3 .5 1.2 .5 2.6 .5 5.2 .5 5.9 .5 2.9 .5 3.6 .5 4.5 .5 3.1 .5 1.8 .5-.1 .5 4.7 .5 4.8 .5 .8 .5 3.6 .5-3.9 .5 11.6 .5 .9 .5 7.8 .5-.5 .5 3.3 .5 4.5 .5 1.6 .5 2 .5 5.2 .5 2 .5 0 .5 2.4 .5 1.8 .5-1.7 .5 1.6 .5 2.7 .5 1.2 .5-2.9 .5 2.3 .5 .8 .5 5.1 .5-2.8 .5 7 .5-6.7 .5 0 .5 3.3 .5 2.3 .5-2.6 .5 1.3 .5 1.3 .5-1.2 .5 6.2 .5-.9 .5 .4 .5 2.6 .5-.5 .5 3.4 .5-2.5 .5 4.4 .5-5.5 .5 3.9 .5-2.1 .5-1 .5 6.2 .5-1 .5-4.8 .5 3.9 .5-1.7 .5 3.4 .5 .6 .5-1 .5-4 .5 2.5 .5 2.7 .5-3.3 .5-.2 .5 2 .5 3 .5 1 .5-3.5 .5-.9 .5 3.5 .5 7.2 .5-6.6 .5 5.6 .5-3.5 .5 .2 .5 .2 .5 1.4 .5-2.2 .5 7.5 .5-4.6 .5 1.5 .5 1.4 .5 1.6 .5-4.5 .5 6.5 .5-4.6 .5-1.5 .5 3 .5 2.9 .5-2.1 .5 .7 .5-10.1 .5 2.3 .5 1.1 .5 3.7 .5-4.7 .5 4.4 .5-4.5 .5 1.9 .5-.8 .5 2.7 .5-3.5 .5 2.1 .5-.4 .5 1.6 .5-5 .5 2.6 .5-2.7 .5-2 .5-.8 .5 0 .5-2.9 .5 2.6 .5 .5 .5-3.8 .5 1.1 .5 1.3 .5-3.8 .5-1.2 .5-2.6 .5 3 .5-4.4 .5 2.3 .5-3.6 .5-3.9 .5-5.6 .5 .4 .5-2.7 .5-6.2 .5-4.8 .5-2.7 .5-1.8 .5 1.9 .5-7.5 .5-5.7 .5-7.9 .5 4.4 .5-9.4 .5-1 .5-3.2 .5 1.5 .5-4.1 .5-5.3 .5 5.3 .5-6.9 .5-3.2 .5 1.7 .5-6.8 .5-2.6 .5 2 .5-1.4 .5-5.2 .5-.5 .5 2.4 .5 3.5 .5-5.8 .5 4.4 .5 2 .5 .4 .5-2.2 .5-.7 .5 7.6 .5 7.8 .5-6.5 .5 .4 .5 4.1 .5-.2 .5-1.2 .5-1.4 .5 2.7 .5-.2 .5 4.9 .5-2.9 .5 4.8 .5 1.7 .5-.6 .5 2.8 .5 3.2 .5-.4 .5 4.3 .5-1 .5 1.2 .5 3.3 .5 5.9 .5 2.3 .5 1.5 .5 4.2 .5 2.1 .5 3.5 .5-1 .5 2.1 .5-3.2 .5 8.2 .5-3.3 .5 3.9 .5 2.3 .5 1.1 .5 1.7 .5-1.1 .5 .7 .5 4.2 .5-1.2 .5 1.9 .5 3 .5 1.7 .5 2.2 .5 1.8 .5 2.7 .5 2 .5 2.1 .5-5.1 .5 4.2 .5 4.3 .5 3.1 .5-.4 .5-4.4 .5 4.5 .5 2.7 .5 2.1 .5 6.4 .5 1.1 .5-3 .5 6 .5 .8 .5-.3 .5 2.6 .5-1 .5 3.9 .5 6.9 .5-1.6 .5 6.8 .5 1.2 .5-1.5 .5 4 .5 5.4 .5-1.9 .5-2.2 .5 5.2 .5-3.8 .5 2.8 .5-.7 .5-4.3 .5 2.8 .5 .1 .5 5.9 .5-5.4 .5 1.5 .5-.6 .5 1.9 .5 .3 .5 1.5 .5-.6 .5 5.1 .5-3.5 .5 2.4 .5-1 .5-5.4 .5 5.9 .5 2.4 .5 .7 .5-.7 .5 .2 .5 1.4 .5-4.3 .5 .4 .5 3.1 .5 1 .5 .6 .5-2.5 .5-1.7 .5 .9 .5 .4 .5-2.8 .5-.6 .5 3.1 .5-.5 .5 3.7 .5-3.3 .5 5 .5-5.8 .5 2.4 .5-2.8 .5 4.3 .5-1 .5 1.1 .5 0 .5 2.6 .5-6.7 .5 3.5 .5-1.3 .5 1.2 .5 1.7 .5 .1 .5-4.6 .5 4.2 .5 5.3 .5-2.3 .5 1.7 .5-3.4 .5 .2 .5 2.5 .5 1.9 .5-6.4 .5 4.7 .5 1.9 .5 .3 .5-3.7 .5 .8 .5 1.1 .5-.2 .5 .1 .5-2.2 .5-.7 .5-2.3 .5 3.9 .5 .5 .5-1.1 .5-6.4 .5 8.7 .5-7 .5 4.8 .5-2.4 .5 6.5 .5-5.1 .5-3.8 .5 6.3 .5-.9 .5-5 .5-2.9 .5 2.2 .5 .8 .5 4.2 .5-3.7 .5-1.2 .5-1.2 .5 4 .5-1.6 .5-2.5 .5 4.4 .5 0 .5-5.3 .5 3.1 .5-5 .5 5.8 .5-1.7 .5 1.2 .5-1.2 .5-.8 .5 2.3 .5-1.8 .5-3.2 .5 3.2 .5-3.9 .5 3 .5-2.7 .5 3.1 .5-6.7 .5 6.1 .5-2.8 .5 5.1 .5-3.1 .5 .6 .5-4.5 .5 3.1 .5-.4 .5 .1 .5 .3 .5-1.7 .5-2.5 .5 .1 .5-3 .5 .3 .5-.1 .5 2.7 .5-8.3 .5 1.2 .5-1.2 .5 2.4 .5-.8 .5-3.9 .5 2.2 .5 3.9 .5-5.3 .5 .8 .5-.3 .5-2 .5-.1 .5 2.6 .5-4.1 .5 2.3 .5-1.8 .5 4.6 .5-.9 .5-2.4 .5-.2 .5 1.9 .5-5.1 .5 2.6 .5 1.6 .5 .6 .5 .8 .5-2.1 .5 4.7 .5-2.3 .5-3 .5-.5 .5 1.7 .5 .3 .5 3 .5-.8 .5 1.5 .5-5.5 .5 2.2 .5-.1 .5 4.2 .5-4.8 .5-.5 .5 5.1 .5-.8 .5 .8 .5-2.5 .5 2.4 .5-3.9 .5 3.3 .5-2.2 .5-1.1 .5 3.1 .5-1.9 .5-.2 .5-3.8 .5 1.6 .5-3 .5 1 .5 2.4 .5-1.1 .5-.5 .5-1.9 .5 4 .5-3.7 .5-1.3 .5-2.8 .5 0 .5 3.6 .5-1.8 .5 4.7 .5-2.8 .5 0 .5-7.6 .5 2.7 .5 4.9 .5-2.1 .5-2.5 .5 1 .5-2.1 .5 3 .5 1.5 .5-12.6 .5 9.9 .5-3.9 .5-3.6 .5 7 .5-6.8 .5-5.2 .5 1.8 .5 1.5 .5 .3 .5-4.2 .5 4.3 .5-2.7 .5-1.3 .5-5 .5 1.2 .5 3 .5 .6 .5 2.1 .5-3.7 .5 1 .5 6 .5-3.9 .5-1.9 .5 4.3 .5-.1 .5-6.6 .5 8.5 .5-2.4 .5 3.5 .5 0 .5-5.1 .5 4.7 .5-.3 .5 1.5 .5-2.2 .5-.2 .5-1.7 .5 5.7 .5-3 .5 1.8 .5 1.3 .5-4.2 .5 8.5 .5-7.7 .5 5 .5-1.2 .5 3.8 .5-.6 .5-2.7 .5-.9 .5 1.2 .5 .7 .5-1 .5-1.8 .5 2.8 .5 3 .5 .3 .5-.4 .5 5.1 .5-5.5 .5 2.7 .5 5.6 .5-9.7 .5 4.5 .5 1 .5-5.5 .5 2.9 .5 2.5 .5-3.2 .5 1.6 .5 2 .5-1.9 .5-.6 .5-2.2 .5 5 .5-4.3 .5 1.3 .5-.1 .5-1.9 .5 .8 .5 .6 .5-.4 .5 .3 .5 0 .5-1.8 .5 1.2 .5-1.3 .5 3.6 .5-2.3 .5 3 .5-.6 .5-2.3 .5 .3 .5 2.1 .5-1.6 .5-4.5 .5 5.1 .5-.4 .5-4.4 .5 0 .5 3.9 .5-1.6 .5 1.4 .5-1.3 .5 2 .5-.8 .5 .8 .5-.8 .5-.5 .5 2.8 .5-5.7 .5 4.2 .5 5.1 .5-3.8 .5 0 .5 2 .5-1.9 .5 1.6 .5-3.6 .5 5.3 .5-2.5 .5 .2 .5 1.2 .5 .5 .5-.1 .5 1.7 .5-2 .5 .5 .5 1.5 .5-3.1 .5 5.5 .5-3.6 .5 2.7 .5 0 .5 .9 .5 3.8 .5-5.7 .5 1.7 .5-5.5 .5 10.6 .5-1.6 .5-1 .5-2.6 .5-1.9 .5 4.4 .5-3.9 .5 2.5 .5-2.4 .5 4.1 .5 2.2 .5-4.2 .5 1.2 .5-.3 .5 3.2 .5-2.1 .5-1 .5-1.3 .5 2.5 .5 4.9 .5-2.6 .5-2.6 .5 6.4 .5-7.1 .5 2.6 .5 2.5 .5-4.6 .5 9.5 .5-5.5 .5-.2 .5-4.4 .5 6.8 .5-1.9 .5 1.9 .5-1.6 .5 2 .5 .4 .5-.7 .5 .4 .5-1.2 .5 4.2 .5-3 .5 5 .5 .8 .5-.5 .5 .9 .5 6.5 .5-5.6 .5 .3 .5 3.2 .5-1.5 .5 1.8 .5-1.3 .5 3.3 .5-4 .5-1 .5 3.3 .5 2.5 .5 .8 .5-3.4 .5 1.9 .5 .2 .5-2.4 .5 4.2 .5-3.8 .5 4.1 .5-2.8 .5 3.4 .5-.4 .5-1.5 .5 .5 .5 .6 .5 .3 .5-1 .5 1.1 .5 2.1 .5-5.6 .5 2 .5 .7 .5 1.7 .5-6.6 .5 4 .5 2.5 .5-6.2 .5 5.1 .5-3.3 .5 .8 .5 1 .5-2.1 .5-.4 .5 2.5 .5 0 .5-4.4 .5 6.3 .5-7.1 .5 1.9 .5-.1 .5-5.1 .5 6.8 .5-3.6 .5 .9 .5 4.8 .5-1.9 .5-2.3 .5-1.1 .5-1.5 .5 1.9 .5 5 .5-4.7 .5 .6 .5-2.2 .5 1.8 .5-2.4 .5-1.3 .5-2.8 .5 5.2 .5 .6 .5-5.5 .5 3.1 .5-2 .5-.3 .5 4 .5-1.5 .5-.3 .5-3.6 .5 5.5 .5-4.9 .5 4.5 .5 1.3 .5 .7 .5-1.3 .5 3.4 .5-2.7 .5-1.6 .5 1.5 .5-3.8 .5 4.9 .5-5 .5 3.6 .5 .7 .5 0 .5-1.4 .5 4.5 .5-4.3 .5 5.8 .5-5.4 .5 1.6 .5-.8 .5-5.6 .5 8.3 .5-4.9 .5 2.3 .5-3.7 .5 4 .5-1.1 .5-2.3 .5 3.6 .5-3.5 .5 5.3 .5-7.1 .5 5.6 .5-2.8 .5 2.6 .5 10.1 .5-6.7 .5-5.9 .5 7.4 .5-3.2 .5 0 .5 5.2 .5-1.2 .5 4.5 .5-2.9 .5 1.1 .5-1.6 .5 7 .5-6.9 .5 1 .5 2.3 .5 .4 .5-2.4 .5 3.7 .5-2.2 .5 3.7 .5-.7 .5-.2 .5-.7 .5 4.5 .5-2.5 .5 3 .5-4.7 .5 2.5 .5-2.4 .5 4.9 .5-2.6 .5-.1 .5 .3 .5-1.7 .5 .8 .5 2 .5 1.3 .5-4.8 .5 2.7 .5-1 .5-2.4 .5 7.4 .5-2.6 .5-3.2 .5 5.1 .5 2.4 .5-4.3 .5 2.4 .5 .6 .5-4.4 .5-2.2 .5 1.8 .5 .8 .5 .9 .5-1.2 .5 1.9 .5-2.5 .5 1.3 .5 1.7 .5-1.5 .5 2.6 .5-.1 .5-.8 .5-1.2 .5 1.8 .5 1.7 .5-2.5 .5-.2 .5 3.4 .5-4.4 .5 3.4 .5-5.8 .5 .1 .5 2.8 .5 .3 .5 .1 .5 2.6 .5-.2 .5-.9 .5-6.1 .5 2.7 .5 2.7 .5-1.5 .5 5.9 .5-1.6 .5-.7 .5-3.4 .5-1.5 .5 .6 .5 2.8 .5 0 .5-.2 .5-3.3 .5 7 .5-2.5 .5 .6 .5-7.6 .5 7 .5-.5 .5-.2 .5-7.9 .5 6 .5 1.8 .5-2 .5 2.6 .5-1.9 .5 .7 .5-.3 .5 1.9 .5-.2 .5-7.2 .5 6.4 .5-1.6 .5 2.2 .5-1.6 .5-2.5 .5-2.9 .5 6.2 .5-.9 .5 .2 .5-1.4 .5-4.9 .5 7.2 .5-4.9 .5 2.3 .5-3.7 .5 1.1 .5-2 .5 5.6 .5-5.7 .5 3.2 .5-1.9 .5 3.2 .5-1.5 .5 2.4 .5-.3 .5-4.4 .5 3 .5 .6 .5-1.4 .5-1.3 .5 1.7 .5 3.1 .5-4.6 .5 .3 .5 2.6 .5-5.4 .5 4.4 .5-2.7 .5 7.3 .5-9.7 .5 3.6 .5-.9 .5 1.2 .5-2.4 .5 0 .5-4.5 .5 6.2 .5 4.1 .5-3.4 .5 5 .5-3.1 .5-3.2 .5 3.5 .5-3.7 .5 5.3 .5-.6 .5-4.2 .5 1.6 .5 1.4 .5-2.6 .5 1.8 .5-1 .5-1.6 .5 .7 .5 .2 .5 1.2 .5-3.5 .5 .2 .5 5.8 .5-6.6 .5 3.8 .5-2.2 .5 2.8 .5 .7 .5 1.4 .5-1.7 .5-4.6 .5 4.9 .5 .5 .5-3.3 .5-.4 .5-2.1 .5 4.5 .5 .1 .5-.9 .5 3.2 .5 1.1 .5-5.6 .5-1.6 .5 2.8 .5-3.2 .5 .9 .5 3.3 .5-2.1 .5 1.1 .5 3.2 .5-3.5 .5 1.8 .5-1.2 .5 2.4 .5-.6 .5-3 .5 3.8 .5-.5 .5-.1 .5-4.4 .5-2.8 .5 3.9 .5 2.9 .5-5.4 .5 1.5 .5 2.9 .5-8.6 .5 4.9 .5 3.3 .5 .9 .5-1.6 .5-2.4 .5-4.6 .5 3.9 .5-1.7 .5 2.9 .5 3.4 .5 2.2 .5-6.1 .5 2.7 .5-2.7 .5 .8 .5-2.5 .5 5.9 .5-.3 .5-.4 .5-2.5 .5-3 .5 .5 .5 4.7 .5-3.9 .5 1.1 .5 3.3 .5-2 .5 .5 .5-3.2 .5 4.7 .5 1.8 .5-3.8 .5-.8 .5 2.7 .5-7.4 .5 10.8 .5-1.7 .5-.8 .5-3.8 .5 2.4 .5 1.7 .5-1.3 .5-.1 .5-.3 .5 .2 .5 .5 .5 2.6 .5-4.6 .5 1.5 .5 1.1 .5 2.7 .5-2.2 .5-.8 .5-1.6 .5 5.9 .5-3.5 .5-.5 .5-.1 .5-1 .5 .8 .5-2.1 .5 1.1 .5 3.6 .5-2.3 .5-3.4 .5 3 .5-.5 .5-1.6 .5 1.7 .5 2.3 .5-4.8 .5 1 .5-3.7 .5 8.8 .5-4.1 .5-.2 .5-2.8 .5 4 .5 1.6 .5-2.4 .5-.9 .5 3.9 .5-.5 .5-5.8 .5 2.7 .5 2.8 .5-3.2 .5-.4 .5 7.4 .5-8.1 .5 1.7 .5 1.6 .5-3.2 .5-1.8 .5 1.9 .5-.7 .5 1.7 .5 0 .5-2.4 .5 1.2 .5-4.8 .5 7.5 .5-1.5 .5 1.1 .5 3.3 .5-8.8 .5 6.1 .5 1.3 .5 2.4 .5-7.5 .5 3.8 .5 .4 .5-1.7 .5 1.1 .5 2.9 .5-5.8 .5 3.5 .5-5.1 .5 2.1 .5 4.7 .5 2.9 .5-5.8 .5-5.3 .5 5.2 .5-.1 .5 .5 .5 .5 .5 1 .5-.1 .5-3.9 .5 3.8 .5 .7 .5-.3 .5-4.8 .5 7 .5-.9 .5 2.1 .5 1.9 .5-3.2 .5 2 .5-.8 .5-2.5 .5-3.7 .5 2.8 .5 .1 .5-3 .5 3 .5 .1 .5-4.4 .5 4.4 .5-3.8 .5 2.3 .5 2.2 .5-2.5 .5 1.3 .5 .4 .5 .8 .5-4.7 .5 5.1 .5 .3 .5-1.7 .5 3.6 .5-5 .5 3.9 .5-1.2 .5-1.3 .5 1.8 .5 2.2 .5 2 .5-2.4 .5 2.7 .5-4.8 .5 1 .5-.8 .5 .4 .5-1.6 .5 5.3 .5-4.7 .5 4 .5-6.3 .5 7.4 .5-4.2 .5 .6 .5 2.2 .5-1.7 .5-3.3 .5 5.9 .5-2.7 .5 2.8 .5-1.6 .5 .6 .5-2.4 .5-.3 .5-2.2 .5-.1 .5 2.3 .5 2.3 .5-4.9 .5 2.1 .5 .5 .5-1.3 .5 1.1 .5-5.2 .5 2.8 .5 2.3 .5-1.2 .5 3.4 .5 3 .5-6.8 .5 4.7 .5-.6 .5-6.9 .5 4.2 .5 .5 .5 7 .5-5.8 .5 4.8 .5-4.7 .5-1 .5 1 .5-4.4 .5 1.2 .5 .1 .5 2.8 .5-.9 .5-2.2 .5-.2 .5 2.8 .5-2.3 .5-.1 .5 2.7 .5-2.5 .5 .8 .5 .2 .5-5.2 .5 1.4 .5 3.2 .5 1.9 .5-1.1 .5-.3 .5-1.4 .5 2.9 .5 3.8 .5-2.6 .5 1.8 .5-2.8 .5-1.2 .5-.2 .5 .6 .5 1.8 .5-2.2 .5 1.1 .5 .1 .5-4.2 .5 .9 .5 5.5 .5-6.2 .5 1.6 .5-1.4 .5 6.4 .5-.6 .5-5.1 .5 1.6 .5 2.3 .5 .4 .5-2.5 .5-.9 .5 1.5 .5 .2 .5 .2 .5-.7 .5 2.2 .5-2.6 .5-.7 .5 1.6 .5-1.3 .5-3.2 .5 2.2 .5 1.3 .5 9.3 .5-11.8 .5 3.6 .5 .3 .5-3.3 .5 1.2 .5 8.7 .5-6.4 .5-1.3 .5 .6 .5-3.5 .5 2.4 .5 4.6 .5-4.1 .5-.5 .5 3 .5-.1 .5-5.3 .5 5.3 .5-.4 .5 1.2 .5-3.5 .5 1.6 .5 2.9 .5-4.2 .5 3.5 .5 .9 .5 3.3 .5-6 .5 0 .5 4.1 .5-2.1 .5-2.5 .5 1.7 .5-.8 .5 1.5 .5 1.3 .5-4.7 .5 4.7 .5-2.5 .5 1.9 .5-4.1 .5-.3 .5 1.4 .5-2.5 .5 3.2 .5-1.4 .5 1.6 .5 1.3 .5-.4 .5-1.9 .5 3 .5-2.8 .5 2.1 .5 1 .5-1.6 .5 2.8 .5-1 .5 0 .5-8.1 .5 8.2 .5-3.1 .5 4.2 .5-1 .5-4.2 .5 .4 .5-4.1 .5 5.2 .5-2.4 .5 1.3 .5 4.6 .5-2.5 .5-.2 .5-.4 .5 .7 .5-1.6 .5-2.7 .5 2.4 .5-2.4 .5 1.4 .5 1.3 .5 3.6 .5-2 .5 1.2 .5-3.4 .5 .8 .5-.5 .5 2.5 .5-3.7 .5 .3 .5 1 .5 2.3 .5-.9 .5 .4 .5-3.1 .5 3.6 .5-4.8 .5 1.8 .5 1.3 .5-1 .5 5.8 .5-4.8 .5 .8 .5-1 .5-.4 .5 5.3 .5-1.7 .5-3.6 .5 2.1 .5-.8 .5-.4 .5 2.5 .5 .9 .5-.3 .5-5.8 .5 .5 .5 1.3 .5 .4 .5 3.7 .5-1.1 .5-1.9 .5-2 .5-1 .5 4.7 .5-1 .5-.3 .5 5.1 .5-.9 .5-1 .5-.3 .5-4.3 .5 2 .5-2.9 .5 1.9 .5 .3 .5-3.7 .5 4.5 .5 1.2 .5-2.8 .5 2.5 .5 0 .5-1.1 .5-1.3 .5 2.1 .5 .3 .5 .4 .5-1.4 .5 1 .5-2.1 .5 .8 .5 3.4 .5-5.8 .5 2.1 .5 2.3 .5-1.6 .5-5.9 .5 6.4 .5 .9 .5-4.5 .5 3.4 .5-4.1 .5 4.4 .5-4.3 .5 2.8 .5-1.8 .5 .6 .5 2.8 .5-2 .5-.3 .5-1.6 .5 5.7 .5-5 .5-4 .5 6.6 .5-.1 .5-1.6 .5-.8 .5 5.1 .5-.9 .5-1.9 .5-2.1 .5-1.4 .5 2.9 .5-1.6 .5 .2 .5 .2 .5 1 .5-2.1 .5 2.8 .5 .8 .5 3.1 .5-6 .5-2.5 .5 4.7 .5-.6 .5 1.9 .5-2.4 .5-5.2 .5 5.1 .5-1 .5 1.2 .5-5 .5 6.7 .5-.7 .5-4.1 .5 2.7 .5 2.1 .5 .9 .5-2.8 .5 .7 .5 4.8 .5-3.1 .5-3.9 .5 3.2 .5-1.2 .5 1.1 .5 .1 .5-2.1 .5 .7 .5-1.8 .5-2.4 .5-.6 .5 4.5 .5-4.1 .5 7.3 .5-10.4 .5 5.4 .5 .4 .5-.2 .5 1.3 .5 .6 .5-3.5 .5 4 .5 2.9 .5-2.5 .5 1.6 .5-1.8 .5 2.4 .5-4.7 .5 6.2 .5-1.1 .5-6 .5 3.8 .5-4.6 .5 .2 .5 3.8 .5 3.8 .5-3.7 .5 3 .5-3.6 .5-3.3 .5 3 .5 2 .5-2.2 .5-.5 .5 1.3 .5-4 .5 0 .5 3.7 .5 0 .5-.6 .5-2.8 .5 1.6 .5 5.7 .5-5.9 .5 3.9 .5-2.3 .5 2.7 .5-1.4 .5-1.2 .5 1.1 .5-6.8 .5 5.3 .5 2 .5 1.4 .5-4.4 .5 3.6 .5-2 .5 1.4 .5-3.8 .5 2.5 .5 6.6 .5-10.2 .5 1.7 .5-.1 .5-3.4 .5 3.9 .5-1.7 .5 2.1 .5-4.6 .5 1.4 .5 6.8 .5 1.5 .5-7.3 .5 2.5 .5-.5 .5-.5 .5 4.8 .5-4.9 .5-3.7 .5 5.8 .5 2.9 .5-6 .5 6.4 .5-5.7 .5-.9 .5 .8 .5-.5 .5 1.7 .5 2.6 .5-.6 .5 2.6 .5-9 .5 5.9 .5 3.7 .5-3.2 .5-1.8 .5-3.1 .5 1.4 .5 .3 .5 1.9 .5-.5 .5 .7 .5-.6 .5-2.4 .5 .1 .5 2.3 .5 2.9 .5 .1 .5-4 .5 4.9 .5-3.6 .5-.3 .5-.2 .5-4.2 .5 7.8 .5 0 .5-3.4 .5-3 .5 5.9 .5-1.1 .5-1.9 .5 .1 .5 2.5 .5-3.6 .5-.4 .5 1.8 .5 .6 .5-4.6 .5 .7 .5 2.5 .5-1.9 .5 3.4 .5 3.1 .5-5.7 .5 2.2 .5-1.7 .5 6.4 .5-2.1 .5-1.8 .5-2.5 .5 2.8 .5 .1 .5-1.2 .5-1.9 .5 2.5 .5 2.8 .5-4.5 .5 3.6 .5-2.8 .5-.9 .5 .2 .5 .6 .5-.2 .5 2.7 .5 2.4 .5-4.9 .5 3.2 .5-3.8 .5 .7 .5 .3 .5-1.5 .5-1.5 .5 5.6 .5-9.4 .5 7 .5-1.5 .5-2.1 .5 3.7 .5-2.6 .5 1.2 .5-1 .5-1.1 .5 2 .5 .8 .5-.8 .5-4.7 .5 5.4 .5 .6 .5 5.3 .5-8.3 .5-2.7 .5 2.5 .5 2.8 .5 3.4 .5-5.1 .5-3 .5 5.4 .5-2.2 .5 6.6 .5-2.5 .5-4.8 .5 2.7 .5-4.6 .5 .5 .5 5.3 .5-1.6 .5 2.4 .5-5.6 .5 5.2 .5-.6 .5-2.2 .5-.5 .5 3 .5 1.9 .5-2.1 .5 .3 .5-3.6 .5 2.6 .5-1.3 .5 3 .5-1.7 .5-3 .5 .7 .5 3.6 .5-1.1 .5-.4 .5 1.4 .5-1 .5 2.6 .5-5 .5 .5 .5 2 .5-3.1 .5 2.4 .5 2.7 .5-1.9 .5-.3 .5 .4 .5-.8 .5-.3 .5 .9 .5-5.1 .5-5 .5 14.2 .5-9.1 .5-.6 .5 2.4 .5 1 .5-.1 .5-.8 .5-.2 .5 2.6 .5 .9 .5 .9 .5-3.4 .5 2.9 .5-3.4 .5 3.3 .5-3.6 .5 1.9 .5 .8 .5-3.3 .5 .8 .5-2.7 .5 7 .5-5 .5 .9 .5 3.1 .5-3.5 .5 2.2 .5 .4 .5-5.6 .5 3.7 .5-2.5 .5 4 .5 2.1 .5-.9 .5-3.5 .5 2.4 .5-2.1 .5-4 .5 6.1 .5-2.2 .5 1.6 .5-1.8 .5 .5 .5 3.2 .5-6.3 .5 4.8 .5 0 .5-4.8 .5 3.5 .5-3.1 .5 5.3 .5-3.1 .5-1.7 .5 1.5 .5 3.8 .5-4.8 .5 3 .5 4.9 .5-3.6 .5 1.3 .5-1.9 .5 2.2 .5-4.8 .5 4.8 .5-3.6 .5 4.4 .5-1 .5-.1 .5 1.1 .5-6.7 .5-.2 .5 2 .5 6.1 .5-6.5 .5-1.8 .5 5.1 .5 1.1 .5-1.1 .5 1 .5-2.7 .5 4.6 .5-6.3 .5-.3 .5 1.6 .5-.7 .5 2 .5-1.8 .5 .6 .5 1.7 .5-4.7 .5 .5 .5 3.9 .5-1.7 .5-.5 .5 3.5 .5-5.7 .5 .3 .5 9.2 .5-6.7 .5 2.7 .5-5.2 .5 4.3 .5-2.3 .5-2.1 .5 4.5 .5-4.7 .5 6.9 .5-1.6 .5-.8 .5-3.6 .5 2.9 .5-3.2 .5 .7 .5 3 .5 2.9 .5-2.5 .5-3.2 .5 1.2 .5 1.2 .5-.3 .5-.8 .5-.7 .5-4.2 .5 5.3 .5 .2 .5 2.2 .5 .9 .5-2.7 .5 1.5 .5-1.8 .5 4.1 .5-4 .5-.6 .5 2.5 .5-.4 .5 .5 .5-2.6 .5 3.5 .5-4.7 .5 2.5 .5 0 .5 .8 .5-2.4 .5 1.7 .5-1.5 .5 1.2 .5-3.1 .5 4.8 .5-2.2 .5-1.9 .5 2.5 .5 1 .5 2.1 .5-1.8 .5-2.9 .5 1.9 .5-.7 .5-4.3 .5 .2 .5 1.7 .5 4.8 .5-4.9 .5-2.9 .5 5.7 .5-3.6 .5 5.3 .5-.8 .5-3.7 .5 4.3 .5 1.1 .5-5.7 .5 3.1 .5-2 .5 0 .5 2.3 .5-1.3 .5 2.5 .5 3.9 .5-1.1 .5-4.2 .5-.6 .5 .5 .5 2.3 .5-1.5 .5 1.3 .5-.2 .5 1.2 .5 .6 .5-5.5 .5 1.8 .5 3.3 .5-5.4 .5 .6 .5 2.9 .5-1.4 .5-2.3 .5 .3 .5 2.7 .5 2.2 .5-3.4 .5 1.1 .5-1.6 .5 2.8 .5 2.2 .5-5 .5 6.5 .5-9.5 .5 8.1 .5-2.7 .5-1 .5 5.6 .5-5.3 .5 1.5 .5-1.2 .5-3.7 .5 3.3 .5-1.4 .5-5.9 .5 8.9 .5 .6 .5-1.4 .5-5.3 .5 2.4 .5 3.9 .5-1 .5-.1 .5-2.8 .5 1.9 .5-5.1 .5 2 .5-2.4 .5-1.5 .5-4.6 .5 4.1 .5 2.5 .5-5.8 .5-1.6 .5 3.7 .5-.9 .5 1.9 .5 0 .5-4.1 .5 6.7 .5-1.2 .5 1.8 .5 1.8 .5-1.2 .5 3 .5 .5 .5-.6 .5 5.2 .5-5.3 .5 1.6 .5 .8 .5 1.9 .5-1.5 .5 4.9 .5-2.1 .5-4.7 .5 4.2 .5-2.4 .5-2.4 .5-.2 .5-1.3 .5 2.6 .5 2.8 .5 1.3 .5-.9 .5-7.6 .5 6.1 .5 .9 .5-.6 .5-.2 .5-1.5 .5 0 .5 2.2 .5-5.5 .5 6.1 .5-.7 .5-1.9 .5-1.2 .5 2.1 .5 1.5 .5-2.6 .5-.5 .5 2.8 .5-1 .5-.2 .5-.8 .5-.9 .5 2.2 .5-4.7 .5-4.5 .5 9.7 .5 1.1 .5-5.6 .5 1.9 .5 1.4 .5 .3 .5-1.4 .5-1.7 .5 0 .5 3.1 .5-2.4 .5 1.2 .5-3.9 .5 2.2 .5-1 .5 .6 .5 2.4 .5-1.3 .5-.7 .5 .9 .5 1.1 .5-.7 .5 0 .5-2.2 .5 .8 .5 4.3 .5-.1 .5-.9 .5-3 .5 2 .5-1.7 .5-1.3 .5 3.6 .5 0 .5-.8 .5-2.3 .5 5.4 .5 2.5 .5-6.8 .5 3 .5 .7 .5-4.2 .5 2.1 .5-1.4 .5 2.5 .5-5.1 .5 4.6 .5-1.1 .5 .4 .5 2.7 .5-2.4 .5 1 .5-5.2 .5 3.1 .5-1.1 .5-1.5 .5 2.9 .5-1.1 .5 2.7 .5-1.4 .5-.5 .5 2.3 .5-3.1 .5 2.6 .5-1.6 .5-.2 .5-.7 .5 1.2 .5-2.7 .5 2.6 .5 .7 .5-1.4 .5-2.3 .5 2.2 .5 .5 .5-4.3 .5 10.5 .5-2.3 .5-1.7 .5 1.5 .5-.7 .5 0 .5-7.3 .5 4.1 .5 4.8 .5-6.1 .5-1.9 .5-.4 .5 1.8 .5 1.7 .5-.2 .5 .3 .5-1.3 .5 2.1 .5 .5 .5-2.3 .5 1.3 .5-1.1 .5 1.1 .5 3.1 .5-3.4 .5 1.7 .5-2.2 .5 1.4 .5 4 .5-.6 .5-5.9 .5 5.3 .5-3.9 .5 5.2 .5-6.6 .5 3 .5-1.9 .5-.5 .5 .8 .5-.1 .5-.8 .5-1 .5 3.5 .5 1 .5 .4 .5 .4 .5-1.8 .5-3.7 .5 1.2 .5 0 .5 3.9 .5-2.5 .5 .2 .5 .6 .5 1 .5 1.7 .5-4.6 .5 2.7 .5 .3 .5 1.9 .5-2 .5 1.4 .5-2 .5 3.9 .5-4.2 .5 1.3 .5 5 .5-6.6 .5 .7 .5 0 .5-2.1 .5-.8 .5 1.9 .5 1.9 .5 2 .5-1.7 .5-4.4 .5 0 .5 .5 .5 3.2 .5 2 .5-3.6 .5-.4 .5-.4 .5 1.8 .5-1 .5 1 .5-.1 .5 1.3 .5-1.7 .5-2.1 .5 1.4 .5 1.4 .5 2.3 .5-4.7 .5 4.5 .5-1.8 .5 .2 .5-.5 .5-2.1 .5-2.2 .5 2.1 .5 2.8 .5-2.2 .5 1.6 .5 .3 .5-.8 .5 .3 .5-2.9" fill="none" stroke="#FF0000" stroke-width="2.3" stroke-linejoin="round" shape-rendering="crispEdges"/>
<path d="M229.0 389.5l1-.3 1 1 1-.1 1 .8 1 .7 1 .8 1 2.8 1 1.9 1 2.5 1 1.1 1 1.8 1 1.6 1 .8 1 .1 1 .2 1 2 1 1.2 1 .7 1-1.5 1-.5 1-.8 1-.8 1-2 1-2 1-1.7 1-2.2 1-4 1-9.3 1-11.6 1-11.3 1-8.2 1-4.3 1-4 1-3 1-2.7 1-1.6 1-.1 1 1.9 1 2.9 1 4.2 1 4.1 1 5.7 1 4.4 1 7.3 1 6.3 1 3.4 1 2.5 1 2 1 1.7 1-.3 1-.5 1 .1 1-.8 1-2 1-2.6 1-2.5 1-.9 1-1.5 1-1.6 1-1.1 1-.6 1-.6 1 .3 1 .1 1 1.8 1 .7 1 .9 1-.7 1 .3 1 .4 1 .6 1-.6 1 0 1 0 1 .6 1-.4 1 1 1-.4 1 .2 1-.7 1 1.6 1 1.4 1 1.3 1 .3 1 2.2 1 2.6 1 4.3 1 4.2 1 4.8 1 2.3 1 2.8 1 2.1 1 2.4 1 .7 1-.3 1-1 1 0 1-.3 1-.9 1-1.7 1-1.5 1-2.7 1-4.3 1-6.3 1-4.5 1-2.2 1 2.6 1 5.8 1 7.9 1 6.7 1 3.9 1-.8 1-.5 1-1.7 1-1.5 1-2 1-2.5 1-3.1 1-3.2 1-3.6 1-3 1-3.1 1-3.1 1-.3 1-.4 1 0 1-.6 1 .3 1 .6 1-.8 1-1.9 1-3.8 1-3.3 1-5.2 1-3.9 1-2.3 1 .3 1 2.4 1 1.7 1 2.3 1 1.8 1 4.1 1 5 1 7.6 1 6.1 1 6.7 1 4.4 1 1.9 1-.8 1-1.8 1-1.1 1-1.6 1-1.3 1-4.3 1-5 1-5.5 1-2.8 1 .8 1 1.3 1 1.1 1 .6 1 1.5 1 .7 1-2 1-4.2 1-3.9 1-4.2 1-4.1 1-3.3 1-.5 1 3.2 1 5.7 1 6.7 1 6.3 1 4.6 1 2.5 1 1.5 1 1.2 1 .2 1 .6 1 .3 1 1.4 1 1.8 1 1.7 1 1.8 1 1.7 1 2.3 1 1 1 .7 1-.1 1-1.9 1-7.5 1-11.7 1-12.3 1-12.3 1-7.8 1-3.6 1 2.7 1 6.2 1 9.1 1 9.9 1 8.9 1 6.9 1 7.3 1 7.7 1 7.4 1 4.8 1 3.9 1 2.7 1 2.5 1 1.1 1 2.2 1 2.1 1 1.9 1 .2 1-.2 1-1.9 1-1.6 1-.3 1-.9 1-2.1 1-3.4 1-3.7 1-3.8 1-6.5 1-5.8 1-4.1 1-2.1 1 .4 1 .8 1 2.9 1 3.5 1 4.2 1 4 1 3.3 1 3.7 1 4 1 2.6 1 2.5 1-.1 1-1.5 1-4.1 1-3.8 1-3.3 1-3.4 1-2.7 1-2.7 1 .2 1 3.8 1 4.2 1 3.6 1 1.1 1 .4 1-.2 1 .2 1-1.3 1 .2 1-.2 1 1.2 1 .4 1 1.1 1 2.7 1 1.8 1 1.4 1-.4 1 1.2 1 .5 1 1.1 1-.3 1 .1 1 .7 1 1.3 1 1.1 1-.3 1 .4 1 .1 1 .3 1 .1 1-2.4 1-3.4 1-5.2 1-3.4 1-1.6 1-1.2 1-.6 1-.8 1-.5 1-.3 1-1.8 1-1 1-2.4 1-1.2 1-1.6 1-1.5 1-2.4 1-1.8 1-1.5 1-1.6 1-2.6 1-3.2 1-4.3 1-5.1 1-5.3 1-7.5 1-13.2 1-15.7 1-10.7 1-8.8 1-8.3 1-8.7 1-4.1 1-.3 1 2.7 1 2.4 1 3.8 1 6 1 6.3 1 5.5 1 6 1 6.3 1 6.8 1 6.6 1 8.8 1 13.5 1 16.5 1 16.2 1 11.7 1 5.7 1 4.3 1 3.5 1 2.7 1 1.3 1 1.7 1 1 1 1.1 1 1 1 .7 1 .1 1 .1 1-.1 1 .1 1 .1 1 .9 1 .9 1-.3 1-1.2 1-1.5 1-.9 1-.7 1-1.4 1-1.4 1-2.3 1-1.1 1-4.6 1-6.9 1-9.8 1-10.6 1-11.4 1-13 1-17.8 1-20.6 1-18.9 1-17.2 1-10.4 1-4 1 8.1 1 13.6 1 17 1 13.9 1 15.4 1 15.6 1 12.6 1 8 1-1.1 1-6.1 1-10.1 1-10.8 1-8.6 1-9.2 1-8.7 1-9.4 1-9 1-5.4 1-1 1 3.2 1 5.6 1 6.9 1 8.2 1 8 1 9.9 1 11.6 1 11 1 9 1 9.4 1 8.2 1 7.6 1 3.7 1 1 1-.6 1-.9 1-2.3 1-1.9 1-2 1-1.5 1-1.6 1-1 1 .2 1 2.6 1 4.4 1 4.4 1 5 1 2.5 1 3.1 1 1.3 1 2.1 1 1.5 1 .7 1-2.4 1-5.3 1-7.5 1-8.7 1-10 1-10.3 1-14.9 1-17.8 1-18 1-14.1 1-8.7 1-8.6 1-6.8 1-5.7 1-3.2 1 .4 1 8.2 1 14.2 1 15 1 14.7 1 11 1 12.4 1 11 1 10.1 1 6.3 1 3.2 1 2.8 1 2.7 1 2.3 1 2 1 1.4 1 1.1 1 0 1-1.3 1-3.6 1-5.1 1-6.7 1-7.1 1-7.7 1-6.2 1-5.8 1-3.2 1-2.7 1-.7 1 1 1 3.5 1 5.6 1 5.5 1 5.9 1 6.1 1 9 1 8 1 6.9 1 3.3 1 2.7 1 2.4 1 1.4 1 .7 1 1 1 1.6 1 3.6 1 1.9 1 2.5 1 2 1 1.1 1 .2 1 0 1-.8 1-1.5 1-1.7 1-1.3 1-.6 1-1.8 1-1.7 1-2.3 1-1.2 1-2.3 1-2.8 1-3.9 1-12 1-24.3 1-23.4 1-11.2 1-7.1 1-6 1-2.7 1 2.4 1 5 1 5.7 1 4.9 1 1.8 1-.4 1-1.9 1-2.3 1-.6 1-1.8 1-4.7 1-7.1 1-5.9 1-5.3 1-4 1-2.2 1 2.2 1 5.1 1 6.1 1 4.5 1 2 1-.5 1-.1 1-.9 1 .4 1 .6 1 5.4 1 7 1 9.6 1 7.6 1 10 1 10.8 1 6.3 1 .8 1-.3 1 .6 1-.7 1-.2 1 .1 1 .7 1 1.9 1 2.2 1 3.1 1 1.6 1 1.1 1 .8 1-1.7 1-3.3 1-3.6 1-1.9 1 .5 1 1 1 1.4 1 1.4 1 1.6 1 1.4 1-.5 1-3.8 1-4.9 1-4.1 1-2.9 1-1.2 1-.4 1 .1 1-1 1-1 1-.9 1 .5 1-2.1 1-3 1-3.3 1-4.8 1-6.2 1-7.6 1-6.5 1-5.8 1-1.9 1 1.8 1 4 1 5.2 1 5.7 1 4.4 1 2.7 1-.2 1-.7 1-2.1 1-2.8 1-4.2 1-5.7 1-8 1-7.4 1-5.8 1-1.7 1 2.9 1 5.5 1 6.9 1 7.2 1 7 1 8.2 1 6 1 2.2 1-1.9 1-3.9 1-3.7 1-2.3 1 .3 1-.3 1 1.5 1 .9 1 1.6 1 .8 1 2.2 1 1 1 .6 1 .4 1 2.2 1 2.5 1 2.9 1 4.1 1 7.4 1 8.4 1 8.6 1 5.5 1 1.6 1-.8 1-.7 1-3.1 1-2.8 1-3 1-3 1-3.8 1-6.1 1-5.9 1-5.3 1-2.8 1-3.6 1-3.8 1-4 1-1.8 1-1 1 0 1 .2 1 1.7 1 1.1 1 1.6 1-.9 1 .4 1-.8 1-.3 1-1.9 1-2.1 1-1 1-1.2 1-.8 1-1.4 1 .5 1 .3 1 .9 1 .6 1 1.5 1 1.3 1 0 1 1.5 1 1.7 1 2.5 1 2.2 1 1.3 1-1.6 1-6 1-7.1 1-7.3 1-4.4 1-1.8 1 3.4 1 4.4 1 5.5 1 4.6 1 1.1 1-.4 1-2 1-1.2 1-2.4 1-2.8 1-7.9 1-17.9 1-19.6 1-15 1-14.4 1-11.9 1-5.9 1 .7 1 .5 1 1.5 1 1 1 1.7 1 4.3 1 8.5 1 9.8 1 11.7 1 11.4 1 14.3 1 15 1 14.7 1 11.8 1 9.1 1 8.9 1 7.3 1 5.5 1 3.2 1 1.6 1 1.5 1 .9 1 1.3 1 1 1 .3 1 1.6 1 3.3 1 4.6 1 3.3 1 1.3 1-.2 1-.2 1-1.4 1-1.7 1-2.3 1-2.4 1-2.4 1-1 1 1.7 1 1.5 1 2.4 1 1.5 1 2 1 .2 1-2.3 1-3.5 1-4.3 1-3.5 1-3.1 1-2.7 1-.3 1-1.1 1 .4 1-1.8 1-.5 1-.7 1 .6 1 .3 1 .1 1-.2 1 1.1 1 1.5 1 2.3 1 1.3 1 1.4 1 1.1 1 1.9 1 1.7 1 1.7 1 1 1 .9 1-.6 1-1.4 1-3 1-4.2 1-3.9 1-3.9 1-1.3 1-.6 1-.7 1-.5 1-.7 1-1 1-.9 1-2.3 1-3.6 1-4.8 1-4.3 1-2.4 1-.1 1 .5 1 .2 1 .3 1 .2 1-.3 1-.6 1-1.3 1-1 1-1.5 1-1.2 1-1.2 1-.2 1 .5 1 2.2 1 2.7 1 3 1 3 1 2.6 1 3.7 1 4.2 1 4.9 1 4.3 1 4.1 1 2.5 1 .2 1-4.6 1-7.1 1-6.9 1-5.5 1-4.8 1-4.5 1-2.8 1 .7 1 1 1 1.5 1 .4 1 .7 1 1.6 1-.8 1-7.3 1-10.5 1-6.9 1 .4 1 2 1 2 1 2 1 2.5 1 4.4 1 7.7 1 10 1 9.4 1 8.5 1 6 1 3.4 1 0 1-.1 1-1.8 1-2.1 1-2.4 1-2 1-2.2 1-1.7 1-1.1 1-1.2 1-2.2 1-2.9 1-5.9 1-6.8 1-6.8 1-5.9 1-4.1 1 .8 1 5.5 1 8.7 1 7.4 1 6 1 3.4 1 3.8 1 3.1 1 2.2 1 .6 1-1.9 1-2.5 1-3.3 1-3.9 1-2.5 1-1 1 2.6 1 3.4 1 5.3 1 5.4 1 4.1 1 4.5 1 3.3 1 4.4 1 2.8 1 3.3 1 1.6 1 1.4 1 .5 1-.9 1-1.1 1-2.4 1-1.5 1-3.8 1-3.2 1-4 1-4.5 1-6.6 1-7.5 1-7.8 1-6.8 1-8.1 1-7.7 1-7.2 1-3.7 1-.4 1 2.1 1 3.4 1 3.8 1 3.7 1 5.3 1 6.9 1 7.6 1 5.2 1 3.5 1-1.4 1-6.8 1-11.6 1-11.2 1-9.3 1-4.4 1-1.4 1-1.1 1-1 1-.5 1-.1 1-.1 1-.4 1 .6 1 4.4 1 6.9 1 7.8 1 6 1 4.6 1 1.7 1-3.5 1-7.5 1-8.4 1-8.1 1-11.3 1-11.4 1-10.1 1-7.3 1-3.6 1 1.7 1 4.2 1 6.8 1 6.2 1 6.4 1 6.5 1 8.8 1 8.6 1 9.2 1 7.1 1 4.8 1 1.2 1-.3 1-1.7 1-2.6 1-3.8 1-16.7 1-25.6 1-19.3 1-11.4 1-3 1-4 1-1.9 1-1.5 1 3.2 1 4.9 1 5.2 1 3.3 1 1.3 1 2 1 1.9 1 2.7 1 2.3 1 5.4 1 8.1 1 6 1 2.4 1 .3 1 .4 1-1.3 1-2.8 1-2.6 1-2.5 1 .2 1 .7 1 3.3 1 3.6 1 6 1 6.8 1 7.3 1 4.8 1 1.7 1-1.4 1-1.7 1-3.3 1-2.9 1-2.6 1-.3 1 .9 1 1 1 1.5 1-.3 1 1.2 1 .3 1-.3 1-7.1 1-10.8 1-12.5 1-10.9 1-8.6 1-8.8 1-8.7 1-5 1 .3 1 4.5 1 6.3 1 6.5 1 6.6 1 8.6 1 10.5 1 9.8 1 4.5 1-.1 1-2 1-1.2 1-1.7 1-1.1 1 .2 1 .3 1-.3 1 .6 1 .8 1 1.2 1 3.7 1 5.8 1 4.2 1 .5 1-1.5 1-1.1 1-2.1 1-.1 1-1.8 1-1.1 1-1.7 1-.4 1 .3 1 4.2 1 7.3 1 6.5 1 4.8 1 4.7 1 4.4 1 4.1 1 1.8 1 1.9 1 .7 1 2.8 1 2.3 1 2.3 1 1.2 1-.2 1 .1 1-.9 1-2 1-2.4 1-2.8 1-.3 1-.5 1 .7 1 .1 1-.3 1-1 1 0 1 2.8 1 4 1 3.8 1 3.4 1 2.6 1 1.6 1 1.3 1 1.2 1 1 1 0 1-.4 1-.3 1-.7 1-.8 1-.9 1 .3 1-1.2 1-3.5 1-6.3 1-6.7 1-7 1-7.3 1-9.1 1-9.5 1-10 1-10.7 1-12.7 1-14 1-15 1-15.2 1-15.6 1-15.4 1-14.8 1-14 1-13.9 1-14.1 1-13.1 1-11.6 1-7.8 1-8.3 1-4.4 1-2.6 1 .6 1 1.9 1 4.7 1 6.4 1 5.5 1 4.1 1 4.9 1 5.2 1 7 1 6.9 1 8.8 1 10 1 11 1 12 1 12.9 1 15.7 1 17.2 1 16.1 1 11 1 10.3 1 8.2 1 7.1 1 2.6 1 .7 1-.5 1 .6 1-.8 1-1 1-.9 1 .4 1 1.1 1 2.7 1 2.6 1 3.1 1 6.9 1 11.7 1 12 1 8.4 1 7.2 1 5.8 1 5.1 1 5.2 1 5.1 1 6.1 1 4.4 1 5.4 1 4.9 1 4 1 3.5 1 3.2 1 3.5 1 2 1 1.2 1 1.1 1 2.3 1 .3 1 1.4 1 .6 1 .8 1 .6 1-.1 1 .3 1 .5 1 1.1 1 .7 1 0 1-.4 1 0 1 .4 1 .3 1 .9 1 .5 1 1.4 1 .8 1 .8 1 .6 1 .4 1 .4 1 .1 1 .5 1-.6 1-.5 1-.7 1-.4 1 0 1 0 1 1.6 1 .9 1 .7 1-.2 1 .7 1 .8 1 .6 1 .5 1 .6 1 .4 1 .3 1-.7 1 .1 1-.8 1 .1 1-.3 1 1.1 1 .2 1 .1 1-1.3 1 .9 1 .3 1 .9 1-.7 1-.6 1-.4 1 1 1 .7 1 1 1 .9 1 .3 1 1 1-.3 1 1 1 .7 1 .4 1 .7 1-1.1 1 1.4 1-.1 1 1.7 1-.6 1 1 1-1.7 1 .6 1 .2 1 1.8 1 .1 1-.6 1-1.1 1-.7 1-.6 1 .9 1 .3 1 1.5 1-.7 1 .1 1-.9 1 .8 1-.7 1 .1 1-.6 1 .9 1 0 1 0 1-.1 1-.5 1 .5 1 .1 1 1 1-.2 1-.3 1-.1 1 .2 1 .6 1 .9 1 1.6 1-.6 1-.6 1-1.3 1 .2 1 .2 1 .4 1-.4 1 .2 1 .1 1 1.3 1-.5 1-.6 1-1.1 1 .4 1 .5 1-.5 1-.1 1 .6 1 1.9 1-.7 1-.1 1-.8 1 1.2 1 .3 1 .6 1 .1 1 .6 1-.1 1 1 1-.3 1 .8 1-.9 1 .3 1-.3 1 .5 1 .3 1-.2 1 .7 1 .2 1-.1 1-.7 1-.7 1 .6 1 .3 1 .2 1-.1 1 0 1 .3 1 .2 1-.6 1 .2 1 .5 1 .6 1-.3 1-.3 1 .2 1 1.1 1 0 1 .2 1-.9 1-.1 1 .5 1 .2 1-.1 1-.5 1 1.2 1 .7 1 .2 1-.5 1 .5 1-.2 1-.3 1-.4 1 .3 1-.1 1-.2 1 .1 1 .1 1 .6 1 .2 1 1 1 0 1-.3 1-.2 1-.7 1 0 1 0 1 .2 1 .7 1-.1 1 .5 1-.1 1 .2 1 0 1-.6 1 .2 1 .2 1-.4 1-.4 1 .5 1 .9 1 .1 1-.9 1 .2 1 1.3 1 .8 1-.1 1-1 1 0 1-1.4 1-1.3 1-2.4 1-1.2 1-1.6 1-1.4 1-.6 1-1.5 1-1.2 1-1.9 1-1.5 1-.8 1-1.3 1-.9 1-2.6 1-2.7 1-3.2 1-1.8 1-1.3 1-1.7 1-1.9 1-1.9 1-1.3 1-1.7 1-1.9 1-1.2 1 .2 1 .2 1-.5 1-1.8 1-.2 1-.1 1 0 1-.6 1 1.4 1 2.3 1 3.5 1 3.1 1 5.4 1 6 1 5.4 1 2.7 1-3.3 1 2.3 1 4 1 4.6 1 4.8 1 2.9 1 1.1 1 .4 1 1.6 1 1 1 .5 1 .8 1 .6 1 1 1-.3 1 1.3 1 .3 1 .7 1-.3 1 .2 1 0 1 .5 1 .6 1-.1 1 .2 1-1.2 1 1 1 0 1 1.3 1-1.2 1-.6 1-.8 1 1 1 1.3 1-.1 1 .3 1-.7 1 .7 1-.9 1 .2 1-1 1 .7 1 .1 1 1.1 1 0 1 .2 1 .9 1 .5 1 .2 1 .3 1 .4 1-.4 1-.7 1-.3 1 .3 1 .4 1-.1 1 .1 1-.7 1 .1 1 1 1 .1 1 .1 1-.1 1 .6 1-.1 1 .1 1-.5 1 .9 1-.3 1 1.2 1-.5 1 .7 1-.5 1-.1 1-.6 1 .1 1-.1 1 .5 1 1.5 1 1.6 1 0 1-1.3 1-1.2 1 .5 1 .6 1 .3 1-.5 1 .3 1 0 1 .1 1-.6 1-.2 1-.2 1 1.2 1 .9 1 .5 1-.5 1-.2 1 1 1 .6 1 1.3 1-.3 1-.3 1-1.1 1 .6 1 .2 1-.6 1-.8 1 .2 1 1.3 1 0 1 .2 1 .1 1 .5 1 .2 1 .3 1 0 1-.9 1 0 1-.1 1 1.3 1 .5 1-.1 1-.2 1-.4 1 .6 1-.1 1 0 1 .4 1 .7 1 .4 1 .5 1 .5 1 .2 1-1.2 1-.9 1-.1 1 .5 1 .7 1 .3 1-.3 1-.8 1 .5 1 .6 1 1.4 1-1.2 1 .4 1-.2 1 2.1 1-.1 1 .2 1-.3 1-.8 1 .2 1-.1 1 1 1 .3 1-.1 1 .1 1-.3 1 .2 1 .2 1 .4 1-.9 1 0 1-.4 1 .8 1-.1 1 .2 1-.1 1 .6 1 .2 1 .4 1-.3 1 0 1-.1 1 .9 1 .3 1-.1 1-.3 1-.2 1 .5 1-.4 1 .1 1-.1 1 1.1 1 .2 1-.1 1-1.6 1 .5 1-.2 1 1.9 1 .1 1 1.7 1-.4 1-.2 1-.5 1-.3 1 .6 1-.1 1 .8 1-.6 1 .1 1-.5 1 .5 1-.2 1-.2 1 .3 1 .2 1 1.7 1-.3 1 .2 1-1.8 1 .6 1-.4 1 1.3 1-.6 1 1 1-.9 1 .9 1 .1 1 1.1 1 .4 1-.3 1 .2 1-.4 1 .5 1-.8 1 .9 1 .6 1 .6 1-.8 1-.3 1-1.1 1 .3 1-.8 1 1.8 1-.4 1 1.6 1-.8 1-.2 1-.1 1 .4 1 1.3 1-.4 1 .3 1-.3 1-.1 1-.4 1-.6 1 0 1 .7 1 .8 1 .6 1-.6 1 .5 1-.5 1 1.1 1-1.2 1 .1 1-1.1 1 .6 1-.5 1 .1 1 .2 1 .8 1 .1 1-.2 1 .1 1 .4 1 .4 1-.6 1 0 1-.4 1 .8 1 .2 1 0 1-.4 1 .1 1 .5 1 .5 1-.2 1-.5 1-.1 1 .1 1 .1 1 .1 1 .1 1 .6 1 .7 1 .7 1 .6 1-.4 1-.6 1-.5 1 .2 1-.4 1 .6 1 .5 1 .6 1-.5 1-1 1 .3 1-.2 1 .8 1-.2 1 .2 1-.1 1-.5 1 .5 1 0 1 .6 1-.2 1 .9 1 0 1 .4 1-1.2 1-.1 1-.4 1 1.2 1 1.8 1 .4 1-.7 1-1.9 1-.5 1 .8 1 .2 1 .6 1-.9 1 .6 1 0 1 .1 1-.1 1 .1 1 .4 1 1.5 1 .3 1 .6 1-2 1 .3 1 .2 1 .5 1-.6 1-.5 1 .3 1 .3 1 .4 1 .9 1 .4 1-.3 1-.3 1-.6 1 .3 1 .3 1 .7 1 .1 1-1.1 1-.8 1 .4 1 1 1 .5 1-.3 1-1.3 1 .3 1-.3 1 1.4 1 .1 1 .3 1-.9 1-.5 1-.1 1 .8 1 .3 1-.1 1 .1 1 .7 1 .2 1 0 1-.4 1 .7 1 .5 1-.1 1-.6 1-.3 1 .3 1 0 1-.3 1 0 1 .8 1-.1 1 .2 1-.3 1 .6 1-.3 1 .5 1-.5 1 0 1 .1 1 .2 1 1.2 1-.5 1 .7 1-1 1-.3 1-.7 1-.4 1 0 1 .4 1 .9 1-.1 1-.1 1 .2 1 .7 1-.3 1 .2 1 0 1 .6 1 .1 1 .5 1-.3 1-.6 1-.8 1 .4 1 .1 1 1.2 1 .2 1 .4 1-.8 1-.2 1-.4 1 .5 1 0 1 .2 1-.7 1 .3 1 .3 1 .5 1 0 1 .5 1-.4 1 .1 1-1.1 1-.1 1-.3 1 .4 1 .4 1 0 1 .6 1-.1 1 0 1 0 1 .1 1 0 1-.3 1 .4 1 .2 1-.3 1-.6 1 .3 1 .8 1 .4 1-.2 1-.8 1 .8 1 .6 1 .2 1-.5 1-.6 1-.1 1 .2 1 .2 1 .9 1-.3 1-.8 1 .1 1 .1 1 1.4 1-.7 1 0 1-.8 1 .5 1-.1 1 .3 1 .2 1-.1 1-.4 1 0 1 .2 1 0 1-.7 1 .1 1 .4 1 .1 1 .7 1-.7 1 .5 1-.8 1 .7 1 0 1 0 1 .1 1 .1 1-.1 1-.9 1 .4 1 1.5 1 1 1-.8 1-.7 1-.6 1 .8 1-.3 1 .1 1-.7 1 0 1 0 1 .1 1 .2 1 .7 1 .4 1-.8 1-.5 1 .2 1 1.2 1 .7 1-.5 1-.6 1-.3 1 .3 1 1.1 1-.2 1 .8 1-.7 1 .7 1-1.2 1 .1 1-.8 1 .2 1-.4 1 .1 1 .2 1-.3 1 .6 1 .3 1 .3 1-.3 1 .4 1 .1 1 .1 1-.6 1-.6 1-.5 1 .1 1 1 1 .2 1 .1 1-.1 1 .6 1-.6 1 .2 1 .1 1 0 1 .4 1-.2 1 .6 1-.4 1-.6 1 0 1 .3 1 .8 1 .3 1-.9 1-.7 1-.7 1 .3 1 0 1-.1 1-.2 1-.6 1-.8 1-.3 1-1 1 .2 1 0 1 2 1 1.7 1 2.2 1 .8 1-.3 1-1.2 1 .6 1 .4 1 .7 1-.9 1 0 1 0 1 .5 1-.4 1-1 1-.1 1 .5 1 .5 1 .1 1 .3 1 .4 1 .1 1-.5 1-.6 1 .2 1 .2 1 .3 1-.4 1-.3 1 0 1 .1 1 1 1 .4 1-.1 1 .1 1-.1 1 .3 1-.4 1 .5 1 0 1 .8 1-.8 1 .2 1-1 1 .2 1 0 1-.6 1 .3 1 .8 1 1.2 1 1.1 1-.3 1-.6 1-.8 1-.4 1 .2 1 .4 1 .2 1 0 1 0 1 0 1-.1 1-1.5 1 0 1 .5 1 1 1-.3 1 0 1-.1 1 1 1-.3 1 .2 1-.2 1-.2 1-.1 1-.6 1 .2 1 .5 1 .4 1-.6 1-.2 1 .1 1 .6 1-.4 1 .4 1 0 1 .1 1-.3 1 1 1-.3 1-.3 1-.7 1 .6 1 .4 1 .3 1 .4 1 .5 1-.4 1-.6 1-.2 1 .1 1 .4 1-.7 1-.4 1 0 1 0 1 .5 1 .4 1 .1 1-.6 1-.4 1-.3 1-.5 1-.1 1 .6 1 1.5 1 .4 1 .2 1 0 1-.5 1 0" fill="none" stroke="#000000" stroke-width="7.0" stroke-linejoin="round" shape-rendering="crispEdges"/>
<rect x="229" y="16.4" width="2134" height="1580.6" fill="none" stroke="#000" stroke-width="6.2"/>
<path d="M279.0,1597V1629.2 M380.6,1597V1613.4 M482.3,1597V1629.2 M584.0,1597V1613.4 M685.6,1597V1629.2 M787.2,1597V1613.4 M888.9,1597V1629.2 M990.5,1597V1613.4 M1092.2,1597V1629.2 M1193.8,1597V1613.4 M1295.5,1597V1629.2 M1397.1,1597V1613.4 M1498.8,1597V1629.2 M1600.5,1597V1613.4 M1702.1,1597V1629.2 M1803.8,1597V1613.4 M1905.4,1597V1629.2 M2007.0,1597V1613.4 M2108.7,1597V1629.2 M2210.3,1597V1613.4 M2312.0,1597V1629.2" stroke="#000" stroke-width="5.5" stroke-linecap="round" fill="none"/>
<text transform="translate(548.72,292.60) rotate(-90)" font-size="42.5">658</text>
<text transform="translate(601.62,282.35) rotate(-90)" font-size="42.5">728</text>
<text transform="translate(636.62,300.64) rotate(-90)" font-size="42.5">749</text>
<text transform="translate(681.56,286.69) rotate(-90)" font-size="42.5">775</text>
<text transform="translate(764.02,290.89) rotate(-90)" font-size="42.5">862</text>
<text transform="translate(938.57,244.33) rotate(-90)" font-size="42.5">1035</text>
<text transform="translate(1039.82,349.69) rotate(-90)" font-size="42.5">1129</text>
<text transform="translate(1137.12,341.78) rotate(-90)" font-size="42.5">1255</text>
<text transform="translate(1170.02,291.98) rotate(-90)" font-size="42.5">1273</text>
<text transform="translate(1205.42,266.43) rotate(-90)" font-size="42.5">1296</text>
<text transform="translate(1253.72,266.43) rotate(-90)" font-size="42.5">1346</text>
<text transform="translate(1286.32,301.33) rotate(-90)" font-size="42.5">1362</text>
<text transform="translate(1351.67,110.25) rotate(-90) scale(0.8944,0.9658)" font-size="42.5">1448</text>
<text transform="translate(1659.77,413.73) rotate(-90)" font-size="42.5">1743</text>
<text transform="translate(549.47,1024.30) rotate(-90)" font-size="42.5">654</text>
<text transform="translate(618.87,929.30) rotate(-90)" font-size="42.5">719</text>
<text transform="translate(646.37,1032.30) rotate(-90)" font-size="42.5">743</text>
<text transform="translate(673.97,806.80) rotate(-90)" font-size="42.5">773</text>
<text transform="translate(759.47,896.50) rotate(-90)" font-size="42.5">859</text>
<text transform="translate(939.32,989.78) rotate(-90)" font-size="42.5">1034</text>
<text transform="translate(1039.12,1131.89) rotate(-90)" font-size="42.5">1131</text>
<text transform="translate(1147.17,1001.98) rotate(-90)" font-size="42.5">1243</text>
<text transform="translate(1192.62,931.58) rotate(-90)" font-size="42.5">1284</text>
<text transform="translate(1267.62,873.53) rotate(-90)" font-size="42.5">1359</text>
<text transform="translate(1360.67,966.03) rotate(-90)" font-size="42.5">1449</text>
<text transform="translate(2285.17,503.96)" font-size="57">(a)</text>
<text transform="translate(2285.17,629.76)" font-size="57">(b)</text>
<text transform="translate(2285.27,770.26)" font-size="57">(c)</text>
<text transform="translate(2282.67,1163.26)" font-size="57">(d)</text>
<text transform="translate(2283.67,1254.26)" font-size="57">(e)</text>
<text transform="translate(2297.10,1376.26)" font-size="57">(f)</text>
<text transform="translate(2285.17,1453.23)" font-size="57">(g)</text>
<text transform="translate(2285.17,1545.76)" font-size="57">(h)</text>
<text transform="translate(278.46,1700.08) scale(0.9683,1.0378)" font-size="65" text-anchor="middle">400</text>
<text transform="translate(481.76,1700.08) scale(0.9683,1.0378)" font-size="65" text-anchor="middle">600</text>
<text transform="translate(685.06,1700.08) scale(0.9683,1.0378)" font-size="65" text-anchor="middle">800</text>
<text transform="translate(888.36,1700.08) scale(0.9683,1.0378)" font-size="65" text-anchor="middle">1000</text>
<text transform="translate(1091.66,1700.08) scale(0.9683,1.0378)" font-size="65" text-anchor="middle">1200</text>
<text transform="translate(1294.96,1700.08) scale(0.9683,1.0378)" font-size="65" text-anchor="middle">1400</text>
<text transform="translate(1498.26,1700.08) scale(0.9683,1.0378)" font-size="65" text-anchor="middle">1600</text>
<text transform="translate(1701.56,1700.08) scale(0.9683,1.0378)" font-size="65" text-anchor="middle">1800</text>
<text transform="translate(1904.86,1700.08) scale(0.9683,1.0378)" font-size="65" text-anchor="middle">2000</text>
<text transform="translate(2108.16,1700.08) scale(0.9683,1.0378)" font-size="65" text-anchor="middle">2200</text>
<text transform="translate(2311.46,1700.08) scale(0.9683,1.0378)" font-size="65" text-anchor="middle">2400</text>
<text transform="translate(81.95,1109.03) rotate(-90) scale(0.9953,0.9945)" font-size="78">Raman Intensity</text>
<text transform="translate(952.23,1841.90) scale(1.0083,0.9906)" font-size="78">Wavenumber / cm</text>
<text transform="translate(1584.79,1798.07) scale(0.9727,1.0897)" font-size="42.5">−1</text>
</svg></body></html>
